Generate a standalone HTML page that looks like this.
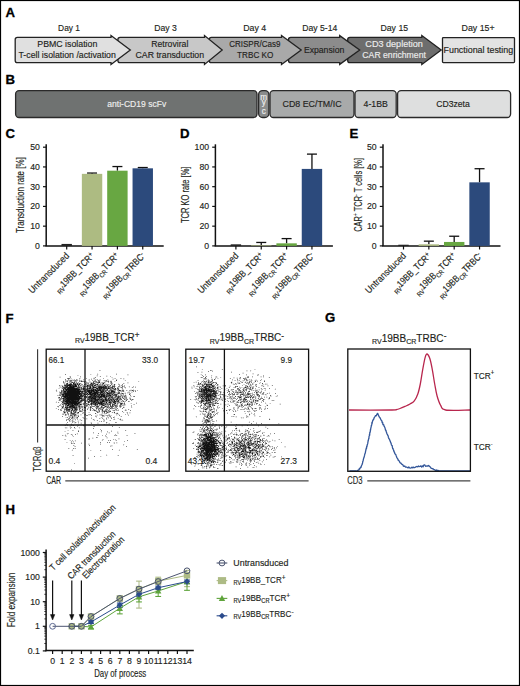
<!DOCTYPE html>
<html><head><meta charset="utf-8"><style>
html,body{margin:0;padding:0;background:#fff;}
svg{display:block;}
text{font-family:"Liberation Sans",sans-serif;}
</style></head><body>
<svg width="520" height="686" viewBox="0 0 520 686" font-family="Liberation Sans, sans-serif">
<rect width="520" height="686" fill="#fff"/>
<text x="5.6" y="17.0" font-size="13.2" font-weight="bold" fill="#000" stroke="#000" stroke-width="0.3">A</text>
<text transform="translate(0.00,30.70)" x="58.11" textLength="21.90" lengthAdjust="spacingAndGlyphs" text-anchor="start" fill="#231f20" font-weight="normal"  stroke="#231f20" stroke-width="0.15"><tspan font-size="8.8">Day 1</tspan></text>
<text transform="translate(0.00,30.70)" x="154.29" textLength="22.59" lengthAdjust="spacingAndGlyphs" text-anchor="start" fill="#231f20" font-weight="normal"  stroke="#231f20" stroke-width="0.15"><tspan font-size="8.8">Day 3</tspan></text>
<text transform="translate(0.00,30.70)" x="243.18" textLength="23.08" lengthAdjust="spacingAndGlyphs" text-anchor="start" fill="#231f20" font-weight="normal"  stroke="#231f20" stroke-width="0.15"><tspan font-size="8.8">Day 4</tspan></text>
<text transform="translate(0.00,30.70)" x="302.29" textLength="34.96" lengthAdjust="spacingAndGlyphs" text-anchor="start" fill="#231f20" font-weight="normal"  stroke="#231f20" stroke-width="0.15"><tspan font-size="8.8">Day 5-14</tspan></text>
<text transform="translate(0.00,30.70)" x="380.49" textLength="27.58" lengthAdjust="spacingAndGlyphs" text-anchor="start" fill="#231f20" font-weight="normal"  stroke="#231f20" stroke-width="0.15"><tspan font-size="8.8">Day 15</tspan></text>
<text transform="translate(0.00,30.70)" x="461.58" textLength="33.06" lengthAdjust="spacingAndGlyphs" text-anchor="start" fill="#231f20" font-weight="normal"  stroke="#231f20" stroke-width="0.15"><tspan font-size="8.8">Day 15+</tspan></text>
<rect x="442.5" y="37.6" width="72.0" height="25.0" fill="#e3e3e3" stroke="#222" stroke-width="1.3" rx="0.8"/>
<path d="M349.9,37.4 L421.8,37.4 L421.8,35.6 L441.2,50.0 L421.8,64.4 L421.8,62.7 L349.9,62.7 Q347.7,62.7 347.7,60.5 L347.7,39.6 Q347.7,37.4 349.9,37.4 Z" fill="#6d6d6d" stroke="#222" stroke-width="1.3" stroke-linejoin="miter"/>
<path d="M290.7,37.4 L339.7,37.4 L339.7,35.6 L359.7,50.0 L339.7,64.4 L339.7,62.7 L290.7,62.7 Q288.5,62.7 288.5,60.5 L288.5,39.6 Q288.5,37.4 290.7,37.4 Z" fill="#8c8c8c" stroke="#222" stroke-width="1.3" stroke-linejoin="miter"/>
<path d="M211.39999999999998,37.4 L281.5,37.4 L281.5,35.6 L301.2,50.0 L281.5,64.4 L281.5,62.7 L211.39999999999998,62.7 Q209.2,62.7 209.2,60.5 L209.2,39.6 Q209.2,37.4 211.39999999999998,37.4 Z" fill="#a9a9a9" stroke="#222" stroke-width="1.3" stroke-linejoin="miter"/>
<path d="M120.10000000000001,37.4 L204.5,37.4 L204.5,35.6 L222.2,50.0 L204.5,64.4 L204.5,62.7 L120.10000000000001,62.7 Q117.9,62.7 117.9,60.5 L117.9,39.6 Q117.9,37.4 120.10000000000001,37.4 Z" fill="#c8c8c8" stroke="#222" stroke-width="1.3" stroke-linejoin="miter"/>
<path d="M17.4,37.4 L111.0,37.4 L111.0,35.6 L130.3,50.0 L111.0,64.4 L111.0,62.7 L17.4,62.7 Q15.2,62.7 15.2,60.5 L15.2,39.6 Q15.2,37.4 17.4,37.4 Z" fill="#e0e0e0" stroke="#222" stroke-width="1.3" stroke-linejoin="miter"/>
<text transform="translate(0.00,47.40)" x="37.28" textLength="60.09" lengthAdjust="spacingAndGlyphs" text-anchor="start" fill="#231f20" font-weight="normal"  stroke="#231f20" stroke-width="0.15"><tspan font-size="8.8">PBMC isolation</tspan></text>
<text transform="translate(0.00,57.50)" x="18.50" textLength="97.36" lengthAdjust="spacingAndGlyphs" text-anchor="start" fill="#231f20" font-weight="normal"  stroke="#231f20" stroke-width="0.15"><tspan font-size="8.8">T-cell isolation /activation</tspan></text>
<text transform="translate(0.00,47.40)" x="151.19" textLength="37.19" lengthAdjust="spacingAndGlyphs" text-anchor="start" fill="#231f20" font-weight="normal"  stroke="#231f20" stroke-width="0.15"><tspan font-size="8.8">Retroviral</tspan></text>
<text transform="translate(0.00,57.50)" x="135.56" textLength="68.51" lengthAdjust="spacingAndGlyphs" text-anchor="start" fill="#231f20" font-weight="normal"  stroke="#231f20" stroke-width="0.15"><tspan font-size="8.8">CAR transduction</tspan></text>
<text transform="translate(0.00,47.40)" x="229.19" textLength="51.19" lengthAdjust="spacingAndGlyphs" text-anchor="start" fill="#231f20" font-weight="normal"  stroke="#231f20" stroke-width="0.15"><tspan font-size="8.8">CRISPR/Cas9</tspan></text>
<text transform="translate(0.00,57.50)" x="237.12" textLength="36.27" lengthAdjust="spacingAndGlyphs" text-anchor="start" fill="#231f20" font-weight="normal"  stroke="#231f20" stroke-width="0.15"><tspan font-size="8.8">TRBC KO</tspan></text>
<text transform="translate(0.00,52.80)" x="303.89" textLength="40.47" lengthAdjust="spacingAndGlyphs" text-anchor="start" fill="#231f20" font-weight="normal"  stroke="#231f20" stroke-width="0.15"><tspan font-size="8.8">Expansion</tspan></text>
<text transform="translate(0.00,47.40)" x="365.34" textLength="57.55" lengthAdjust="spacingAndGlyphs" text-anchor="start" fill="#ececec" font-weight="normal"  stroke="#ececec" stroke-width="0.15"><tspan font-size="8.8">CD3 depletion</tspan></text>
<text transform="translate(0.00,57.50)" x="362.36" textLength="63.50" lengthAdjust="spacingAndGlyphs" text-anchor="start" fill="#ececec" font-weight="normal"  stroke="#ececec" stroke-width="0.15"><tspan font-size="8.8">CAR enrichment</tspan></text>
<text transform="translate(0.00,52.80)" x="443.57" textLength="69.60" lengthAdjust="spacingAndGlyphs" text-anchor="start" fill="#231f20" font-weight="normal"  stroke="#231f20" stroke-width="0.15"><tspan font-size="8.8">Functional testing</tspan></text>
<text x="5.6" y="84.1" font-size="13.2" font-weight="bold" fill="#000" stroke="#000" stroke-width="0.3">B</text>
<rect x="15.6" y="90.6" width="241.4" height="26.900000000000006" rx="3.5" fill="#6f7271" stroke="#2a2a2a" stroke-width="1.3"/>
<rect x="258.6" y="90.6" width="10.299999999999955" height="26.900000000000006" rx="4" fill="#8a8c8c" stroke="#2a2a2a" stroke-width="1.3"/>
<rect x="270.0" y="90.6" width="84.0" height="26.900000000000006" rx="3.5" fill="#a8aaaa" stroke="#2a2a2a" stroke-width="1.3"/>
<rect x="355.0" y="90.6" width="41.19999999999999" height="26.900000000000006" rx="3.5" fill="#c6c8c8" stroke="#2a2a2a" stroke-width="1.3"/>
<rect x="397.6" y="90.6" width="113.0" height="26.900000000000006" rx="3.5" fill="#dedfdf" stroke="#2a2a2a" stroke-width="1.3"/>
<text transform="translate(0.00,107.30)" x="107.34" textLength="58.89" lengthAdjust="spacingAndGlyphs" text-anchor="start" fill="#eeeeee" font-weight="normal"  stroke="#eeeeee" stroke-width="0.15"><tspan font-size="8.8">anti-CD19 scFv</tspan></text>
<text transform="translate(0.00,106.70)" x="282.55" textLength="58.99" lengthAdjust="spacingAndGlyphs" text-anchor="start" fill="#231f20" font-weight="normal"  stroke="#231f20" stroke-width="0.15"><tspan font-size="8.8">CD8 EC/TM/IC</tspan></text>
<text transform="translate(0.00,106.70)" x="363.60" textLength="24.26" lengthAdjust="spacingAndGlyphs" text-anchor="start" fill="#231f20" font-weight="normal"  stroke="#231f20" stroke-width="0.15"><tspan font-size="8.8">4-1BB</tspan></text>
<text transform="translate(0.00,106.80)" x="436.16" textLength="33.64" lengthAdjust="spacingAndGlyphs" text-anchor="start" fill="#231f20" font-weight="normal"  stroke="#231f20" stroke-width="0.15"><tspan font-size="8.8">CD3zeta</tspan></text>
<text x="263.7" y="99.8" font-size="8.2" fill="#f0f0f0" text-anchor="middle" stroke="#f0f0f0" stroke-width="0.15">m</text>
<text x="263.7" y="105.3" font-size="8.2" fill="#f0f0f0" text-anchor="middle" stroke="#f0f0f0" stroke-width="0.15">y</text>
<text x="263.7" y="113.8" font-size="8.2" fill="#f0f0f0" text-anchor="middle" stroke="#f0f0f0" stroke-width="0.15">c</text>
<text x="5.6" y="137.8" font-size="13.2" font-weight="bold" fill="#000" stroke="#000" stroke-width="0.3">C</text>
<line x1="46.2" y1="144.3" x2="46.2" y2="245.9" stroke="#111" stroke-width="1.5"/>
<line x1="45.45" y1="245.9" x2="163.7" y2="245.9" stroke="#111" stroke-width="1.5"/>
<line x1="43.0" y1="245.90" x2="46.2" y2="245.90" stroke="#111" stroke-width="1.2"/>
<text x="39.90" y="248.95" font-size="8.7" fill="#231f20" text-anchor="end" stroke="#231f20" stroke-width="0.15">0</text>
<line x1="43.0" y1="226.16" x2="46.2" y2="226.16" stroke="#111" stroke-width="1.2"/>
<text x="39.90" y="229.21" font-size="8.7" fill="#231f20" text-anchor="end" stroke="#231f20" stroke-width="0.15">10</text>
<line x1="43.0" y1="206.42" x2="46.2" y2="206.42" stroke="#111" stroke-width="1.2"/>
<text x="39.90" y="209.47" font-size="8.7" fill="#231f20" text-anchor="end" stroke="#231f20" stroke-width="0.15">20</text>
<line x1="43.0" y1="186.68" x2="46.2" y2="186.68" stroke="#111" stroke-width="1.2"/>
<text x="39.90" y="189.73" font-size="8.7" fill="#231f20" text-anchor="end" stroke="#231f20" stroke-width="0.15">30</text>
<line x1="43.0" y1="166.94" x2="46.2" y2="166.94" stroke="#111" stroke-width="1.2"/>
<text x="39.90" y="169.99" font-size="8.7" fill="#231f20" text-anchor="end" stroke="#231f20" stroke-width="0.15">40</text>
<line x1="43.0" y1="147.20" x2="46.2" y2="147.20" stroke="#111" stroke-width="1.2"/>
<text x="39.90" y="150.25" font-size="8.7" fill="#231f20" text-anchor="end" stroke="#231f20" stroke-width="0.15">50</text>
<rect x="61.50" y="243.93" width="10.4" height="1.97" fill="#222"/>
<line x1="66.70" y1="245.9" x2="66.70" y2="249.5" stroke="#111" stroke-width="1.2"/>
<line x1="92.05" y1="173.85" x2="92.05" y2="173.06" stroke="#111" stroke-width="1.3"/>
<line x1="87.05" y1="173.06" x2="97.05" y2="173.06" stroke="#111" stroke-width="1.3"/>
<rect x="81.85" y="173.85" width="20.4" height="72.05" fill="#adbb82"/>
<line x1="92.05" y1="245.9" x2="92.05" y2="249.5" stroke="#111" stroke-width="1.2"/>
<line x1="117.40" y1="170.69" x2="117.40" y2="166.55" stroke="#111" stroke-width="1.3"/>
<line x1="112.40" y1="166.55" x2="122.40" y2="166.55" stroke="#111" stroke-width="1.3"/>
<rect x="107.20" y="170.69" width="20.4" height="75.21" fill="#68a742"/>
<line x1="117.40" y1="245.9" x2="117.40" y2="249.5" stroke="#111" stroke-width="1.2"/>
<line x1="142.75" y1="168.32" x2="142.75" y2="167.53" stroke="#111" stroke-width="1.3"/>
<line x1="137.75" y1="167.53" x2="147.75" y2="167.53" stroke="#111" stroke-width="1.3"/>
<rect x="132.55" y="168.32" width="20.4" height="77.58" fill="#2c4a7c"/>
<line x1="142.75" y1="245.9" x2="142.75" y2="249.5" stroke="#111" stroke-width="1.2"/>
<text transform="translate(69.80,256.50) rotate(-45)" textLength="53.14" lengthAdjust="spacingAndGlyphs" text-anchor="end" fill="#231f20" font-weight="normal"  stroke="#231f20" stroke-width="0.15"><tspan font-size="9.6">Untransduced</tspan></text>
<text transform="translate(95.05,256.50) rotate(-45)" textLength="51.68" lengthAdjust="spacingAndGlyphs" text-anchor="end" fill="#231f20" font-weight="normal"  stroke="#231f20" stroke-width="0.15"><tspan font-size="6.72" dy="2.59">RV</tspan><tspan font-size="9.6" dy="-2.59">19BB_TCR</tspan><tspan font-size="7.871999999999999" dy="-2.69">+</tspan></text>
<text transform="translate(119.90,256.50) rotate(-45)" textLength="54.95" lengthAdjust="spacingAndGlyphs" text-anchor="end" fill="#231f20" font-weight="normal"  stroke="#231f20" stroke-width="0.15"><tspan font-size="6.72" dy="2.59">RV</tspan><tspan font-size="9.6" dy="-2.59">19BB</tspan><tspan font-size="6.72" dy="2.59">CR</tspan><tspan font-size="9.6" dy="-2.59">TCR</tspan><tspan font-size="7.871999999999999" dy="-2.69">+</tspan></text>
<text transform="translate(145.95,256.50) rotate(-45)" textLength="58.88" lengthAdjust="spacingAndGlyphs" text-anchor="end" fill="#231f20" font-weight="normal"  stroke="#231f20" stroke-width="0.15"><tspan font-size="6.72" dy="2.59">RV</tspan><tspan font-size="9.6" dy="-2.59">19BB</tspan><tspan font-size="6.72" dy="2.59">CR</tspan><tspan font-size="9.6" dy="-2.59">TRBC</tspan><tspan font-size="7.871999999999999" dy="-2.69">-</tspan></text>
<text transform="translate(24.30,0.00) rotate(-90)" x="-233.08" textLength="75.85" lengthAdjust="spacingAndGlyphs" text-anchor="start" fill="#231f20" font-weight="normal"  stroke="#231f20" stroke-width="0.15"><tspan font-size="10.2">Transduction rate [%]</tspan></text>
<text x="180.0" y="137.8" font-size="13.2" font-weight="bold" fill="#000" stroke="#000" stroke-width="0.3">D</text>
<line x1="215.4" y1="144.3" x2="215.4" y2="245.9" stroke="#111" stroke-width="1.5"/>
<line x1="214.65" y1="245.9" x2="332.9" y2="245.9" stroke="#111" stroke-width="1.5"/>
<line x1="212.20000000000002" y1="245.90" x2="215.4" y2="245.90" stroke="#111" stroke-width="1.2"/>
<text x="209.10" y="248.95" font-size="8.7" fill="#231f20" text-anchor="end" stroke="#231f20" stroke-width="0.15">0</text>
<line x1="212.20000000000002" y1="226.16" x2="215.4" y2="226.16" stroke="#111" stroke-width="1.2"/>
<text x="209.10" y="229.21" font-size="8.7" fill="#231f20" text-anchor="end" stroke="#231f20" stroke-width="0.15">20</text>
<line x1="212.20000000000002" y1="206.42" x2="215.4" y2="206.42" stroke="#111" stroke-width="1.2"/>
<text x="209.10" y="209.47" font-size="8.7" fill="#231f20" text-anchor="end" stroke="#231f20" stroke-width="0.15">40</text>
<line x1="212.20000000000002" y1="186.68" x2="215.4" y2="186.68" stroke="#111" stroke-width="1.2"/>
<text x="209.10" y="189.73" font-size="8.7" fill="#231f20" text-anchor="end" stroke="#231f20" stroke-width="0.15">60</text>
<line x1="212.20000000000002" y1="166.94" x2="215.4" y2="166.94" stroke="#111" stroke-width="1.2"/>
<text x="209.10" y="169.99" font-size="8.7" fill="#231f20" text-anchor="end" stroke="#231f20" stroke-width="0.15">80</text>
<line x1="212.20000000000002" y1="147.20" x2="215.4" y2="147.20" stroke="#111" stroke-width="1.2"/>
<text x="209.10" y="150.25" font-size="8.7" fill="#231f20" text-anchor="end" stroke="#231f20" stroke-width="0.15">100</text>
<rect x="230.70" y="244.32" width="10.4" height="1.58" fill="#222"/>
<line x1="235.90" y1="245.9" x2="235.90" y2="249.5" stroke="#111" stroke-width="1.2"/>
<line x1="261.25" y1="245.31" x2="261.25" y2="242.45" stroke="#111" stroke-width="1.3"/>
<line x1="256.25" y1="242.45" x2="266.25" y2="242.45" stroke="#111" stroke-width="1.3"/>
<rect x="251.05" y="245.31" width="20.4" height="0.59" fill="#adbb82"/>
<line x1="261.25" y1="245.9" x2="261.25" y2="249.5" stroke="#111" stroke-width="1.2"/>
<line x1="286.60" y1="243.33" x2="286.60" y2="238.60" stroke="#111" stroke-width="1.3"/>
<line x1="281.60" y1="238.60" x2="291.60" y2="238.60" stroke="#111" stroke-width="1.3"/>
<rect x="276.40" y="243.33" width="20.4" height="2.57" fill="#68a742"/>
<line x1="286.60" y1="245.9" x2="286.60" y2="249.5" stroke="#111" stroke-width="1.2"/>
<line x1="311.95" y1="168.91" x2="311.95" y2="154.11" stroke="#111" stroke-width="1.3"/>
<line x1="306.95" y1="154.11" x2="316.95" y2="154.11" stroke="#111" stroke-width="1.3"/>
<rect x="301.75" y="168.91" width="20.4" height="76.99" fill="#2c4a7c"/>
<line x1="311.95" y1="245.9" x2="311.95" y2="249.5" stroke="#111" stroke-width="1.2"/>
<text transform="translate(239.00,256.50) rotate(-45)" textLength="53.14" lengthAdjust="spacingAndGlyphs" text-anchor="end" fill="#231f20" font-weight="normal"  stroke="#231f20" stroke-width="0.15"><tspan font-size="9.6">Untransduced</tspan></text>
<text transform="translate(264.25,256.50) rotate(-45)" textLength="51.68" lengthAdjust="spacingAndGlyphs" text-anchor="end" fill="#231f20" font-weight="normal"  stroke="#231f20" stroke-width="0.15"><tspan font-size="6.72" dy="2.59">RV</tspan><tspan font-size="9.6" dy="-2.59">19BB_TCR</tspan><tspan font-size="7.871999999999999" dy="-2.69">+</tspan></text>
<text transform="translate(289.10,256.50) rotate(-45)" textLength="54.95" lengthAdjust="spacingAndGlyphs" text-anchor="end" fill="#231f20" font-weight="normal"  stroke="#231f20" stroke-width="0.15"><tspan font-size="6.72" dy="2.59">RV</tspan><tspan font-size="9.6" dy="-2.59">19BB</tspan><tspan font-size="6.72" dy="2.59">CR</tspan><tspan font-size="9.6" dy="-2.59">TCR</tspan><tspan font-size="7.871999999999999" dy="-2.69">+</tspan></text>
<text transform="translate(315.15,256.50) rotate(-45)" textLength="58.88" lengthAdjust="spacingAndGlyphs" text-anchor="end" fill="#231f20" font-weight="normal"  stroke="#231f20" stroke-width="0.15"><tspan font-size="6.72" dy="2.59">RV</tspan><tspan font-size="9.6" dy="-2.59">19BB</tspan><tspan font-size="6.72" dy="2.59">CR</tspan><tspan font-size="9.6" dy="-2.59">TRBC</tspan><tspan font-size="7.871999999999999" dy="-2.69">-</tspan></text>
<text transform="translate(188.80,0.00) rotate(-90)" x="-222.97" textLength="56.40" lengthAdjust="spacingAndGlyphs" text-anchor="start" fill="#231f20" font-weight="normal"  stroke="#231f20" stroke-width="0.15"><tspan font-size="10.2">TCR KO rate [%]</tspan></text>
<text x="349.4" y="137.8" font-size="13.2" font-weight="bold" fill="#000" stroke="#000" stroke-width="0.3">E</text>
<line x1="383.0" y1="144.3" x2="383.0" y2="245.9" stroke="#111" stroke-width="1.5"/>
<line x1="382.25" y1="245.9" x2="500.5" y2="245.9" stroke="#111" stroke-width="1.5"/>
<line x1="379.8" y1="245.90" x2="383.0" y2="245.90" stroke="#111" stroke-width="1.2"/>
<text x="376.70" y="248.95" font-size="8.7" fill="#231f20" text-anchor="end" stroke="#231f20" stroke-width="0.15">0</text>
<line x1="379.8" y1="226.16" x2="383.0" y2="226.16" stroke="#111" stroke-width="1.2"/>
<text x="376.70" y="229.21" font-size="8.7" fill="#231f20" text-anchor="end" stroke="#231f20" stroke-width="0.15">10</text>
<line x1="379.8" y1="206.42" x2="383.0" y2="206.42" stroke="#111" stroke-width="1.2"/>
<text x="376.70" y="209.47" font-size="8.7" fill="#231f20" text-anchor="end" stroke="#231f20" stroke-width="0.15">20</text>
<line x1="379.8" y1="186.68" x2="383.0" y2="186.68" stroke="#111" stroke-width="1.2"/>
<text x="376.70" y="189.73" font-size="8.7" fill="#231f20" text-anchor="end" stroke="#231f20" stroke-width="0.15">30</text>
<line x1="379.8" y1="166.94" x2="383.0" y2="166.94" stroke="#111" stroke-width="1.2"/>
<text x="376.70" y="169.99" font-size="8.7" fill="#231f20" text-anchor="end" stroke="#231f20" stroke-width="0.15">40</text>
<line x1="379.8" y1="147.20" x2="383.0" y2="147.20" stroke="#111" stroke-width="1.2"/>
<text x="376.70" y="150.25" font-size="8.7" fill="#231f20" text-anchor="end" stroke="#231f20" stroke-width="0.15">50</text>
<rect x="398.30" y="244.72" width="10.4" height="1.18" fill="#222"/>
<line x1="403.50" y1="245.9" x2="403.50" y2="249.5" stroke="#111" stroke-width="1.2"/>
<line x1="428.85" y1="244.32" x2="428.85" y2="241.16" stroke="#111" stroke-width="1.3"/>
<line x1="423.85" y1="241.16" x2="433.85" y2="241.16" stroke="#111" stroke-width="1.3"/>
<rect x="418.65" y="244.32" width="20.4" height="1.58" fill="#adbb82"/>
<line x1="428.85" y1="245.9" x2="428.85" y2="249.5" stroke="#111" stroke-width="1.2"/>
<line x1="454.20" y1="241.95" x2="454.20" y2="236.23" stroke="#111" stroke-width="1.3"/>
<line x1="449.20" y1="236.23" x2="459.20" y2="236.23" stroke="#111" stroke-width="1.3"/>
<rect x="444.00" y="241.95" width="20.4" height="3.95" fill="#68a742"/>
<line x1="454.20" y1="245.9" x2="454.20" y2="249.5" stroke="#111" stroke-width="1.2"/>
<line x1="479.55" y1="182.34" x2="479.55" y2="168.72" stroke="#111" stroke-width="1.3"/>
<line x1="474.55" y1="168.72" x2="484.55" y2="168.72" stroke="#111" stroke-width="1.3"/>
<rect x="469.35" y="182.34" width="20.4" height="63.56" fill="#2c4a7c"/>
<line x1="479.55" y1="245.9" x2="479.55" y2="249.5" stroke="#111" stroke-width="1.2"/>
<text transform="translate(406.60,256.50) rotate(-45)" textLength="53.14" lengthAdjust="spacingAndGlyphs" text-anchor="end" fill="#231f20" font-weight="normal"  stroke="#231f20" stroke-width="0.15"><tspan font-size="9.6">Untransduced</tspan></text>
<text transform="translate(431.85,256.50) rotate(-45)" textLength="51.68" lengthAdjust="spacingAndGlyphs" text-anchor="end" fill="#231f20" font-weight="normal"  stroke="#231f20" stroke-width="0.15"><tspan font-size="6.72" dy="2.59">RV</tspan><tspan font-size="9.6" dy="-2.59">19BB_TCR</tspan><tspan font-size="7.871999999999999" dy="-2.69">+</tspan></text>
<text transform="translate(456.70,256.50) rotate(-45)" textLength="54.95" lengthAdjust="spacingAndGlyphs" text-anchor="end" fill="#231f20" font-weight="normal"  stroke="#231f20" stroke-width="0.15"><tspan font-size="6.72" dy="2.59">RV</tspan><tspan font-size="9.6" dy="-2.59">19BB</tspan><tspan font-size="6.72" dy="2.59">CR</tspan><tspan font-size="9.6" dy="-2.59">TCR</tspan><tspan font-size="7.871999999999999" dy="-2.69">+</tspan></text>
<text transform="translate(482.75,256.50) rotate(-45)" textLength="58.88" lengthAdjust="spacingAndGlyphs" text-anchor="end" fill="#231f20" font-weight="normal"  stroke="#231f20" stroke-width="0.15"><tspan font-size="6.72" dy="2.59">RV</tspan><tspan font-size="9.6" dy="-2.59">19BB</tspan><tspan font-size="6.72" dy="2.59">CR</tspan><tspan font-size="9.6" dy="-2.59">TRBC</tspan><tspan font-size="7.871999999999999" dy="-2.69">-</tspan></text>
<text transform="translate(362.40,0.00) rotate(-90)" x="-231.78" textLength="73.81" lengthAdjust="spacingAndGlyphs" text-anchor="start" fill="#231f20" font-weight="normal"  stroke="#231f20" stroke-width="0.15"><tspan font-size="10.2">CAR</tspan><tspan font-size="6.5" dy="-4.00">+</tspan><tspan font-size="10.2" dy="4.00"> TCR</tspan><tspan font-size="7.0" dy="-4.00">-</tspan><tspan font-size="10.2" dy="4.00"> T cells [%]</tspan></text>
<text x="5.6" y="322.5" font-size="13.2" font-weight="bold" fill="#000" stroke="#000" stroke-width="0.3">F</text>
<path d="M70.3 397.0h.7v.7h-.7zM70.5 392.6h.7v.7h-.7zM67.3 393.2h.7v.7h-.7zM76.5 396.5h.7v.7h-.7zM76.2 395.6h.7v.7h-.7zM73.3 395.3h.7v.7h-.7zM64.0 398.8h.7v.7h-.7zM73.8 396.9h.7v.7h-.7zM63.9 385.1h.7v.7h-.7zM67.5 391.8h.7v.7h-.7zM72.9 394.1h.7v.7h-.7zM73.8 390.9h.7v.7h-.7zM72.9 396.4h.7v.7h-.7zM68.5 403.4h.7v.7h-.7zM74.0 400.6h.7v.7h-.7zM68.7 390.4h.7v.7h-.7zM70.0 393.7h.7v.7h-.7zM74.3 395.6h.7v.7h-.7zM69.5 389.2h.7v.7h-.7zM69.2 400.8h.7v.7h-.7zM67.9 395.6h.7v.7h-.7zM73.4 386.4h.7v.7h-.7zM71.7 401.2h.7v.7h-.7zM62.4 392.6h.7v.7h-.7zM71.0 390.0h.7v.7h-.7zM73.7 394.0h.7v.7h-.7zM64.9 398.7h.7v.7h-.7zM74.5 399.3h.7v.7h-.7zM78.0 396.2h.7v.7h-.7zM72.0 387.4h.7v.7h-.7zM74.3 391.1h.7v.7h-.7zM69.5 387.6h.7v.7h-.7zM67.1 391.5h.7v.7h-.7zM77.3 383.5h.7v.7h-.7zM64.9 395.6h.7v.7h-.7zM78.0 397.4h.7v.7h-.7zM63.0 381.0h.7v.7h-.7zM73.1 390.4h.7v.7h-.7zM66.5 399.5h.7v.7h-.7zM76.5 395.1h.7v.7h-.7zM72.6 396.6h.7v.7h-.7zM78.7 397.6h.7v.7h-.7zM73.8 397.2h.7v.7h-.7zM64.4 401.1h.7v.7h-.7zM75.8 397.1h.7v.7h-.7zM62.6 390.9h.7v.7h-.7zM75.3 384.7h.7v.7h-.7zM70.7 399.7h.7v.7h-.7zM65.6 402.8h.7v.7h-.7zM74.0 393.5h.7v.7h-.7zM73.0 397.7h.7v.7h-.7zM72.0 400.4h.7v.7h-.7zM68.5 392.1h.7v.7h-.7zM76.2 394.4h.7v.7h-.7zM67.5 399.3h.7v.7h-.7zM78.1 391.9h.7v.7h-.7zM65.3 393.6h.7v.7h-.7zM70.8 392.7h.7v.7h-.7zM77.8 388.9h.7v.7h-.7zM77.2 387.6h.7v.7h-.7zM68.0 397.6h.7v.7h-.7zM76.6 398.9h.7v.7h-.7zM73.1 395.1h.7v.7h-.7zM72.2 397.3h.7v.7h-.7zM70.7 395.8h.7v.7h-.7zM74.1 394.3h.7v.7h-.7zM74.9 397.3h.7v.7h-.7zM80.5 396.0h.7v.7h-.7zM69.6 392.3h.7v.7h-.7zM71.4 399.2h.7v.7h-.7zM70.0 396.3h.7v.7h-.7zM79.8 380.7h.7v.7h-.7zM66.4 395.6h.7v.7h-.7zM73.3 395.6h.7v.7h-.7zM69.6 397.8h.7v.7h-.7zM72.8 391.5h.7v.7h-.7zM82.4 396.2h.7v.7h-.7zM69.0 393.8h.7v.7h-.7zM70.5 394.0h.7v.7h-.7zM59.2 391.7h.7v.7h-.7zM76.0 388.1h.7v.7h-.7zM71.2 399.4h.7v.7h-.7zM75.4 402.2h.7v.7h-.7zM63.8 392.4h.7v.7h-.7zM70.0 397.6h.7v.7h-.7zM76.4 380.1h.7v.7h-.7zM76.4 386.6h.7v.7h-.7zM74.6 386.4h.7v.7h-.7zM72.3 400.6h.7v.7h-.7zM70.8 395.3h.7v.7h-.7zM75.1 395.0h.7v.7h-.7zM71.1 402.4h.7v.7h-.7zM76.2 392.7h.7v.7h-.7zM83.9 388.2h.7v.7h-.7zM75.6 392.9h.7v.7h-.7zM72.1 398.0h.7v.7h-.7zM72.5 397.7h.7v.7h-.7zM64.6 386.3h.7v.7h-.7zM74.3 389.2h.7v.7h-.7zM66.9 386.5h.7v.7h-.7zM77.2 398.3h.7v.7h-.7zM78.1 389.3h.7v.7h-.7zM71.5 388.3h.7v.7h-.7zM74.9 402.7h.7v.7h-.7zM67.5 402.6h.7v.7h-.7zM75.9 393.4h.7v.7h-.7zM62.6 401.8h.7v.7h-.7zM71.1 391.1h.7v.7h-.7zM73.3 396.5h.7v.7h-.7zM78.2 388.9h.7v.7h-.7zM76.6 402.2h.7v.7h-.7zM78.0 393.3h.7v.7h-.7zM68.2 399.7h.7v.7h-.7zM72.0 395.0h.7v.7h-.7zM77.9 392.9h.7v.7h-.7zM61.2 392.2h.7v.7h-.7zM63.2 398.6h.7v.7h-.7zM72.9 391.1h.7v.7h-.7zM71.5 398.7h.7v.7h-.7zM71.9 401.3h.7v.7h-.7zM71.2 399.8h.7v.7h-.7zM78.2 402.8h.7v.7h-.7zM68.5 399.0h.7v.7h-.7zM63.1 388.6h.7v.7h-.7zM62.7 400.0h.7v.7h-.7zM66.0 394.2h.7v.7h-.7zM70.6 394.1h.7v.7h-.7zM68.8 395.5h.7v.7h-.7zM79.6 394.5h.7v.7h-.7zM73.9 399.6h.7v.7h-.7zM70.6 387.6h.7v.7h-.7zM69.0 400.0h.7v.7h-.7zM64.1 391.1h.7v.7h-.7zM76.0 398.5h.7v.7h-.7zM71.5 398.6h.7v.7h-.7zM72.2 388.1h.7v.7h-.7zM64.5 390.9h.7v.7h-.7zM75.7 391.3h.7v.7h-.7zM67.4 390.2h.7v.7h-.7zM64.6 393.7h.7v.7h-.7zM66.2 396.2h.7v.7h-.7zM60.9 396.0h.7v.7h-.7zM68.6 384.0h.7v.7h-.7zM74.8 392.8h.7v.7h-.7zM61.5 389.7h.7v.7h-.7zM72.8 391.9h.7v.7h-.7zM75.0 398.3h.7v.7h-.7zM74.5 396.0h.7v.7h-.7zM77.5 397.8h.7v.7h-.7zM73.5 383.3h.7v.7h-.7zM75.5 401.2h.7v.7h-.7zM70.2 391.8h.7v.7h-.7zM80.2 385.0h.7v.7h-.7zM73.6 407.1h.7v.7h-.7zM67.3 398.0h.7v.7h-.7zM80.0 393.7h.7v.7h-.7zM74.0 399.1h.7v.7h-.7zM67.4 393.8h.7v.7h-.7zM72.8 398.7h.7v.7h-.7zM71.3 393.3h.7v.7h-.7zM66.9 392.4h.7v.7h-.7zM75.5 394.8h.7v.7h-.7zM67.7 389.8h.7v.7h-.7zM83.5 400.3h.7v.7h-.7zM74.4 380.6h.7v.7h-.7zM74.3 396.8h.7v.7h-.7zM79.1 396.6h.7v.7h-.7zM71.2 397.1h.7v.7h-.7zM62.8 399.8h.7v.7h-.7zM73.0 390.6h.7v.7h-.7zM77.5 403.9h.7v.7h-.7zM65.2 390.8h.7v.7h-.7zM72.8 395.3h.7v.7h-.7zM69.7 389.1h.7v.7h-.7zM81.0 399.8h.7v.7h-.7zM66.1 387.2h.7v.7h-.7zM79.2 399.5h.7v.7h-.7zM79.7 398.6h.7v.7h-.7zM67.6 395.7h.7v.7h-.7zM61.8 390.3h.7v.7h-.7zM71.2 397.1h.7v.7h-.7zM68.2 393.6h.7v.7h-.7zM73.6 396.3h.7v.7h-.7zM74.4 395.4h.7v.7h-.7zM70.0 398.5h.7v.7h-.7zM71.7 389.9h.7v.7h-.7zM68.7 394.3h.7v.7h-.7zM71.0 395.1h.7v.7h-.7zM71.5 395.2h.7v.7h-.7zM70.9 387.6h.7v.7h-.7zM73.4 399.9h.7v.7h-.7zM73.5 393.3h.7v.7h-.7zM73.5 389.2h.7v.7h-.7zM63.0 394.6h.7v.7h-.7zM67.3 398.2h.7v.7h-.7zM66.6 380.4h.7v.7h-.7zM66.8 402.7h.7v.7h-.7zM69.8 387.0h.7v.7h-.7zM68.1 397.1h.7v.7h-.7zM73.7 395.2h.7v.7h-.7zM78.2 398.0h.7v.7h-.7zM71.4 397.5h.7v.7h-.7zM78.9 399.4h.7v.7h-.7zM76.1 388.6h.7v.7h-.7zM70.8 398.2h.7v.7h-.7zM70.2 400.0h.7v.7h-.7zM74.2 399.1h.7v.7h-.7zM70.5 407.8h.7v.7h-.7zM77.1 393.2h.7v.7h-.7zM71.9 408.1h.7v.7h-.7zM70.0 398.9h.7v.7h-.7zM75.9 394.3h.7v.7h-.7zM66.2 395.3h.7v.7h-.7zM73.1 400.3h.7v.7h-.7zM75.0 394.4h.7v.7h-.7zM75.3 397.2h.7v.7h-.7zM72.4 394.6h.7v.7h-.7zM70.4 397.9h.7v.7h-.7zM66.8 391.0h.7v.7h-.7zM71.5 386.5h.7v.7h-.7zM69.5 383.7h.7v.7h-.7zM68.4 397.3h.7v.7h-.7zM74.0 394.0h.7v.7h-.7zM70.5 386.8h.7v.7h-.7zM79.7 397.0h.7v.7h-.7zM76.4 389.6h.7v.7h-.7zM70.7 384.7h.7v.7h-.7zM75.0 399.3h.7v.7h-.7zM63.0 394.0h.7v.7h-.7zM74.3 385.0h.7v.7h-.7zM63.3 388.7h.7v.7h-.7zM68.7 386.9h.7v.7h-.7zM71.6 395.6h.7v.7h-.7zM74.4 398.0h.7v.7h-.7zM78.3 400.5h.7v.7h-.7zM65.6 391.6h.7v.7h-.7zM66.7 388.6h.7v.7h-.7zM71.1 394.3h.7v.7h-.7zM73.7 385.9h.7v.7h-.7zM65.9 394.2h.7v.7h-.7zM70.6 392.7h.7v.7h-.7zM71.2 390.3h.7v.7h-.7zM74.7 396.2h.7v.7h-.7zM71.1 390.7h.7v.7h-.7zM70.7 379.9h.7v.7h-.7zM67.1 394.5h.7v.7h-.7zM64.7 395.4h.7v.7h-.7zM72.2 387.0h.7v.7h-.7zM70.4 392.6h.7v.7h-.7zM73.6 397.5h.7v.7h-.7zM71.3 389.8h.7v.7h-.7zM70.9 394.0h.7v.7h-.7zM74.8 395.9h.7v.7h-.7zM68.2 387.1h.7v.7h-.7zM69.8 390.4h.7v.7h-.7zM66.5 393.7h.7v.7h-.7zM69.3 394.9h.7v.7h-.7zM73.9 392.1h.7v.7h-.7zM82.0 392.6h.7v.7h-.7zM76.5 394.9h.7v.7h-.7zM76.5 381.7h.7v.7h-.7zM68.1 395.6h.7v.7h-.7zM74.2 406.7h.7v.7h-.7zM73.0 401.1h.7v.7h-.7zM74.9 399.3h.7v.7h-.7zM73.8 393.5h.7v.7h-.7zM73.8 388.6h.7v.7h-.7zM76.8 388.9h.7v.7h-.7zM72.6 405.5h.7v.7h-.7zM70.5 394.4h.7v.7h-.7zM76.7 394.4h.7v.7h-.7zM67.9 395.7h.7v.7h-.7zM74.1 398.1h.7v.7h-.7zM68.0 403.6h.7v.7h-.7zM79.0 394.4h.7v.7h-.7zM72.7 392.0h.7v.7h-.7zM77.9 390.6h.7v.7h-.7zM74.5 391.8h.7v.7h-.7zM68.4 398.1h.7v.7h-.7zM77.5 394.2h.7v.7h-.7zM68.5 398.6h.7v.7h-.7zM71.3 395.9h.7v.7h-.7zM78.4 400.3h.7v.7h-.7zM69.2 406.4h.7v.7h-.7zM71.5 398.5h.7v.7h-.7zM68.6 394.1h.7v.7h-.7zM63.6 403.8h.7v.7h-.7zM77.6 387.9h.7v.7h-.7zM64.7 385.7h.7v.7h-.7zM76.8 391.9h.7v.7h-.7zM71.2 392.6h.7v.7h-.7zM71.0 388.5h.7v.7h-.7zM71.6 386.7h.7v.7h-.7zM71.2 395.9h.7v.7h-.7zM73.6 393.1h.7v.7h-.7zM67.4 395.1h.7v.7h-.7zM69.3 402.6h.7v.7h-.7zM75.0 393.7h.7v.7h-.7zM69.4 390.6h.7v.7h-.7zM67.3 392.4h.7v.7h-.7zM72.8 397.0h.7v.7h-.7zM74.1 405.4h.7v.7h-.7zM68.3 394.4h.7v.7h-.7zM84.1 384.4h.7v.7h-.7zM69.2 395.2h.7v.7h-.7zM72.2 396.5h.7v.7h-.7zM70.4 396.2h.7v.7h-.7zM71.7 398.4h.7v.7h-.7zM63.0 389.6h.7v.7h-.7zM71.5 388.8h.7v.7h-.7zM66.8 397.6h.7v.7h-.7zM68.6 397.7h.7v.7h-.7zM74.9 395.9h.7v.7h-.7zM73.8 393.7h.7v.7h-.7zM65.2 394.1h.7v.7h-.7zM73.5 391.5h.7v.7h-.7zM71.1 398.3h.7v.7h-.7zM67.5 397.7h.7v.7h-.7zM79.9 391.4h.7v.7h-.7zM72.2 393.5h.7v.7h-.7zM78.4 396.0h.7v.7h-.7zM75.5 390.6h.7v.7h-.7zM71.4 394.2h.7v.7h-.7zM63.5 401.9h.7v.7h-.7zM75.5 385.0h.7v.7h-.7zM74.8 393.6h.7v.7h-.7zM73.5 396.2h.7v.7h-.7zM64.8 393.2h.7v.7h-.7zM78.2 391.3h.7v.7h-.7zM66.9 387.1h.7v.7h-.7zM66.0 396.1h.7v.7h-.7zM79.1 396.6h.7v.7h-.7zM72.6 406.1h.7v.7h-.7zM69.2 390.7h.7v.7h-.7zM73.9 397.2h.7v.7h-.7zM66.9 388.1h.7v.7h-.7zM72.8 395.6h.7v.7h-.7zM65.6 393.2h.7v.7h-.7zM69.1 396.7h.7v.7h-.7zM71.0 393.8h.7v.7h-.7zM69.9 399.9h.7v.7h-.7zM77.8 392.4h.7v.7h-.7zM75.3 390.3h.7v.7h-.7zM71.8 398.3h.7v.7h-.7zM78.3 392.3h.7v.7h-.7zM71.2 395.3h.7v.7h-.7zM64.8 394.4h.7v.7h-.7zM68.5 396.3h.7v.7h-.7zM66.4 383.8h.7v.7h-.7zM71.7 395.7h.7v.7h-.7zM69.0 399.0h.7v.7h-.7zM70.3 391.1h.7v.7h-.7zM73.6 386.0h.7v.7h-.7zM68.5 394.2h.7v.7h-.7zM75.3 393.4h.7v.7h-.7zM72.9 390.8h.7v.7h-.7zM72.9 403.1h.7v.7h-.7zM68.4 406.8h.7v.7h-.7zM68.6 394.4h.7v.7h-.7zM72.3 399.7h.7v.7h-.7zM65.9 383.2h.7v.7h-.7zM74.2 398.5h.7v.7h-.7zM74.3 408.2h.7v.7h-.7zM72.4 395.6h.7v.7h-.7zM75.7 396.3h.7v.7h-.7zM79.0 387.7h.7v.7h-.7zM69.8 376.0h.7v.7h-.7zM75.2 392.3h.7v.7h-.7zM75.7 405.7h.7v.7h-.7zM71.5 393.0h.7v.7h-.7zM69.3 389.9h.7v.7h-.7zM68.7 397.7h.7v.7h-.7zM71.7 394.7h.7v.7h-.7zM70.7 399.1h.7v.7h-.7zM73.7 393.5h.7v.7h-.7zM74.5 393.5h.7v.7h-.7zM66.3 402.0h.7v.7h-.7zM73.6 389.2h.7v.7h-.7zM76.4 396.1h.7v.7h-.7zM64.5 402.8h.7v.7h-.7zM73.0 399.0h.7v.7h-.7zM72.4 393.5h.7v.7h-.7zM64.5 399.4h.7v.7h-.7zM71.6 392.8h.7v.7h-.7zM73.1 394.7h.7v.7h-.7zM74.5 392.3h.7v.7h-.7zM71.3 383.0h.7v.7h-.7zM69.6 397.9h.7v.7h-.7zM77.5 392.4h.7v.7h-.7zM71.0 402.7h.7v.7h-.7zM70.0 398.2h.7v.7h-.7zM79.1 394.5h.7v.7h-.7zM77.0 390.5h.7v.7h-.7zM72.4 393.9h.7v.7h-.7zM72.0 400.3h.7v.7h-.7zM82.3 390.8h.7v.7h-.7zM68.9 396.9h.7v.7h-.7zM66.8 396.9h.7v.7h-.7zM74.1 392.8h.7v.7h-.7zM73.9 386.1h.7v.7h-.7zM74.9 386.1h.7v.7h-.7zM68.4 391.4h.7v.7h-.7zM69.7 398.9h.7v.7h-.7zM71.9 392.2h.7v.7h-.7zM73.9 402.7h.7v.7h-.7zM71.5 396.2h.7v.7h-.7zM77.1 395.7h.7v.7h-.7zM65.7 407.5h.7v.7h-.7zM81.4 383.8h.7v.7h-.7zM71.3 396.5h.7v.7h-.7zM75.8 397.8h.7v.7h-.7zM70.3 388.7h.7v.7h-.7zM72.0 399.8h.7v.7h-.7zM66.6 388.9h.7v.7h-.7zM71.4 384.0h.7v.7h-.7zM70.3 392.0h.7v.7h-.7zM73.5 390.6h.7v.7h-.7zM67.5 392.2h.7v.7h-.7zM71.3 390.8h.7v.7h-.7zM71.6 398.3h.7v.7h-.7zM76.8 403.3h.7v.7h-.7zM68.0 392.1h.7v.7h-.7zM60.3 404.4h.7v.7h-.7zM68.2 394.1h.7v.7h-.7zM73.9 387.1h.7v.7h-.7zM73.6 394.2h.7v.7h-.7zM63.3 395.8h.7v.7h-.7zM76.9 384.4h.7v.7h-.7zM75.1 395.4h.7v.7h-.7zM73.6 396.6h.7v.7h-.7zM77.4 393.1h.7v.7h-.7zM75.4 392.1h.7v.7h-.7zM74.8 390.0h.7v.7h-.7zM71.0 403.5h.7v.7h-.7zM73.5 393.5h.7v.7h-.7zM66.3 390.1h.7v.7h-.7zM72.4 399.3h.7v.7h-.7zM73.4 397.1h.7v.7h-.7zM71.3 401.5h.7v.7h-.7zM69.7 391.4h.7v.7h-.7zM75.5 394.6h.7v.7h-.7zM70.2 391.2h.7v.7h-.7zM70.3 397.6h.7v.7h-.7zM73.1 387.9h.7v.7h-.7zM73.4 395.2h.7v.7h-.7zM67.0 398.4h.7v.7h-.7zM70.2 392.5h.7v.7h-.7zM75.1 401.3h.7v.7h-.7zM68.4 396.6h.7v.7h-.7zM67.6 406.6h.7v.7h-.7zM69.3 400.6h.7v.7h-.7zM68.6 398.6h.7v.7h-.7zM81.5 380.8h.7v.7h-.7zM69.5 397.0h.7v.7h-.7zM71.1 390.8h.7v.7h-.7zM81.2 394.7h.7v.7h-.7zM64.1 398.8h.7v.7h-.7zM63.8 400.4h.7v.7h-.7zM68.9 395.1h.7v.7h-.7zM77.2 394.9h.7v.7h-.7zM65.2 385.3h.7v.7h-.7zM76.8 398.2h.7v.7h-.7zM67.8 398.9h.7v.7h-.7zM73.7 397.7h.7v.7h-.7zM61.3 392.7h.7v.7h-.7zM75.6 398.2h.7v.7h-.7zM75.5 381.3h.7v.7h-.7zM72.3 396.9h.7v.7h-.7zM83.0 389.2h.7v.7h-.7zM70.0 394.5h.7v.7h-.7zM75.5 392.0h.7v.7h-.7zM76.7 390.1h.7v.7h-.7zM72.7 391.5h.7v.7h-.7zM72.2 390.6h.7v.7h-.7zM64.3 400.1h.7v.7h-.7zM72.9 391.3h.7v.7h-.7zM72.4 399.5h.7v.7h-.7zM67.1 393.7h.7v.7h-.7zM73.9 397.1h.7v.7h-.7zM70.0 383.1h.7v.7h-.7zM77.1 396.0h.7v.7h-.7zM71.6 392.8h.7v.7h-.7zM72.7 392.0h.7v.7h-.7zM66.9 390.4h.7v.7h-.7zM68.8 391.1h.7v.7h-.7zM66.3 397.7h.7v.7h-.7zM65.6 397.8h.7v.7h-.7zM66.9 396.2h.7v.7h-.7zM77.7 395.4h.7v.7h-.7zM68.2 394.6h.7v.7h-.7zM72.2 385.1h.7v.7h-.7zM68.8 395.2h.7v.7h-.7zM69.4 394.7h.7v.7h-.7zM74.8 398.4h.7v.7h-.7zM75.6 397.4h.7v.7h-.7zM70.2 394.2h.7v.7h-.7zM70.3 392.6h.7v.7h-.7zM70.7 385.2h.7v.7h-.7zM70.0 394.2h.7v.7h-.7zM67.1 394.2h.7v.7h-.7zM73.8 393.4h.7v.7h-.7zM80.8 380.5h.7v.7h-.7zM70.6 384.6h.7v.7h-.7zM75.9 408.4h.7v.7h-.7zM60.2 395.0h.7v.7h-.7zM73.8 392.7h.7v.7h-.7zM74.0 382.4h.7v.7h-.7zM75.3 396.3h.7v.7h-.7zM71.6 391.2h.7v.7h-.7zM74.4 391.7h.7v.7h-.7zM72.5 391.6h.7v.7h-.7zM61.4 394.1h.7v.7h-.7zM72.4 398.3h.7v.7h-.7zM67.6 394.1h.7v.7h-.7zM74.3 395.1h.7v.7h-.7zM77.1 404.9h.7v.7h-.7zM67.4 384.1h.7v.7h-.7zM75.4 402.4h.7v.7h-.7zM75.7 398.6h.7v.7h-.7zM68.7 390.5h.7v.7h-.7zM75.5 389.5h.7v.7h-.7zM63.3 389.0h.7v.7h-.7zM82.7 404.5h.7v.7h-.7zM68.4 390.4h.7v.7h-.7zM72.5 390.3h.7v.7h-.7zM77.4 393.9h.7v.7h-.7zM66.6 401.2h.7v.7h-.7zM68.9 395.5h.7v.7h-.7zM71.4 392.6h.7v.7h-.7zM73.0 390.6h.7v.7h-.7zM63.2 382.6h.7v.7h-.7zM65.8 390.3h.7v.7h-.7zM71.4 394.6h.7v.7h-.7zM74.0 394.9h.7v.7h-.7zM67.9 390.5h.7v.7h-.7zM62.0 393.4h.7v.7h-.7zM73.7 397.1h.7v.7h-.7zM71.0 393.4h.7v.7h-.7zM75.7 394.4h.7v.7h-.7zM74.8 397.4h.7v.7h-.7zM72.5 401.2h.7v.7h-.7zM68.9 392.4h.7v.7h-.7zM67.9 390.1h.7v.7h-.7zM78.5 403.6h.7v.7h-.7zM71.6 397.3h.7v.7h-.7zM76.8 398.6h.7v.7h-.7zM76.9 387.6h.7v.7h-.7zM68.6 396.7h.7v.7h-.7zM78.0 394.9h.7v.7h-.7zM67.6 392.4h.7v.7h-.7zM68.5 389.8h.7v.7h-.7zM78.3 391.0h.7v.7h-.7zM71.6 405.8h.7v.7h-.7zM76.8 396.1h.7v.7h-.7zM68.7 396.5h.7v.7h-.7zM78.8 397.6h.7v.7h-.7zM77.2 394.8h.7v.7h-.7zM73.8 393.2h.7v.7h-.7zM73.4 401.2h.7v.7h-.7zM65.1 394.0h.7v.7h-.7zM72.6 391.3h.7v.7h-.7zM70.1 398.5h.7v.7h-.7zM80.5 397.6h.7v.7h-.7zM73.0 386.1h.7v.7h-.7zM80.2 394.7h.7v.7h-.7zM71.3 388.4h.7v.7h-.7zM71.2 388.5h.7v.7h-.7zM71.8 396.8h.7v.7h-.7zM71.6 395.8h.7v.7h-.7zM67.7 401.9h.7v.7h-.7zM68.6 384.7h.7v.7h-.7zM70.7 390.3h.7v.7h-.7zM67.0 392.4h.7v.7h-.7zM72.8 388.0h.7v.7h-.7zM70.9 401.9h.7v.7h-.7zM74.6 393.5h.7v.7h-.7zM72.1 393.7h.7v.7h-.7zM71.3 398.2h.7v.7h-.7zM71.1 381.6h.7v.7h-.7zM71.4 389.6h.7v.7h-.7zM74.4 391.1h.7v.7h-.7zM72.2 405.8h.7v.7h-.7zM66.8 388.3h.7v.7h-.7zM65.1 381.6h.7v.7h-.7zM63.0 396.2h.7v.7h-.7zM68.6 384.4h.7v.7h-.7zM64.8 397.6h.7v.7h-.7zM68.0 392.4h.7v.7h-.7zM73.0 401.5h.7v.7h-.7zM80.2 399.8h.7v.7h-.7zM72.1 395.3h.7v.7h-.7zM79.6 401.9h.7v.7h-.7zM70.1 396.7h.7v.7h-.7zM72.8 394.6h.7v.7h-.7zM69.2 387.3h.7v.7h-.7zM69.1 386.1h.7v.7h-.7zM77.0 397.1h.7v.7h-.7zM66.1 401.7h.7v.7h-.7zM75.5 384.2h.7v.7h-.7zM79.8 398.6h.7v.7h-.7zM80.8 387.8h.7v.7h-.7zM73.9 396.5h.7v.7h-.7zM72.4 395.2h.7v.7h-.7zM76.2 386.4h.7v.7h-.7zM65.9 386.9h.7v.7h-.7zM69.0 391.1h.7v.7h-.7zM73.2 395.7h.7v.7h-.7zM71.6 390.7h.7v.7h-.7zM69.5 399.3h.7v.7h-.7zM74.9 394.8h.7v.7h-.7zM70.0 402.5h.7v.7h-.7zM68.8 397.7h.7v.7h-.7zM76.7 392.9h.7v.7h-.7zM75.2 388.4h.7v.7h-.7zM76.1 395.4h.7v.7h-.7zM64.4 397.8h.7v.7h-.7zM67.5 401.1h.7v.7h-.7zM68.4 393.4h.7v.7h-.7zM72.8 392.5h.7v.7h-.7zM72.7 391.4h.7v.7h-.7zM74.5 394.3h.7v.7h-.7zM72.4 379.7h.7v.7h-.7zM76.7 394.5h.7v.7h-.7zM63.5 394.8h.7v.7h-.7zM73.6 400.0h.7v.7h-.7zM66.6 402.5h.7v.7h-.7zM70.8 407.0h.7v.7h-.7zM70.8 397.9h.7v.7h-.7zM69.9 388.4h.7v.7h-.7zM76.4 399.1h.7v.7h-.7zM78.4 398.8h.7v.7h-.7zM68.9 385.5h.7v.7h-.7zM68.6 390.7h.7v.7h-.7zM67.8 397.4h.7v.7h-.7zM73.0 392.9h.7v.7h-.7zM72.3 393.5h.7v.7h-.7zM72.5 398.3h.7v.7h-.7zM75.8 390.7h.7v.7h-.7zM64.7 401.9h.7v.7h-.7zM72.0 400.2h.7v.7h-.7zM64.1 392.6h.7v.7h-.7zM71.6 386.7h.7v.7h-.7zM69.2 398.1h.7v.7h-.7zM76.4 402.7h.7v.7h-.7zM67.6 386.9h.7v.7h-.7zM73.8 399.3h.7v.7h-.7zM72.4 387.4h.7v.7h-.7zM75.0 398.5h.7v.7h-.7zM74.0 391.7h.7v.7h-.7zM72.9 398.5h.7v.7h-.7zM69.0 384.5h.7v.7h-.7zM73.0 396.8h.7v.7h-.7zM71.6 399.0h.7v.7h-.7zM68.9 393.9h.7v.7h-.7zM70.1 397.3h.7v.7h-.7zM78.7 393.0h.7v.7h-.7zM80.7 402.4h.7v.7h-.7zM75.1 397.4h.7v.7h-.7zM79.5 393.3h.7v.7h-.7zM71.0 388.7h.7v.7h-.7zM73.6 401.4h.7v.7h-.7zM73.9 396.5h.7v.7h-.7zM70.6 395.2h.7v.7h-.7zM65.1 399.9h.7v.7h-.7zM69.7 388.4h.7v.7h-.7zM68.1 389.9h.7v.7h-.7zM75.3 399.9h.7v.7h-.7zM65.4 399.2h.7v.7h-.7zM75.5 391.2h.7v.7h-.7zM64.8 390.3h.7v.7h-.7zM68.6 396.1h.7v.7h-.7zM69.9 383.6h.7v.7h-.7zM72.6 386.2h.7v.7h-.7zM75.6 387.9h.7v.7h-.7zM68.4 389.8h.7v.7h-.7zM69.1 401.2h.7v.7h-.7zM75.3 397.5h.7v.7h-.7zM72.9 386.1h.7v.7h-.7zM69.2 391.4h.7v.7h-.7zM67.1 397.0h.7v.7h-.7zM68.2 390.5h.7v.7h-.7zM66.8 383.4h.7v.7h-.7zM74.2 401.4h.7v.7h-.7zM72.3 389.1h.7v.7h-.7zM59.3 395.2h.7v.7h-.7zM77.0 395.9h.7v.7h-.7zM75.7 402.1h.7v.7h-.7zM76.6 392.0h.7v.7h-.7zM76.2 398.4h.7v.7h-.7zM64.6 392.2h.7v.7h-.7zM65.1 393.7h.7v.7h-.7zM74.1 388.6h.7v.7h-.7zM62.2 401.2h.7v.7h-.7zM73.2 402.1h.7v.7h-.7zM65.5 399.9h.7v.7h-.7zM80.8 404.9h.7v.7h-.7zM70.6 395.7h.7v.7h-.7zM70.8 399.6h.7v.7h-.7zM76.2 394.8h.7v.7h-.7zM65.4 398.2h.7v.7h-.7zM69.4 397.6h.7v.7h-.7zM72.7 402.9h.7v.7h-.7zM76.6 391.9h.7v.7h-.7zM73.1 403.6h.7v.7h-.7zM69.1 396.6h.7v.7h-.7zM76.9 401.0h.7v.7h-.7zM73.8 387.3h.7v.7h-.7zM65.8 395.6h.7v.7h-.7zM73.2 407.8h.7v.7h-.7zM67.6 400.3h.7v.7h-.7zM75.0 385.4h.7v.7h-.7zM67.8 395.2h.7v.7h-.7zM69.3 393.5h.7v.7h-.7zM73.6 390.0h.7v.7h-.7zM73.6 390.9h.7v.7h-.7zM69.0 397.1h.7v.7h-.7zM68.9 395.8h.7v.7h-.7zM78.7 394.4h.7v.7h-.7zM70.8 398.2h.7v.7h-.7zM69.9 400.0h.7v.7h-.7zM65.7 397.6h.7v.7h-.7zM69.2 390.1h.7v.7h-.7zM79.5 389.8h.7v.7h-.7zM79.4 397.8h.7v.7h-.7zM78.0 389.1h.7v.7h-.7zM76.9 402.0h.7v.7h-.7zM71.0 393.6h.7v.7h-.7zM82.6 395.2h.7v.7h-.7zM69.6 391.0h.7v.7h-.7zM73.5 396.1h.7v.7h-.7zM72.3 403.4h.7v.7h-.7zM70.0 396.8h.7v.7h-.7zM78.1 389.0h.7v.7h-.7zM76.2 404.0h.7v.7h-.7zM65.4 388.5h.7v.7h-.7zM66.8 384.5h.7v.7h-.7zM73.5 384.5h.7v.7h-.7zM73.7 402.0h.7v.7h-.7zM64.2 392.6h.7v.7h-.7zM62.9 398.4h.7v.7h-.7zM68.2 392.9h.7v.7h-.7zM71.7 397.2h.7v.7h-.7zM69.9 394.4h.7v.7h-.7zM69.0 394.9h.7v.7h-.7zM66.2 394.6h.7v.7h-.7zM62.8 391.7h.7v.7h-.7zM80.1 394.7h.7v.7h-.7zM65.8 395.7h.7v.7h-.7zM67.1 385.5h.7v.7h-.7zM68.2 398.2h.7v.7h-.7zM73.2 393.8h.7v.7h-.7zM67.3 388.6h.7v.7h-.7zM77.6 395.6h.7v.7h-.7zM67.2 383.1h.7v.7h-.7zM65.3 407.4h.7v.7h-.7zM66.3 393.9h.7v.7h-.7zM72.4 393.5h.7v.7h-.7zM70.2 387.0h.7v.7h-.7zM66.8 403.3h.7v.7h-.7zM68.1 398.8h.7v.7h-.7zM63.9 392.8h.7v.7h-.7zM72.7 399.8h.7v.7h-.7zM66.4 397.5h.7v.7h-.7zM73.2 390.4h.7v.7h-.7zM73.6 389.5h.7v.7h-.7zM67.9 394.2h.7v.7h-.7zM59.3 393.7h.7v.7h-.7zM67.0 386.5h.7v.7h-.7zM69.6 398.3h.7v.7h-.7zM69.7 401.0h.7v.7h-.7zM66.3 387.3h.7v.7h-.7zM78.5 396.4h.7v.7h-.7zM75.8 389.9h.7v.7h-.7zM75.1 395.7h.7v.7h-.7zM74.4 394.4h.7v.7h-.7zM76.9 390.9h.7v.7h-.7zM67.2 386.5h.7v.7h-.7zM76.7 390.4h.7v.7h-.7zM66.8 389.3h.7v.7h-.7zM69.5 387.6h.7v.7h-.7zM70.2 391.0h.7v.7h-.7zM69.0 389.2h.7v.7h-.7zM71.7 391.9h.7v.7h-.7zM72.0 395.6h.7v.7h-.7zM73.0 382.7h.7v.7h-.7zM69.1 390.1h.7v.7h-.7zM75.0 385.9h.7v.7h-.7zM68.3 392.7h.7v.7h-.7zM70.0 399.6h.7v.7h-.7zM69.5 399.4h.7v.7h-.7zM64.9 384.7h.7v.7h-.7zM77.0 396.6h.7v.7h-.7zM73.7 395.0h.7v.7h-.7zM73.7 387.9h.7v.7h-.7zM75.8 391.5h.7v.7h-.7zM75.9 394.8h.7v.7h-.7zM62.6 387.5h.7v.7h-.7zM76.6 393.6h.7v.7h-.7zM69.7 395.6h.7v.7h-.7zM69.6 391.4h.7v.7h-.7zM72.0 395.1h.7v.7h-.7zM78.3 394.5h.7v.7h-.7zM80.0 403.9h.7v.7h-.7zM79.2 399.9h.7v.7h-.7zM72.1 395.0h.7v.7h-.7zM70.9 390.4h.7v.7h-.7zM71.2 390.9h.7v.7h-.7zM78.9 397.1h.7v.7h-.7zM69.5 384.1h.7v.7h-.7zM71.3 392.1h.7v.7h-.7zM66.6 388.3h.7v.7h-.7zM61.4 397.3h.7v.7h-.7zM71.2 408.0h.7v.7h-.7zM71.4 393.5h.7v.7h-.7zM78.0 395.0h.7v.7h-.7zM72.3 392.3h.7v.7h-.7zM68.8 402.2h.7v.7h-.7zM76.0 403.4h.7v.7h-.7zM69.9 394.5h.7v.7h-.7zM67.5 399.4h.7v.7h-.7zM65.2 397.3h.7v.7h-.7zM76.4 401.8h.7v.7h-.7zM67.3 400.1h.7v.7h-.7zM68.3 390.3h.7v.7h-.7zM65.5 400.4h.7v.7h-.7zM78.9 391.1h.7v.7h-.7zM68.1 392.5h.7v.7h-.7zM82.8 399.6h.7v.7h-.7zM69.1 384.8h.7v.7h-.7zM68.5 400.6h.7v.7h-.7zM79.9 392.9h.7v.7h-.7zM68.4 391.6h.7v.7h-.7zM63.0 399.1h.7v.7h-.7zM66.6 399.9h.7v.7h-.7zM63.8 387.6h.7v.7h-.7zM72.8 390.3h.7v.7h-.7zM75.0 394.3h.7v.7h-.7zM66.2 397.6h.7v.7h-.7zM75.3 384.2h.7v.7h-.7zM79.7 396.9h.7v.7h-.7zM74.9 384.4h.7v.7h-.7zM68.3 392.4h.7v.7h-.7zM76.3 386.6h.7v.7h-.7zM67.5 383.5h.7v.7h-.7zM70.4 396.1h.7v.7h-.7zM63.9 391.2h.7v.7h-.7zM73.8 402.7h.7v.7h-.7zM74.5 392.7h.7v.7h-.7zM66.2 389.3h.7v.7h-.7zM68.5 395.1h.7v.7h-.7zM71.3 403.1h.7v.7h-.7zM72.8 388.6h.7v.7h-.7zM78.4 399.3h.7v.7h-.7zM72.0 390.5h.7v.7h-.7zM63.1 388.9h.7v.7h-.7zM75.6 390.0h.7v.7h-.7zM65.6 395.3h.7v.7h-.7zM72.6 397.5h.7v.7h-.7zM74.4 401.8h.7v.7h-.7zM67.7 399.5h.7v.7h-.7zM67.1 398.0h.7v.7h-.7zM72.3 395.6h.7v.7h-.7zM75.9 394.2h.7v.7h-.7zM76.5 398.9h.7v.7h-.7zM72.1 391.3h.7v.7h-.7zM68.1 391.5h.7v.7h-.7zM70.6 394.2h.7v.7h-.7zM84.9 397.7h.7v.7h-.7zM75.0 389.7h.7v.7h-.7zM68.3 392.6h.7v.7h-.7zM72.4 388.8h.7v.7h-.7zM78.8 391.3h.7v.7h-.7zM76.4 381.9h.7v.7h-.7zM71.5 395.8h.7v.7h-.7zM72.4 397.5h.7v.7h-.7zM72.8 395.2h.7v.7h-.7zM63.0 390.5h.7v.7h-.7zM61.0 397.6h.7v.7h-.7zM72.9 393.3h.7v.7h-.7zM67.8 391.2h.7v.7h-.7zM79.8 403.5h.7v.7h-.7zM71.2 401.1h.7v.7h-.7zM64.4 384.0h.7v.7h-.7zM69.3 389.7h.7v.7h-.7zM69.0 395.3h.7v.7h-.7zM85.1 390.8h.7v.7h-.7zM71.7 395.8h.7v.7h-.7zM71.3 399.2h.7v.7h-.7zM79.5 387.7h.7v.7h-.7zM72.2 392.9h.7v.7h-.7zM73.1 386.2h.7v.7h-.7zM63.6 382.0h.7v.7h-.7zM73.9 395.3h.7v.7h-.7zM71.8 381.8h.7v.7h-.7zM69.8 390.3h.7v.7h-.7zM65.1 389.4h.7v.7h-.7zM74.6 397.2h.7v.7h-.7zM71.4 397.0h.7v.7h-.7zM68.8 394.7h.7v.7h-.7zM71.7 397.2h.7v.7h-.7zM71.2 393.5h.7v.7h-.7zM70.9 390.9h.7v.7h-.7zM81.6 397.0h.7v.7h-.7zM73.4 406.4h.7v.7h-.7zM77.8 386.1h.7v.7h-.7zM74.6 398.7h.7v.7h-.7zM80.0 401.3h.7v.7h-.7zM75.0 388.1h.7v.7h-.7zM67.6 395.7h.7v.7h-.7zM73.8 388.9h.7v.7h-.7zM69.8 392.2h.7v.7h-.7zM71.8 396.1h.7v.7h-.7zM70.2 387.7h.7v.7h-.7zM77.1 402.8h.7v.7h-.7zM71.0 399.7h.7v.7h-.7zM73.5 397.8h.7v.7h-.7zM73.7 390.3h.7v.7h-.7zM74.1 399.7h.7v.7h-.7zM67.5 404.7h.7v.7h-.7zM80.9 404.0h.7v.7h-.7zM80.5 398.2h.7v.7h-.7zM70.0 391.1h.7v.7h-.7zM67.8 394.9h.7v.7h-.7zM71.4 397.9h.7v.7h-.7zM62.4 406.6h.7v.7h-.7zM81.7 394.2h.7v.7h-.7zM74.5 396.8h.7v.7h-.7zM72.7 393.2h.7v.7h-.7zM70.9 389.9h.7v.7h-.7zM72.3 394.2h.7v.7h-.7zM72.9 389.8h.7v.7h-.7zM71.7 394.6h.7v.7h-.7zM74.2 388.7h.7v.7h-.7zM73.4 399.5h.7v.7h-.7zM74.2 392.3h.7v.7h-.7zM69.3 393.0h.7v.7h-.7zM74.8 402.5h.7v.7h-.7zM70.8 390.9h.7v.7h-.7zM73.2 395.4h.7v.7h-.7zM67.4 390.4h.7v.7h-.7zM71.0 397.9h.7v.7h-.7zM66.1 388.9h.7v.7h-.7zM73.7 387.8h.7v.7h-.7zM72.0 396.2h.7v.7h-.7zM71.0 388.9h.7v.7h-.7zM71.2 392.5h.7v.7h-.7zM73.0 389.9h.7v.7h-.7zM76.4 385.4h.7v.7h-.7zM70.7 394.3h.7v.7h-.7zM75.8 391.1h.7v.7h-.7zM74.0 391.3h.7v.7h-.7zM74.8 403.5h.7v.7h-.7zM69.7 396.6h.7v.7h-.7zM67.3 399.5h.7v.7h-.7zM76.9 394.5h.7v.7h-.7zM66.4 396.4h.7v.7h-.7zM76.7 400.1h.7v.7h-.7zM75.2 384.6h.7v.7h-.7zM68.4 401.8h.7v.7h-.7zM66.0 400.3h.7v.7h-.7zM80.0 398.3h.7v.7h-.7zM76.5 392.5h.7v.7h-.7zM66.0 393.8h.7v.7h-.7zM70.6 394.0h.7v.7h-.7zM74.6 393.5h.7v.7h-.7zM72.4 396.5h.7v.7h-.7zM71.5 404.1h.7v.7h-.7zM73.5 394.7h.7v.7h-.7zM70.6 391.0h.7v.7h-.7zM77.5 395.1h.7v.7h-.7zM66.6 391.3h.7v.7h-.7zM70.9 391.9h.7v.7h-.7zM76.4 388.1h.7v.7h-.7zM73.7 395.1h.7v.7h-.7zM66.2 394.6h.7v.7h-.7zM71.1 397.0h.7v.7h-.7zM69.5 395.9h.7v.7h-.7zM64.0 388.6h.7v.7h-.7zM75.0 399.8h.7v.7h-.7zM71.4 391.1h.7v.7h-.7zM76.4 383.2h.7v.7h-.7zM67.9 397.9h.7v.7h-.7zM74.4 388.8h.7v.7h-.7zM63.0 402.0h.7v.7h-.7zM72.2 389.5h.7v.7h-.7zM71.7 399.1h.7v.7h-.7zM59.8 400.2h.7v.7h-.7zM74.8 383.3h.7v.7h-.7zM75.0 384.9h.7v.7h-.7zM76.6 396.4h.7v.7h-.7zM81.6 391.1h.7v.7h-.7zM71.5 399.9h.7v.7h-.7zM68.6 390.6h.7v.7h-.7zM69.8 393.9h.7v.7h-.7zM66.6 396.9h.7v.7h-.7zM73.9 394.7h.7v.7h-.7zM79.2 392.6h.7v.7h-.7zM77.4 391.4h.7v.7h-.7zM74.9 384.0h.7v.7h-.7zM72.4 393.4h.7v.7h-.7zM69.3 391.1h.7v.7h-.7zM69.9 390.5h.7v.7h-.7zM61.6 391.1h.7v.7h-.7zM69.0 391.5h.7v.7h-.7zM66.7 393.6h.7v.7h-.7zM75.0 393.0h.7v.7h-.7zM69.3 401.5h.7v.7h-.7zM75.9 399.2h.7v.7h-.7zM76.7 392.6h.7v.7h-.7zM70.9 400.2h.7v.7h-.7zM69.0 393.7h.7v.7h-.7zM73.2 396.3h.7v.7h-.7zM70.3 399.5h.7v.7h-.7zM70.7 398.1h.7v.7h-.7zM76.3 397.8h.7v.7h-.7zM74.8 388.2h.7v.7h-.7zM65.6 391.0h.7v.7h-.7zM73.6 402.3h.7v.7h-.7zM66.0 395.9h.7v.7h-.7zM67.7 390.4h.7v.7h-.7zM70.3 398.0h.7v.7h-.7zM72.5 400.6h.7v.7h-.7zM67.1 399.0h.7v.7h-.7zM75.7 394.7h.7v.7h-.7zM73.6 391.3h.7v.7h-.7zM66.6 392.2h.7v.7h-.7zM68.6 409.6h.7v.7h-.7zM69.3 403.0h.7v.7h-.7zM72.4 396.0h.7v.7h-.7zM74.8 390.2h.7v.7h-.7zM75.6 396.3h.7v.7h-.7zM64.7 397.5h.7v.7h-.7zM74.0 396.7h.7v.7h-.7zM78.6 392.1h.7v.7h-.7zM73.8 398.3h.7v.7h-.7zM67.4 400.7h.7v.7h-.7zM65.0 387.4h.7v.7h-.7zM73.9 388.5h.7v.7h-.7zM71.0 385.6h.7v.7h-.7zM71.8 388.3h.7v.7h-.7zM73.0 386.2h.7v.7h-.7zM73.5 392.9h.7v.7h-.7zM71.8 393.9h.7v.7h-.7zM72.1 387.3h.7v.7h-.7zM60.0 394.5h.7v.7h-.7zM67.3 391.9h.7v.7h-.7zM73.4 383.8h.7v.7h-.7zM68.1 391.1h.7v.7h-.7zM66.7 396.0h.7v.7h-.7zM70.9 390.0h.7v.7h-.7zM67.1 398.6h.7v.7h-.7zM68.5 397.4h.7v.7h-.7zM73.5 384.3h.7v.7h-.7zM66.6 394.3h.7v.7h-.7zM73.0 398.4h.7v.7h-.7zM75.1 399.8h.7v.7h-.7zM69.8 393.2h.7v.7h-.7zM75.0 392.0h.7v.7h-.7zM76.3 385.9h.7v.7h-.7zM74.4 393.4h.7v.7h-.7zM62.6 399.5h.7v.7h-.7zM72.9 394.4h.7v.7h-.7zM66.7 391.8h.7v.7h-.7zM78.3 389.9h.7v.7h-.7zM55.9 389.8h.7v.7h-.7zM66.1 393.6h.7v.7h-.7zM69.7 389.5h.7v.7h-.7zM67.7 399.9h.7v.7h-.7zM65.0 404.7h.7v.7h-.7zM69.1 388.5h.7v.7h-.7zM75.0 397.3h.7v.7h-.7zM66.8 398.3h.7v.7h-.7zM63.2 389.4h.7v.7h-.7zM76.6 392.9h.7v.7h-.7zM65.6 397.0h.7v.7h-.7zM75.6 394.2h.7v.7h-.7zM63.4 392.5h.7v.7h-.7zM73.4 398.4h.7v.7h-.7zM79.8 393.0h.7v.7h-.7zM69.3 394.1h.7v.7h-.7zM76.9 389.3h.7v.7h-.7zM77.4 379.7h.7v.7h-.7zM75.1 390.7h.7v.7h-.7zM73.6 397.9h.7v.7h-.7zM66.2 393.8h.7v.7h-.7zM72.6 397.4h.7v.7h-.7zM67.3 389.0h.7v.7h-.7zM62.8 407.8h.7v.7h-.7zM70.6 393.1h.7v.7h-.7zM64.8 399.2h.7v.7h-.7zM69.1 401.9h.7v.7h-.7zM75.3 394.4h.7v.7h-.7zM74.8 388.4h.7v.7h-.7zM70.0 391.2h.7v.7h-.7zM65.8 394.4h.7v.7h-.7zM70.8 401.9h.7v.7h-.7zM56.4 390.7h.7v.7h-.7zM67.4 391.8h.7v.7h-.7zM73.4 396.4h.7v.7h-.7zM71.6 391.8h.7v.7h-.7zM73.7 396.2h.7v.7h-.7zM63.2 392.9h.7v.7h-.7zM65.3 388.0h.7v.7h-.7zM72.2 394.6h.7v.7h-.7zM72.0 389.7h.7v.7h-.7zM70.6 389.5h.7v.7h-.7zM73.2 398.0h.7v.7h-.7zM79.4 401.0h.7v.7h-.7zM67.9 391.9h.7v.7h-.7zM67.3 395.9h.7v.7h-.7zM80.4 398.1h.7v.7h-.7zM61.6 387.6h.7v.7h-.7zM65.7 397.0h.7v.7h-.7zM71.5 395.9h.7v.7h-.7zM79.5 389.9h.7v.7h-.7zM67.7 404.7h.7v.7h-.7zM73.0 390.2h.7v.7h-.7zM62.4 386.2h.7v.7h-.7zM60.5 394.7h.7v.7h-.7zM71.7 399.6h.7v.7h-.7zM70.9 390.6h.7v.7h-.7zM68.2 404.4h.7v.7h-.7zM63.6 395.2h.7v.7h-.7zM71.6 397.6h.7v.7h-.7zM69.7 396.9h.7v.7h-.7zM75.2 393.5h.7v.7h-.7zM69.4 393.3h.7v.7h-.7zM67.2 393.2h.7v.7h-.7zM70.1 395.4h.7v.7h-.7zM77.5 401.2h.7v.7h-.7zM69.5 397.5h.7v.7h-.7zM72.8 398.3h.7v.7h-.7zM71.6 395.7h.7v.7h-.7zM69.4 390.1h.7v.7h-.7zM75.4 401.2h.7v.7h-.7zM74.5 396.6h.7v.7h-.7zM72.7 391.9h.7v.7h-.7zM63.5 397.8h.7v.7h-.7zM72.4 391.4h.7v.7h-.7zM67.2 401.1h.7v.7h-.7zM63.4 403.6h.7v.7h-.7zM74.4 406.9h.7v.7h-.7zM68.3 394.2h.7v.7h-.7zM69.2 395.1h.7v.7h-.7zM70.6 390.3h.7v.7h-.7zM76.3 390.1h.7v.7h-.7zM69.2 397.2h.7v.7h-.7zM69.1 392.0h.7v.7h-.7zM73.1 392.4h.7v.7h-.7zM65.9 393.8h.7v.7h-.7zM70.5 403.3h.7v.7h-.7zM66.6 399.4h.7v.7h-.7zM68.0 392.4h.7v.7h-.7zM70.0 395.7h.7v.7h-.7zM75.4 403.6h.7v.7h-.7zM68.6 401.3h.7v.7h-.7zM76.0 398.6h.7v.7h-.7zM68.1 399.1h.7v.7h-.7zM71.0 396.2h.7v.7h-.7zM70.3 397.8h.7v.7h-.7zM76.5 400.3h.7v.7h-.7zM70.6 399.6h.7v.7h-.7zM78.0 389.3h.7v.7h-.7zM78.1 387.2h.7v.7h-.7zM73.9 397.4h.7v.7h-.7zM78.2 395.8h.7v.7h-.7zM69.3 390.1h.7v.7h-.7zM65.9 398.4h.7v.7h-.7zM70.4 390.5h.7v.7h-.7zM73.9 390.2h.7v.7h-.7zM69.5 391.9h.7v.7h-.7zM78.9 402.1h.7v.7h-.7zM70.8 386.0h.7v.7h-.7zM72.7 394.7h.7v.7h-.7zM73.1 397.3h.7v.7h-.7zM70.1 399.2h.7v.7h-.7zM75.3 395.4h.7v.7h-.7zM69.7 391.8h.7v.7h-.7zM74.6 388.5h.7v.7h-.7zM70.8 390.3h.7v.7h-.7zM65.2 397.5h.7v.7h-.7zM71.4 394.5h.7v.7h-.7zM75.4 386.4h.7v.7h-.7zM71.2 395.8h.7v.7h-.7zM75.2 388.5h.7v.7h-.7zM74.7 395.5h.7v.7h-.7zM77.6 400.3h.7v.7h-.7zM74.0 405.7h.7v.7h-.7zM71.5 392.1h.7v.7h-.7zM70.0 389.3h.7v.7h-.7zM71.4 384.3h.7v.7h-.7zM71.1 396.6h.7v.7h-.7zM76.0 392.5h.7v.7h-.7zM77.7 390.8h.7v.7h-.7zM70.9 384.3h.7v.7h-.7zM68.1 390.1h.7v.7h-.7zM78.1 397.0h.7v.7h-.7zM66.6 397.1h.7v.7h-.7zM73.6 393.1h.7v.7h-.7zM71.6 392.7h.7v.7h-.7zM69.1 385.1h.7v.7h-.7zM71.1 400.9h.7v.7h-.7zM77.8 392.9h.7v.7h-.7zM68.2 393.2h.7v.7h-.7zM75.4 396.1h.7v.7h-.7zM68.9 396.2h.7v.7h-.7zM70.6 397.0h.7v.7h-.7zM69.7 386.7h.7v.7h-.7zM71.8 398.2h.7v.7h-.7zM66.6 393.7h.7v.7h-.7zM75.4 392.4h.7v.7h-.7zM68.6 404.8h.7v.7h-.7zM75.1 399.6h.7v.7h-.7zM67.4 402.7h.7v.7h-.7zM64.2 391.6h.7v.7h-.7zM74.7 401.2h.7v.7h-.7zM67.4 390.9h.7v.7h-.7zM72.4 384.4h.7v.7h-.7zM74.3 397.2h.7v.7h-.7zM69.5 397.1h.7v.7h-.7zM74.9 395.9h.7v.7h-.7zM73.8 402.1h.7v.7h-.7zM69.4 395.1h.7v.7h-.7zM69.2 399.6h.7v.7h-.7zM69.7 396.7h.7v.7h-.7zM72.1 394.6h.7v.7h-.7zM79.0 393.9h.7v.7h-.7zM77.7 398.5h.7v.7h-.7zM77.3 393.5h.7v.7h-.7zM75.5 398.2h.7v.7h-.7zM68.8 395.7h.7v.7h-.7zM70.9 394.1h.7v.7h-.7zM77.2 390.6h.7v.7h-.7zM64.2 385.4h.7v.7h-.7zM69.5 391.0h.7v.7h-.7zM71.6 397.2h.7v.7h-.7zM79.1 395.9h.7v.7h-.7zM73.5 390.5h.7v.7h-.7zM74.0 401.2h.7v.7h-.7zM77.3 384.3h.7v.7h-.7zM75.4 402.4h.7v.7h-.7zM75.1 386.7h.7v.7h-.7zM70.2 397.3h.7v.7h-.7zM73.3 390.2h.7v.7h-.7zM67.6 399.2h.7v.7h-.7zM65.7 401.6h.7v.7h-.7zM71.6 395.8h.7v.7h-.7zM65.7 391.3h.7v.7h-.7zM74.5 386.8h.7v.7h-.7zM80.5 387.1h.7v.7h-.7zM66.2 394.5h.7v.7h-.7zM73.6 398.0h.7v.7h-.7zM69.9 393.2h.7v.7h-.7zM70.5 391.4h.7v.7h-.7zM60.3 399.2h.7v.7h-.7zM72.6 395.1h.7v.7h-.7zM68.8 395.6h.7v.7h-.7zM71.4 393.9h.7v.7h-.7zM76.3 385.5h.7v.7h-.7zM72.6 388.9h.7v.7h-.7zM70.1 401.9h.7v.7h-.7zM66.8 393.8h.7v.7h-.7zM68.9 399.1h.7v.7h-.7zM67.3 385.7h.7v.7h-.7zM73.7 392.5h.7v.7h-.7zM70.1 399.8h.7v.7h-.7zM67.7 392.4h.7v.7h-.7zM72.1 396.4h.7v.7h-.7zM69.3 399.6h.7v.7h-.7zM81.2 392.2h.7v.7h-.7zM79.6 383.6h.7v.7h-.7zM77.6 392.5h.7v.7h-.7zM72.1 392.6h.7v.7h-.7zM68.7 387.8h.7v.7h-.7zM69.8 400.9h.7v.7h-.7zM76.4 392.5h.7v.7h-.7zM69.2 390.7h.7v.7h-.7zM66.3 403.5h.7v.7h-.7zM74.4 394.9h.7v.7h-.7zM69.4 389.1h.7v.7h-.7zM77.2 398.3h.7v.7h-.7zM67.4 399.3h.7v.7h-.7zM66.7 397.6h.7v.7h-.7zM67.3 392.2h.7v.7h-.7zM73.6 396.5h.7v.7h-.7zM75.9 390.0h.7v.7h-.7zM78.3 401.1h.7v.7h-.7zM71.5 396.7h.7v.7h-.7zM68.1 393.5h.7v.7h-.7zM65.8 394.8h.7v.7h-.7zM72.4 401.1h.7v.7h-.7zM75.6 398.4h.7v.7h-.7zM69.9 393.2h.7v.7h-.7zM70.0 395.4h.7v.7h-.7zM63.2 398.2h.7v.7h-.7zM64.7 391.7h.7v.7h-.7zM71.6 391.7h.7v.7h-.7zM78.7 393.8h.7v.7h-.7zM78.3 400.3h.7v.7h-.7zM69.4 396.3h.7v.7h-.7zM77.1 392.6h.7v.7h-.7zM71.9 391.5h.7v.7h-.7zM71.8 392.5h.7v.7h-.7zM71.9 399.4h.7v.7h-.7zM77.5 395.0h.7v.7h-.7zM72.4 398.7h.7v.7h-.7zM70.2 388.9h.7v.7h-.7zM76.3 389.5h.7v.7h-.7zM75.5 389.4h.7v.7h-.7zM79.4 389.0h.7v.7h-.7zM75.2 401.9h.7v.7h-.7zM67.3 401.9h.7v.7h-.7zM67.9 385.3h.7v.7h-.7zM74.6 397.9h.7v.7h-.7zM70.6 381.5h.7v.7h-.7zM71.3 392.7h.7v.7h-.7zM69.9 392.8h.7v.7h-.7zM63.8 391.4h.7v.7h-.7zM79.3 402.2h.7v.7h-.7zM69.9 390.7h.7v.7h-.7zM73.2 399.7h.7v.7h-.7zM74.6 388.4h.7v.7h-.7zM72.2 395.0h.7v.7h-.7zM77.7 400.4h.7v.7h-.7zM73.8 400.5h.7v.7h-.7zM69.8 402.1h.7v.7h-.7zM69.7 396.3h.7v.7h-.7zM75.5 389.7h.7v.7h-.7zM68.5 385.4h.7v.7h-.7zM72.2 394.0h.7v.7h-.7zM70.1 396.8h.7v.7h-.7zM62.4 394.2h.7v.7h-.7zM71.9 392.9h.7v.7h-.7zM74.9 403.2h.7v.7h-.7zM69.6 389.5h.7v.7h-.7zM68.9 394.8h.7v.7h-.7zM74.0 389.9h.7v.7h-.7zM75.8 389.1h.7v.7h-.7zM75.1 396.5h.7v.7h-.7zM73.5 405.3h.7v.7h-.7zM70.4 393.5h.7v.7h-.7zM73.6 398.7h.7v.7h-.7zM65.7 395.7h.7v.7h-.7zM68.3 397.5h.7v.7h-.7zM77.4 394.6h.7v.7h-.7zM71.0 395.2h.7v.7h-.7zM58.7 398.2h.7v.7h-.7zM73.9 395.1h.7v.7h-.7zM69.8 390.6h.7v.7h-.7zM70.7 400.5h.7v.7h-.7zM71.1 401.2h.7v.7h-.7zM60.4 392.0h.7v.7h-.7zM72.7 394.2h.7v.7h-.7zM64.3 390.9h.7v.7h-.7zM76.9 387.7h.7v.7h-.7zM67.2 388.7h.7v.7h-.7zM69.1 397.6h.7v.7h-.7zM74.1 384.0h.7v.7h-.7zM77.8 391.3h.7v.7h-.7zM69.0 402.8h.7v.7h-.7zM71.1 388.0h.7v.7h-.7zM68.7 390.6h.7v.7h-.7zM67.1 392.6h.7v.7h-.7zM75.3 396.1h.7v.7h-.7zM65.5 408.5h.7v.7h-.7zM67.2 394.9h.7v.7h-.7zM71.6 398.2h.7v.7h-.7zM70.1 396.6h.7v.7h-.7zM80.6 394.8h.7v.7h-.7zM66.8 396.0h.7v.7h-.7zM68.0 392.4h.7v.7h-.7zM72.3 396.0h.7v.7h-.7zM70.3 398.6h.7v.7h-.7zM70.7 387.7h.7v.7h-.7zM75.3 392.4h.7v.7h-.7zM76.7 391.0h.7v.7h-.7zM74.0 395.9h.7v.7h-.7zM59.8 386.7h.7v.7h-.7zM66.7 401.5h.7v.7h-.7zM63.3 398.9h.7v.7h-.7zM76.2 396.8h.7v.7h-.7zM74.4 391.8h.7v.7h-.7zM71.5 395.4h.7v.7h-.7zM73.3 397.9h.7v.7h-.7zM70.6 390.7h.7v.7h-.7zM69.1 396.4h.7v.7h-.7zM64.3 387.9h.7v.7h-.7zM69.7 391.5h.7v.7h-.7zM70.3 380.8h.7v.7h-.7zM70.0 393.0h.7v.7h-.7zM74.9 384.2h.7v.7h-.7zM70.2 396.7h.7v.7h-.7zM73.6 400.4h.7v.7h-.7zM76.1 389.0h.7v.7h-.7zM74.3 392.6h.7v.7h-.7zM68.0 402.1h.7v.7h-.7zM68.8 389.9h.7v.7h-.7zM69.7 390.0h.7v.7h-.7zM75.9 396.2h.7v.7h-.7zM77.6 396.4h.7v.7h-.7zM68.8 399.6h.7v.7h-.7zM68.7 391.9h.7v.7h-.7zM70.8 394.5h.7v.7h-.7zM76.7 391.2h.7v.7h-.7zM73.0 394.2h.7v.7h-.7zM66.1 388.7h.7v.7h-.7zM70.5 396.4h.7v.7h-.7zM72.9 396.7h.7v.7h-.7zM71.7 392.0h.7v.7h-.7zM73.3 389.2h.7v.7h-.7zM65.7 392.6h.7v.7h-.7zM65.3 391.7h.7v.7h-.7zM68.3 391.5h.7v.7h-.7zM71.3 390.2h.7v.7h-.7zM69.7 385.6h.7v.7h-.7zM72.1 389.8h.7v.7h-.7zM73.3 379.9h.7v.7h-.7zM68.0 395.5h.7v.7h-.7zM60.9 392.5h.7v.7h-.7zM71.9 394.8h.7v.7h-.7zM65.0 395.5h.7v.7h-.7zM72.1 389.3h.7v.7h-.7zM74.7 394.0h.7v.7h-.7zM71.6 392.0h.7v.7h-.7zM73.9 394.8h.7v.7h-.7zM76.4 396.6h.7v.7h-.7zM68.8 393.2h.7v.7h-.7zM75.5 392.4h.7v.7h-.7zM73.2 397.0h.7v.7h-.7zM70.7 382.4h.7v.7h-.7zM72.1 395.4h.7v.7h-.7zM72.1 390.4h.7v.7h-.7zM76.8 393.6h.7v.7h-.7zM68.8 390.6h.7v.7h-.7zM73.1 388.7h.7v.7h-.7zM67.1 404.6h.7v.7h-.7zM77.2 399.7h.7v.7h-.7zM77.4 397.4h.7v.7h-.7zM64.2 400.4h.7v.7h-.7zM76.9 396.8h.7v.7h-.7zM63.0 400.7h.7v.7h-.7zM77.4 391.8h.7v.7h-.7zM72.1 398.3h.7v.7h-.7zM71.1 399.9h.7v.7h-.7zM71.9 397.8h.7v.7h-.7zM71.9 386.7h.7v.7h-.7zM67.2 410.6h.7v.7h-.7zM72.7 401.0h.7v.7h-.7zM76.5 403.1h.7v.7h-.7zM73.9 391.2h.7v.7h-.7zM71.6 384.4h.7v.7h-.7zM70.7 399.0h.7v.7h-.7zM62.1 395.3h.7v.7h-.7zM75.1 401.1h.7v.7h-.7zM67.5 390.9h.7v.7h-.7zM63.3 389.1h.7v.7h-.7zM73.8 404.9h.7v.7h-.7zM66.5 401.4h.7v.7h-.7zM73.4 391.8h.7v.7h-.7zM81.1 381.3h.7v.7h-.7zM71.2 395.4h.7v.7h-.7zM80.8 403.6h.7v.7h-.7zM81.4 395.0h.7v.7h-.7zM75.8 401.3h.7v.7h-.7zM73.7 396.2h.7v.7h-.7zM70.7 392.2h.7v.7h-.7zM66.1 404.3h.7v.7h-.7zM69.5 383.6h.7v.7h-.7zM72.7 394.1h.7v.7h-.7zM72.3 403.6h.7v.7h-.7zM71.0 392.9h.7v.7h-.7zM68.2 394.2h.7v.7h-.7zM69.6 395.4h.7v.7h-.7zM85.2 396.3h.7v.7h-.7zM67.8 404.2h.7v.7h-.7zM75.3 398.5h.7v.7h-.7zM74.6 398.5h.7v.7h-.7zM74.5 401.6h.7v.7h-.7zM75.9 401.3h.7v.7h-.7zM69.3 394.3h.7v.7h-.7zM68.3 399.2h.7v.7h-.7zM75.1 391.9h.7v.7h-.7zM74.1 407.8h.7v.7h-.7zM76.9 388.5h.7v.7h-.7zM71.1 397.6h.7v.7h-.7zM71.3 396.3h.7v.7h-.7zM76.7 396.0h.7v.7h-.7zM66.7 398.0h.7v.7h-.7zM71.1 394.9h.7v.7h-.7zM69.0 387.2h.7v.7h-.7zM66.0 392.5h.7v.7h-.7zM66.8 380.3h.7v.7h-.7zM76.5 388.3h.7v.7h-.7zM68.3 397.0h.7v.7h-.7zM60.9 401.2h.7v.7h-.7zM68.1 397.7h.7v.7h-.7zM69.4 395.9h.7v.7h-.7zM72.0 394.3h.7v.7h-.7zM63.5 386.7h.7v.7h-.7zM71.3 401.6h.7v.7h-.7zM69.1 397.0h.7v.7h-.7zM72.2 396.8h.7v.7h-.7zM75.8 386.6h.7v.7h-.7zM72.7 393.4h.7v.7h-.7zM70.1 389.9h.7v.7h-.7zM68.1 389.0h.7v.7h-.7zM66.7 407.3h.7v.7h-.7zM79.0 394.4h.7v.7h-.7zM74.8 389.3h.7v.7h-.7zM59.3 384.9h.7v.7h-.7zM72.1 401.7h.7v.7h-.7zM71.3 389.1h.7v.7h-.7zM70.4 389.1h.7v.7h-.7zM65.4 393.1h.7v.7h-.7zM69.7 390.1h.7v.7h-.7zM67.6 389.5h.7v.7h-.7zM72.5 401.5h.7v.7h-.7zM70.6 405.8h.7v.7h-.7zM64.4 395.7h.7v.7h-.7zM66.4 393.5h.7v.7h-.7zM71.9 397.2h.7v.7h-.7zM76.5 391.4h.7v.7h-.7zM66.1 393.3h.7v.7h-.7zM72.8 390.7h.7v.7h-.7zM75.4 403.0h.7v.7h-.7zM65.3 396.2h.7v.7h-.7zM76.0 384.4h.7v.7h-.7zM72.4 393.1h.7v.7h-.7zM65.3 401.1h.7v.7h-.7zM72.5 391.8h.7v.7h-.7zM73.4 397.6h.7v.7h-.7zM74.9 397.3h.7v.7h-.7zM73.3 388.2h.7v.7h-.7zM69.7 395.0h.7v.7h-.7zM59.4 405.3h.7v.7h-.7zM69.8 388.9h.7v.7h-.7zM63.5 395.6h.7v.7h-.7zM71.6 391.3h.7v.7h-.7zM69.7 389.7h.7v.7h-.7zM68.2 393.8h.7v.7h-.7zM68.7 397.8h.7v.7h-.7zM70.9 395.0h.7v.7h-.7zM73.3 400.9h.7v.7h-.7zM74.1 395.5h.7v.7h-.7zM70.8 390.1h.7v.7h-.7zM70.0 397.8h.7v.7h-.7zM72.5 392.3h.7v.7h-.7zM65.7 386.4h.7v.7h-.7zM72.9 399.6h.7v.7h-.7zM73.1 387.2h.7v.7h-.7zM70.6 395.4h.7v.7h-.7zM67.5 396.1h.7v.7h-.7zM70.6 390.0h.7v.7h-.7zM66.1 398.5h.7v.7h-.7zM73.1 389.7h.7v.7h-.7zM67.1 398.9h.7v.7h-.7zM74.1 392.7h.7v.7h-.7zM78.5 392.8h.7v.7h-.7zM66.9 399.9h.7v.7h-.7zM70.7 396.1h.7v.7h-.7zM71.7 389.1h.7v.7h-.7zM66.3 393.3h.7v.7h-.7zM77.7 389.1h.7v.7h-.7zM77.5 395.4h.7v.7h-.7zM66.6 395.7h.7v.7h-.7zM74.0 389.7h.7v.7h-.7zM62.2 396.1h.7v.7h-.7zM66.6 396.6h.7v.7h-.7zM63.1 393.6h.7v.7h-.7zM68.0 386.7h.7v.7h-.7zM70.4 395.2h.7v.7h-.7zM69.1 388.2h.7v.7h-.7zM72.4 385.3h.7v.7h-.7zM73.8 396.8h.7v.7h-.7zM78.8 398.9h.7v.7h-.7zM73.1 395.7h.7v.7h-.7zM71.6 387.5h.7v.7h-.7zM77.9 397.0h.7v.7h-.7zM70.2 388.4h.7v.7h-.7zM78.0 397.0h.7v.7h-.7zM66.3 397.8h.7v.7h-.7zM79.8 394.2h.7v.7h-.7zM73.2 392.2h.7v.7h-.7zM68.8 399.8h.7v.7h-.7zM85.0 394.9h.7v.7h-.7zM71.0 398.4h.7v.7h-.7zM70.2 398.1h.7v.7h-.7zM75.1 389.1h.7v.7h-.7zM66.8 393.9h.7v.7h-.7zM75.1 395.7h.7v.7h-.7zM76.9 387.2h.7v.7h-.7zM73.7 391.1h.7v.7h-.7zM71.9 396.0h.7v.7h-.7zM67.3 393.1h.7v.7h-.7zM66.4 395.7h.7v.7h-.7zM67.8 391.8h.7v.7h-.7zM72.5 390.9h.7v.7h-.7zM76.5 391.0h.7v.7h-.7zM75.2 395.8h.7v.7h-.7zM67.0 393.2h.7v.7h-.7zM67.8 392.4h.7v.7h-.7zM70.3 403.6h.7v.7h-.7zM69.7 402.4h.7v.7h-.7zM73.5 387.6h.7v.7h-.7zM61.4 397.8h.7v.7h-.7zM62.8 398.0h.7v.7h-.7zM76.0 396.3h.7v.7h-.7zM70.6 393.0h.7v.7h-.7zM72.6 392.7h.7v.7h-.7zM69.2 392.4h.7v.7h-.7zM76.6 391.1h.7v.7h-.7zM73.2 388.4h.7v.7h-.7zM68.4 387.2h.7v.7h-.7zM70.6 397.8h.7v.7h-.7zM72.8 391.8h.7v.7h-.7zM74.2 392.5h.7v.7h-.7zM73.1 395.7h.7v.7h-.7zM73.9 381.6h.7v.7h-.7zM65.8 398.3h.7v.7h-.7zM71.0 405.8h.7v.7h-.7zM70.5 391.5h.7v.7h-.7zM78.0 397.1h.7v.7h-.7zM79.8 396.9h.7v.7h-.7zM70.6 398.0h.7v.7h-.7zM68.1 392.0h.7v.7h-.7zM69.1 393.2h.7v.7h-.7zM74.9 391.8h.7v.7h-.7zM72.9 391.7h.7v.7h-.7zM75.3 380.2h.7v.7h-.7zM70.6 395.2h.7v.7h-.7zM66.8 399.5h.7v.7h-.7zM72.4 400.9h.7v.7h-.7zM75.7 397.6h.7v.7h-.7zM70.8 388.7h.7v.7h-.7zM70.5 391.9h.7v.7h-.7zM72.6 391.9h.7v.7h-.7zM84.8 386.1h.7v.7h-.7zM76.6 391.9h.7v.7h-.7zM70.4 399.0h.7v.7h-.7zM71.5 388.1h.7v.7h-.7zM73.3 393.3h.7v.7h-.7zM62.6 395.3h.7v.7h-.7zM66.9 390.5h.7v.7h-.7zM73.6 395.8h.7v.7h-.7zM70.2 405.4h.7v.7h-.7zM73.3 391.2h.7v.7h-.7zM72.5 393.7h.7v.7h-.7zM61.9 386.2h.7v.7h-.7zM65.5 404.9h.7v.7h-.7zM70.7 392.9h.7v.7h-.7zM69.0 399.3h.7v.7h-.7zM71.6 403.0h.7v.7h-.7zM74.9 402.7h.7v.7h-.7zM71.0 396.2h.7v.7h-.7zM69.6 393.4h.7v.7h-.7zM64.0 391.3h.7v.7h-.7zM67.4 391.0h.7v.7h-.7zM76.8 395.6h.7v.7h-.7zM76.8 398.7h.7v.7h-.7zM75.5 399.4h.7v.7h-.7zM68.9 398.4h.7v.7h-.7zM70.1 391.6h.7v.7h-.7zM76.7 405.4h.7v.7h-.7zM67.3 403.2h.7v.7h-.7zM75.1 390.0h.7v.7h-.7zM72.7 396.2h.7v.7h-.7zM73.1 392.5h.7v.7h-.7zM65.9 394.5h.7v.7h-.7zM75.2 398.3h.7v.7h-.7zM74.4 399.9h.7v.7h-.7zM67.2 394.1h.7v.7h-.7zM73.0 399.4h.7v.7h-.7zM72.2 396.9h.7v.7h-.7zM72.1 405.0h.7v.7h-.7zM62.0 394.2h.7v.7h-.7zM82.2 395.5h.7v.7h-.7zM63.6 395.0h.7v.7h-.7zM65.3 390.8h.7v.7h-.7zM72.5 403.1h.7v.7h-.7zM73.5 397.7h.7v.7h-.7zM75.9 395.3h.7v.7h-.7zM67.8 393.8h.7v.7h-.7zM73.0 392.9h.7v.7h-.7zM68.6 392.5h.7v.7h-.7zM65.0 389.1h.7v.7h-.7zM71.1 392.5h.7v.7h-.7zM71.7 401.5h.7v.7h-.7zM72.8 394.1h.7v.7h-.7zM66.4 388.8h.7v.7h-.7zM73.1 389.8h.7v.7h-.7zM73.4 388.8h.7v.7h-.7zM72.1 393.9h.7v.7h-.7zM75.8 392.3h.7v.7h-.7zM69.9 395.6h.7v.7h-.7zM71.7 402.9h.7v.7h-.7zM70.4 391.6h.7v.7h-.7zM70.1 396.7h.7v.7h-.7zM72.5 397.8h.7v.7h-.7zM65.5 406.9h.7v.7h-.7zM79.5 394.1h.7v.7h-.7zM66.3 395.1h.7v.7h-.7zM73.3 382.9h.7v.7h-.7zM71.6 386.8h.7v.7h-.7zM73.5 401.3h.7v.7h-.7zM76.0 386.6h.7v.7h-.7zM77.5 398.9h.7v.7h-.7zM69.9 396.9h.7v.7h-.7zM78.1 392.6h.7v.7h-.7zM71.4 391.4h.7v.7h-.7zM76.5 383.3h.7v.7h-.7zM77.6 389.4h.7v.7h-.7zM75.5 386.0h.7v.7h-.7zM67.4 391.3h.7v.7h-.7zM75.1 386.0h.7v.7h-.7zM74.1 391.1h.7v.7h-.7zM76.9 392.7h.7v.7h-.7zM73.6 393.4h.7v.7h-.7zM79.3 392.5h.7v.7h-.7zM71.4 404.4h.7v.7h-.7zM71.8 397.8h.7v.7h-.7zM68.3 395.3h.7v.7h-.7zM61.7 394.8h.7v.7h-.7zM68.7 386.6h.7v.7h-.7zM65.4 400.1h.7v.7h-.7zM73.3 386.6h.7v.7h-.7zM79.4 390.8h.7v.7h-.7zM69.9 395.6h.7v.7h-.7zM66.6 386.1h.7v.7h-.7zM68.3 400.3h.7v.7h-.7zM75.6 386.2h.7v.7h-.7zM76.7 394.5h.7v.7h-.7zM73.7 394.6h.7v.7h-.7zM73.3 389.2h.7v.7h-.7zM67.6 390.7h.7v.7h-.7zM69.9 397.5h.7v.7h-.7zM66.2 402.4h.7v.7h-.7zM68.8 391.3h.7v.7h-.7zM74.5 396.5h.7v.7h-.7zM70.0 388.8h.7v.7h-.7zM67.2 386.1h.7v.7h-.7zM76.5 399.8h.7v.7h-.7zM79.6 396.8h.7v.7h-.7zM72.9 398.2h.7v.7h-.7zM75.6 393.0h.7v.7h-.7zM73.0 405.3h.7v.7h-.7zM64.2 387.1h.7v.7h-.7zM67.3 398.1h.7v.7h-.7zM76.6 392.6h.7v.7h-.7zM74.4 394.1h.7v.7h-.7zM72.8 391.5h.7v.7h-.7zM71.4 394.3h.7v.7h-.7zM76.4 405.7h.7v.7h-.7zM63.6 397.0h.7v.7h-.7zM71.5 399.2h.7v.7h-.7zM76.1 398.3h.7v.7h-.7zM75.0 389.5h.7v.7h-.7zM64.1 402.8h.7v.7h-.7zM76.7 389.4h.7v.7h-.7zM77.1 397.7h.7v.7h-.7zM60.9 398.9h.7v.7h-.7zM67.2 400.3h.7v.7h-.7zM68.5 390.5h.7v.7h-.7zM64.8 393.2h.7v.7h-.7zM75.9 390.9h.7v.7h-.7zM63.4 405.2h.7v.7h-.7zM79.5 397.8h.7v.7h-.7zM69.2 388.1h.7v.7h-.7zM64.4 397.2h.7v.7h-.7zM77.1 388.9h.7v.7h-.7zM71.5 392.9h.7v.7h-.7zM70.4 396.9h.7v.7h-.7zM80.6 391.0h.7v.7h-.7zM75.2 399.9h.7v.7h-.7zM70.3 393.5h.7v.7h-.7zM65.7 399.8h.7v.7h-.7zM69.2 391.0h.7v.7h-.7zM71.8 389.9h.7v.7h-.7zM67.0 392.8h.7v.7h-.7zM77.9 393.3h.7v.7h-.7zM73.8 386.8h.7v.7h-.7zM63.1 403.6h.7v.7h-.7zM69.8 386.4h.7v.7h-.7zM71.0 397.4h.7v.7h-.7zM64.0 389.8h.7v.7h-.7zM72.6 389.6h.7v.7h-.7zM75.0 399.2h.7v.7h-.7zM73.4 392.1h.7v.7h-.7zM71.3 391.1h.7v.7h-.7zM70.9 395.9h.7v.7h-.7zM70.2 399.3h.7v.7h-.7zM82.8 391.5h.7v.7h-.7zM73.0 398.5h.7v.7h-.7zM74.3 393.1h.7v.7h-.7zM69.4 399.4h.7v.7h-.7zM74.2 396.9h.7v.7h-.7zM68.0 397.5h.7v.7h-.7zM75.0 393.4h.7v.7h-.7zM74.3 405.4h.7v.7h-.7zM63.3 397.4h.7v.7h-.7zM66.4 387.3h.7v.7h-.7zM70.5 397.1h.7v.7h-.7zM71.7 388.3h.7v.7h-.7zM65.2 391.5h.7v.7h-.7zM71.6 390.0h.7v.7h-.7zM65.0 403.3h.7v.7h-.7zM67.9 393.5h.7v.7h-.7zM69.1 391.3h.7v.7h-.7zM71.7 392.8h.7v.7h-.7zM74.2 388.2h.7v.7h-.7zM65.0 404.3h.7v.7h-.7zM71.2 398.2h.7v.7h-.7zM76.6 397.1h.7v.7h-.7zM71.7 386.3h.7v.7h-.7zM64.5 399.3h.7v.7h-.7zM74.4 397.2h.7v.7h-.7zM64.3 383.4h.7v.7h-.7zM66.9 388.2h.7v.7h-.7zM72.2 389.1h.7v.7h-.7zM78.4 391.1h.7v.7h-.7zM69.1 398.7h.7v.7h-.7zM72.9 389.7h.7v.7h-.7zM75.1 404.2h.7v.7h-.7zM66.1 393.0h.7v.7h-.7zM66.8 384.3h.7v.7h-.7zM74.2 397.9h.7v.7h-.7zM75.8 396.5h.7v.7h-.7zM62.7 394.2h.7v.7h-.7zM68.6 388.2h.7v.7h-.7zM66.7 398.2h.7v.7h-.7zM70.2 404.4h.7v.7h-.7zM73.6 384.5h.7v.7h-.7zM75.4 400.7h.7v.7h-.7zM71.6 388.1h.7v.7h-.7zM79.2 387.5h.7v.7h-.7zM71.1 384.5h.7v.7h-.7zM66.0 385.5h.7v.7h-.7zM76.3 400.4h.7v.7h-.7zM69.7 387.3h.7v.7h-.7zM71.2 396.3h.7v.7h-.7zM64.8 388.3h.7v.7h-.7zM71.1 397.9h.7v.7h-.7zM71.8 396.6h.7v.7h-.7zM66.0 381.4h.7v.7h-.7zM72.9 389.6h.7v.7h-.7zM71.0 392.4h.7v.7h-.7zM73.6 390.3h.7v.7h-.7zM77.8 394.5h.7v.7h-.7zM73.8 397.6h.7v.7h-.7zM76.1 396.4h.7v.7h-.7zM63.8 391.0h.7v.7h-.7zM79.7 396.7h.7v.7h-.7zM74.0 396.7h.7v.7h-.7zM68.7 390.8h.7v.7h-.7zM68.7 400.3h.7v.7h-.7zM73.1 403.5h.7v.7h-.7zM73.7 404.1h.7v.7h-.7zM73.5 388.2h.7v.7h-.7zM79.2 396.1h.7v.7h-.7zM76.7 395.4h.7v.7h-.7zM70.1 395.2h.7v.7h-.7zM66.6 388.1h.7v.7h-.7zM67.6 391.6h.7v.7h-.7zM65.5 393.8h.7v.7h-.7zM72.8 404.8h.7v.7h-.7zM79.6 394.0h.7v.7h-.7zM75.4 393.2h.7v.7h-.7zM73.2 394.1h.7v.7h-.7zM69.1 394.7h.7v.7h-.7zM65.0 396.6h.7v.7h-.7zM70.2 388.7h.7v.7h-.7zM69.9 397.2h.7v.7h-.7zM68.5 396.8h.7v.7h-.7zM74.0 402.4h.7v.7h-.7zM66.7 393.7h.7v.7h-.7zM73.8 402.1h.7v.7h-.7zM72.7 398.2h.7v.7h-.7zM65.0 391.3h.7v.7h-.7zM78.9 392.8h.7v.7h-.7zM81.1 390.5h.7v.7h-.7zM70.3 386.0h.7v.7h-.7zM74.3 395.7h.7v.7h-.7zM80.5 395.2h.7v.7h-.7zM70.4 386.9h.7v.7h-.7zM71.1 399.2h.7v.7h-.7zM74.8 400.7h.7v.7h-.7zM75.3 394.1h.7v.7h-.7zM74.2 395.2h.7v.7h-.7zM65.6 403.3h.7v.7h-.7zM73.2 388.8h.7v.7h-.7zM73.2 395.8h.7v.7h-.7zM75.9 401.9h.7v.7h-.7zM58.0 397.2h.7v.7h-.7zM78.3 389.3h.7v.7h-.7zM63.2 395.8h.7v.7h-.7zM73.0 396.1h.7v.7h-.7zM66.6 391.9h.7v.7h-.7zM72.4 398.2h.7v.7h-.7zM81.3 395.8h.7v.7h-.7zM68.8 381.9h.7v.7h-.7zM76.3 393.6h.7v.7h-.7zM71.0 389.1h.7v.7h-.7zM74.8 384.9h.7v.7h-.7zM72.0 394.9h.7v.7h-.7zM72.8 401.2h.7v.7h-.7zM71.1 394.8h.7v.7h-.7zM75.3 386.2h.7v.7h-.7zM70.2 394.7h.7v.7h-.7zM75.8 390.1h.7v.7h-.7zM75.1 396.3h.7v.7h-.7zM64.9 386.5h.7v.7h-.7zM65.1 395.0h.7v.7h-.7zM72.4 398.1h.7v.7h-.7zM75.2 391.4h.7v.7h-.7zM76.3 398.6h.7v.7h-.7zM73.6 396.8h.7v.7h-.7zM65.8 396.2h.7v.7h-.7zM66.9 388.0h.7v.7h-.7zM69.9 395.0h.7v.7h-.7zM71.3 392.6h.7v.7h-.7zM67.0 395.3h.7v.7h-.7zM68.2 386.9h.7v.7h-.7zM71.9 402.0h.7v.7h-.7zM69.7 388.7h.7v.7h-.7zM77.7 403.3h.7v.7h-.7zM70.2 393.2h.7v.7h-.7zM72.4 409.9h.7v.7h-.7zM72.1 399.5h.7v.7h-.7zM73.5 384.7h.7v.7h-.7zM66.6 387.8h.7v.7h-.7zM73.4 394.9h.7v.7h-.7zM79.5 392.9h.7v.7h-.7zM72.9 394.7h.7v.7h-.7zM72.1 406.5h.7v.7h-.7zM72.8 402.1h.7v.7h-.7zM77.3 391.1h.7v.7h-.7zM74.6 392.3h.7v.7h-.7zM72.0 395.1h.7v.7h-.7zM71.6 391.8h.7v.7h-.7zM78.5 392.9h.7v.7h-.7zM74.7 403.2h.7v.7h-.7zM74.3 399.7h.7v.7h-.7zM77.7 400.0h.7v.7h-.7zM79.2 386.8h.7v.7h-.7zM80.3 394.4h.7v.7h-.7zM63.7 390.9h.7v.7h-.7zM65.2 394.2h.7v.7h-.7zM64.8 389.0h.7v.7h-.7zM72.8 395.1h.7v.7h-.7zM67.9 393.1h.7v.7h-.7zM71.1 394.7h.7v.7h-.7zM71.5 393.1h.7v.7h-.7zM75.4 385.8h.7v.7h-.7zM69.3 395.0h.7v.7h-.7zM69.7 391.4h.7v.7h-.7zM69.5 395.4h.7v.7h-.7zM77.1 393.3h.7v.7h-.7zM70.3 396.2h.7v.7h-.7zM70.4 384.1h.7v.7h-.7zM72.7 392.3h.7v.7h-.7zM68.9 397.6h.7v.7h-.7zM71.7 391.3h.7v.7h-.7zM61.7 385.2h.7v.7h-.7zM71.6 393.7h.7v.7h-.7zM73.5 395.5h.7v.7h-.7zM69.3 387.6h.7v.7h-.7zM66.6 393.6h.7v.7h-.7zM66.3 398.3h.7v.7h-.7zM65.5 384.8h.7v.7h-.7zM70.6 384.9h.7v.7h-.7zM78.8 389.0h.7v.7h-.7zM71.3 393.0h.7v.7h-.7zM67.8 384.9h.7v.7h-.7zM63.1 398.9h.7v.7h-.7zM76.1 405.8h.7v.7h-.7zM64.9 397.3h.7v.7h-.7zM71.4 398.8h.7v.7h-.7zM69.2 398.1h.7v.7h-.7zM75.5 397.5h.7v.7h-.7zM78.0 393.4h.7v.7h-.7zM78.4 390.6h.7v.7h-.7zM79.0 379.7h.7v.7h-.7zM71.6 390.1h.7v.7h-.7zM71.5 399.8h.7v.7h-.7zM74.7 394.8h.7v.7h-.7zM79.2 386.5h.7v.7h-.7zM67.8 402.3h.7v.7h-.7zM73.0 383.3h.7v.7h-.7zM73.0 388.0h.7v.7h-.7zM78.1 400.4h.7v.7h-.7zM69.0 401.2h.7v.7h-.7zM67.7 399.2h.7v.7h-.7zM74.1 393.6h.7v.7h-.7zM65.1 392.8h.7v.7h-.7zM61.2 391.3h.7v.7h-.7zM63.2 400.7h.7v.7h-.7zM67.2 381.4h.7v.7h-.7zM74.1 396.3h.7v.7h-.7zM69.2 405.5h.7v.7h-.7zM75.0 394.7h.7v.7h-.7zM68.6 378.6h.7v.7h-.7zM73.7 399.4h.7v.7h-.7zM68.8 386.8h.7v.7h-.7zM71.3 385.4h.7v.7h-.7zM71.5 398.4h.7v.7h-.7zM78.3 395.7h.7v.7h-.7zM72.4 398.3h.7v.7h-.7zM77.8 392.6h.7v.7h-.7zM66.0 390.1h.7v.7h-.7zM65.8 389.6h.7v.7h-.7zM71.0 396.1h.7v.7h-.7zM72.2 394.7h.7v.7h-.7zM69.9 396.5h.7v.7h-.7zM75.5 398.3h.7v.7h-.7zM78.2 392.8h.7v.7h-.7zM70.4 403.3h.7v.7h-.7zM72.4 396.5h.7v.7h-.7zM70.0 399.4h.7v.7h-.7zM69.7 389.0h.7v.7h-.7zM71.2 392.0h.7v.7h-.7zM75.3 392.3h.7v.7h-.7zM72.1 393.1h.7v.7h-.7zM73.0 391.0h.7v.7h-.7zM76.5 386.8h.7v.7h-.7zM69.8 390.5h.7v.7h-.7zM74.4 394.5h.7v.7h-.7zM73.7 392.6h.7v.7h-.7zM68.3 388.4h.7v.7h-.7zM70.0 391.5h.7v.7h-.7zM72.8 396.2h.7v.7h-.7zM75.9 393.7h.7v.7h-.7zM68.1 388.7h.7v.7h-.7zM71.8 396.2h.7v.7h-.7zM80.3 395.3h.7v.7h-.7zM79.4 404.2h.7v.7h-.7zM66.8 400.7h.7v.7h-.7zM76.6 401.4h.7v.7h-.7zM71.5 399.4h.7v.7h-.7zM69.3 393.9h.7v.7h-.7zM71.6 403.7h.7v.7h-.7zM70.5 399.4h.7v.7h-.7zM71.8 390.5h.7v.7h-.7zM72.6 397.8h.7v.7h-.7zM68.3 397.7h.7v.7h-.7zM68.3 389.7h.7v.7h-.7zM72.5 393.1h.7v.7h-.7zM67.1 385.7h.7v.7h-.7zM71.6 395.6h.7v.7h-.7zM69.4 395.3h.7v.7h-.7zM64.6 396.4h.7v.7h-.7zM73.4 395.8h.7v.7h-.7zM68.7 394.7h.7v.7h-.7zM72.1 400.0h.7v.7h-.7zM72.7 395.6h.7v.7h-.7zM68.2 398.9h.7v.7h-.7zM76.8 391.7h.7v.7h-.7zM74.4 395.9h.7v.7h-.7zM71.3 387.5h.7v.7h-.7zM79.4 384.4h.7v.7h-.7zM72.9 392.3h.7v.7h-.7zM76.6 392.1h.7v.7h-.7zM71.7 397.5h.7v.7h-.7zM73.6 391.5h.7v.7h-.7zM74.6 396.4h.7v.7h-.7zM75.9 391.6h.7v.7h-.7zM71.3 392.2h.7v.7h-.7zM67.7 395.6h.7v.7h-.7zM73.3 401.8h.7v.7h-.7zM70.0 396.3h.7v.7h-.7zM76.6 393.7h.7v.7h-.7zM71.8 395.0h.7v.7h-.7zM68.4 389.1h.7v.7h-.7zM76.5 395.2h.7v.7h-.7zM71.2 387.7h.7v.7h-.7zM72.0 400.5h.7v.7h-.7zM66.3 389.6h.7v.7h-.7zM76.5 401.9h.7v.7h-.7zM78.5 391.4h.7v.7h-.7zM74.2 390.3h.7v.7h-.7zM73.8 392.4h.7v.7h-.7zM72.4 401.4h.7v.7h-.7zM73.0 393.0h.7v.7h-.7zM71.8 395.7h.7v.7h-.7zM69.2 395.4h.7v.7h-.7zM74.2 402.5h.7v.7h-.7zM62.3 388.0h.7v.7h-.7zM66.0 398.9h.7v.7h-.7zM82.4 395.3h.7v.7h-.7zM72.0 400.3h.7v.7h-.7zM60.6 393.4h.7v.7h-.7zM57.6 395.1h.7v.7h-.7zM69.2 391.7h.7v.7h-.7zM73.0 391.2h.7v.7h-.7zM76.5 394.3h.7v.7h-.7zM73.2 407.7h.7v.7h-.7zM69.5 399.2h.7v.7h-.7zM67.8 400.9h.7v.7h-.7zM75.8 395.0h.7v.7h-.7zM75.9 402.8h.7v.7h-.7zM77.7 394.3h.7v.7h-.7zM71.3 400.1h.7v.7h-.7zM64.0 393.6h.7v.7h-.7zM74.6 403.1h.7v.7h-.7zM82.2 412.8h.7v.7h-.7zM73.8 402.1h.7v.7h-.7zM64.8 397.0h.7v.7h-.7zM73.4 396.7h.7v.7h-.7zM72.3 403.4h.7v.7h-.7zM66.8 393.9h.7v.7h-.7zM62.3 407.8h.7v.7h-.7zM66.3 384.7h.7v.7h-.7zM76.2 396.8h.7v.7h-.7zM77.3 395.5h.7v.7h-.7zM83.6 404.3h.7v.7h-.7zM72.8 399.4h.7v.7h-.7zM70.9 405.1h.7v.7h-.7zM82.9 395.1h.7v.7h-.7zM66.1 403.3h.7v.7h-.7zM77.8 386.4h.7v.7h-.7zM68.2 390.4h.7v.7h-.7zM75.1 402.6h.7v.7h-.7zM68.0 389.4h.7v.7h-.7zM75.7 381.8h.7v.7h-.7zM75.5 397.2h.7v.7h-.7zM82.4 406.5h.7v.7h-.7zM68.9 396.3h.7v.7h-.7zM70.5 392.6h.7v.7h-.7zM72.4 406.3h.7v.7h-.7zM63.8 396.7h.7v.7h-.7zM80.1 404.5h.7v.7h-.7zM67.6 392.0h.7v.7h-.7zM67.4 385.5h.7v.7h-.7zM78.2 399.1h.7v.7h-.7zM68.2 386.9h.7v.7h-.7zM69.9 394.4h.7v.7h-.7zM81.3 394.8h.7v.7h-.7zM72.6 407.2h.7v.7h-.7zM75.6 397.0h.7v.7h-.7zM60.2 409.8h.7v.7h-.7zM75.2 395.0h.7v.7h-.7zM71.5 390.8h.7v.7h-.7zM67.1 386.5h.7v.7h-.7zM74.7 402.7h.7v.7h-.7zM72.9 404.8h.7v.7h-.7zM74.9 399.5h.7v.7h-.7zM67.2 403.3h.7v.7h-.7zM78.4 403.6h.7v.7h-.7zM78.7 394.7h.7v.7h-.7zM66.7 408.6h.7v.7h-.7zM68.8 400.5h.7v.7h-.7zM71.0 398.7h.7v.7h-.7zM70.5 394.2h.7v.7h-.7zM62.4 413.8h.7v.7h-.7zM73.1 383.0h.7v.7h-.7zM67.1 389.4h.7v.7h-.7zM68.0 378.0h.7v.7h-.7zM75.1 411.7h.7v.7h-.7zM70.7 404.5h.7v.7h-.7zM75.2 388.5h.7v.7h-.7zM78.6 384.9h.7v.7h-.7zM68.9 395.6h.7v.7h-.7zM78.8 399.5h.7v.7h-.7zM71.3 392.0h.7v.7h-.7zM72.5 398.8h.7v.7h-.7zM75.9 409.7h.7v.7h-.7zM76.0 398.6h.7v.7h-.7zM71.2 411.4h.7v.7h-.7zM73.1 398.4h.7v.7h-.7zM81.7 411.1h.7v.7h-.7zM75.1 397.6h.7v.7h-.7zM68.6 407.1h.7v.7h-.7zM69.6 406.2h.7v.7h-.7zM67.8 399.3h.7v.7h-.7zM74.2 399.7h.7v.7h-.7zM73.3 401.6h.7v.7h-.7zM66.0 389.6h.7v.7h-.7zM71.2 413.0h.7v.7h-.7zM71.3 391.1h.7v.7h-.7zM68.5 398.8h.7v.7h-.7zM78.4 394.0h.7v.7h-.7zM75.0 400.0h.7v.7h-.7zM70.1 390.9h.7v.7h-.7zM71.2 392.7h.7v.7h-.7zM74.9 384.4h.7v.7h-.7zM78.1 404.6h.7v.7h-.7zM75.1 410.5h.7v.7h-.7zM75.2 384.8h.7v.7h-.7zM72.3 402.1h.7v.7h-.7zM68.3 389.4h.7v.7h-.7zM74.3 402.6h.7v.7h-.7zM69.7 396.6h.7v.7h-.7zM69.3 394.0h.7v.7h-.7zM71.7 407.1h.7v.7h-.7zM63.4 395.8h.7v.7h-.7zM80.7 401.0h.7v.7h-.7zM72.8 405.2h.7v.7h-.7zM66.6 388.8h.7v.7h-.7zM63.1 386.8h.7v.7h-.7zM73.3 405.3h.7v.7h-.7zM69.8 393.1h.7v.7h-.7zM74.2 403.4h.7v.7h-.7zM73.4 383.3h.7v.7h-.7zM69.1 378.3h.7v.7h-.7zM73.3 391.7h.7v.7h-.7zM68.5 410.5h.7v.7h-.7zM79.1 402.4h.7v.7h-.7zM73.5 399.9h.7v.7h-.7zM68.9 398.1h.7v.7h-.7zM82.2 391.5h.7v.7h-.7zM68.5 399.8h.7v.7h-.7zM76.8 405.2h.7v.7h-.7zM66.8 397.5h.7v.7h-.7zM70.6 388.7h.7v.7h-.7zM72.4 394.7h.7v.7h-.7zM76.9 402.0h.7v.7h-.7zM67.8 399.1h.7v.7h-.7zM70.1 393.4h.7v.7h-.7zM69.4 407.0h.7v.7h-.7zM69.8 384.8h.7v.7h-.7zM67.9 404.9h.7v.7h-.7zM83.5 390.1h.7v.7h-.7zM70.1 395.9h.7v.7h-.7zM64.5 401.7h.7v.7h-.7zM71.7 400.7h.7v.7h-.7zM84.0 396.4h.7v.7h-.7zM76.2 405.2h.7v.7h-.7zM68.6 393.8h.7v.7h-.7zM80.3 404.2h.7v.7h-.7zM72.8 389.8h.7v.7h-.7zM76.7 402.7h.7v.7h-.7zM83.8 410.3h.7v.7h-.7zM76.3 400.6h.7v.7h-.7zM72.3 394.1h.7v.7h-.7zM73.7 400.4h.7v.7h-.7zM75.5 407.2h.7v.7h-.7zM73.7 394.2h.7v.7h-.7zM76.3 410.9h.7v.7h-.7zM67.5 401.8h.7v.7h-.7zM74.9 402.8h.7v.7h-.7zM74.7 397.8h.7v.7h-.7zM71.5 411.9h.7v.7h-.7zM81.3 387.3h.7v.7h-.7zM58.4 402.0h.7v.7h-.7zM68.4 394.4h.7v.7h-.7zM63.5 401.3h.7v.7h-.7zM71.7 394.2h.7v.7h-.7zM76.8 417.9h.7v.7h-.7zM79.9 407.9h.7v.7h-.7zM69.8 403.8h.7v.7h-.7zM71.8 407.7h.7v.7h-.7zM75.1 398.2h.7v.7h-.7zM75.0 392.8h.7v.7h-.7zM76.2 410.5h.7v.7h-.7zM70.1 402.9h.7v.7h-.7zM63.1 406.0h.7v.7h-.7zM76.7 390.4h.7v.7h-.7zM81.3 399.4h.7v.7h-.7zM62.8 387.6h.7v.7h-.7zM76.7 396.3h.7v.7h-.7zM77.9 386.2h.7v.7h-.7zM71.5 406.3h.7v.7h-.7zM68.4 403.9h.7v.7h-.7zM70.1 401.2h.7v.7h-.7zM73.7 416.3h.7v.7h-.7zM65.4 404.7h.7v.7h-.7zM79.0 389.5h.7v.7h-.7zM72.4 416.9h.7v.7h-.7zM77.6 374.9h.7v.7h-.7zM70.7 384.9h.7v.7h-.7zM73.6 392.7h.7v.7h-.7zM69.0 391.8h.7v.7h-.7zM73.6 394.8h.7v.7h-.7zM67.2 396.7h.7v.7h-.7zM74.2 391.7h.7v.7h-.7zM77.9 385.3h.7v.7h-.7zM74.2 395.4h.7v.7h-.7zM80.4 393.4h.7v.7h-.7zM68.5 387.8h.7v.7h-.7zM82.6 403.4h.7v.7h-.7zM66.2 395.8h.7v.7h-.7zM66.9 410.6h.7v.7h-.7zM74.2 382.3h.7v.7h-.7zM73.1 405.8h.7v.7h-.7zM72.0 402.3h.7v.7h-.7zM71.4 400.2h.7v.7h-.7zM73.1 392.9h.7v.7h-.7zM73.9 399.8h.7v.7h-.7zM71.8 393.1h.7v.7h-.7zM66.6 400.5h.7v.7h-.7zM76.4 379.2h.7v.7h-.7zM69.1 409.3h.7v.7h-.7zM76.9 392.8h.7v.7h-.7zM79.2 390.6h.7v.7h-.7zM67.8 414.0h.7v.7h-.7zM69.7 396.8h.7v.7h-.7zM63.2 390.4h.7v.7h-.7zM65.7 397.4h.7v.7h-.7zM62.2 407.0h.7v.7h-.7zM70.1 393.7h.7v.7h-.7zM68.6 404.4h.7v.7h-.7zM80.2 395.3h.7v.7h-.7zM80.6 411.3h.7v.7h-.7zM79.2 400.9h.7v.7h-.7zM64.0 403.9h.7v.7h-.7zM69.8 400.1h.7v.7h-.7zM61.9 396.2h.7v.7h-.7zM73.2 391.0h.7v.7h-.7zM73.6 411.8h.7v.7h-.7zM73.2 393.0h.7v.7h-.7zM84.8 381.3h.7v.7h-.7zM67.1 401.8h.7v.7h-.7zM68.8 380.2h.7v.7h-.7zM73.4 405.1h.7v.7h-.7zM67.7 410.2h.7v.7h-.7zM74.7 408.0h.7v.7h-.7zM63.8 398.5h.7v.7h-.7zM80.6 414.6h.7v.7h-.7zM79.1 398.5h.7v.7h-.7zM73.0 393.5h.7v.7h-.7zM77.9 392.9h.7v.7h-.7zM72.7 382.0h.7v.7h-.7zM63.9 412.7h.7v.7h-.7zM72.3 400.2h.7v.7h-.7zM60.2 398.2h.7v.7h-.7zM83.1 386.5h.7v.7h-.7zM59.3 397.2h.7v.7h-.7zM69.2 396.8h.7v.7h-.7zM65.3 387.7h.7v.7h-.7zM65.4 403.6h.7v.7h-.7zM71.7 405.1h.7v.7h-.7zM66.2 403.2h.7v.7h-.7zM69.6 399.2h.7v.7h-.7zM77.0 398.8h.7v.7h-.7zM70.1 385.2h.7v.7h-.7zM72.3 404.8h.7v.7h-.7zM68.6 398.0h.7v.7h-.7zM62.5 387.8h.7v.7h-.7zM74.2 408.9h.7v.7h-.7zM70.3 385.1h.7v.7h-.7zM70.0 386.0h.7v.7h-.7zM70.5 414.0h.7v.7h-.7zM73.6 397.3h.7v.7h-.7zM77.6 395.5h.7v.7h-.7zM73.8 400.1h.7v.7h-.7zM74.4 386.7h.7v.7h-.7zM75.8 405.6h.7v.7h-.7zM59.7 376.7h.7v.7h-.7zM67.2 410.5h.7v.7h-.7zM72.1 404.0h.7v.7h-.7zM75.0 405.6h.7v.7h-.7zM68.6 393.8h.7v.7h-.7zM74.0 403.4h.7v.7h-.7zM75.1 401.2h.7v.7h-.7zM69.4 407.4h.7v.7h-.7zM74.5 407.1h.7v.7h-.7zM58.3 406.6h.7v.7h-.7zM58.8 400.2h.7v.7h-.7zM68.4 399.5h.7v.7h-.7zM69.4 396.0h.7v.7h-.7zM73.0 401.3h.7v.7h-.7zM67.7 378.1h.7v.7h-.7zM67.8 402.9h.7v.7h-.7zM67.4 402.0h.7v.7h-.7zM70.0 390.9h.7v.7h-.7zM78.3 411.9h.7v.7h-.7zM71.4 398.1h.7v.7h-.7zM77.2 387.8h.7v.7h-.7zM67.3 407.7h.7v.7h-.7zM76.9 394.5h.7v.7h-.7zM67.8 401.3h.7v.7h-.7zM64.4 394.5h.7v.7h-.7zM70.7 378.6h.7v.7h-.7zM75.2 404.7h.7v.7h-.7zM77.8 386.8h.7v.7h-.7zM65.0 391.9h.7v.7h-.7zM64.9 415.2h.7v.7h-.7zM66.7 396.0h.7v.7h-.7zM73.1 402.2h.7v.7h-.7zM79.9 389.7h.7v.7h-.7zM76.8 399.7h.7v.7h-.7zM65.6 399.7h.7v.7h-.7zM64.4 411.7h.7v.7h-.7zM68.0 406.7h.7v.7h-.7zM79.1 393.5h.7v.7h-.7zM67.1 399.6h.7v.7h-.7zM66.3 405.8h.7v.7h-.7zM73.0 392.3h.7v.7h-.7zM68.3 404.4h.7v.7h-.7zM64.1 412.3h.7v.7h-.7zM67.7 396.9h.7v.7h-.7zM66.9 411.7h.7v.7h-.7zM76.5 409.1h.7v.7h-.7zM75.6 399.2h.7v.7h-.7zM81.3 403.9h.7v.7h-.7zM74.4 403.2h.7v.7h-.7zM76.0 400.8h.7v.7h-.7zM71.1 385.5h.7v.7h-.7zM83.3 387.9h.7v.7h-.7zM60.2 392.7h.7v.7h-.7zM82.6 408.5h.7v.7h-.7zM68.7 400.7h.7v.7h-.7zM71.9 382.3h.7v.7h-.7zM70.2 400.9h.7v.7h-.7zM78.4 388.7h.7v.7h-.7zM59.6 385.6h.7v.7h-.7zM73.8 399.2h.7v.7h-.7zM72.8 399.7h.7v.7h-.7zM70.0 387.3h.7v.7h-.7zM74.5 401.7h.7v.7h-.7zM75.2 408.7h.7v.7h-.7zM65.2 379.3h.7v.7h-.7zM62.2 416.0h.7v.7h-.7zM67.0 401.8h.7v.7h-.7zM71.9 404.5h.7v.7h-.7zM89.6 394.3h.7v.7h-.7zM71.1 393.6h.7v.7h-.7zM73.3 402.8h.7v.7h-.7zM66.7 409.3h.7v.7h-.7zM78.3 402.1h.7v.7h-.7zM71.4 396.6h.7v.7h-.7zM63.0 403.9h.7v.7h-.7zM66.6 394.4h.7v.7h-.7zM77.5 391.0h.7v.7h-.7zM69.1 405.5h.7v.7h-.7zM82.2 392.8h.7v.7h-.7zM78.1 393.1h.7v.7h-.7zM74.1 402.5h.7v.7h-.7zM65.7 406.9h.7v.7h-.7zM81.9 398.9h.7v.7h-.7zM73.5 388.9h.7v.7h-.7zM81.8 399.0h.7v.7h-.7zM65.0 404.8h.7v.7h-.7zM64.0 392.9h.7v.7h-.7zM60.3 409.8h.7v.7h-.7zM84.2 393.3h.7v.7h-.7zM68.4 393.8h.7v.7h-.7zM68.9 403.0h.7v.7h-.7zM80.0 390.2h.7v.7h-.7zM74.4 383.7h.7v.7h-.7zM80.4 397.8h.7v.7h-.7zM68.1 411.1h.7v.7h-.7zM71.4 409.7h.7v.7h-.7zM77.9 412.1h.7v.7h-.7zM67.6 399.0h.7v.7h-.7zM74.0 396.9h.7v.7h-.7zM80.4 392.6h.7v.7h-.7zM77.5 409.7h.7v.7h-.7zM61.3 390.6h.7v.7h-.7zM67.0 394.0h.7v.7h-.7zM74.1 397.1h.7v.7h-.7zM72.4 394.7h.7v.7h-.7zM71.5 402.5h.7v.7h-.7zM76.1 392.1h.7v.7h-.7zM71.4 392.3h.7v.7h-.7zM71.0 386.7h.7v.7h-.7zM77.2 404.0h.7v.7h-.7zM71.3 392.9h.7v.7h-.7zM69.5 393.0h.7v.7h-.7zM63.5 411.9h.7v.7h-.7zM90.1 388.4h.7v.7h-.7zM65.6 403.2h.7v.7h-.7zM75.3 385.6h.7v.7h-.7zM61.4 402.9h.7v.7h-.7zM61.0 410.2h.7v.7h-.7zM69.3 399.2h.7v.7h-.7zM72.0 393.9h.7v.7h-.7zM71.2 396.0h.7v.7h-.7zM78.8 397.7h.7v.7h-.7zM71.8 394.2h.7v.7h-.7zM68.5 392.5h.7v.7h-.7zM72.1 413.6h.7v.7h-.7zM78.1 400.4h.7v.7h-.7zM81.2 406.8h.7v.7h-.7zM73.1 397.2h.7v.7h-.7zM66.0 400.5h.7v.7h-.7zM70.3 385.5h.7v.7h-.7zM64.9 414.4h.7v.7h-.7zM73.2 402.6h.7v.7h-.7zM73.1 394.7h.7v.7h-.7zM74.5 407.4h.7v.7h-.7zM70.3 402.7h.7v.7h-.7zM77.6 394.5h.7v.7h-.7zM72.9 392.4h.7v.7h-.7zM75.3 395.5h.7v.7h-.7zM78.3 392.2h.7v.7h-.7zM81.3 396.0h.7v.7h-.7zM67.4 391.1h.7v.7h-.7zM75.6 391.5h.7v.7h-.7zM81.9 409.0h.7v.7h-.7zM74.8 386.8h.7v.7h-.7zM71.9 392.5h.7v.7h-.7zM62.0 402.0h.7v.7h-.7zM84.1 394.1h.7v.7h-.7zM76.5 409.0h.7v.7h-.7zM66.7 395.7h.7v.7h-.7zM73.5 402.4h.7v.7h-.7zM65.7 400.3h.7v.7h-.7zM71.4 406.3h.7v.7h-.7zM63.2 393.9h.7v.7h-.7zM69.2 395.9h.7v.7h-.7zM76.0 393.3h.7v.7h-.7zM87.1 392.7h.7v.7h-.7zM76.6 406.9h.7v.7h-.7zM77.3 396.8h.7v.7h-.7zM67.4 396.4h.7v.7h-.7zM75.7 399.5h.7v.7h-.7zM75.2 403.2h.7v.7h-.7zM67.1 390.8h.7v.7h-.7zM79.9 394.5h.7v.7h-.7zM63.3 413.7h.7v.7h-.7zM67.4 390.8h.7v.7h-.7zM77.3 389.2h.7v.7h-.7zM67.2 407.1h.7v.7h-.7zM67.5 419.1h.7v.7h-.7zM72.5 420.5h.7v.7h-.7zM72.7 399.0h.7v.7h-.7zM68.5 396.7h.7v.7h-.7zM69.2 398.3h.7v.7h-.7zM76.2 388.1h.7v.7h-.7zM67.0 381.3h.7v.7h-.7zM80.3 397.9h.7v.7h-.7zM71.9 398.0h.7v.7h-.7zM77.5 401.1h.7v.7h-.7zM76.7 397.1h.7v.7h-.7zM71.3 398.0h.7v.7h-.7zM61.8 407.4h.7v.7h-.7zM63.3 390.3h.7v.7h-.7zM75.7 399.0h.7v.7h-.7zM76.5 412.5h.7v.7h-.7zM82.2 409.8h.7v.7h-.7zM70.8 415.3h.7v.7h-.7zM67.2 397.8h.7v.7h-.7zM77.5 396.7h.7v.7h-.7zM71.3 395.6h.7v.7h-.7zM79.5 378.3h.7v.7h-.7zM79.0 407.2h.7v.7h-.7zM71.6 403.1h.7v.7h-.7zM66.7 407.6h.7v.7h-.7zM88.8 391.0h.7v.7h-.7zM79.7 398.0h.7v.7h-.7zM70.1 394.5h.7v.7h-.7zM71.0 388.2h.7v.7h-.7zM64.5 412.1h.7v.7h-.7zM71.9 403.0h.7v.7h-.7zM73.7 402.4h.7v.7h-.7zM63.6 390.7h.7v.7h-.7zM75.5 406.7h.7v.7h-.7zM65.7 393.8h.7v.7h-.7zM66.1 403.9h.7v.7h-.7zM73.9 398.8h.7v.7h-.7zM68.4 401.3h.7v.7h-.7zM72.2 392.4h.7v.7h-.7zM73.8 393.1h.7v.7h-.7zM77.2 403.6h.7v.7h-.7zM68.2 403.3h.7v.7h-.7zM72.4 392.7h.7v.7h-.7zM67.0 384.9h.7v.7h-.7zM65.8 401.3h.7v.7h-.7zM78.6 393.3h.7v.7h-.7zM72.9 401.3h.7v.7h-.7zM76.3 402.1h.7v.7h-.7zM78.7 404.8h.7v.7h-.7zM67.8 401.8h.7v.7h-.7zM59.1 397.0h.7v.7h-.7zM72.1 403.3h.7v.7h-.7zM70.3 405.3h.7v.7h-.7zM79.3 391.6h.7v.7h-.7zM69.0 400.6h.7v.7h-.7zM74.7 399.7h.7v.7h-.7zM76.6 388.8h.7v.7h-.7zM76.3 408.1h.7v.7h-.7zM78.1 402.0h.7v.7h-.7zM70.7 401.8h.7v.7h-.7zM71.6 385.5h.7v.7h-.7zM68.7 398.2h.7v.7h-.7zM69.2 390.9h.7v.7h-.7zM70.7 395.5h.7v.7h-.7zM72.4 398.1h.7v.7h-.7zM72.9 406.6h.7v.7h-.7zM72.8 401.8h.7v.7h-.7zM65.3 374.3h.7v.7h-.7zM69.8 404.1h.7v.7h-.7zM70.1 393.4h.7v.7h-.7zM65.2 405.8h.7v.7h-.7zM69.1 400.5h.7v.7h-.7zM78.2 402.9h.7v.7h-.7zM84.3 397.4h.7v.7h-.7zM77.3 404.2h.7v.7h-.7zM68.4 398.9h.7v.7h-.7zM68.9 390.1h.7v.7h-.7zM73.6 392.1h.7v.7h-.7zM81.2 392.4h.7v.7h-.7zM69.0 399.2h.7v.7h-.7zM69.1 398.9h.7v.7h-.7zM68.7 386.8h.7v.7h-.7zM58.7 387.9h.7v.7h-.7zM80.4 402.1h.7v.7h-.7zM72.8 394.7h.7v.7h-.7zM71.2 401.0h.7v.7h-.7zM64.4 392.0h.7v.7h-.7zM67.1 408.8h.7v.7h-.7zM66.2 408.1h.7v.7h-.7zM69.4 420.9h.7v.7h-.7zM71.6 398.8h.7v.7h-.7zM79.4 405.7h.7v.7h-.7zM77.2 389.7h.7v.7h-.7zM78.2 412.3h.7v.7h-.7zM71.4 394.5h.7v.7h-.7zM66.0 406.8h.7v.7h-.7zM73.6 398.6h.7v.7h-.7zM65.2 411.8h.7v.7h-.7zM76.8 398.3h.7v.7h-.7zM80.1 390.7h.7v.7h-.7zM76.8 390.3h.7v.7h-.7zM79.8 396.2h.7v.7h-.7zM78.7 395.1h.7v.7h-.7zM74.2 407.9h.7v.7h-.7zM67.0 399.3h.7v.7h-.7zM67.4 405.5h.7v.7h-.7zM68.7 395.4h.7v.7h-.7zM70.9 408.1h.7v.7h-.7zM66.3 398.3h.7v.7h-.7zM70.2 394.0h.7v.7h-.7zM67.7 397.2h.7v.7h-.7zM73.1 385.8h.7v.7h-.7zM73.3 388.8h.7v.7h-.7zM72.1 417.2h.7v.7h-.7zM66.7 398.0h.7v.7h-.7zM70.6 406.5h.7v.7h-.7zM69.4 383.9h.7v.7h-.7zM63.1 400.0h.7v.7h-.7zM73.4 407.3h.7v.7h-.7zM69.0 404.0h.7v.7h-.7zM66.1 409.1h.7v.7h-.7zM71.6 392.9h.7v.7h-.7zM73.0 412.8h.7v.7h-.7zM67.3 388.3h.7v.7h-.7zM66.4 389.0h.7v.7h-.7zM71.7 401.4h.7v.7h-.7zM71.1 400.1h.7v.7h-.7zM78.5 396.1h.7v.7h-.7zM65.1 379.8h.7v.7h-.7zM73.3 392.9h.7v.7h-.7zM70.6 401.9h.7v.7h-.7zM74.5 385.6h.7v.7h-.7zM66.7 399.1h.7v.7h-.7zM71.2 407.9h.7v.7h-.7zM69.2 381.6h.7v.7h-.7zM78.4 385.1h.7v.7h-.7zM66.7 401.7h.7v.7h-.7zM66.2 418.9h.7v.7h-.7zM73.3 402.9h.7v.7h-.7zM69.6 416.7h.7v.7h-.7zM75.0 392.6h.7v.7h-.7zM78.9 384.6h.7v.7h-.7zM68.8 400.9h.7v.7h-.7zM72.8 390.6h.7v.7h-.7zM80.7 410.6h.7v.7h-.7zM66.9 401.6h.7v.7h-.7zM68.5 395.0h.7v.7h-.7zM77.4 399.5h.7v.7h-.7zM71.4 399.3h.7v.7h-.7zM65.6 408.5h.7v.7h-.7zM67.9 409.2h.7v.7h-.7zM69.5 394.8h.7v.7h-.7zM80.2 400.1h.7v.7h-.7zM68.5 394.1h.7v.7h-.7zM75.3 413.8h.7v.7h-.7zM75.4 395.3h.7v.7h-.7zM65.8 393.0h.7v.7h-.7zM71.3 400.5h.7v.7h-.7zM68.4 409.0h.7v.7h-.7zM66.7 392.6h.7v.7h-.7zM74.7 402.4h.7v.7h-.7zM69.9 406.4h.7v.7h-.7zM64.3 411.9h.7v.7h-.7zM84.0 414.5h.7v.7h-.7zM72.7 414.6h.7v.7h-.7zM72.3 409.4h.7v.7h-.7zM70.9 400.1h.7v.7h-.7zM74.9 384.2h.7v.7h-.7zM70.9 412.6h.7v.7h-.7zM55.9 401.7h.7v.7h-.7zM77.1 401.2h.7v.7h-.7zM73.1 409.9h.7v.7h-.7zM73.8 383.0h.7v.7h-.7zM66.8 396.1h.7v.7h-.7zM72.8 394.8h.7v.7h-.7zM71.4 412.2h.7v.7h-.7zM55.9 407.9h.7v.7h-.7zM77.2 403.4h.7v.7h-.7zM72.1 399.0h.7v.7h-.7zM74.0 400.5h.7v.7h-.7zM68.0 404.9h.7v.7h-.7zM67.5 398.2h.7v.7h-.7zM70.0 389.1h.7v.7h-.7zM75.3 397.9h.7v.7h-.7zM65.6 397.9h.7v.7h-.7zM64.4 410.3h.7v.7h-.7zM74.8 414.8h.7v.7h-.7zM68.9 404.3h.7v.7h-.7zM66.7 391.5h.7v.7h-.7zM71.5 401.9h.7v.7h-.7zM77.1 396.3h.7v.7h-.7zM78.1 406.4h.7v.7h-.7zM67.2 397.0h.7v.7h-.7zM67.0 412.4h.7v.7h-.7zM69.0 405.7h.7v.7h-.7zM77.0 396.4h.7v.7h-.7zM69.3 401.3h.7v.7h-.7zM67.8 388.2h.7v.7h-.7zM66.7 401.3h.7v.7h-.7zM73.1 412.9h.7v.7h-.7zM62.0 402.6h.7v.7h-.7zM65.7 407.9h.7v.7h-.7zM75.8 399.5h.7v.7h-.7zM80.1 395.5h.7v.7h-.7zM69.1 389.9h.7v.7h-.7zM68.4 399.4h.7v.7h-.7zM75.7 409.0h.7v.7h-.7zM70.5 392.5h.7v.7h-.7zM70.2 395.0h.7v.7h-.7zM69.4 395.2h.7v.7h-.7zM67.2 398.1h.7v.7h-.7zM69.2 397.1h.7v.7h-.7zM64.4 399.7h.7v.7h-.7zM75.1 403.8h.7v.7h-.7zM69.0 389.2h.7v.7h-.7zM64.9 389.0h.7v.7h-.7zM68.5 396.0h.7v.7h-.7zM62.3 404.0h.7v.7h-.7zM63.6 392.9h.7v.7h-.7zM68.1 405.2h.7v.7h-.7zM82.0 395.6h.7v.7h-.7zM70.5 395.3h.7v.7h-.7zM70.9 397.1h.7v.7h-.7zM85.5 389.7h.7v.7h-.7zM71.4 392.1h.7v.7h-.7zM73.9 394.3h.7v.7h-.7zM75.1 389.7h.7v.7h-.7zM83.5 400.2h.7v.7h-.7zM62.4 404.2h.7v.7h-.7zM69.4 389.1h.7v.7h-.7zM74.4 394.3h.7v.7h-.7zM76.0 394.1h.7v.7h-.7zM76.9 399.7h.7v.7h-.7zM73.9 399.8h.7v.7h-.7zM70.0 395.6h.7v.7h-.7zM74.5 404.3h.7v.7h-.7zM69.8 416.6h.7v.7h-.7zM81.2 389.2h.7v.7h-.7zM77.9 397.9h.7v.7h-.7zM73.3 392.1h.7v.7h-.7zM81.0 391.8h.7v.7h-.7zM71.6 392.6h.7v.7h-.7zM82.5 408.6h.7v.7h-.7zM64.8 394.9h.7v.7h-.7zM74.0 395.0h.7v.7h-.7zM70.1 389.8h.7v.7h-.7zM73.4 389.7h.7v.7h-.7zM76.5 417.9h.7v.7h-.7zM70.2 411.8h.7v.7h-.7zM74.0 393.1h.7v.7h-.7zM70.1 390.8h.7v.7h-.7zM72.6 404.2h.7v.7h-.7zM77.1 396.3h.7v.7h-.7zM65.5 397.9h.7v.7h-.7zM81.1 400.8h.7v.7h-.7zM71.7 381.8h.7v.7h-.7zM69.7 402.9h.7v.7h-.7zM66.9 409.4h.7v.7h-.7zM68.9 391.5h.7v.7h-.7zM68.9 397.8h.7v.7h-.7zM77.4 394.0h.7v.7h-.7zM62.3 397.9h.7v.7h-.7zM74.8 410.9h.7v.7h-.7zM65.9 410.5h.7v.7h-.7zM75.7 402.2h.7v.7h-.7zM67.8 391.4h.7v.7h-.7zM66.8 406.0h.7v.7h-.7zM73.2 407.1h.7v.7h-.7zM81.8 398.7h.7v.7h-.7zM71.7 414.0h.7v.7h-.7zM64.9 394.9h.7v.7h-.7zM70.0 395.5h.7v.7h-.7zM72.8 391.8h.7v.7h-.7zM78.3 387.6h.7v.7h-.7zM67.6 384.9h.7v.7h-.7zM64.4 403.3h.7v.7h-.7zM75.4 396.9h.7v.7h-.7zM76.6 403.5h.7v.7h-.7zM68.9 398.2h.7v.7h-.7zM74.0 414.7h.7v.7h-.7zM69.6 401.5h.7v.7h-.7zM75.0 408.3h.7v.7h-.7zM74.3 407.2h.7v.7h-.7zM66.2 396.4h.7v.7h-.7zM61.5 398.1h.7v.7h-.7zM84.6 400.5h.7v.7h-.7zM72.5 400.7h.7v.7h-.7zM72.8 387.9h.7v.7h-.7zM68.3 397.1h.7v.7h-.7zM72.9 391.6h.7v.7h-.7zM71.4 392.7h.7v.7h-.7zM64.9 393.3h.7v.7h-.7zM67.6 405.3h.7v.7h-.7zM79.2 403.2h.7v.7h-.7zM70.9 394.1h.7v.7h-.7zM63.5 394.3h.7v.7h-.7zM80.5 407.8h.7v.7h-.7zM73.2 396.6h.7v.7h-.7zM72.0 401.9h.7v.7h-.7zM72.0 402.0h.7v.7h-.7zM67.8 398.9h.7v.7h-.7zM70.1 407.2h.7v.7h-.7zM65.3 408.9h.7v.7h-.7zM71.5 394.5h.7v.7h-.7zM72.1 399.5h.7v.7h-.7zM70.7 401.9h.7v.7h-.7zM68.9 385.0h.7v.7h-.7zM75.8 398.4h.7v.7h-.7zM81.0 401.6h.7v.7h-.7zM61.2 408.5h.7v.7h-.7zM68.3 402.9h.7v.7h-.7zM84.0 407.3h.7v.7h-.7zM66.1 397.8h.7v.7h-.7zM63.3 403.9h.7v.7h-.7zM75.0 390.4h.7v.7h-.7zM74.4 406.0h.7v.7h-.7zM76.4 393.2h.7v.7h-.7zM68.3 389.6h.7v.7h-.7zM65.0 401.1h.7v.7h-.7zM72.2 409.0h.7v.7h-.7zM73.5 396.0h.7v.7h-.7zM64.3 410.9h.7v.7h-.7zM72.9 398.3h.7v.7h-.7zM66.6 390.2h.7v.7h-.7zM75.4 390.8h.7v.7h-.7zM75.2 403.6h.7v.7h-.7zM69.9 385.6h.7v.7h-.7zM74.2 409.8h.7v.7h-.7zM67.5 388.5h.7v.7h-.7zM77.9 399.7h.7v.7h-.7zM68.6 408.4h.7v.7h-.7zM70.5 402.2h.7v.7h-.7zM69.8 392.6h.7v.7h-.7zM73.2 391.7h.7v.7h-.7zM62.4 394.3h.7v.7h-.7zM78.7 407.3h.7v.7h-.7zM83.7 406.5h.7v.7h-.7zM80.7 400.6h.7v.7h-.7zM69.7 402.3h.7v.7h-.7zM66.9 404.4h.7v.7h-.7zM69.6 400.6h.7v.7h-.7zM67.4 397.5h.7v.7h-.7zM77.3 396.9h.7v.7h-.7zM68.4 400.8h.7v.7h-.7zM76.8 397.1h.7v.7h-.7zM65.7 386.2h.7v.7h-.7zM64.8 407.1h.7v.7h-.7zM71.5 402.4h.7v.7h-.7zM77.8 400.8h.7v.7h-.7zM74.6 394.6h.7v.7h-.7zM63.3 403.6h.7v.7h-.7zM71.5 403.2h.7v.7h-.7zM66.3 397.5h.7v.7h-.7zM82.9 391.9h.7v.7h-.7zM72.5 409.0h.7v.7h-.7zM70.8 399.6h.7v.7h-.7zM60.5 404.7h.7v.7h-.7zM69.6 408.8h.7v.7h-.7zM71.5 395.6h.7v.7h-.7zM74.3 396.7h.7v.7h-.7zM69.2 410.8h.7v.7h-.7zM77.3 399.5h.7v.7h-.7zM76.4 405.1h.7v.7h-.7zM75.1 399.0h.7v.7h-.7zM72.4 401.8h.7v.7h-.7zM75.0 401.4h.7v.7h-.7zM69.0 398.0h.7v.7h-.7zM74.5 390.8h.7v.7h-.7zM72.0 404.6h.7v.7h-.7zM72.9 396.4h.7v.7h-.7zM71.9 394.8h.7v.7h-.7zM77.3 395.6h.7v.7h-.7zM63.0 389.1h.7v.7h-.7zM73.6 400.3h.7v.7h-.7zM69.5 388.3h.7v.7h-.7zM71.2 392.0h.7v.7h-.7zM68.5 398.6h.7v.7h-.7zM67.9 401.1h.7v.7h-.7zM68.0 395.0h.7v.7h-.7zM70.8 410.1h.7v.7h-.7zM80.5 406.0h.7v.7h-.7zM68.0 398.7h.7v.7h-.7zM76.9 405.0h.7v.7h-.7zM63.2 398.2h.7v.7h-.7zM68.0 404.5h.7v.7h-.7zM75.4 394.4h.7v.7h-.7zM83.5 396.4h.7v.7h-.7zM85.2 397.3h.7v.7h-.7zM71.5 413.5h.7v.7h-.7zM69.2 394.9h.7v.7h-.7zM79.9 398.3h.7v.7h-.7zM74.6 388.7h.7v.7h-.7zM81.6 406.3h.7v.7h-.7zM73.9 404.2h.7v.7h-.7zM69.3 394.9h.7v.7h-.7zM63.5 401.5h.7v.7h-.7zM78.7 405.3h.7v.7h-.7zM77.0 404.2h.7v.7h-.7zM67.0 388.4h.7v.7h-.7zM75.5 399.9h.7v.7h-.7zM77.3 396.5h.7v.7h-.7zM67.3 402.1h.7v.7h-.7zM69.0 385.8h.7v.7h-.7zM68.7 391.8h.7v.7h-.7zM66.0 394.3h.7v.7h-.7zM77.1 417.0h.7v.7h-.7zM81.3 395.4h.7v.7h-.7zM78.2 398.1h.7v.7h-.7zM74.2 393.3h.7v.7h-.7zM71.6 385.5h.7v.7h-.7zM81.6 392.7h.7v.7h-.7zM75.2 394.0h.7v.7h-.7zM73.5 389.4h.7v.7h-.7zM70.0 405.8h.7v.7h-.7zM75.2 383.5h.7v.7h-.7zM76.6 388.4h.7v.7h-.7zM73.5 402.7h.7v.7h-.7zM68.5 396.2h.7v.7h-.7zM70.7 401.8h.7v.7h-.7zM76.9 409.3h.7v.7h-.7zM73.8 414.2h.7v.7h-.7zM66.9 412.5h.7v.7h-.7zM70.6 404.6h.7v.7h-.7zM71.3 399.3h.7v.7h-.7zM67.1 401.7h.7v.7h-.7zM82.9 399.8h.7v.7h-.7zM71.9 398.7h.7v.7h-.7zM75.8 397.0h.7v.7h-.7zM72.0 400.3h.7v.7h-.7zM79.0 406.1h.7v.7h-.7zM66.3 393.7h.7v.7h-.7zM72.1 405.2h.7v.7h-.7zM77.2 397.0h.7v.7h-.7zM83.5 397.4h.7v.7h-.7zM79.6 409.7h.7v.7h-.7zM80.6 400.2h.7v.7h-.7zM75.1 386.7h.7v.7h-.7zM62.4 393.9h.7v.7h-.7zM75.9 406.9h.7v.7h-.7zM71.4 406.7h.7v.7h-.7zM75.1 410.5h.7v.7h-.7zM63.4 392.2h.7v.7h-.7zM66.8 390.5h.7v.7h-.7zM80.9 391.4h.7v.7h-.7zM67.5 395.5h.7v.7h-.7zM76.8 395.0h.7v.7h-.7zM76.0 402.9h.7v.7h-.7zM68.6 380.2h.7v.7h-.7zM67.1 388.9h.7v.7h-.7zM80.8 393.0h.7v.7h-.7zM66.2 401.6h.7v.7h-.7zM72.3 391.3h.7v.7h-.7zM77.9 405.8h.7v.7h-.7zM73.5 392.7h.7v.7h-.7zM67.3 382.7h.7v.7h-.7zM74.1 401.7h.7v.7h-.7zM67.0 398.8h.7v.7h-.7zM89.7 389.8h.7v.7h-.7zM62.8 403.4h.7v.7h-.7zM69.7 394.8h.7v.7h-.7zM75.4 397.6h.7v.7h-.7zM77.4 402.6h.7v.7h-.7zM78.3 399.5h.7v.7h-.7zM60.4 409.2h.7v.7h-.7zM62.8 406.7h.7v.7h-.7zM73.4 387.8h.7v.7h-.7zM72.4 405.5h.7v.7h-.7zM66.5 398.9h.7v.7h-.7zM68.0 390.8h.7v.7h-.7zM68.7 408.5h.7v.7h-.7zM75.7 398.4h.7v.7h-.7zM71.6 399.6h.7v.7h-.7zM73.5 400.0h.7v.7h-.7zM62.7 405.8h.7v.7h-.7zM67.4 378.3h.7v.7h-.7zM75.8 389.2h.7v.7h-.7zM71.2 397.9h.7v.7h-.7zM68.8 402.8h.7v.7h-.7zM70.5 396.4h.7v.7h-.7zM66.8 396.4h.7v.7h-.7zM66.4 398.9h.7v.7h-.7zM79.1 406.5h.7v.7h-.7zM74.3 388.0h.7v.7h-.7zM77.6 405.9h.7v.7h-.7zM83.1 381.0h.7v.7h-.7zM72.1 396.0h.7v.7h-.7zM77.9 390.1h.7v.7h-.7zM69.9 416.7h.7v.7h-.7zM77.4 383.0h.7v.7h-.7zM72.1 409.3h.7v.7h-.7zM68.7 403.2h.7v.7h-.7zM72.5 387.2h.7v.7h-.7zM68.6 407.4h.7v.7h-.7zM78.4 393.9h.7v.7h-.7zM78.1 393.0h.7v.7h-.7zM73.3 398.4h.7v.7h-.7zM65.2 401.1h.7v.7h-.7zM69.9 377.1h.7v.7h-.7zM67.5 392.0h.7v.7h-.7zM67.5 390.9h.7v.7h-.7zM68.3 379.4h.7v.7h-.7zM76.8 399.1h.7v.7h-.7zM73.4 396.5h.7v.7h-.7zM72.3 396.5h.7v.7h-.7zM66.1 386.7h.7v.7h-.7zM72.4 406.5h.7v.7h-.7zM73.3 411.2h.7v.7h-.7zM64.6 396.5h.7v.7h-.7zM68.7 408.2h.7v.7h-.7zM81.2 394.5h.7v.7h-.7zM76.0 396.7h.7v.7h-.7zM66.6 397.7h.7v.7h-.7zM66.4 410.7h.7v.7h-.7zM75.2 407.8h.7v.7h-.7zM73.9 379.5h.7v.7h-.7zM76.3 399.3h.7v.7h-.7zM59.1 399.3h.7v.7h-.7zM77.5 411.9h.7v.7h-.7zM66.5 404.7h.7v.7h-.7zM73.8 397.2h.7v.7h-.7zM70.5 402.7h.7v.7h-.7zM75.1 403.7h.7v.7h-.7zM69.8 388.2h.7v.7h-.7zM79.1 408.7h.7v.7h-.7zM68.9 398.3h.7v.7h-.7zM76.4 384.8h.7v.7h-.7zM74.7 417.5h.7v.7h-.7zM73.5 393.0h.7v.7h-.7zM83.1 398.6h.7v.7h-.7zM73.1 395.2h.7v.7h-.7zM73.0 384.5h.7v.7h-.7zM65.1 387.0h.7v.7h-.7zM76.9 397.8h.7v.7h-.7zM78.2 382.5h.7v.7h-.7zM68.8 410.0h.7v.7h-.7zM67.7 383.9h.7v.7h-.7zM68.0 395.8h.7v.7h-.7zM71.9 408.8h.7v.7h-.7zM79.2 410.7h.7v.7h-.7zM75.1 394.6h.7v.7h-.7zM69.3 386.9h.7v.7h-.7zM78.9 408.4h.7v.7h-.7zM72.5 391.5h.7v.7h-.7zM75.7 402.4h.7v.7h-.7zM72.8 389.4h.7v.7h-.7zM73.3 394.1h.7v.7h-.7zM76.0 403.2h.7v.7h-.7zM74.4 395.2h.7v.7h-.7zM80.2 404.6h.7v.7h-.7zM78.9 405.1h.7v.7h-.7zM75.6 401.6h.7v.7h-.7zM66.2 384.2h.7v.7h-.7zM66.9 403.3h.7v.7h-.7zM76.9 400.0h.7v.7h-.7zM72.5 412.9h.7v.7h-.7zM69.9 384.5h.7v.7h-.7zM63.6 396.0h.7v.7h-.7zM75.8 404.3h.7v.7h-.7zM70.8 404.9h.7v.7h-.7zM71.7 392.8h.7v.7h-.7zM70.0 404.4h.7v.7h-.7zM77.2 389.7h.7v.7h-.7zM66.7 399.5h.7v.7h-.7zM83.5 389.3h.7v.7h-.7zM65.2 401.8h.7v.7h-.7zM74.7 393.7h.7v.7h-.7zM71.9 402.3h.7v.7h-.7zM62.6 398.3h.7v.7h-.7zM75.2 405.8h.7v.7h-.7zM78.3 397.9h.7v.7h-.7zM64.2 409.1h.7v.7h-.7zM76.2 393.5h.7v.7h-.7zM77.6 406.7h.7v.7h-.7zM71.2 380.0h.7v.7h-.7zM69.5 392.6h.7v.7h-.7zM67.5 397.9h.7v.7h-.7zM66.2 401.6h.7v.7h-.7zM82.2 389.2h.7v.7h-.7zM77.6 394.3h.7v.7h-.7zM74.9 397.5h.7v.7h-.7zM78.9 392.9h.7v.7h-.7zM76.0 392.4h.7v.7h-.7zM73.2 398.4h.7v.7h-.7zM77.9 386.1h.7v.7h-.7zM64.7 409.4h.7v.7h-.7zM74.1 411.8h.7v.7h-.7zM66.5 400.2h.7v.7h-.7zM75.3 412.4h.7v.7h-.7zM71.7 395.0h.7v.7h-.7zM75.9 397.7h.7v.7h-.7zM68.0 404.5h.7v.7h-.7zM61.7 390.5h.7v.7h-.7zM79.3 394.6h.7v.7h-.7zM70.3 401.4h.7v.7h-.7zM78.0 402.7h.7v.7h-.7zM66.8 394.0h.7v.7h-.7zM77.6 397.6h.7v.7h-.7zM68.6 405.4h.7v.7h-.7zM78.1 415.6h.7v.7h-.7zM66.2 393.0h.7v.7h-.7zM68.3 401.3h.7v.7h-.7zM69.4 407.3h.7v.7h-.7zM57.5 406.1h.7v.7h-.7zM68.5 396.3h.7v.7h-.7zM75.1 400.1h.7v.7h-.7zM66.6 410.3h.7v.7h-.7zM75.1 394.6h.7v.7h-.7zM73.1 389.8h.7v.7h-.7zM65.4 396.1h.7v.7h-.7zM74.0 399.3h.7v.7h-.7zM67.8 387.6h.7v.7h-.7zM63.0 411.1h.7v.7h-.7zM74.0 392.2h.7v.7h-.7zM78.4 402.8h.7v.7h-.7zM69.8 393.7h.7v.7h-.7zM78.1 401.1h.7v.7h-.7zM80.8 401.4h.7v.7h-.7zM68.9 393.8h.7v.7h-.7zM68.2 400.5h.7v.7h-.7zM73.4 403.3h.7v.7h-.7zM74.4 390.2h.7v.7h-.7zM70.9 391.1h.7v.7h-.7zM74.6 388.2h.7v.7h-.7zM68.9 391.8h.7v.7h-.7zM68.7 396.5h.7v.7h-.7zM80.1 396.5h.7v.7h-.7zM64.3 396.1h.7v.7h-.7zM76.0 402.9h.7v.7h-.7zM73.3 414.2h.7v.7h-.7zM77.9 399.2h.7v.7h-.7zM78.5 388.0h.7v.7h-.7zM71.1 391.7h.7v.7h-.7zM73.0 411.2h.7v.7h-.7zM69.3 411.0h.7v.7h-.7zM66.5 409.7h.7v.7h-.7zM62.9 391.8h.7v.7h-.7zM77.3 397.8h.7v.7h-.7zM72.8 398.4h.7v.7h-.7zM73.0 397.1h.7v.7h-.7zM66.8 396.2h.7v.7h-.7zM72.6 391.4h.7v.7h-.7zM74.5 412.4h.7v.7h-.7zM63.2 394.2h.7v.7h-.7zM70.5 398.6h.7v.7h-.7zM72.5 392.8h.7v.7h-.7zM71.8 398.5h.7v.7h-.7zM71.5 410.6h.7v.7h-.7zM72.7 386.9h.7v.7h-.7zM63.6 403.2h.7v.7h-.7zM70.2 393.6h.7v.7h-.7zM64.8 396.1h.7v.7h-.7zM71.5 393.1h.7v.7h-.7zM70.1 405.5h.7v.7h-.7zM76.2 402.8h.7v.7h-.7zM71.1 387.8h.7v.7h-.7zM76.2 410.3h.7v.7h-.7zM78.8 407.7h.7v.7h-.7zM73.5 401.5h.7v.7h-.7zM71.9 408.4h.7v.7h-.7zM70.6 415.4h.7v.7h-.7zM76.2 396.0h.7v.7h-.7zM72.0 385.9h.7v.7h-.7zM68.1 396.1h.7v.7h-.7zM85.1 392.1h.7v.7h-.7zM76.9 399.1h.7v.7h-.7zM70.4 403.4h.7v.7h-.7zM61.4 405.9h.7v.7h-.7zM82.3 400.8h.7v.7h-.7zM71.7 399.8h.7v.7h-.7zM75.5 394.6h.7v.7h-.7zM72.6 402.5h.7v.7h-.7zM70.1 401.6h.7v.7h-.7zM73.8 404.1h.7v.7h-.7zM66.7 394.3h.7v.7h-.7zM69.7 407.9h.7v.7h-.7zM73.3 385.5h.7v.7h-.7zM65.2 413.8h.7v.7h-.7zM73.8 388.3h.7v.7h-.7zM67.1 399.6h.7v.7h-.7zM79.6 411.2h.7v.7h-.7zM70.1 396.1h.7v.7h-.7zM82.3 390.8h.7v.7h-.7zM80.4 401.2h.7v.7h-.7zM72.5 408.6h.7v.7h-.7zM74.6 391.9h.7v.7h-.7zM63.9 398.6h.7v.7h-.7zM74.7 409.3h.7v.7h-.7zM58.0 409.1h.7v.7h-.7zM74.1 427.1h.7v.7h-.7zM74.7 415.8h.7v.7h-.7zM73.5 417.4h.7v.7h-.7zM69.9 413.0h.7v.7h-.7zM72.4 410.1h.7v.7h-.7zM67.0 401.5h.7v.7h-.7zM73.7 418.5h.7v.7h-.7zM72.4 403.9h.7v.7h-.7zM74.9 410.6h.7v.7h-.7zM64.9 427.5h.7v.7h-.7zM66.9 433.5h.7v.7h-.7zM73.8 410.2h.7v.7h-.7zM64.0 407.9h.7v.7h-.7zM77.0 425.8h.7v.7h-.7zM72.9 399.2h.7v.7h-.7zM70.7 411.6h.7v.7h-.7zM73.6 412.9h.7v.7h-.7zM73.2 399.9h.7v.7h-.7zM69.8 426.5h.7v.7h-.7zM67.1 422.0h.7v.7h-.7zM79.8 419.6h.7v.7h-.7zM67.3 424.8h.7v.7h-.7zM65.7 416.9h.7v.7h-.7zM70.6 424.7h.7v.7h-.7zM76.0 415.6h.7v.7h-.7zM78.1 422.5h.7v.7h-.7zM70.4 405.5h.7v.7h-.7zM80.4 410.5h.7v.7h-.7zM73.4 413.0h.7v.7h-.7zM70.4 400.1h.7v.7h-.7zM71.5 413.0h.7v.7h-.7zM75.3 409.5h.7v.7h-.7zM66.7 404.7h.7v.7h-.7zM71.9 416.2h.7v.7h-.7zM74.5 410.7h.7v.7h-.7zM73.8 415.2h.7v.7h-.7zM77.7 413.5h.7v.7h-.7zM72.5 418.9h.7v.7h-.7zM76.1 406.0h.7v.7h-.7zM70.4 411.6h.7v.7h-.7zM64.8 425.3h.7v.7h-.7zM75.6 414.2h.7v.7h-.7zM83.4 425.0h.7v.7h-.7zM78.9 427.6h.7v.7h-.7zM75.1 401.7h.7v.7h-.7zM77.2 417.6h.7v.7h-.7zM67.9 414.5h.7v.7h-.7zM74.6 422.5h.7v.7h-.7zM72.6 409.5h.7v.7h-.7zM74.6 407.4h.7v.7h-.7zM71.7 420.6h.7v.7h-.7zM67.1 417.3h.7v.7h-.7zM65.3 406.0h.7v.7h-.7zM67.8 413.2h.7v.7h-.7zM74.4 413.6h.7v.7h-.7zM75.1 414.8h.7v.7h-.7zM71.3 418.3h.7v.7h-.7zM71.2 415.2h.7v.7h-.7zM75.5 409.1h.7v.7h-.7zM75.9 404.4h.7v.7h-.7zM71.3 398.9h.7v.7h-.7zM70.2 427.8h.7v.7h-.7zM73.2 425.0h.7v.7h-.7zM67.0 405.2h.7v.7h-.7zM73.6 421.2h.7v.7h-.7zM74.8 399.5h.7v.7h-.7zM73.7 413.4h.7v.7h-.7zM72.4 418.1h.7v.7h-.7zM71.0 399.3h.7v.7h-.7zM68.4 401.4h.7v.7h-.7zM67.5 412.8h.7v.7h-.7zM76.4 407.8h.7v.7h-.7zM69.4 404.0h.7v.7h-.7zM66.1 414.6h.7v.7h-.7zM70.3 411.9h.7v.7h-.7zM68.7 418.2h.7v.7h-.7zM67.9 418.8h.7v.7h-.7zM69.7 420.8h.7v.7h-.7zM69.0 417.8h.7v.7h-.7zM73.5 413.3h.7v.7h-.7zM77.6 415.5h.7v.7h-.7zM69.0 420.0h.7v.7h-.7zM69.2 409.3h.7v.7h-.7zM72.0 415.6h.7v.7h-.7zM77.8 398.8h.7v.7h-.7zM71.1 423.8h.7v.7h-.7zM71.5 416.8h.7v.7h-.7zM77.2 403.3h.7v.7h-.7zM72.2 420.9h.7v.7h-.7zM70.0 398.8h.7v.7h-.7zM68.6 415.7h.7v.7h-.7zM72.6 430.0h.7v.7h-.7zM76.5 400.6h.7v.7h-.7zM75.5 422.0h.7v.7h-.7zM77.5 412.7h.7v.7h-.7zM70.1 415.3h.7v.7h-.7zM77.3 419.4h.7v.7h-.7zM77.8 420.8h.7v.7h-.7zM70.0 405.2h.7v.7h-.7zM78.3 400.8h.7v.7h-.7zM70.8 411.2h.7v.7h-.7zM68.9 409.0h.7v.7h-.7zM72.0 434.7h.7v.7h-.7zM71.8 409.4h.7v.7h-.7zM72.4 422.2h.7v.7h-.7zM69.2 410.5h.7v.7h-.7zM66.0 420.1h.7v.7h-.7zM74.3 427.1h.7v.7h-.7zM67.9 432.9h.7v.7h-.7zM75.0 411.6h.7v.7h-.7zM90.1 390.6h.7v.7h-.7zM86.1 397.3h.7v.7h-.7zM89.0 388.0h.7v.7h-.7zM94.5 393.2h.7v.7h-.7zM89.2 391.0h.7v.7h-.7zM89.6 401.0h.7v.7h-.7zM96.9 387.9h.7v.7h-.7zM91.8 401.1h.7v.7h-.7zM90.6 403.7h.7v.7h-.7zM94.2 396.7h.7v.7h-.7zM81.9 397.8h.7v.7h-.7zM93.7 396.2h.7v.7h-.7zM94.3 395.8h.7v.7h-.7zM89.5 398.2h.7v.7h-.7zM92.3 385.9h.7v.7h-.7zM87.0 393.5h.7v.7h-.7zM93.6 378.6h.7v.7h-.7zM81.9 399.1h.7v.7h-.7zM91.9 410.4h.7v.7h-.7zM84.5 390.9h.7v.7h-.7zM89.1 396.0h.7v.7h-.7zM98.9 402.7h.7v.7h-.7zM87.1 400.3h.7v.7h-.7zM86.1 394.4h.7v.7h-.7zM92.8 396.4h.7v.7h-.7zM88.1 400.9h.7v.7h-.7zM91.7 392.4h.7v.7h-.7zM90.7 385.8h.7v.7h-.7zM95.5 394.6h.7v.7h-.7zM94.2 404.2h.7v.7h-.7zM87.8 390.7h.7v.7h-.7zM92.0 397.9h.7v.7h-.7zM91.1 398.4h.7v.7h-.7zM94.2 381.4h.7v.7h-.7zM88.7 379.7h.7v.7h-.7zM90.6 389.9h.7v.7h-.7zM94.9 393.6h.7v.7h-.7zM91.7 400.5h.7v.7h-.7zM94.9 384.7h.7v.7h-.7zM88.6 394.6h.7v.7h-.7zM100.3 391.3h.7v.7h-.7zM91.2 394.2h.7v.7h-.7zM95.8 391.9h.7v.7h-.7zM93.4 389.8h.7v.7h-.7zM89.3 387.5h.7v.7h-.7zM95.2 389.0h.7v.7h-.7zM94.7 395.1h.7v.7h-.7zM96.8 375.6h.7v.7h-.7zM87.3 384.8h.7v.7h-.7zM91.2 397.6h.7v.7h-.7zM104.4 402.2h.7v.7h-.7zM98.6 394.9h.7v.7h-.7zM90.1 395.9h.7v.7h-.7zM81.4 398.4h.7v.7h-.7zM92.0 396.4h.7v.7h-.7zM87.0 385.6h.7v.7h-.7zM88.9 392.2h.7v.7h-.7zM93.7 390.3h.7v.7h-.7zM93.7 396.8h.7v.7h-.7zM86.3 391.9h.7v.7h-.7zM84.4 389.0h.7v.7h-.7zM96.4 388.0h.7v.7h-.7zM101.1 395.7h.7v.7h-.7zM96.3 393.2h.7v.7h-.7zM96.2 399.4h.7v.7h-.7zM92.5 389.2h.7v.7h-.7zM89.3 404.7h.7v.7h-.7zM91.1 389.6h.7v.7h-.7zM88.5 381.9h.7v.7h-.7zM89.6 394.6h.7v.7h-.7zM89.6 387.7h.7v.7h-.7zM94.0 395.4h.7v.7h-.7zM89.9 394.4h.7v.7h-.7zM87.2 397.9h.7v.7h-.7zM87.2 390.4h.7v.7h-.7zM92.7 389.9h.7v.7h-.7zM86.4 405.8h.7v.7h-.7zM99.4 381.5h.7v.7h-.7zM92.6 384.5h.7v.7h-.7zM93.5 384.3h.7v.7h-.7zM94.8 395.9h.7v.7h-.7zM100.3 400.1h.7v.7h-.7zM89.8 398.5h.7v.7h-.7zM89.8 391.8h.7v.7h-.7zM89.6 381.4h.7v.7h-.7zM94.9 379.6h.7v.7h-.7zM90.8 395.8h.7v.7h-.7zM92.6 382.5h.7v.7h-.7zM88.8 396.8h.7v.7h-.7zM97.4 402.6h.7v.7h-.7zM83.1 395.4h.7v.7h-.7zM89.6 397.3h.7v.7h-.7zM83.8 391.6h.7v.7h-.7zM95.5 388.4h.7v.7h-.7zM90.2 386.3h.7v.7h-.7zM97.4 384.1h.7v.7h-.7zM87.5 390.4h.7v.7h-.7zM90.5 405.9h.7v.7h-.7zM93.3 387.2h.7v.7h-.7zM94.8 394.7h.7v.7h-.7zM93.4 392.1h.7v.7h-.7zM94.3 385.1h.7v.7h-.7zM86.1 389.8h.7v.7h-.7zM86.6 396.9h.7v.7h-.7zM101.5 400.3h.7v.7h-.7zM94.2 394.6h.7v.7h-.7zM88.7 384.3h.7v.7h-.7zM94.7 383.1h.7v.7h-.7zM93.5 391.6h.7v.7h-.7zM95.7 392.8h.7v.7h-.7zM92.5 388.8h.7v.7h-.7zM83.6 390.3h.7v.7h-.7zM95.4 399.1h.7v.7h-.7zM98.7 386.2h.7v.7h-.7zM87.4 396.9h.7v.7h-.7zM89.8 408.8h.7v.7h-.7zM93.5 382.9h.7v.7h-.7zM89.3 402.4h.7v.7h-.7zM83.1 393.5h.7v.7h-.7zM85.2 402.6h.7v.7h-.7zM89.8 386.0h.7v.7h-.7zM83.7 388.0h.7v.7h-.7zM79.5 389.5h.7v.7h-.7zM102.7 393.1h.7v.7h-.7zM90.7 385.2h.7v.7h-.7zM93.7 389.5h.7v.7h-.7zM87.9 401.3h.7v.7h-.7zM94.1 386.9h.7v.7h-.7zM99.2 392.2h.7v.7h-.7zM94.5 393.4h.7v.7h-.7zM97.8 396.4h.7v.7h-.7zM90.3 397.0h.7v.7h-.7zM90.1 393.3h.7v.7h-.7zM100.0 385.8h.7v.7h-.7zM86.9 390.0h.7v.7h-.7zM89.6 400.7h.7v.7h-.7zM84.2 407.0h.7v.7h-.7zM99.7 389.7h.7v.7h-.7zM92.9 390.2h.7v.7h-.7zM95.3 396.7h.7v.7h-.7zM95.7 397.4h.7v.7h-.7zM101.4 391.4h.7v.7h-.7zM95.4 391.3h.7v.7h-.7zM92.2 393.9h.7v.7h-.7zM91.7 394.7h.7v.7h-.7zM87.8 391.5h.7v.7h-.7zM89.0 385.1h.7v.7h-.7zM88.5 389.3h.7v.7h-.7zM91.3 382.6h.7v.7h-.7zM90.7 385.3h.7v.7h-.7zM88.0 393.7h.7v.7h-.7zM97.4 394.3h.7v.7h-.7zM89.6 389.7h.7v.7h-.7zM98.6 382.2h.7v.7h-.7zM97.6 383.0h.7v.7h-.7zM88.9 392.8h.7v.7h-.7zM90.9 403.0h.7v.7h-.7zM94.4 392.2h.7v.7h-.7zM96.7 392.7h.7v.7h-.7zM88.1 399.6h.7v.7h-.7zM99.3 400.6h.7v.7h-.7zM86.3 404.6h.7v.7h-.7zM90.0 397.4h.7v.7h-.7zM97.8 407.6h.7v.7h-.7zM84.1 386.0h.7v.7h-.7zM97.8 395.6h.7v.7h-.7zM90.5 373.9h.7v.7h-.7zM94.2 391.3h.7v.7h-.7zM79.2 409.5h.7v.7h-.7zM79.8 389.0h.7v.7h-.7zM92.0 394.0h.7v.7h-.7zM95.7 390.8h.7v.7h-.7zM87.6 390.2h.7v.7h-.7zM81.7 385.4h.7v.7h-.7zM101.7 388.1h.7v.7h-.7zM91.6 404.5h.7v.7h-.7zM97.2 393.3h.7v.7h-.7zM95.6 390.8h.7v.7h-.7zM87.6 398.9h.7v.7h-.7zM92.7 402.7h.7v.7h-.7zM90.7 390.1h.7v.7h-.7zM93.7 391.3h.7v.7h-.7zM90.5 386.8h.7v.7h-.7zM93.2 394.6h.7v.7h-.7zM101.0 392.3h.7v.7h-.7zM83.4 395.5h.7v.7h-.7zM103.2 389.7h.7v.7h-.7zM88.1 391.4h.7v.7h-.7zM78.0 390.4h.7v.7h-.7zM91.1 382.9h.7v.7h-.7zM94.8 386.9h.7v.7h-.7zM82.9 387.9h.7v.7h-.7zM95.1 404.7h.7v.7h-.7zM98.1 393.7h.7v.7h-.7zM89.5 390.8h.7v.7h-.7zM96.7 389.2h.7v.7h-.7zM94.0 398.6h.7v.7h-.7zM87.6 388.8h.7v.7h-.7zM94.2 392.6h.7v.7h-.7zM91.4 389.1h.7v.7h-.7zM91.7 404.3h.7v.7h-.7zM98.7 382.2h.7v.7h-.7zM92.2 393.1h.7v.7h-.7zM92.2 383.7h.7v.7h-.7zM91.4 393.4h.7v.7h-.7zM88.7 394.5h.7v.7h-.7zM80.0 382.9h.7v.7h-.7zM92.5 395.0h.7v.7h-.7zM91.2 389.6h.7v.7h-.7zM92.9 399.4h.7v.7h-.7zM96.4 392.0h.7v.7h-.7zM89.7 399.3h.7v.7h-.7zM94.7 398.1h.7v.7h-.7zM90.6 387.0h.7v.7h-.7zM92.9 388.5h.7v.7h-.7zM97.6 397.9h.7v.7h-.7zM81.3 396.7h.7v.7h-.7zM98.5 399.1h.7v.7h-.7zM89.7 387.0h.7v.7h-.7zM96.8 399.0h.7v.7h-.7zM92.3 385.2h.7v.7h-.7zM84.5 394.2h.7v.7h-.7zM87.9 388.2h.7v.7h-.7zM94.2 399.2h.7v.7h-.7zM81.9 388.2h.7v.7h-.7zM98.4 392.2h.7v.7h-.7zM90.3 396.6h.7v.7h-.7zM86.4 384.7h.7v.7h-.7zM92.1 402.5h.7v.7h-.7zM97.0 392.5h.7v.7h-.7zM97.0 389.9h.7v.7h-.7zM86.2 381.8h.7v.7h-.7zM93.3 398.2h.7v.7h-.7zM93.8 392.3h.7v.7h-.7zM90.0 399.4h.7v.7h-.7zM91.8 383.3h.7v.7h-.7zM98.7 388.4h.7v.7h-.7zM93.9 392.5h.7v.7h-.7zM97.2 394.1h.7v.7h-.7zM98.0 393.8h.7v.7h-.7zM89.7 389.3h.7v.7h-.7zM95.2 387.2h.7v.7h-.7zM96.6 391.0h.7v.7h-.7zM87.4 386.9h.7v.7h-.7zM91.3 403.8h.7v.7h-.7zM95.8 392.6h.7v.7h-.7zM87.6 404.6h.7v.7h-.7zM90.6 392.5h.7v.7h-.7zM89.9 401.0h.7v.7h-.7zM92.9 389.6h.7v.7h-.7zM92.9 386.1h.7v.7h-.7zM86.8 391.5h.7v.7h-.7zM77.9 400.0h.7v.7h-.7zM101.8 385.4h.7v.7h-.7zM91.3 382.5h.7v.7h-.7zM92.8 393.9h.7v.7h-.7zM95.6 384.0h.7v.7h-.7zM89.0 388.4h.7v.7h-.7zM90.8 407.1h.7v.7h-.7zM91.0 392.2h.7v.7h-.7zM89.5 397.6h.7v.7h-.7zM104.6 399.9h.7v.7h-.7zM99.5 385.7h.7v.7h-.7zM97.2 392.7h.7v.7h-.7zM98.1 399.2h.7v.7h-.7zM95.2 381.8h.7v.7h-.7zM92.7 389.3h.7v.7h-.7zM94.2 392.7h.7v.7h-.7zM97.2 382.3h.7v.7h-.7zM88.4 392.0h.7v.7h-.7zM93.6 389.9h.7v.7h-.7zM91.9 392.9h.7v.7h-.7zM97.1 391.8h.7v.7h-.7zM93.2 380.9h.7v.7h-.7zM79.1 383.2h.7v.7h-.7zM93.8 377.8h.7v.7h-.7zM94.0 391.9h.7v.7h-.7zM92.0 387.8h.7v.7h-.7zM89.9 397.8h.7v.7h-.7zM93.8 392.3h.7v.7h-.7zM89.6 393.9h.7v.7h-.7zM97.9 392.4h.7v.7h-.7zM90.2 385.0h.7v.7h-.7zM92.5 386.6h.7v.7h-.7zM84.9 398.1h.7v.7h-.7zM88.9 379.5h.7v.7h-.7zM88.5 404.3h.7v.7h-.7zM91.5 384.0h.7v.7h-.7zM86.6 397.1h.7v.7h-.7zM94.0 393.9h.7v.7h-.7zM91.0 395.6h.7v.7h-.7zM99.6 395.6h.7v.7h-.7zM91.2 383.6h.7v.7h-.7zM94.2 402.5h.7v.7h-.7zM95.2 384.5h.7v.7h-.7zM92.9 400.8h.7v.7h-.7zM88.9 395.7h.7v.7h-.7zM98.0 403.0h.7v.7h-.7zM84.2 381.3h.7v.7h-.7zM93.8 397.0h.7v.7h-.7zM90.3 392.4h.7v.7h-.7zM90.0 400.2h.7v.7h-.7zM81.1 394.1h.7v.7h-.7zM85.7 388.2h.7v.7h-.7zM84.5 386.7h.7v.7h-.7zM91.9 392.7h.7v.7h-.7zM100.8 391.1h.7v.7h-.7zM93.7 394.8h.7v.7h-.7zM93.3 401.9h.7v.7h-.7zM92.7 393.5h.7v.7h-.7zM91.4 392.5h.7v.7h-.7zM91.7 398.9h.7v.7h-.7zM92.1 392.9h.7v.7h-.7zM91.8 397.3h.7v.7h-.7zM89.7 398.5h.7v.7h-.7zM89.2 396.9h.7v.7h-.7zM101.5 394.0h.7v.7h-.7zM91.6 384.9h.7v.7h-.7zM95.6 392.6h.7v.7h-.7zM96.5 388.3h.7v.7h-.7zM94.6 404.1h.7v.7h-.7zM94.0 390.4h.7v.7h-.7zM85.6 392.4h.7v.7h-.7zM95.2 396.3h.7v.7h-.7zM86.5 385.9h.7v.7h-.7zM87.2 386.0h.7v.7h-.7zM90.6 394.2h.7v.7h-.7zM101.5 393.8h.7v.7h-.7zM99.2 381.9h.7v.7h-.7zM99.6 397.6h.7v.7h-.7zM94.2 397.8h.7v.7h-.7zM95.0 404.8h.7v.7h-.7zM96.0 381.3h.7v.7h-.7zM83.4 402.8h.7v.7h-.7zM91.6 401.0h.7v.7h-.7zM90.3 388.3h.7v.7h-.7zM90.3 394.5h.7v.7h-.7zM92.9 388.5h.7v.7h-.7zM94.6 396.5h.7v.7h-.7zM87.5 385.4h.7v.7h-.7zM82.3 390.5h.7v.7h-.7zM92.1 388.0h.7v.7h-.7zM89.0 391.6h.7v.7h-.7zM92.1 396.2h.7v.7h-.7zM96.1 395.3h.7v.7h-.7zM97.5 386.3h.7v.7h-.7zM95.0 394.9h.7v.7h-.7zM86.8 388.2h.7v.7h-.7zM94.2 393.0h.7v.7h-.7zM85.8 389.0h.7v.7h-.7zM99.5 397.9h.7v.7h-.7zM92.4 401.2h.7v.7h-.7zM87.5 391.4h.7v.7h-.7zM96.7 390.3h.7v.7h-.7zM86.5 396.3h.7v.7h-.7zM99.9 376.2h.7v.7h-.7zM92.8 384.5h.7v.7h-.7zM90.5 383.4h.7v.7h-.7zM104.8 388.1h.7v.7h-.7zM92.2 388.0h.7v.7h-.7zM87.1 389.6h.7v.7h-.7zM93.0 403.8h.7v.7h-.7zM93.4 402.6h.7v.7h-.7zM86.7 393.0h.7v.7h-.7zM89.8 382.4h.7v.7h-.7zM110.4 390.9h.7v.7h-.7zM93.2 387.7h.7v.7h-.7zM89.2 385.9h.7v.7h-.7zM97.1 389.9h.7v.7h-.7zM91.3 393.7h.7v.7h-.7zM85.9 394.0h.7v.7h-.7zM91.2 395.4h.7v.7h-.7zM90.1 392.7h.7v.7h-.7zM94.6 398.7h.7v.7h-.7zM88.6 398.7h.7v.7h-.7zM87.1 391.3h.7v.7h-.7zM92.6 393.4h.7v.7h-.7zM79.7 386.2h.7v.7h-.7zM91.1 398.4h.7v.7h-.7zM88.5 402.2h.7v.7h-.7zM83.1 393.0h.7v.7h-.7zM94.7 392.6h.7v.7h-.7zM93.3 398.5h.7v.7h-.7zM88.0 396.3h.7v.7h-.7zM97.3 391.0h.7v.7h-.7zM80.6 384.9h.7v.7h-.7zM87.8 385.7h.7v.7h-.7zM94.1 387.3h.7v.7h-.7zM104.3 396.2h.7v.7h-.7zM85.5 390.7h.7v.7h-.7zM99.6 396.9h.7v.7h-.7zM87.0 399.1h.7v.7h-.7zM89.7 406.7h.7v.7h-.7zM89.3 396.3h.7v.7h-.7zM94.8 389.6h.7v.7h-.7zM91.2 399.9h.7v.7h-.7zM94.5 392.1h.7v.7h-.7zM94.2 403.7h.7v.7h-.7zM96.6 395.6h.7v.7h-.7zM93.6 382.5h.7v.7h-.7zM92.7 389.4h.7v.7h-.7zM95.6 388.6h.7v.7h-.7zM94.2 385.7h.7v.7h-.7zM96.4 387.8h.7v.7h-.7zM91.9 396.2h.7v.7h-.7zM90.4 392.5h.7v.7h-.7zM97.2 403.9h.7v.7h-.7zM83.1 386.7h.7v.7h-.7zM95.3 398.5h.7v.7h-.7zM89.7 393.1h.7v.7h-.7zM91.0 407.1h.7v.7h-.7zM91.0 384.9h.7v.7h-.7zM84.3 384.3h.7v.7h-.7zM98.4 390.0h.7v.7h-.7zM101.6 396.6h.7v.7h-.7zM93.9 396.6h.7v.7h-.7zM95.9 398.4h.7v.7h-.7zM87.2 388.9h.7v.7h-.7zM89.3 393.2h.7v.7h-.7zM90.8 384.6h.7v.7h-.7zM88.6 404.0h.7v.7h-.7zM102.5 387.0h.7v.7h-.7zM93.9 392.3h.7v.7h-.7zM87.8 397.1h.7v.7h-.7zM91.7 403.2h.7v.7h-.7zM94.3 390.5h.7v.7h-.7zM78.9 391.8h.7v.7h-.7zM96.2 387.9h.7v.7h-.7zM96.4 396.9h.7v.7h-.7zM83.3 391.2h.7v.7h-.7zM93.6 397.3h.7v.7h-.7zM92.8 392.4h.7v.7h-.7zM90.3 390.6h.7v.7h-.7zM92.0 385.7h.7v.7h-.7zM95.2 390.4h.7v.7h-.7zM94.6 389.2h.7v.7h-.7zM94.0 393.3h.7v.7h-.7zM96.4 395.5h.7v.7h-.7zM96.6 391.4h.7v.7h-.7zM91.7 390.8h.7v.7h-.7zM85.8 391.7h.7v.7h-.7zM97.4 397.4h.7v.7h-.7zM87.8 394.4h.7v.7h-.7zM95.7 383.8h.7v.7h-.7zM93.7 394.6h.7v.7h-.7zM95.7 394.1h.7v.7h-.7zM83.4 379.6h.7v.7h-.7zM101.8 390.0h.7v.7h-.7zM98.3 400.6h.7v.7h-.7zM92.4 385.2h.7v.7h-.7zM98.8 392.3h.7v.7h-.7zM94.6 395.6h.7v.7h-.7zM96.7 399.0h.7v.7h-.7zM85.0 383.5h.7v.7h-.7zM92.7 392.6h.7v.7h-.7zM95.8 391.6h.7v.7h-.7zM91.1 405.5h.7v.7h-.7zM98.8 399.9h.7v.7h-.7zM97.1 387.5h.7v.7h-.7zM91.6 392.1h.7v.7h-.7zM86.6 386.9h.7v.7h-.7zM92.8 384.7h.7v.7h-.7zM94.7 395.5h.7v.7h-.7zM90.8 390.3h.7v.7h-.7zM95.0 395.6h.7v.7h-.7zM93.8 384.7h.7v.7h-.7zM84.0 405.6h.7v.7h-.7zM88.8 390.2h.7v.7h-.7zM83.0 387.4h.7v.7h-.7zM88.4 397.6h.7v.7h-.7zM78.9 383.5h.7v.7h-.7zM90.0 389.4h.7v.7h-.7zM88.2 389.7h.7v.7h-.7zM84.2 394.2h.7v.7h-.7zM97.9 393.5h.7v.7h-.7zM89.4 400.6h.7v.7h-.7zM94.4 385.9h.7v.7h-.7zM89.2 388.6h.7v.7h-.7zM91.8 400.3h.7v.7h-.7zM88.5 391.6h.7v.7h-.7zM92.6 384.9h.7v.7h-.7zM89.6 396.4h.7v.7h-.7zM97.6 380.5h.7v.7h-.7zM95.5 390.6h.7v.7h-.7zM98.4 396.5h.7v.7h-.7zM101.7 394.5h.7v.7h-.7zM90.0 387.2h.7v.7h-.7zM84.9 396.0h.7v.7h-.7zM94.5 397.7h.7v.7h-.7zM93.7 382.9h.7v.7h-.7zM90.0 390.9h.7v.7h-.7zM92.8 397.4h.7v.7h-.7zM99.0 394.3h.7v.7h-.7zM81.8 386.0h.7v.7h-.7zM81.5 387.6h.7v.7h-.7zM86.1 394.0h.7v.7h-.7zM90.9 399.6h.7v.7h-.7zM97.3 389.6h.7v.7h-.7zM96.7 392.6h.7v.7h-.7zM94.3 401.1h.7v.7h-.7zM86.3 392.1h.7v.7h-.7zM99.6 387.6h.7v.7h-.7zM93.1 393.3h.7v.7h-.7zM89.9 384.2h.7v.7h-.7zM88.6 386.2h.7v.7h-.7zM97.3 394.1h.7v.7h-.7zM95.5 384.9h.7v.7h-.7zM94.5 393.4h.7v.7h-.7zM97.2 387.9h.7v.7h-.7zM96.0 401.2h.7v.7h-.7zM100.9 386.6h.7v.7h-.7zM86.5 383.2h.7v.7h-.7zM96.8 396.3h.7v.7h-.7zM93.7 387.0h.7v.7h-.7zM98.2 402.7h.7v.7h-.7zM91.8 391.7h.7v.7h-.7zM97.9 395.7h.7v.7h-.7zM98.6 389.9h.7v.7h-.7zM93.7 390.3h.7v.7h-.7zM89.2 390.6h.7v.7h-.7zM90.6 395.7h.7v.7h-.7zM90.5 393.0h.7v.7h-.7zM88.0 384.7h.7v.7h-.7zM99.1 386.2h.7v.7h-.7zM101.0 398.5h.7v.7h-.7zM80.7 388.4h.7v.7h-.7zM89.9 392.6h.7v.7h-.7zM91.1 388.7h.7v.7h-.7zM98.2 391.7h.7v.7h-.7zM96.8 388.1h.7v.7h-.7zM88.6 401.0h.7v.7h-.7zM90.6 385.5h.7v.7h-.7zM91.2 399.2h.7v.7h-.7zM91.2 387.9h.7v.7h-.7zM95.1 398.8h.7v.7h-.7zM91.0 390.5h.7v.7h-.7zM90.2 409.7h.7v.7h-.7zM91.1 403.6h.7v.7h-.7zM91.3 395.1h.7v.7h-.7zM81.9 393.6h.7v.7h-.7zM92.3 390.5h.7v.7h-.7zM90.0 383.8h.7v.7h-.7zM84.7 393.6h.7v.7h-.7zM88.9 391.9h.7v.7h-.7zM91.1 389.3h.7v.7h-.7zM88.4 404.3h.7v.7h-.7zM86.6 389.3h.7v.7h-.7zM90.6 385.2h.7v.7h-.7zM87.3 398.0h.7v.7h-.7zM96.6 393.3h.7v.7h-.7zM108.0 397.8h.7v.7h-.7zM98.1 387.3h.7v.7h-.7zM97.4 403.2h.7v.7h-.7zM90.1 404.0h.7v.7h-.7zM88.0 385.3h.7v.7h-.7zM91.8 387.4h.7v.7h-.7zM95.2 385.5h.7v.7h-.7zM92.4 380.1h.7v.7h-.7zM91.9 399.2h.7v.7h-.7zM90.7 394.5h.7v.7h-.7zM97.4 385.5h.7v.7h-.7zM85.7 393.0h.7v.7h-.7zM93.4 390.8h.7v.7h-.7zM87.2 400.2h.7v.7h-.7zM86.3 390.9h.7v.7h-.7zM91.8 397.1h.7v.7h-.7zM89.8 387.3h.7v.7h-.7zM102.0 387.1h.7v.7h-.7zM96.0 391.5h.7v.7h-.7zM89.7 392.2h.7v.7h-.7zM90.8 394.5h.7v.7h-.7zM79.5 392.3h.7v.7h-.7zM92.4 386.3h.7v.7h-.7zM90.1 407.3h.7v.7h-.7zM101.1 396.6h.7v.7h-.7zM93.2 390.6h.7v.7h-.7zM98.9 389.7h.7v.7h-.7zM88.0 396.9h.7v.7h-.7zM87.2 387.5h.7v.7h-.7zM99.2 382.3h.7v.7h-.7zM91.7 393.3h.7v.7h-.7zM93.3 383.3h.7v.7h-.7zM90.9 390.4h.7v.7h-.7zM101.5 398.9h.7v.7h-.7zM88.3 398.1h.7v.7h-.7zM95.2 391.8h.7v.7h-.7zM90.8 390.8h.7v.7h-.7zM84.4 388.5h.7v.7h-.7zM96.6 401.7h.7v.7h-.7zM101.2 390.1h.7v.7h-.7zM95.1 377.2h.7v.7h-.7zM90.7 384.5h.7v.7h-.7zM96.1 382.0h.7v.7h-.7zM86.9 385.5h.7v.7h-.7zM94.0 397.8h.7v.7h-.7zM87.5 403.9h.7v.7h-.7zM92.8 387.2h.7v.7h-.7zM93.7 392.4h.7v.7h-.7zM96.1 394.7h.7v.7h-.7zM102.8 399.9h.7v.7h-.7zM96.8 400.4h.7v.7h-.7zM112.7 388.2h.7v.7h-.7zM95.5 389.5h.7v.7h-.7zM76.0 399.4h.7v.7h-.7zM101.6 403.4h.7v.7h-.7zM97.7 395.5h.7v.7h-.7zM112.3 401.6h.7v.7h-.7zM107.7 387.9h.7v.7h-.7zM129.1 400.9h.7v.7h-.7zM119.5 406.1h.7v.7h-.7zM120.0 397.8h.7v.7h-.7zM109.4 399.3h.7v.7h-.7zM87.0 400.6h.7v.7h-.7zM93.0 397.9h.7v.7h-.7zM92.6 399.9h.7v.7h-.7zM98.5 412.0h.7v.7h-.7zM106.2 398.5h.7v.7h-.7zM93.8 393.0h.7v.7h-.7zM103.4 393.0h.7v.7h-.7zM99.1 389.0h.7v.7h-.7zM112.7 392.4h.7v.7h-.7zM94.8 397.5h.7v.7h-.7zM94.9 393.8h.7v.7h-.7zM98.3 388.7h.7v.7h-.7zM101.5 389.4h.7v.7h-.7zM89.9 397.4h.7v.7h-.7zM100.7 385.0h.7v.7h-.7zM99.6 396.3h.7v.7h-.7zM108.9 397.6h.7v.7h-.7zM107.0 399.1h.7v.7h-.7zM98.5 389.6h.7v.7h-.7zM111.0 392.2h.7v.7h-.7zM104.2 399.4h.7v.7h-.7zM114.7 403.3h.7v.7h-.7zM96.3 392.5h.7v.7h-.7zM110.4 385.2h.7v.7h-.7zM89.8 399.2h.7v.7h-.7zM97.1 388.7h.7v.7h-.7zM113.2 398.6h.7v.7h-.7zM114.5 392.8h.7v.7h-.7zM100.8 392.7h.7v.7h-.7zM107.5 381.2h.7v.7h-.7zM96.2 399.8h.7v.7h-.7zM95.3 394.6h.7v.7h-.7zM105.5 398.6h.7v.7h-.7zM98.7 387.3h.7v.7h-.7zM132.4 390.1h.7v.7h-.7zM123.5 383.0h.7v.7h-.7zM105.3 393.7h.7v.7h-.7zM125.5 408.9h.7v.7h-.7zM115.2 388.1h.7v.7h-.7zM95.0 389.9h.7v.7h-.7zM98.3 396.8h.7v.7h-.7zM95.2 393.3h.7v.7h-.7zM120.8 404.8h.7v.7h-.7zM83.0 388.5h.7v.7h-.7zM99.9 403.8h.7v.7h-.7zM100.4 408.0h.7v.7h-.7zM108.2 404.8h.7v.7h-.7zM94.4 392.9h.7v.7h-.7zM115.6 398.9h.7v.7h-.7zM83.0 393.1h.7v.7h-.7zM106.1 399.3h.7v.7h-.7zM96.9 406.8h.7v.7h-.7zM105.8 404.9h.7v.7h-.7zM108.7 395.6h.7v.7h-.7zM100.5 387.1h.7v.7h-.7zM113.9 400.2h.7v.7h-.7zM114.7 392.5h.7v.7h-.7zM92.8 392.4h.7v.7h-.7zM100.6 394.9h.7v.7h-.7zM115.2 388.8h.7v.7h-.7zM98.6 399.7h.7v.7h-.7zM114.3 410.0h.7v.7h-.7zM110.1 389.3h.7v.7h-.7zM92.4 389.6h.7v.7h-.7zM104.9 396.7h.7v.7h-.7zM103.4 390.8h.7v.7h-.7zM102.0 394.5h.7v.7h-.7zM110.8 395.6h.7v.7h-.7zM95.0 387.1h.7v.7h-.7zM120.9 394.4h.7v.7h-.7zM102.1 394.8h.7v.7h-.7zM116.9 392.9h.7v.7h-.7zM106.1 393.4h.7v.7h-.7zM110.7 388.2h.7v.7h-.7zM106.4 402.0h.7v.7h-.7zM117.5 399.2h.7v.7h-.7zM107.5 405.7h.7v.7h-.7zM112.1 404.5h.7v.7h-.7zM90.6 387.6h.7v.7h-.7zM113.2 393.2h.7v.7h-.7zM99.3 388.6h.7v.7h-.7zM120.9 386.9h.7v.7h-.7zM105.3 385.6h.7v.7h-.7zM102.2 410.2h.7v.7h-.7zM131.6 391.7h.7v.7h-.7zM92.8 406.1h.7v.7h-.7zM94.5 382.9h.7v.7h-.7zM108.1 387.7h.7v.7h-.7zM87.8 402.6h.7v.7h-.7zM95.9 387.8h.7v.7h-.7zM106.1 393.7h.7v.7h-.7zM116.8 395.7h.7v.7h-.7zM122.1 402.7h.7v.7h-.7zM124.2 402.6h.7v.7h-.7zM105.0 398.7h.7v.7h-.7zM104.4 384.5h.7v.7h-.7zM90.9 400.0h.7v.7h-.7zM77.5 389.4h.7v.7h-.7zM89.7 394.6h.7v.7h-.7zM92.5 396.7h.7v.7h-.7zM101.9 391.8h.7v.7h-.7zM94.6 380.0h.7v.7h-.7zM105.0 386.3h.7v.7h-.7zM100.8 397.5h.7v.7h-.7zM116.0 399.8h.7v.7h-.7zM120.8 385.4h.7v.7h-.7zM111.8 405.6h.7v.7h-.7zM108.6 387.5h.7v.7h-.7zM108.7 391.5h.7v.7h-.7zM96.9 402.2h.7v.7h-.7zM102.2 387.4h.7v.7h-.7zM96.6 408.3h.7v.7h-.7zM94.7 399.6h.7v.7h-.7zM106.2 402.9h.7v.7h-.7zM101.0 388.6h.7v.7h-.7zM97.0 388.0h.7v.7h-.7zM133.4 396.3h.7v.7h-.7zM100.6 403.5h.7v.7h-.7zM111.6 393.8h.7v.7h-.7zM111.2 396.9h.7v.7h-.7zM116.9 406.2h.7v.7h-.7zM100.7 394.8h.7v.7h-.7zM102.1 403.3h.7v.7h-.7zM108.5 400.3h.7v.7h-.7zM114.3 390.7h.7v.7h-.7zM105.6 404.4h.7v.7h-.7zM114.6 400.5h.7v.7h-.7zM101.0 392.6h.7v.7h-.7zM94.6 393.2h.7v.7h-.7zM103.5 385.3h.7v.7h-.7zM117.2 389.8h.7v.7h-.7zM107.0 399.1h.7v.7h-.7zM98.0 382.8h.7v.7h-.7zM115.0 397.8h.7v.7h-.7zM101.4 402.7h.7v.7h-.7zM114.2 388.6h.7v.7h-.7zM103.3 383.1h.7v.7h-.7zM101.2 404.6h.7v.7h-.7zM94.8 400.6h.7v.7h-.7zM87.3 393.0h.7v.7h-.7zM114.8 406.6h.7v.7h-.7zM109.3 400.1h.7v.7h-.7zM123.5 378.5h.7v.7h-.7zM85.0 407.8h.7v.7h-.7zM131.9 399.1h.7v.7h-.7zM104.9 396.8h.7v.7h-.7zM104.5 390.9h.7v.7h-.7zM104.0 394.2h.7v.7h-.7zM111.7 399.6h.7v.7h-.7zM115.2 399.0h.7v.7h-.7zM93.3 404.4h.7v.7h-.7zM74.2 395.8h.7v.7h-.7zM107.9 391.4h.7v.7h-.7zM125.2 387.6h.7v.7h-.7zM91.1 391.6h.7v.7h-.7zM108.9 400.4h.7v.7h-.7zM105.4 399.5h.7v.7h-.7zM96.3 390.9h.7v.7h-.7zM105.7 385.9h.7v.7h-.7zM106.3 392.4h.7v.7h-.7zM111.8 388.2h.7v.7h-.7zM98.3 391.2h.7v.7h-.7zM100.1 388.3h.7v.7h-.7zM101.3 385.9h.7v.7h-.7zM110.2 399.6h.7v.7h-.7zM104.0 393.7h.7v.7h-.7zM94.2 388.5h.7v.7h-.7zM101.7 388.9h.7v.7h-.7zM91.0 396.1h.7v.7h-.7zM104.0 392.3h.7v.7h-.7zM95.1 394.7h.7v.7h-.7zM96.5 392.1h.7v.7h-.7zM106.3 399.9h.7v.7h-.7zM112.6 390.9h.7v.7h-.7zM117.7 387.2h.7v.7h-.7zM102.3 403.8h.7v.7h-.7zM130.7 395.9h.7v.7h-.7zM100.2 392.5h.7v.7h-.7zM90.6 394.0h.7v.7h-.7zM99.5 389.9h.7v.7h-.7zM117.5 389.8h.7v.7h-.7zM123.1 400.7h.7v.7h-.7zM111.3 391.0h.7v.7h-.7zM98.5 381.5h.7v.7h-.7zM107.2 393.2h.7v.7h-.7zM108.5 390.5h.7v.7h-.7zM109.6 384.9h.7v.7h-.7zM79.8 398.2h.7v.7h-.7zM116.2 373.7h.7v.7h-.7zM118.5 392.7h.7v.7h-.7zM102.4 384.6h.7v.7h-.7zM93.1 399.8h.7v.7h-.7zM96.0 394.8h.7v.7h-.7zM102.5 408.5h.7v.7h-.7zM114.1 386.1h.7v.7h-.7zM98.8 387.3h.7v.7h-.7zM88.7 390.4h.7v.7h-.7zM116.4 395.3h.7v.7h-.7zM111.7 394.1h.7v.7h-.7zM99.5 395.6h.7v.7h-.7zM103.3 408.0h.7v.7h-.7zM124.2 397.6h.7v.7h-.7zM110.9 381.5h.7v.7h-.7zM102.8 411.2h.7v.7h-.7zM95.3 400.5h.7v.7h-.7zM117.7 392.3h.7v.7h-.7zM101.7 391.9h.7v.7h-.7zM113.0 395.2h.7v.7h-.7zM120.9 403.0h.7v.7h-.7zM104.1 412.6h.7v.7h-.7zM100.7 390.9h.7v.7h-.7zM101.5 389.1h.7v.7h-.7zM99.5 394.5h.7v.7h-.7zM114.1 384.3h.7v.7h-.7zM88.6 389.8h.7v.7h-.7zM100.8 398.1h.7v.7h-.7zM95.4 405.2h.7v.7h-.7zM98.3 393.5h.7v.7h-.7zM104.8 402.9h.7v.7h-.7zM107.5 395.2h.7v.7h-.7zM98.1 396.2h.7v.7h-.7zM108.6 392.6h.7v.7h-.7zM103.9 382.5h.7v.7h-.7zM98.3 403.0h.7v.7h-.7zM119.9 394.5h.7v.7h-.7zM80.2 407.4h.7v.7h-.7zM102.3 412.4h.7v.7h-.7zM99.6 401.8h.7v.7h-.7zM97.3 404.3h.7v.7h-.7zM117.0 387.8h.7v.7h-.7zM118.5 414.4h.7v.7h-.7zM101.7 386.8h.7v.7h-.7zM107.2 392.3h.7v.7h-.7zM87.5 387.9h.7v.7h-.7zM106.9 384.7h.7v.7h-.7zM116.1 398.1h.7v.7h-.7zM102.1 404.5h.7v.7h-.7zM93.9 399.7h.7v.7h-.7zM89.1 392.8h.7v.7h-.7zM111.2 391.4h.7v.7h-.7zM102.9 399.4h.7v.7h-.7zM121.0 403.8h.7v.7h-.7zM109.2 393.2h.7v.7h-.7zM88.1 406.7h.7v.7h-.7zM124.9 380.4h.7v.7h-.7zM113.8 394.7h.7v.7h-.7zM112.0 397.2h.7v.7h-.7zM102.0 395.0h.7v.7h-.7zM103.7 402.9h.7v.7h-.7zM101.2 391.3h.7v.7h-.7zM111.4 399.4h.7v.7h-.7zM108.9 396.9h.7v.7h-.7zM120.4 402.6h.7v.7h-.7zM106.5 393.6h.7v.7h-.7zM111.4 382.3h.7v.7h-.7zM98.3 390.2h.7v.7h-.7zM106.0 392.4h.7v.7h-.7zM131.4 400.0h.7v.7h-.7zM108.6 410.3h.7v.7h-.7zM104.1 392.8h.7v.7h-.7zM117.7 400.6h.7v.7h-.7zM114.4 403.2h.7v.7h-.7zM100.1 390.5h.7v.7h-.7zM96.1 395.7h.7v.7h-.7zM115.2 387.9h.7v.7h-.7zM98.2 385.9h.7v.7h-.7zM126.2 400.4h.7v.7h-.7zM106.5 386.7h.7v.7h-.7zM92.7 390.6h.7v.7h-.7zM104.5 386.4h.7v.7h-.7zM101.6 403.3h.7v.7h-.7zM104.3 395.7h.7v.7h-.7zM80.9 393.2h.7v.7h-.7zM102.5 390.3h.7v.7h-.7zM88.8 394.5h.7v.7h-.7zM92.8 391.3h.7v.7h-.7zM86.5 394.4h.7v.7h-.7zM114.2 389.3h.7v.7h-.7zM107.7 384.7h.7v.7h-.7zM110.5 398.7h.7v.7h-.7zM99.8 401.0h.7v.7h-.7zM94.4 395.3h.7v.7h-.7zM122.7 394.8h.7v.7h-.7zM91.7 402.9h.7v.7h-.7zM110.0 393.1h.7v.7h-.7zM84.0 382.2h.7v.7h-.7zM87.3 405.1h.7v.7h-.7zM107.3 389.2h.7v.7h-.7zM116.8 405.0h.7v.7h-.7zM94.8 398.3h.7v.7h-.7zM85.9 397.5h.7v.7h-.7zM124.2 385.4h.7v.7h-.7zM104.7 390.7h.7v.7h-.7zM103.1 395.6h.7v.7h-.7zM107.2 401.1h.7v.7h-.7zM109.8 402.1h.7v.7h-.7zM115.3 402.5h.7v.7h-.7zM96.7 397.8h.7v.7h-.7zM100.0 389.3h.7v.7h-.7zM125.7 397.0h.7v.7h-.7zM104.6 380.6h.7v.7h-.7zM101.6 400.3h.7v.7h-.7zM101.9 391.3h.7v.7h-.7zM120.4 392.9h.7v.7h-.7zM100.4 394.3h.7v.7h-.7zM101.5 402.2h.7v.7h-.7zM110.4 394.5h.7v.7h-.7zM100.1 393.5h.7v.7h-.7zM122.8 392.9h.7v.7h-.7zM111.3 384.2h.7v.7h-.7zM107.7 399.7h.7v.7h-.7zM118.1 397.2h.7v.7h-.7zM110.5 397.2h.7v.7h-.7zM115.9 409.0h.7v.7h-.7zM106.3 389.4h.7v.7h-.7zM110.7 394.2h.7v.7h-.7zM111.2 400.3h.7v.7h-.7zM105.8 392.0h.7v.7h-.7zM107.5 386.5h.7v.7h-.7zM107.1 389.0h.7v.7h-.7zM109.1 395.8h.7v.7h-.7zM101.7 386.8h.7v.7h-.7zM104.7 390.4h.7v.7h-.7zM102.5 399.7h.7v.7h-.7zM114.6 386.2h.7v.7h-.7zM114.4 404.3h.7v.7h-.7zM116.5 396.9h.7v.7h-.7zM103.1 406.9h.7v.7h-.7zM100.6 384.6h.7v.7h-.7zM105.1 397.0h.7v.7h-.7zM92.7 386.7h.7v.7h-.7zM125.9 395.8h.7v.7h-.7zM112.7 391.0h.7v.7h-.7zM87.4 393.8h.7v.7h-.7zM118.9 390.4h.7v.7h-.7zM84.4 393.8h.7v.7h-.7zM101.0 395.1h.7v.7h-.7zM92.6 392.9h.7v.7h-.7zM98.1 401.0h.7v.7h-.7zM105.8 401.0h.7v.7h-.7zM103.6 380.4h.7v.7h-.7zM82.6 398.7h.7v.7h-.7zM113.8 401.0h.7v.7h-.7zM103.3 382.8h.7v.7h-.7zM98.7 397.8h.7v.7h-.7zM119.3 392.7h.7v.7h-.7zM97.9 389.7h.7v.7h-.7zM115.3 400.9h.7v.7h-.7zM84.0 403.3h.7v.7h-.7zM94.0 385.0h.7v.7h-.7zM86.6 390.0h.7v.7h-.7zM129.6 412.5h.7v.7h-.7zM90.4 390.4h.7v.7h-.7zM105.9 397.8h.7v.7h-.7zM98.9 384.2h.7v.7h-.7zM99.6 390.4h.7v.7h-.7zM84.4 396.0h.7v.7h-.7zM88.0 383.1h.7v.7h-.7zM120.8 401.4h.7v.7h-.7zM120.1 395.8h.7v.7h-.7zM99.6 394.4h.7v.7h-.7zM89.1 400.1h.7v.7h-.7zM107.1 392.9h.7v.7h-.7zM83.6 394.2h.7v.7h-.7zM122.0 404.9h.7v.7h-.7zM113.8 392.6h.7v.7h-.7zM105.6 398.8h.7v.7h-.7zM106.3 402.2h.7v.7h-.7zM96.8 379.1h.7v.7h-.7zM77.4 388.8h.7v.7h-.7zM88.9 399.5h.7v.7h-.7zM116.0 395.0h.7v.7h-.7zM110.1 395.5h.7v.7h-.7zM106.0 391.8h.7v.7h-.7zM99.7 403.1h.7v.7h-.7zM101.2 394.7h.7v.7h-.7zM117.3 401.7h.7v.7h-.7zM99.8 396.7h.7v.7h-.7zM93.0 395.9h.7v.7h-.7zM107.6 395.0h.7v.7h-.7zM105.9 397.5h.7v.7h-.7zM76.3 389.4h.7v.7h-.7zM105.0 391.6h.7v.7h-.7zM93.5 393.4h.7v.7h-.7zM121.8 393.4h.7v.7h-.7zM97.0 391.7h.7v.7h-.7zM91.0 398.3h.7v.7h-.7zM93.3 401.2h.7v.7h-.7zM114.1 398.9h.7v.7h-.7zM115.6 394.4h.7v.7h-.7zM84.8 394.6h.7v.7h-.7zM111.2 384.4h.7v.7h-.7zM90.7 402.5h.7v.7h-.7zM109.0 404.2h.7v.7h-.7zM111.5 395.5h.7v.7h-.7zM108.9 400.8h.7v.7h-.7zM103.8 393.6h.7v.7h-.7zM107.6 392.8h.7v.7h-.7zM130.7 389.8h.7v.7h-.7zM87.4 386.2h.7v.7h-.7zM115.7 392.2h.7v.7h-.7zM105.9 393.5h.7v.7h-.7zM107.2 385.1h.7v.7h-.7zM105.1 391.1h.7v.7h-.7zM116.1 399.3h.7v.7h-.7zM90.2 388.4h.7v.7h-.7zM110.4 403.2h.7v.7h-.7zM112.6 394.0h.7v.7h-.7zM116.4 378.9h.7v.7h-.7zM98.2 388.3h.7v.7h-.7zM92.8 398.9h.7v.7h-.7zM107.2 396.9h.7v.7h-.7zM102.7 399.2h.7v.7h-.7zM112.8 391.1h.7v.7h-.7zM114.5 388.6h.7v.7h-.7zM123.6 386.1h.7v.7h-.7zM101.0 387.6h.7v.7h-.7zM104.6 404.0h.7v.7h-.7zM95.8 407.2h.7v.7h-.7zM119.8 397.6h.7v.7h-.7zM97.6 401.2h.7v.7h-.7zM72.5 389.8h.7v.7h-.7zM114.8 394.7h.7v.7h-.7zM131.7 390.4h.7v.7h-.7zM89.4 393.5h.7v.7h-.7zM110.6 406.7h.7v.7h-.7zM84.6 396.1h.7v.7h-.7zM118.2 390.4h.7v.7h-.7zM99.1 386.7h.7v.7h-.7zM112.7 400.7h.7v.7h-.7zM110.7 396.7h.7v.7h-.7zM115.2 394.2h.7v.7h-.7zM112.1 400.6h.7v.7h-.7zM118.6 398.5h.7v.7h-.7zM105.1 399.9h.7v.7h-.7zM86.9 382.9h.7v.7h-.7zM122.2 395.9h.7v.7h-.7zM92.4 391.0h.7v.7h-.7zM102.5 395.5h.7v.7h-.7zM95.6 401.8h.7v.7h-.7zM85.2 414.3h.7v.7h-.7zM92.1 406.4h.7v.7h-.7zM111.6 383.4h.7v.7h-.7zM90.5 395.4h.7v.7h-.7zM107.2 392.1h.7v.7h-.7zM104.3 396.1h.7v.7h-.7zM91.4 395.4h.7v.7h-.7zM129.6 390.6h.7v.7h-.7zM92.8 399.6h.7v.7h-.7zM119.2 402.2h.7v.7h-.7zM97.1 394.5h.7v.7h-.7zM106.4 393.6h.7v.7h-.7zM108.6 402.5h.7v.7h-.7zM110.3 394.9h.7v.7h-.7zM101.9 407.3h.7v.7h-.7zM90.4 408.8h.7v.7h-.7zM112.4 395.6h.7v.7h-.7zM95.8 407.6h.7v.7h-.7zM117.8 401.3h.7v.7h-.7zM127.6 382.6h.7v.7h-.7zM105.3 392.9h.7v.7h-.7zM96.0 395.5h.7v.7h-.7zM110.2 398.6h.7v.7h-.7zM102.6 385.9h.7v.7h-.7zM110.4 399.2h.7v.7h-.7zM128.0 401.4h.7v.7h-.7zM104.3 387.1h.7v.7h-.7zM134.8 390.3h.7v.7h-.7zM106.4 400.2h.7v.7h-.7zM109.8 404.2h.7v.7h-.7zM92.5 390.2h.7v.7h-.7zM106.1 386.5h.7v.7h-.7zM97.2 404.6h.7v.7h-.7zM107.5 394.3h.7v.7h-.7zM97.7 395.3h.7v.7h-.7zM103.8 387.6h.7v.7h-.7zM113.1 386.2h.7v.7h-.7zM118.6 392.7h.7v.7h-.7zM78.3 384.3h.7v.7h-.7zM107.4 389.0h.7v.7h-.7zM124.7 404.6h.7v.7h-.7zM128.0 401.2h.7v.7h-.7zM119.5 390.8h.7v.7h-.7zM118.9 392.0h.7v.7h-.7zM103.6 385.6h.7v.7h-.7zM104.8 397.8h.7v.7h-.7zM103.4 387.3h.7v.7h-.7zM114.4 401.3h.7v.7h-.7zM103.2 400.4h.7v.7h-.7zM115.4 388.2h.7v.7h-.7zM103.8 382.1h.7v.7h-.7zM92.4 398.0h.7v.7h-.7zM94.2 397.7h.7v.7h-.7zM108.3 380.7h.7v.7h-.7zM98.6 405.5h.7v.7h-.7zM104.3 395.9h.7v.7h-.7zM96.1 383.9h.7v.7h-.7zM86.0 415.0h.7v.7h-.7zM102.0 389.0h.7v.7h-.7zM105.4 381.5h.7v.7h-.7zM120.1 406.9h.7v.7h-.7zM95.6 397.2h.7v.7h-.7zM93.9 401.0h.7v.7h-.7zM94.5 394.0h.7v.7h-.7zM119.1 398.6h.7v.7h-.7zM100.4 384.4h.7v.7h-.7zM85.9 403.4h.7v.7h-.7zM110.0 395.4h.7v.7h-.7zM118.5 396.0h.7v.7h-.7zM95.8 394.3h.7v.7h-.7zM103.0 394.9h.7v.7h-.7zM132.7 399.0h.7v.7h-.7zM107.3 393.3h.7v.7h-.7zM96.4 388.1h.7v.7h-.7zM82.6 391.8h.7v.7h-.7zM86.7 382.1h.7v.7h-.7zM93.4 380.9h.7v.7h-.7zM119.9 403.7h.7v.7h-.7zM93.0 409.3h.7v.7h-.7zM111.7 377.4h.7v.7h-.7zM104.4 388.0h.7v.7h-.7zM84.1 393.2h.7v.7h-.7zM117.4 398.1h.7v.7h-.7zM87.4 390.4h.7v.7h-.7zM95.4 403.0h.7v.7h-.7zM103.0 388.2h.7v.7h-.7zM93.6 381.2h.7v.7h-.7zM94.4 401.3h.7v.7h-.7zM82.1 396.3h.7v.7h-.7zM102.8 400.7h.7v.7h-.7zM91.0 401.4h.7v.7h-.7zM122.0 411.0h.7v.7h-.7zM85.4 394.8h.7v.7h-.7zM101.7 395.9h.7v.7h-.7zM92.7 401.0h.7v.7h-.7zM131.1 405.5h.7v.7h-.7zM93.1 391.0h.7v.7h-.7zM112.5 395.9h.7v.7h-.7zM95.3 403.7h.7v.7h-.7zM110.1 402.2h.7v.7h-.7zM102.1 404.0h.7v.7h-.7zM98.7 387.2h.7v.7h-.7zM104.0 385.2h.7v.7h-.7zM118.5 400.1h.7v.7h-.7zM84.7 396.2h.7v.7h-.7zM113.9 392.5h.7v.7h-.7zM108.9 390.9h.7v.7h-.7zM103.3 394.4h.7v.7h-.7zM109.7 388.2h.7v.7h-.7zM91.0 397.3h.7v.7h-.7zM98.2 398.6h.7v.7h-.7zM98.3 385.8h.7v.7h-.7zM112.6 396.9h.7v.7h-.7zM112.5 392.6h.7v.7h-.7zM99.9 403.9h.7v.7h-.7zM84.5 407.2h.7v.7h-.7zM110.0 394.6h.7v.7h-.7zM105.1 399.2h.7v.7h-.7zM95.2 396.9h.7v.7h-.7zM93.0 382.0h.7v.7h-.7zM106.4 395.7h.7v.7h-.7zM111.5 398.9h.7v.7h-.7zM112.2 400.5h.7v.7h-.7zM91.9 403.5h.7v.7h-.7zM135.0 391.0h.7v.7h-.7zM89.5 399.8h.7v.7h-.7zM114.6 402.1h.7v.7h-.7zM121.8 385.3h.7v.7h-.7zM108.4 398.3h.7v.7h-.7zM118.5 388.7h.7v.7h-.7zM104.3 392.4h.7v.7h-.7zM102.2 394.0h.7v.7h-.7zM102.3 382.6h.7v.7h-.7zM103.6 395.5h.7v.7h-.7zM99.6 370.1h.7v.7h-.7zM96.0 390.4h.7v.7h-.7zM94.0 406.3h.7v.7h-.7zM114.7 393.7h.7v.7h-.7zM111.0 418.1h.7v.7h-.7zM92.8 398.3h.7v.7h-.7zM97.1 405.4h.7v.7h-.7zM116.9 394.1h.7v.7h-.7zM111.1 389.4h.7v.7h-.7zM85.7 400.9h.7v.7h-.7zM123.0 392.9h.7v.7h-.7zM98.0 382.4h.7v.7h-.7zM128.9 386.6h.7v.7h-.7zM92.8 393.6h.7v.7h-.7zM118.1 395.4h.7v.7h-.7zM103.8 395.1h.7v.7h-.7zM113.8 394.7h.7v.7h-.7zM105.9 394.5h.7v.7h-.7zM91.2 404.4h.7v.7h-.7zM96.0 385.7h.7v.7h-.7zM99.0 395.2h.7v.7h-.7zM113.5 384.7h.7v.7h-.7zM89.4 396.3h.7v.7h-.7zM108.5 387.3h.7v.7h-.7zM90.9 396.2h.7v.7h-.7zM102.4 383.6h.7v.7h-.7zM93.9 405.4h.7v.7h-.7zM91.8 402.4h.7v.7h-.7zM86.3 405.4h.7v.7h-.7zM122.6 390.5h.7v.7h-.7zM96.1 399.4h.7v.7h-.7zM89.7 398.9h.7v.7h-.7zM118.1 396.9h.7v.7h-.7zM107.8 393.9h.7v.7h-.7zM115.6 389.2h.7v.7h-.7zM122.4 394.8h.7v.7h-.7zM100.3 383.5h.7v.7h-.7zM98.9 396.7h.7v.7h-.7zM118.4 383.7h.7v.7h-.7zM102.6 390.2h.7v.7h-.7zM90.2 395.0h.7v.7h-.7zM95.2 401.1h.7v.7h-.7zM72.9 400.2h.7v.7h-.7zM82.0 381.3h.7v.7h-.7zM110.0 392.6h.7v.7h-.7zM105.5 388.2h.7v.7h-.7zM91.9 389.8h.7v.7h-.7zM103.4 389.1h.7v.7h-.7zM99.2 389.0h.7v.7h-.7zM106.7 387.0h.7v.7h-.7zM80.0 376.5h.7v.7h-.7zM103.8 395.7h.7v.7h-.7zM115.1 389.8h.7v.7h-.7zM90.8 384.5h.7v.7h-.7zM112.8 390.6h.7v.7h-.7zM115.4 394.4h.7v.7h-.7zM100.8 381.9h.7v.7h-.7zM96.2 400.5h.7v.7h-.7zM97.0 399.8h.7v.7h-.7zM85.0 402.1h.7v.7h-.7zM136.2 402.8h.7v.7h-.7zM107.7 386.3h.7v.7h-.7zM97.9 390.4h.7v.7h-.7zM106.2 380.8h.7v.7h-.7zM94.0 400.6h.7v.7h-.7zM105.7 400.2h.7v.7h-.7zM113.9 387.0h.7v.7h-.7zM88.5 398.3h.7v.7h-.7zM104.4 395.6h.7v.7h-.7zM94.6 402.2h.7v.7h-.7zM109.7 403.0h.7v.7h-.7zM99.9 399.9h.7v.7h-.7zM103.3 388.4h.7v.7h-.7zM103.1 383.4h.7v.7h-.7zM101.9 396.3h.7v.7h-.7zM112.0 387.6h.7v.7h-.7zM88.7 389.9h.7v.7h-.7zM80.1 390.4h.7v.7h-.7zM134.2 396.0h.7v.7h-.7zM95.2 390.2h.7v.7h-.7zM124.4 386.8h.7v.7h-.7zM102.7 394.4h.7v.7h-.7zM95.5 389.9h.7v.7h-.7zM84.6 389.1h.7v.7h-.7zM119.0 404.9h.7v.7h-.7zM100.7 399.9h.7v.7h-.7zM109.3 395.8h.7v.7h-.7zM102.4 403.5h.7v.7h-.7zM110.6 393.4h.7v.7h-.7zM101.3 401.6h.7v.7h-.7zM97.2 390.0h.7v.7h-.7zM100.8 391.5h.7v.7h-.7zM118.6 397.5h.7v.7h-.7zM103.0 391.3h.7v.7h-.7zM120.3 398.1h.7v.7h-.7zM128.0 401.4h.7v.7h-.7zM101.5 391.1h.7v.7h-.7zM100.7 396.3h.7v.7h-.7zM113.1 398.4h.7v.7h-.7zM122.1 384.3h.7v.7h-.7zM104.3 385.0h.7v.7h-.7zM92.1 390.8h.7v.7h-.7zM96.5 388.2h.7v.7h-.7zM86.5 403.0h.7v.7h-.7zM100.3 401.8h.7v.7h-.7zM91.3 378.7h.7v.7h-.7zM97.1 401.2h.7v.7h-.7zM97.6 397.8h.7v.7h-.7zM91.6 404.8h.7v.7h-.7zM109.0 402.4h.7v.7h-.7zM100.8 404.0h.7v.7h-.7zM104.8 391.6h.7v.7h-.7zM96.6 395.4h.7v.7h-.7zM93.5 386.6h.7v.7h-.7zM105.5 400.0h.7v.7h-.7zM100.6 400.9h.7v.7h-.7zM122.3 386.1h.7v.7h-.7zM107.0 388.2h.7v.7h-.7zM96.6 396.2h.7v.7h-.7zM76.6 399.2h.7v.7h-.7zM113.7 398.8h.7v.7h-.7zM111.5 407.7h.7v.7h-.7zM99.8 402.7h.7v.7h-.7zM120.7 398.4h.7v.7h-.7zM83.4 393.9h.7v.7h-.7zM100.6 383.6h.7v.7h-.7zM103.3 400.3h.7v.7h-.7zM101.0 393.7h.7v.7h-.7zM120.9 390.7h.7v.7h-.7zM93.1 395.3h.7v.7h-.7zM116.9 399.2h.7v.7h-.7zM104.8 391.5h.7v.7h-.7zM118.2 401.2h.7v.7h-.7zM84.0 397.3h.7v.7h-.7zM76.3 405.5h.7v.7h-.7zM111.1 390.6h.7v.7h-.7zM89.1 392.9h.7v.7h-.7zM83.8 399.0h.7v.7h-.7zM98.1 382.6h.7v.7h-.7zM103.8 403.3h.7v.7h-.7zM89.3 392.5h.7v.7h-.7zM124.9 396.3h.7v.7h-.7zM97.6 396.3h.7v.7h-.7zM113.0 387.9h.7v.7h-.7zM102.9 383.5h.7v.7h-.7zM85.7 384.2h.7v.7h-.7zM113.7 397.2h.7v.7h-.7zM112.4 403.5h.7v.7h-.7zM104.5 396.6h.7v.7h-.7zM108.7 398.3h.7v.7h-.7zM91.7 393.1h.7v.7h-.7zM102.2 395.2h.7v.7h-.7zM95.3 394.1h.7v.7h-.7zM107.3 396.3h.7v.7h-.7zM110.8 400.8h.7v.7h-.7zM110.4 401.8h.7v.7h-.7zM113.7 404.8h.7v.7h-.7zM111.2 390.6h.7v.7h-.7zM130.8 402.9h.7v.7h-.7zM118.4 400.1h.7v.7h-.7zM104.5 387.0h.7v.7h-.7zM109.0 392.5h.7v.7h-.7zM99.4 380.0h.7v.7h-.7zM121.8 386.8h.7v.7h-.7zM91.3 398.3h.7v.7h-.7zM110.5 389.4h.7v.7h-.7zM103.9 396.8h.7v.7h-.7zM105.8 398.7h.7v.7h-.7zM112.9 392.4h.7v.7h-.7zM85.3 410.2h.7v.7h-.7zM99.6 388.0h.7v.7h-.7zM112.6 399.1h.7v.7h-.7zM96.9 411.5h.7v.7h-.7zM76.9 404.0h.7v.7h-.7zM103.5 397.2h.7v.7h-.7zM107.7 393.4h.7v.7h-.7zM107.7 385.9h.7v.7h-.7zM99.4 408.0h.7v.7h-.7zM74.3 403.6h.7v.7h-.7zM78.2 389.0h.7v.7h-.7zM114.1 392.1h.7v.7h-.7zM97.3 384.5h.7v.7h-.7zM102.6 393.7h.7v.7h-.7zM96.6 384.0h.7v.7h-.7zM105.8 397.9h.7v.7h-.7zM117.1 398.6h.7v.7h-.7zM121.5 403.4h.7v.7h-.7zM71.4 406.7h.7v.7h-.7zM102.8 387.6h.7v.7h-.7zM109.0 401.7h.7v.7h-.7zM86.1 386.3h.7v.7h-.7zM111.9 391.1h.7v.7h-.7zM120.8 396.5h.7v.7h-.7zM97.6 385.7h.7v.7h-.7zM110.9 382.9h.7v.7h-.7zM88.9 385.8h.7v.7h-.7zM123.6 407.0h.7v.7h-.7zM101.4 392.3h.7v.7h-.7zM112.1 403.7h.7v.7h-.7zM94.7 410.5h.7v.7h-.7zM101.6 402.9h.7v.7h-.7zM76.7 394.6h.7v.7h-.7zM95.9 408.9h.7v.7h-.7zM101.5 386.0h.7v.7h-.7zM126.5 390.2h.7v.7h-.7zM103.9 386.2h.7v.7h-.7zM111.8 396.3h.7v.7h-.7zM100.7 392.2h.7v.7h-.7zM97.4 389.9h.7v.7h-.7zM87.7 403.5h.7v.7h-.7zM114.3 385.2h.7v.7h-.7zM90.5 397.9h.7v.7h-.7zM130.1 393.6h.7v.7h-.7zM100.4 393.2h.7v.7h-.7zM106.9 393.8h.7v.7h-.7zM116.5 401.9h.7v.7h-.7zM110.4 406.1h.7v.7h-.7zM101.3 391.1h.7v.7h-.7zM138.4 381.4h.7v.7h-.7zM86.0 378.4h.7v.7h-.7zM108.1 387.5h.7v.7h-.7zM116.2 380.3h.7v.7h-.7zM102.4 392.2h.7v.7h-.7zM91.5 402.8h.7v.7h-.7zM99.4 398.2h.7v.7h-.7zM97.9 396.0h.7v.7h-.7zM98.8 395.5h.7v.7h-.7zM102.8 390.2h.7v.7h-.7zM109.0 393.7h.7v.7h-.7zM92.8 387.6h.7v.7h-.7zM109.1 404.3h.7v.7h-.7zM88.8 392.1h.7v.7h-.7zM109.2 402.3h.7v.7h-.7zM112.2 386.7h.7v.7h-.7zM104.4 401.3h.7v.7h-.7zM106.8 393.4h.7v.7h-.7zM90.3 396.2h.7v.7h-.7zM103.2 395.2h.7v.7h-.7zM121.3 403.3h.7v.7h-.7zM94.8 396.6h.7v.7h-.7zM100.4 395.7h.7v.7h-.7zM122.8 401.4h.7v.7h-.7zM104.5 390.4h.7v.7h-.7zM102.1 397.5h.7v.7h-.7zM98.2 402.7h.7v.7h-.7zM104.2 386.7h.7v.7h-.7zM127.6 374.6h.7v.7h-.7zM100.9 394.1h.7v.7h-.7zM115.4 402.8h.7v.7h-.7zM120.8 406.0h.7v.7h-.7zM107.7 395.8h.7v.7h-.7zM115.7 394.8h.7v.7h-.7zM89.4 391.8h.7v.7h-.7zM111.6 399.3h.7v.7h-.7zM91.2 403.4h.7v.7h-.7zM107.6 384.4h.7v.7h-.7zM109.4 402.1h.7v.7h-.7zM110.1 392.8h.7v.7h-.7zM94.7 402.9h.7v.7h-.7zM106.6 395.0h.7v.7h-.7zM99.4 387.7h.7v.7h-.7zM82.3 392.6h.7v.7h-.7zM116.8 400.4h.7v.7h-.7zM96.1 405.7h.7v.7h-.7zM101.4 387.9h.7v.7h-.7zM115.3 404.7h.7v.7h-.7zM99.5 386.4h.7v.7h-.7zM103.3 377.9h.7v.7h-.7zM104.6 405.7h.7v.7h-.7zM107.2 389.8h.7v.7h-.7zM112.2 391.5h.7v.7h-.7zM118.6 392.5h.7v.7h-.7zM127.5 392.5h.7v.7h-.7zM106.2 388.4h.7v.7h-.7zM89.2 397.4h.7v.7h-.7zM108.0 388.2h.7v.7h-.7zM110.5 392.1h.7v.7h-.7zM97.6 394.5h.7v.7h-.7zM108.5 400.1h.7v.7h-.7zM118.3 397.7h.7v.7h-.7zM95.6 390.2h.7v.7h-.7zM108.3 386.6h.7v.7h-.7zM102.0 392.3h.7v.7h-.7zM102.9 396.3h.7v.7h-.7zM116.0 406.5h.7v.7h-.7zM114.2 402.1h.7v.7h-.7zM91.7 402.3h.7v.7h-.7zM119.0 385.5h.7v.7h-.7zM133.2 391.0h.7v.7h-.7zM76.5 407.4h.7v.7h-.7zM104.7 389.4h.7v.7h-.7zM97.4 402.5h.7v.7h-.7zM107.0 392.4h.7v.7h-.7zM117.3 388.4h.7v.7h-.7zM94.2 391.1h.7v.7h-.7zM95.4 399.8h.7v.7h-.7zM101.3 387.6h.7v.7h-.7zM98.7 381.1h.7v.7h-.7zM105.9 395.7h.7v.7h-.7zM111.0 393.3h.7v.7h-.7zM108.6 388.4h.7v.7h-.7zM104.3 396.1h.7v.7h-.7zM90.0 399.1h.7v.7h-.7zM105.6 395.4h.7v.7h-.7zM98.5 409.0h.7v.7h-.7zM104.0 389.6h.7v.7h-.7zM94.2 399.1h.7v.7h-.7zM101.6 389.5h.7v.7h-.7zM95.6 401.5h.7v.7h-.7zM105.0 402.4h.7v.7h-.7zM103.8 386.7h.7v.7h-.7zM114.0 397.2h.7v.7h-.7zM96.5 392.8h.7v.7h-.7zM92.8 400.8h.7v.7h-.7zM99.2 398.3h.7v.7h-.7zM107.0 393.2h.7v.7h-.7zM108.3 393.3h.7v.7h-.7zM90.4 392.1h.7v.7h-.7zM90.4 400.3h.7v.7h-.7zM111.5 390.9h.7v.7h-.7zM111.1 396.7h.7v.7h-.7zM115.2 388.5h.7v.7h-.7zM104.3 388.0h.7v.7h-.7zM96.1 404.6h.7v.7h-.7zM80.9 388.6h.7v.7h-.7zM109.6 400.4h.7v.7h-.7zM95.0 380.8h.7v.7h-.7zM84.2 397.6h.7v.7h-.7zM116.7 401.4h.7v.7h-.7zM95.6 404.5h.7v.7h-.7zM101.8 399.3h.7v.7h-.7zM101.8 406.1h.7v.7h-.7zM98.0 380.0h.7v.7h-.7zM100.4 396.3h.7v.7h-.7zM107.2 390.0h.7v.7h-.7zM101.3 387.1h.7v.7h-.7zM101.3 395.6h.7v.7h-.7zM106.8 406.5h.7v.7h-.7zM81.0 398.6h.7v.7h-.7zM109.0 386.9h.7v.7h-.7zM104.8 394.9h.7v.7h-.7zM92.5 400.0h.7v.7h-.7zM126.0 399.7h.7v.7h-.7zM112.9 402.5h.7v.7h-.7zM102.5 401.8h.7v.7h-.7zM94.7 396.2h.7v.7h-.7zM112.1 404.1h.7v.7h-.7zM100.7 393.0h.7v.7h-.7zM109.4 394.4h.7v.7h-.7zM105.6 400.6h.7v.7h-.7zM95.2 401.1h.7v.7h-.7zM108.4 393.2h.7v.7h-.7zM89.6 390.6h.7v.7h-.7zM103.5 401.6h.7v.7h-.7zM81.4 400.0h.7v.7h-.7zM106.2 387.1h.7v.7h-.7zM113.8 397.8h.7v.7h-.7zM109.0 388.2h.7v.7h-.7zM91.3 401.3h.7v.7h-.7zM120.1 397.5h.7v.7h-.7zM101.8 391.9h.7v.7h-.7zM84.4 401.9h.7v.7h-.7zM102.9 403.6h.7v.7h-.7zM95.7 402.3h.7v.7h-.7zM95.8 399.1h.7v.7h-.7zM119.7 390.1h.7v.7h-.7zM114.4 394.9h.7v.7h-.7zM93.3 396.4h.7v.7h-.7zM111.4 390.0h.7v.7h-.7zM100.9 391.0h.7v.7h-.7zM95.2 393.5h.7v.7h-.7zM113.4 391.5h.7v.7h-.7zM118.2 392.4h.7v.7h-.7zM96.1 402.4h.7v.7h-.7zM120.0 390.5h.7v.7h-.7zM110.7 386.9h.7v.7h-.7zM99.4 392.4h.7v.7h-.7zM112.1 386.3h.7v.7h-.7zM98.2 390.2h.7v.7h-.7zM105.1 386.5h.7v.7h-.7zM88.7 414.6h.7v.7h-.7zM106.4 384.6h.7v.7h-.7zM113.5 385.9h.7v.7h-.7zM82.5 406.6h.7v.7h-.7zM118.2 389.2h.7v.7h-.7zM91.6 398.3h.7v.7h-.7zM127.1 399.2h.7v.7h-.7zM111.5 386.8h.7v.7h-.7zM83.7 397.7h.7v.7h-.7zM115.5 395.9h.7v.7h-.7zM103.9 404.6h.7v.7h-.7zM94.4 402.6h.7v.7h-.7zM113.5 390.7h.7v.7h-.7zM105.4 395.8h.7v.7h-.7zM110.6 388.2h.7v.7h-.7zM101.4 395.6h.7v.7h-.7zM104.3 395.1h.7v.7h-.7zM106.8 393.7h.7v.7h-.7zM98.3 402.1h.7v.7h-.7zM96.7 392.8h.7v.7h-.7zM94.0 387.1h.7v.7h-.7zM109.1 394.7h.7v.7h-.7zM102.5 398.1h.7v.7h-.7zM102.0 399.7h.7v.7h-.7zM124.5 397.4h.7v.7h-.7zM101.0 406.4h.7v.7h-.7zM112.0 383.5h.7v.7h-.7zM119.1 396.5h.7v.7h-.7zM113.7 387.0h.7v.7h-.7zM94.4 390.5h.7v.7h-.7zM110.3 387.2h.7v.7h-.7zM96.0 401.6h.7v.7h-.7zM96.7 395.8h.7v.7h-.7zM93.8 383.3h.7v.7h-.7zM103.1 394.2h.7v.7h-.7zM87.8 401.7h.7v.7h-.7zM113.3 401.1h.7v.7h-.7zM98.2 387.1h.7v.7h-.7zM103.0 396.1h.7v.7h-.7zM102.0 391.0h.7v.7h-.7zM92.7 389.9h.7v.7h-.7zM103.1 391.6h.7v.7h-.7zM122.8 393.1h.7v.7h-.7zM109.1 391.8h.7v.7h-.7zM101.9 388.3h.7v.7h-.7zM98.5 384.7h.7v.7h-.7zM80.5 404.2h.7v.7h-.7zM92.1 398.0h.7v.7h-.7zM102.6 391.1h.7v.7h-.7zM112.2 391.2h.7v.7h-.7zM108.9 392.5h.7v.7h-.7zM114.9 401.6h.7v.7h-.7zM104.7 402.5h.7v.7h-.7zM109.7 405.7h.7v.7h-.7zM102.6 384.4h.7v.7h-.7zM106.4 396.6h.7v.7h-.7zM99.9 393.6h.7v.7h-.7zM100.9 386.4h.7v.7h-.7zM123.3 389.7h.7v.7h-.7zM91.9 384.1h.7v.7h-.7zM94.5 394.7h.7v.7h-.7zM120.6 399.1h.7v.7h-.7zM95.8 386.5h.7v.7h-.7zM91.4 394.4h.7v.7h-.7zM113.8 391.7h.7v.7h-.7zM122.0 408.3h.7v.7h-.7zM105.8 380.1h.7v.7h-.7zM116.3 394.3h.7v.7h-.7zM111.5 401.8h.7v.7h-.7zM92.6 395.4h.7v.7h-.7zM106.0 389.8h.7v.7h-.7zM111.8 394.1h.7v.7h-.7zM99.4 407.9h.7v.7h-.7zM105.9 406.2h.7v.7h-.7zM102.2 402.1h.7v.7h-.7zM95.5 396.0h.7v.7h-.7zM116.1 380.1h.7v.7h-.7zM110.0 393.1h.7v.7h-.7zM116.2 396.2h.7v.7h-.7zM103.1 386.2h.7v.7h-.7zM137.0 389.9h.7v.7h-.7zM100.3 390.0h.7v.7h-.7zM100.6 396.5h.7v.7h-.7zM88.9 402.2h.7v.7h-.7zM101.0 399.1h.7v.7h-.7zM80.3 391.4h.7v.7h-.7zM100.6 392.3h.7v.7h-.7zM96.5 397.1h.7v.7h-.7zM108.5 388.3h.7v.7h-.7zM81.9 400.0h.7v.7h-.7zM100.4 402.3h.7v.7h-.7zM113.8 394.3h.7v.7h-.7zM87.9 392.5h.7v.7h-.7zM95.8 403.5h.7v.7h-.7zM84.9 401.3h.7v.7h-.7zM86.6 391.1h.7v.7h-.7zM88.1 390.2h.7v.7h-.7zM99.0 397.5h.7v.7h-.7zM97.3 399.7h.7v.7h-.7zM123.6 396.1h.7v.7h-.7zM91.0 393.8h.7v.7h-.7zM102.8 392.5h.7v.7h-.7zM116.9 402.9h.7v.7h-.7zM126.4 398.6h.7v.7h-.7zM74.0 394.1h.7v.7h-.7zM111.5 389.5h.7v.7h-.7zM97.2 401.2h.7v.7h-.7zM105.6 387.3h.7v.7h-.7zM97.4 373.8h.7v.7h-.7zM103.9 386.6h.7v.7h-.7zM103.3 386.8h.7v.7h-.7zM93.5 391.4h.7v.7h-.7zM135.2 386.8h.7v.7h-.7zM90.6 391.3h.7v.7h-.7zM115.8 400.5h.7v.7h-.7zM111.7 392.8h.7v.7h-.7zM105.4 389.7h.7v.7h-.7zM101.9 389.4h.7v.7h-.7zM87.6 388.2h.7v.7h-.7zM125.6 397.7h.7v.7h-.7zM95.5 394.2h.7v.7h-.7zM98.9 403.3h.7v.7h-.7zM103.6 390.6h.7v.7h-.7zM111.5 397.2h.7v.7h-.7zM96.2 389.7h.7v.7h-.7zM105.5 383.8h.7v.7h-.7zM93.7 401.9h.7v.7h-.7zM113.6 402.6h.7v.7h-.7zM98.9 390.9h.7v.7h-.7zM100.9 391.7h.7v.7h-.7zM118.3 393.4h.7v.7h-.7zM119.1 390.1h.7v.7h-.7zM108.1 406.1h.7v.7h-.7zM95.6 390.5h.7v.7h-.7zM97.2 383.9h.7v.7h-.7zM100.6 390.6h.7v.7h-.7zM128.6 391.7h.7v.7h-.7zM79.9 401.4h.7v.7h-.7zM114.6 394.7h.7v.7h-.7zM107.1 399.9h.7v.7h-.7zM97.6 395.3h.7v.7h-.7zM105.5 406.3h.7v.7h-.7zM119.7 396.1h.7v.7h-.7zM88.9 401.0h.7v.7h-.7zM103.3 403.0h.7v.7h-.7zM104.5 396.2h.7v.7h-.7zM111.2 390.0h.7v.7h-.7zM96.5 410.7h.7v.7h-.7zM94.2 401.4h.7v.7h-.7zM111.5 400.6h.7v.7h-.7zM119.2 385.8h.7v.7h-.7zM114.6 380.9h.7v.7h-.7zM104.5 397.3h.7v.7h-.7zM115.4 402.4h.7v.7h-.7zM93.4 393.1h.7v.7h-.7zM102.1 390.2h.7v.7h-.7zM94.7 390.4h.7v.7h-.7zM116.7 404.3h.7v.7h-.7zM112.3 406.5h.7v.7h-.7zM104.9 387.5h.7v.7h-.7zM96.5 396.4h.7v.7h-.7zM115.4 403.3h.7v.7h-.7zM93.8 401.5h.7v.7h-.7zM97.9 399.1h.7v.7h-.7zM114.1 405.1h.7v.7h-.7zM98.0 396.6h.7v.7h-.7zM108.7 392.1h.7v.7h-.7zM104.9 399.1h.7v.7h-.7zM85.4 390.6h.7v.7h-.7zM129.7 398.1h.7v.7h-.7zM97.6 382.4h.7v.7h-.7zM93.1 398.5h.7v.7h-.7zM111.5 398.0h.7v.7h-.7zM110.5 390.8h.7v.7h-.7zM121.7 387.3h.7v.7h-.7zM109.6 393.2h.7v.7h-.7zM84.7 401.2h.7v.7h-.7zM100.8 399.9h.7v.7h-.7zM118.1 396.1h.7v.7h-.7zM96.5 393.5h.7v.7h-.7zM103.1 404.9h.7v.7h-.7zM113.4 405.9h.7v.7h-.7zM112.3 389.7h.7v.7h-.7zM114.2 401.6h.7v.7h-.7zM102.5 398.2h.7v.7h-.7zM100.3 386.3h.7v.7h-.7zM102.8 400.2h.7v.7h-.7zM99.8 379.6h.7v.7h-.7zM94.9 402.5h.7v.7h-.7zM106.4 402.7h.7v.7h-.7zM95.4 392.1h.7v.7h-.7zM92.6 389.6h.7v.7h-.7zM109.6 395.9h.7v.7h-.7zM98.4 397.0h.7v.7h-.7zM89.2 392.3h.7v.7h-.7zM87.1 384.7h.7v.7h-.7zM88.6 387.4h.7v.7h-.7zM121.5 404.4h.7v.7h-.7zM117.9 391.0h.7v.7h-.7zM110.8 387.2h.7v.7h-.7zM97.8 396.7h.7v.7h-.7zM86.0 396.3h.7v.7h-.7zM110.7 380.7h.7v.7h-.7zM76.5 393.1h.7v.7h-.7zM102.5 396.0h.7v.7h-.7zM91.2 398.9h.7v.7h-.7zM105.2 389.9h.7v.7h-.7zM122.2 396.8h.7v.7h-.7zM112.1 407.8h.7v.7h-.7zM98.3 393.5h.7v.7h-.7zM84.4 393.4h.7v.7h-.7zM108.7 412.2h.7v.7h-.7zM110.1 396.4h.7v.7h-.7zM89.7 389.1h.7v.7h-.7zM83.1 385.5h.7v.7h-.7zM105.1 397.0h.7v.7h-.7zM93.6 393.5h.7v.7h-.7zM94.8 399.3h.7v.7h-.7zM111.0 391.1h.7v.7h-.7zM98.7 386.5h.7v.7h-.7zM98.6 410.1h.7v.7h-.7zM103.7 400.9h.7v.7h-.7zM110.3 405.2h.7v.7h-.7zM100.2 388.7h.7v.7h-.7zM115.4 401.3h.7v.7h-.7zM96.4 402.6h.7v.7h-.7zM103.7 394.7h.7v.7h-.7zM124.4 398.7h.7v.7h-.7zM107.3 392.8h.7v.7h-.7zM106.0 402.3h.7v.7h-.7zM108.9 389.8h.7v.7h-.7zM108.8 394.2h.7v.7h-.7zM107.3 393.7h.7v.7h-.7zM79.4 383.8h.7v.7h-.7zM99.5 379.7h.7v.7h-.7zM87.0 409.0h.7v.7h-.7zM111.6 391.8h.7v.7h-.7zM107.5 379.5h.7v.7h-.7zM106.6 401.8h.7v.7h-.7zM105.9 385.9h.7v.7h-.7zM114.7 391.3h.7v.7h-.7zM97.4 396.4h.7v.7h-.7zM100.4 409.1h.7v.7h-.7zM102.3 409.9h.7v.7h-.7zM108.9 386.4h.7v.7h-.7zM103.8 395.4h.7v.7h-.7zM119.9 403.9h.7v.7h-.7zM132.5 390.4h.7v.7h-.7zM98.9 411.2h.7v.7h-.7zM93.8 397.5h.7v.7h-.7zM121.9 388.0h.7v.7h-.7zM99.9 389.8h.7v.7h-.7zM109.7 397.8h.7v.7h-.7zM103.4 399.6h.7v.7h-.7zM95.0 392.4h.7v.7h-.7zM109.1 409.0h.7v.7h-.7zM103.4 395.4h.7v.7h-.7zM118.5 395.5h.7v.7h-.7zM118.4 396.7h.7v.7h-.7zM116.8 396.3h.7v.7h-.7zM93.5 389.1h.7v.7h-.7zM108.6 408.1h.7v.7h-.7zM124.8 392.8h.7v.7h-.7zM131.9 387.3h.7v.7h-.7zM94.3 401.5h.7v.7h-.7zM86.7 401.3h.7v.7h-.7zM108.1 399.4h.7v.7h-.7zM90.3 397.7h.7v.7h-.7zM114.4 394.6h.7v.7h-.7zM115.4 395.2h.7v.7h-.7zM107.7 392.8h.7v.7h-.7zM88.5 393.9h.7v.7h-.7zM109.4 389.7h.7v.7h-.7zM81.8 384.2h.7v.7h-.7zM118.6 393.4h.7v.7h-.7zM95.2 403.6h.7v.7h-.7zM101.9 384.5h.7v.7h-.7zM98.9 388.9h.7v.7h-.7zM101.7 388.6h.7v.7h-.7zM104.6 398.2h.7v.7h-.7zM97.4 393.6h.7v.7h-.7zM102.1 400.8h.7v.7h-.7zM95.7 400.2h.7v.7h-.7zM117.9 393.6h.7v.7h-.7zM92.9 392.8h.7v.7h-.7zM83.8 391.2h.7v.7h-.7zM90.4 393.8h.7v.7h-.7zM99.6 398.6h.7v.7h-.7zM105.1 397.9h.7v.7h-.7zM103.3 397.0h.7v.7h-.7zM91.1 399.6h.7v.7h-.7zM118.5 402.8h.7v.7h-.7zM88.7 397.9h.7v.7h-.7zM85.5 400.3h.7v.7h-.7zM101.5 391.8h.7v.7h-.7zM95.4 393.3h.7v.7h-.7zM103.8 388.3h.7v.7h-.7zM104.5 396.8h.7v.7h-.7zM109.8 394.7h.7v.7h-.7zM103.8 411.2h.7v.7h-.7zM115.2 397.3h.7v.7h-.7zM88.2 399.3h.7v.7h-.7zM110.3 376.4h.7v.7h-.7zM102.0 397.7h.7v.7h-.7zM104.2 395.7h.7v.7h-.7zM102.1 404.7h.7v.7h-.7zM108.1 393.0h.7v.7h-.7zM101.3 409.6h.7v.7h-.7zM94.1 391.3h.7v.7h-.7zM107.5 396.0h.7v.7h-.7zM107.2 404.5h.7v.7h-.7zM116.7 397.9h.7v.7h-.7zM104.3 394.6h.7v.7h-.7zM101.2 402.0h.7v.7h-.7zM89.5 387.7h.7v.7h-.7zM98.7 388.3h.7v.7h-.7zM95.5 403.4h.7v.7h-.7zM78.4 399.0h.7v.7h-.7zM89.0 393.3h.7v.7h-.7zM97.3 388.1h.7v.7h-.7zM87.0 395.5h.7v.7h-.7zM70.3 380.2h.7v.7h-.7zM99.4 402.7h.7v.7h-.7zM124.8 393.0h.7v.7h-.7zM94.8 393.0h.7v.7h-.7zM109.2 401.5h.7v.7h-.7zM93.0 398.3h.7v.7h-.7zM103.5 403.0h.7v.7h-.7zM99.2 393.5h.7v.7h-.7zM94.2 385.7h.7v.7h-.7zM106.9 400.0h.7v.7h-.7zM116.6 396.9h.7v.7h-.7zM98.6 388.6h.7v.7h-.7zM90.7 389.9h.7v.7h-.7zM107.7 395.6h.7v.7h-.7zM77.9 394.3h.7v.7h-.7zM100.6 387.7h.7v.7h-.7zM103.6 398.7h.7v.7h-.7zM92.1 385.5h.7v.7h-.7zM100.2 396.8h.7v.7h-.7zM100.9 405.8h.7v.7h-.7zM105.5 388.0h.7v.7h-.7zM112.7 390.5h.7v.7h-.7zM111.7 395.7h.7v.7h-.7zM117.9 388.0h.7v.7h-.7zM112.1 398.0h.7v.7h-.7zM93.6 399.9h.7v.7h-.7zM129.6 397.5h.7v.7h-.7zM95.2 393.9h.7v.7h-.7zM118.7 396.8h.7v.7h-.7zM120.7 390.4h.7v.7h-.7zM118.8 384.0h.7v.7h-.7zM102.0 392.9h.7v.7h-.7zM98.3 403.6h.7v.7h-.7zM97.0 397.5h.7v.7h-.7zM125.0 400.8h.7v.7h-.7zM99.2 389.9h.7v.7h-.7zM81.1 397.7h.7v.7h-.7zM114.0 402.8h.7v.7h-.7zM106.6 410.1h.7v.7h-.7zM112.7 378.8h.7v.7h-.7zM93.9 400.6h.7v.7h-.7zM99.4 400.9h.7v.7h-.7zM133.1 389.7h.7v.7h-.7zM129.1 394.4h.7v.7h-.7zM87.1 395.7h.7v.7h-.7zM114.2 390.9h.7v.7h-.7zM121.9 388.9h.7v.7h-.7zM101.7 401.5h.7v.7h-.7zM101.5 391.1h.7v.7h-.7zM103.7 399.6h.7v.7h-.7zM123.7 404.5h.7v.7h-.7zM125.3 394.8h.7v.7h-.7zM85.0 394.7h.7v.7h-.7zM99.2 388.0h.7v.7h-.7zM98.0 394.5h.7v.7h-.7zM104.5 401.4h.7v.7h-.7zM93.5 403.0h.7v.7h-.7zM104.4 400.1h.7v.7h-.7zM118.2 386.3h.7v.7h-.7zM122.2 390.0h.7v.7h-.7zM108.5 402.6h.7v.7h-.7zM114.5 384.0h.7v.7h-.7zM105.8 403.0h.7v.7h-.7zM102.5 394.4h.7v.7h-.7zM104.8 406.5h.7v.7h-.7zM97.7 388.4h.7v.7h-.7zM91.3 391.3h.7v.7h-.7zM101.3 397.4h.7v.7h-.7zM103.0 383.0h.7v.7h-.7zM85.9 399.8h.7v.7h-.7zM112.3 385.5h.7v.7h-.7zM114.7 378.0h.7v.7h-.7zM130.6 399.1h.7v.7h-.7zM84.9 398.6h.7v.7h-.7zM103.6 391.8h.7v.7h-.7zM99.7 393.4h.7v.7h-.7zM102.8 388.7h.7v.7h-.7zM97.4 398.9h.7v.7h-.7zM110.0 385.7h.7v.7h-.7zM98.3 406.0h.7v.7h-.7zM112.2 406.6h.7v.7h-.7zM88.5 387.7h.7v.7h-.7zM79.1 381.4h.7v.7h-.7zM99.7 387.6h.7v.7h-.7zM91.5 390.1h.7v.7h-.7zM101.8 400.8h.7v.7h-.7zM110.4 382.7h.7v.7h-.7zM121.1 392.7h.7v.7h-.7zM92.5 394.8h.7v.7h-.7zM99.4 385.3h.7v.7h-.7zM121.9 390.9h.7v.7h-.7zM97.1 398.8h.7v.7h-.7zM123.2 398.4h.7v.7h-.7zM93.6 398.1h.7v.7h-.7zM116.7 397.7h.7v.7h-.7zM111.4 391.6h.7v.7h-.7zM103.2 383.2h.7v.7h-.7zM95.7 387.0h.7v.7h-.7zM104.1 405.5h.7v.7h-.7zM78.1 385.7h.7v.7h-.7zM93.3 394.4h.7v.7h-.7zM117.4 389.5h.7v.7h-.7zM95.0 403.5h.7v.7h-.7zM108.3 398.7h.7v.7h-.7zM113.6 389.8h.7v.7h-.7zM106.6 390.4h.7v.7h-.7zM95.7 395.9h.7v.7h-.7zM109.0 386.1h.7v.7h-.7zM95.1 399.3h.7v.7h-.7zM105.9 399.7h.7v.7h-.7zM100.4 389.4h.7v.7h-.7zM113.0 399.2h.7v.7h-.7zM71.3 401.1h.7v.7h-.7zM95.2 399.7h.7v.7h-.7zM122.1 393.0h.7v.7h-.7zM92.8 396.8h.7v.7h-.7zM105.0 399.0h.7v.7h-.7zM87.8 396.7h.7v.7h-.7zM114.3 399.9h.7v.7h-.7zM111.2 403.4h.7v.7h-.7zM94.5 403.6h.7v.7h-.7zM106.4 388.0h.7v.7h-.7zM100.6 396.9h.7v.7h-.7zM107.8 404.5h.7v.7h-.7zM106.2 391.4h.7v.7h-.7zM129.2 392.7h.7v.7h-.7zM94.5 401.5h.7v.7h-.7zM99.2 389.5h.7v.7h-.7zM91.7 403.3h.7v.7h-.7zM91.7 395.7h.7v.7h-.7zM98.7 393.7h.7v.7h-.7zM94.6 396.1h.7v.7h-.7zM111.0 402.4h.7v.7h-.7zM99.9 386.8h.7v.7h-.7zM86.9 395.1h.7v.7h-.7zM75.3 404.4h.7v.7h-.7zM104.3 395.9h.7v.7h-.7zM87.9 390.5h.7v.7h-.7zM95.4 399.8h.7v.7h-.7zM99.3 399.4h.7v.7h-.7zM109.9 381.5h.7v.7h-.7zM101.3 403.9h.7v.7h-.7zM98.1 395.9h.7v.7h-.7zM102.5 386.4h.7v.7h-.7zM129.2 394.1h.7v.7h-.7zM111.4 391.9h.7v.7h-.7zM120.2 403.1h.7v.7h-.7zM117.6 401.7h.7v.7h-.7zM112.1 404.8h.7v.7h-.7zM108.6 396.0h.7v.7h-.7zM113.3 388.8h.7v.7h-.7zM74.7 400.7h.7v.7h-.7zM105.8 390.1h.7v.7h-.7zM100.9 388.4h.7v.7h-.7zM94.3 396.4h.7v.7h-.7zM105.4 400.9h.7v.7h-.7zM102.9 399.5h.7v.7h-.7zM111.9 390.1h.7v.7h-.7zM84.5 390.2h.7v.7h-.7zM101.1 391.3h.7v.7h-.7zM129.5 390.3h.7v.7h-.7zM109.5 389.7h.7v.7h-.7zM112.0 386.2h.7v.7h-.7zM115.0 396.3h.7v.7h-.7zM99.4 386.7h.7v.7h-.7zM123.3 391.0h.7v.7h-.7zM120.6 378.2h.7v.7h-.7zM90.1 407.7h.7v.7h-.7zM124.6 395.2h.7v.7h-.7zM115.5 399.3h.7v.7h-.7zM99.9 396.0h.7v.7h-.7zM90.8 385.7h.7v.7h-.7zM105.4 400.2h.7v.7h-.7zM105.8 386.5h.7v.7h-.7zM113.8 395.7h.7v.7h-.7zM112.7 393.1h.7v.7h-.7zM100.9 402.4h.7v.7h-.7zM119.8 386.7h.7v.7h-.7zM91.2 401.9h.7v.7h-.7zM108.1 395.4h.7v.7h-.7zM92.7 402.2h.7v.7h-.7zM106.2 396.6h.7v.7h-.7zM108.5 391.4h.7v.7h-.7zM108.6 396.0h.7v.7h-.7zM112.3 397.7h.7v.7h-.7zM89.2 390.1h.7v.7h-.7zM100.9 403.2h.7v.7h-.7zM96.5 403.0h.7v.7h-.7zM116.5 401.2h.7v.7h-.7zM130.0 395.0h.7v.7h-.7zM107.7 403.6h.7v.7h-.7zM108.7 402.0h.7v.7h-.7zM102.5 405.0h.7v.7h-.7zM108.1 381.7h.7v.7h-.7zM116.5 393.8h.7v.7h-.7zM93.8 393.0h.7v.7h-.7zM100.7 403.1h.7v.7h-.7zM107.8 394.6h.7v.7h-.7zM103.8 388.8h.7v.7h-.7zM96.6 391.8h.7v.7h-.7zM101.4 387.0h.7v.7h-.7zM99.4 402.1h.7v.7h-.7zM109.2 395.1h.7v.7h-.7zM108.0 393.4h.7v.7h-.7zM90.3 401.3h.7v.7h-.7zM129.9 398.7h.7v.7h-.7zM111.9 412.3h.7v.7h-.7zM90.0 398.8h.7v.7h-.7zM100.1 393.2h.7v.7h-.7zM84.9 394.5h.7v.7h-.7zM108.6 383.9h.7v.7h-.7zM101.5 391.7h.7v.7h-.7zM92.5 399.5h.7v.7h-.7zM124.8 410.4h.7v.7h-.7zM117.4 413.2h.7v.7h-.7zM104.2 411.7h.7v.7h-.7zM121.0 403.7h.7v.7h-.7zM103.2 396.1h.7v.7h-.7zM82.6 400.6h.7v.7h-.7zM115.8 410.0h.7v.7h-.7zM108.1 417.6h.7v.7h-.7zM83.7 418.1h.7v.7h-.7zM106.0 413.3h.7v.7h-.7zM121.6 400.7h.7v.7h-.7zM94.5 410.3h.7v.7h-.7zM104.3 402.5h.7v.7h-.7zM103.5 401.4h.7v.7h-.7zM106.6 404.1h.7v.7h-.7zM125.5 398.8h.7v.7h-.7zM112.0 407.7h.7v.7h-.7zM124.1 399.4h.7v.7h-.7zM99.4 420.9h.7v.7h-.7zM97.1 404.1h.7v.7h-.7zM100.3 399.3h.7v.7h-.7zM119.7 419.2h.7v.7h-.7zM103.2 401.1h.7v.7h-.7zM88.7 412.4h.7v.7h-.7zM98.6 411.5h.7v.7h-.7zM76.0 403.8h.7v.7h-.7zM112.6 410.4h.7v.7h-.7zM70.5 409.5h.7v.7h-.7zM106.6 407.0h.7v.7h-.7zM100.9 403.6h.7v.7h-.7zM106.7 411.2h.7v.7h-.7zM66.9 407.0h.7v.7h-.7zM116.2 405.4h.7v.7h-.7zM119.7 399.7h.7v.7h-.7zM128.0 414.7h.7v.7h-.7zM100.1 428.9h.7v.7h-.7zM122.4 419.7h.7v.7h-.7zM90.6 406.2h.7v.7h-.7zM110.7 415.4h.7v.7h-.7zM105.9 396.8h.7v.7h-.7zM119.7 405.8h.7v.7h-.7zM110.3 404.6h.7v.7h-.7zM103.6 396.2h.7v.7h-.7zM113.0 402.1h.7v.7h-.7zM83.6 410.4h.7v.7h-.7zM104.6 414.7h.7v.7h-.7zM114.9 397.5h.7v.7h-.7zM102.9 407.1h.7v.7h-.7zM106.1 398.7h.7v.7h-.7zM105.9 414.9h.7v.7h-.7zM120.0 418.7h.7v.7h-.7zM114.1 387.1h.7v.7h-.7zM101.7 402.8h.7v.7h-.7zM70.1 419.3h.7v.7h-.7zM116.0 407.0h.7v.7h-.7zM109.3 410.9h.7v.7h-.7zM102.4 418.0h.7v.7h-.7zM127.0 413.6h.7v.7h-.7zM98.3 409.1h.7v.7h-.7zM116.8 412.8h.7v.7h-.7zM96.7 414.7h.7v.7h-.7zM113.8 411.7h.7v.7h-.7zM100.0 406.9h.7v.7h-.7zM82.0 406.9h.7v.7h-.7zM99.7 404.7h.7v.7h-.7zM101.6 404.6h.7v.7h-.7zM106.0 407.9h.7v.7h-.7zM97.6 406.0h.7v.7h-.7zM103.9 411.0h.7v.7h-.7zM110.3 404.3h.7v.7h-.7zM95.1 394.1h.7v.7h-.7zM89.9 410.3h.7v.7h-.7zM93.9 419.8h.7v.7h-.7zM103.1 404.0h.7v.7h-.7zM103.1 402.8h.7v.7h-.7zM97.4 407.6h.7v.7h-.7zM87.6 408.1h.7v.7h-.7zM103.9 399.9h.7v.7h-.7zM117.4 409.9h.7v.7h-.7zM118.1 401.8h.7v.7h-.7zM90.0 397.7h.7v.7h-.7zM86.1 392.1h.7v.7h-.7zM123.9 403.3h.7v.7h-.7zM107.3 402.9h.7v.7h-.7zM103.3 419.6h.7v.7h-.7zM84.1 399.3h.7v.7h-.7zM106.6 399.9h.7v.7h-.7zM113.3 417.3h.7v.7h-.7zM115.8 413.0h.7v.7h-.7zM103.0 415.0h.7v.7h-.7zM95.4 397.7h.7v.7h-.7zM101.9 405.1h.7v.7h-.7zM119.7 399.3h.7v.7h-.7zM118.8 400.9h.7v.7h-.7zM89.8 393.7h.7v.7h-.7zM104.6 395.7h.7v.7h-.7zM107.6 407.4h.7v.7h-.7zM100.2 391.8h.7v.7h-.7zM98.8 410.6h.7v.7h-.7zM83.5 412.5h.7v.7h-.7zM105.2 402.8h.7v.7h-.7zM107.5 412.2h.7v.7h-.7zM104.7 400.9h.7v.7h-.7zM114.5 401.7h.7v.7h-.7zM109.4 414.8h.7v.7h-.7zM120.7 419.7h.7v.7h-.7zM117.3 408.2h.7v.7h-.7zM102.6 408.5h.7v.7h-.7zM111.3 430.7h.7v.7h-.7zM112.9 400.5h.7v.7h-.7zM123.3 394.5h.7v.7h-.7zM117.1 397.0h.7v.7h-.7zM91.9 403.1h.7v.7h-.7zM101.6 396.4h.7v.7h-.7zM112.5 406.2h.7v.7h-.7zM121.2 399.0h.7v.7h-.7zM83.2 412.5h.7v.7h-.7zM102.3 414.8h.7v.7h-.7zM76.9 397.2h.7v.7h-.7zM106.1 422.5h.7v.7h-.7zM90.2 392.0h.7v.7h-.7zM99.5 418.2h.7v.7h-.7zM124.0 396.3h.7v.7h-.7zM97.7 392.5h.7v.7h-.7zM94.9 399.4h.7v.7h-.7zM110.1 416.0h.7v.7h-.7zM133.7 404.2h.7v.7h-.7zM114.9 408.8h.7v.7h-.7zM106.5 422.3h.7v.7h-.7zM113.5 419.4h.7v.7h-.7zM108.6 413.9h.7v.7h-.7zM111.1 406.3h.7v.7h-.7zM96.6 403.9h.7v.7h-.7zM105.2 404.0h.7v.7h-.7zM100.9 401.5h.7v.7h-.7zM115.3 405.1h.7v.7h-.7zM103.6 405.3h.7v.7h-.7zM120.8 402.8h.7v.7h-.7zM122.0 400.2h.7v.7h-.7zM123.4 411.9h.7v.7h-.7zM99.1 410.6h.7v.7h-.7zM118.7 399.5h.7v.7h-.7zM102.3 409.5h.7v.7h-.7zM102.5 404.7h.7v.7h-.7zM105.3 409.5h.7v.7h-.7zM114.4 418.7h.7v.7h-.7zM101.1 430.3h.7v.7h-.7zM101.1 421.1h.7v.7h-.7zM103.5 395.6h.7v.7h-.7zM99.8 404.3h.7v.7h-.7zM117.9 391.1h.7v.7h-.7zM97.4 406.0h.7v.7h-.7zM112.9 410.2h.7v.7h-.7zM115.3 405.8h.7v.7h-.7zM102.2 416.6h.7v.7h-.7zM125.7 410.0h.7v.7h-.7zM106.9 400.3h.7v.7h-.7zM130.3 410.2h.7v.7h-.7zM112.5 394.3h.7v.7h-.7zM112.3 426.3h.7v.7h-.7zM103.1 405.4h.7v.7h-.7zM123.5 405.6h.7v.7h-.7zM115.2 422.4h.7v.7h-.7zM91.0 400.5h.7v.7h-.7zM113.2 408.0h.7v.7h-.7zM105.5 405.7h.7v.7h-.7zM106.6 409.9h.7v.7h-.7zM99.3 404.8h.7v.7h-.7zM107.8 398.4h.7v.7h-.7zM110.3 389.7h.7v.7h-.7zM112.7 406.1h.7v.7h-.7zM91.0 417.7h.7v.7h-.7zM91.0 423.4h.7v.7h-.7zM96.3 416.6h.7v.7h-.7zM104.3 419.8h.7v.7h-.7zM102.4 415.2h.7v.7h-.7zM101.2 392.2h.7v.7h-.7zM109.7 410.8h.7v.7h-.7zM109.8 420.3h.7v.7h-.7zM96.2 395.7h.7v.7h-.7zM108.1 401.5h.7v.7h-.7zM103.8 407.0h.7v.7h-.7zM95.3 415.7h.7v.7h-.7zM103.6 421.2h.7v.7h-.7zM108.0 415.4h.7v.7h-.7zM101.6 401.8h.7v.7h-.7zM98.7 400.1h.7v.7h-.7zM110.4 408.1h.7v.7h-.7zM92.1 394.8h.7v.7h-.7zM94.8 392.6h.7v.7h-.7zM94.5 395.0h.7v.7h-.7zM113.5 397.8h.7v.7h-.7zM98.0 406.1h.7v.7h-.7zM105.4 410.4h.7v.7h-.7zM114.2 412.1h.7v.7h-.7zM100.9 416.9h.7v.7h-.7zM109.5 401.4h.7v.7h-.7zM122.9 397.7h.7v.7h-.7zM110.7 417.0h.7v.7h-.7zM106.4 409.8h.7v.7h-.7zM106.5 412.3h.7v.7h-.7zM107.7 407.1h.7v.7h-.7zM113.5 392.0h.7v.7h-.7zM108.1 404.6h.7v.7h-.7zM128.4 409.3h.7v.7h-.7zM97.2 412.2h.7v.7h-.7zM100.5 397.6h.7v.7h-.7zM101.7 411.0h.7v.7h-.7zM119.2 415.3h.7v.7h-.7zM107.8 405.7h.7v.7h-.7zM107.4 416.6h.7v.7h-.7zM103.6 416.2h.7v.7h-.7zM95.6 406.9h.7v.7h-.7zM114.3 412.6h.7v.7h-.7zM107.5 403.0h.7v.7h-.7zM83.7 403.6h.7v.7h-.7zM95.0 403.8h.7v.7h-.7zM123.8 400.9h.7v.7h-.7zM115.1 406.9h.7v.7h-.7zM91.9 407.9h.7v.7h-.7zM114.0 397.6h.7v.7h-.7zM91.3 404.0h.7v.7h-.7zM113.7 402.3h.7v.7h-.7zM110.1 410.7h.7v.7h-.7zM105.2 410.6h.7v.7h-.7zM120.1 405.5h.7v.7h-.7zM108.9 398.6h.7v.7h-.7zM96.5 406.2h.7v.7h-.7zM114.7 401.7h.7v.7h-.7zM88.6 414.3h.7v.7h-.7zM133.2 386.6h.7v.7h-.7zM92.5 408.0h.7v.7h-.7zM110.8 399.5h.7v.7h-.7zM109.0 415.7h.7v.7h-.7zM101.8 412.8h.7v.7h-.7zM106.6 399.7h.7v.7h-.7zM97.8 402.2h.7v.7h-.7zM120.8 416.2h.7v.7h-.7zM107.9 394.7h.7v.7h-.7zM99.3 403.8h.7v.7h-.7zM82.3 406.9h.7v.7h-.7zM108.4 396.6h.7v.7h-.7zM100.0 403.4h.7v.7h-.7zM126.8 412.3h.7v.7h-.7zM114.1 407.7h.7v.7h-.7zM89.9 414.3h.7v.7h-.7zM97.1 391.8h.7v.7h-.7zM113.6 404.3h.7v.7h-.7zM105.0 411.1h.7v.7h-.7zM102.3 410.3h.7v.7h-.7zM120.2 404.5h.7v.7h-.7zM100.9 407.2h.7v.7h-.7zM112.7 403.9h.7v.7h-.7zM106.0 401.6h.7v.7h-.7zM104.2 411.3h.7v.7h-.7zM95.4 405.6h.7v.7h-.7zM87.9 401.5h.7v.7h-.7zM106.0 411.2h.7v.7h-.7zM92.9 406.2h.7v.7h-.7zM94.1 409.5h.7v.7h-.7zM108.1 410.5h.7v.7h-.7zM102.6 395.8h.7v.7h-.7zM98.5 396.4h.7v.7h-.7zM97.1 406.6h.7v.7h-.7zM117.7 401.9h.7v.7h-.7zM96.0 408.6h.7v.7h-.7zM80.8 422.7h.7v.7h-.7zM87.0 415.0h.7v.7h-.7zM116.5 414.6h.7v.7h-.7zM103.8 412.8h.7v.7h-.7zM101.0 414.6h.7v.7h-.7zM97.4 400.6h.7v.7h-.7zM109.5 403.4h.7v.7h-.7zM112.9 400.2h.7v.7h-.7zM108.2 399.3h.7v.7h-.7zM103.8 423.9h.7v.7h-.7zM92.4 397.3h.7v.7h-.7zM86.3 405.2h.7v.7h-.7zM124.0 403.5h.7v.7h-.7zM115.9 405.6h.7v.7h-.7zM97.6 422.8h.7v.7h-.7zM117.6 392.5h.7v.7h-.7zM93.6 410.3h.7v.7h-.7zM112.6 405.3h.7v.7h-.7zM108.7 411.3h.7v.7h-.7zM100.9 414.9h.7v.7h-.7zM95.1 413.0h.7v.7h-.7zM115.7 408.6h.7v.7h-.7zM101.0 406.9h.7v.7h-.7zM79.1 409.0h.7v.7h-.7zM88.4 391.1h.7v.7h-.7zM113.9 399.8h.7v.7h-.7zM109.2 407.4h.7v.7h-.7zM84.5 399.9h.7v.7h-.7zM101.9 410.7h.7v.7h-.7zM105.8 397.1h.7v.7h-.7zM98.9 407.8h.7v.7h-.7zM90.2 403.5h.7v.7h-.7zM98.7 390.3h.7v.7h-.7zM125.1 413.9h.7v.7h-.7zM99.6 414.5h.7v.7h-.7zM92.9 419.1h.7v.7h-.7zM100.7 408.1h.7v.7h-.7zM98.3 407.7h.7v.7h-.7zM108.9 407.3h.7v.7h-.7zM95.4 413.0h.7v.7h-.7zM111.5 407.0h.7v.7h-.7zM117.3 401.2h.7v.7h-.7zM119.9 405.8h.7v.7h-.7zM122.6 403.5h.7v.7h-.7zM102.1 408.7h.7v.7h-.7zM117.8 418.4h.7v.7h-.7zM99.7 401.3h.7v.7h-.7zM113.9 416.8h.7v.7h-.7zM113.2 404.4h.7v.7h-.7zM119.8 406.8h.7v.7h-.7zM107.0 411.9h.7v.7h-.7zM98.4 389.2h.7v.7h-.7zM107.6 412.6h.7v.7h-.7zM110.1 411.3h.7v.7h-.7zM106.9 415.2h.7v.7h-.7zM106.4 418.8h.7v.7h-.7zM105.6 413.3h.7v.7h-.7zM98.6 409.4h.7v.7h-.7zM110.0 408.1h.7v.7h-.7zM123.0 407.4h.7v.7h-.7zM118.1 409.8h.7v.7h-.7zM117.7 399.9h.7v.7h-.7zM100.8 414.6h.7v.7h-.7zM95.5 410.1h.7v.7h-.7zM111.6 408.5h.7v.7h-.7zM110.1 411.3h.7v.7h-.7zM102.3 410.3h.7v.7h-.7zM99.0 403.5h.7v.7h-.7zM86.6 406.2h.7v.7h-.7zM85.3 407.2h.7v.7h-.7zM107.5 398.4h.7v.7h-.7zM105.8 409.3h.7v.7h-.7zM101.0 399.8h.7v.7h-.7zM103.7 410.2h.7v.7h-.7zM115.8 422.3h.7v.7h-.7zM82.1 409.7h.7v.7h-.7zM110.1 402.0h.7v.7h-.7zM108.8 423.5h.7v.7h-.7zM106.3 417.8h.7v.7h-.7zM117.4 403.5h.7v.7h-.7zM78.2 416.2h.7v.7h-.7zM122.9 393.1h.7v.7h-.7zM102.7 401.5h.7v.7h-.7zM107.4 407.5h.7v.7h-.7zM78.0 431.2h.7v.7h-.7zM81.4 420.2h.7v.7h-.7zM74.0 463.4h.7v.7h-.7zM72.6 443.2h.7v.7h-.7zM71.0 469.6h.7v.7h-.7zM76.9 433.6h.7v.7h-.7zM64.7 439.1h.7v.7h-.7zM76.2 416.9h.7v.7h-.7zM70.9 442.5h.7v.7h-.7zM62.5 435.1h.7v.7h-.7zM66.1 423.8h.7v.7h-.7zM74.8 448.2h.7v.7h-.7zM78.1 430.5h.7v.7h-.7zM75.2 419.5h.7v.7h-.7zM66.6 442.4h.7v.7h-.7zM71.3 426.9h.7v.7h-.7zM64.9 434.7h.7v.7h-.7zM82.7 417.1h.7v.7h-.7zM68.5 448.1h.7v.7h-.7zM64.7 430.9h.7v.7h-.7zM73.3 448.2h.7v.7h-.7zM72.7 455.0h.7v.7h-.7zM72.9 435.9h.7v.7h-.7zM74.9 440.5h.7v.7h-.7zM66.5 427.6h.7v.7h-.7zM72.0 440.4h.7v.7h-.7zM67.7 429.9h.7v.7h-.7zM69.8 440.4h.7v.7h-.7zM71.1 443.0h.7v.7h-.7zM74.7 427.9h.7v.7h-.7zM71.7 424.7h.7v.7h-.7zM73.5 445.0h.7v.7h-.7zM68.7 419.5h.7v.7h-.7zM75.3 434.1h.7v.7h-.7zM72.9 441.6h.7v.7h-.7zM74.7 446.2h.7v.7h-.7zM71.0 415.2h.7v.7h-.7zM70.9 434.0h.7v.7h-.7zM71.2 440.9h.7v.7h-.7zM71.9 449.8h.7v.7h-.7zM97.0 436.9h.7v.7h-.7zM100.5 455.9h.7v.7h-.7zM93.0 428.1h.7v.7h-.7zM100.2 443.8h.7v.7h-.7zM105.2 435.4h.7v.7h-.7zM86.5 418.5h.7v.7h-.7zM102.3 434.9h.7v.7h-.7zM127.3 440.3h.7v.7h-.7zM110.4 445.7h.7v.7h-.7zM93.7 426.0h.7v.7h-.7zM100.4 450.2h.7v.7h-.7zM117.5 431.8h.7v.7h-.7zM89.3 445.3h.7v.7h-.7zM118.9 427.2h.7v.7h-.7zM125.4 430.1h.7v.7h-.7zM114.5 435.2h.7v.7h-.7zM100.9 431.5h.7v.7h-.7zM113.8 442.5h.7v.7h-.7zM115.2 434.5h.7v.7h-.7zM94.3 456.2h.7v.7h-.7zM126.7 435.3h.7v.7h-.7zM90.5 450.4h.7v.7h-.7zM106.7 437.5h.7v.7h-.7zM115.8 440.1h.7v.7h-.7zM106.4 454.8h.7v.7h-.7zM81.0 442.8h.7v.7h-.7zM92.5 437.7h.7v.7h-.7zM102.8 439.4h.7v.7h-.7zM74.3 443.2h.7v.7h-.7zM134.6 433.3h.7v.7h-.7zM116.5 442.6h.7v.7h-.7zM108.8 432.5h.7v.7h-.7zM113.1 439.4h.7v.7h-.7zM123.4 444.5h.7v.7h-.7zM96.0 410.9h.7v.7h-.7zM124.2 441.4h.7v.7h-.7zM107.2 431.6h.7v.7h-.7zM136.9 449.0h.7v.7h-.7zM106.2 433.7h.7v.7h-.7zM112.3 449.2h.7v.7h-.7zM111.6 445.5h.7v.7h-.7zM108.4 440.2h.7v.7h-.7zM88.8 438.1h.7v.7h-.7zM105.7 436.3h.7v.7h-.7zM101.9 439.8h.7v.7h-.7zM97.6 435.2h.7v.7h-.7zM88.3 457.7h.7v.7h-.7zM93.6 426.2h.7v.7h-.7zM98.1 433.3h.7v.7h-.7zM91.3 415.1h.7v.7h-.7zM126.0 446.2h.7v.7h-.7zM100.1 442.0h.7v.7h-.7zM90.8 422.5h.7v.7h-.7zM109.3 442.2h.7v.7h-.7zM96.2 437.0h.7v.7h-.7zM65.6 435.8h.7v.7h-.7zM118.6 438.5h.7v.7h-.7zM107.3 442.2h.7v.7h-.7zM78.2 425.4h.7v.7h-.7zM88.7 439.2h.7v.7h-.7zM96.9 420.1h.7v.7h-.7zM116.4 435.3h.7v.7h-.7zM117.8 455.0h.7v.7h-.7zM83.7 425.6h.7v.7h-.7zM118.9 449.7h.7v.7h-.7zM110.1 440.2h.7v.7h-.7zM113.9 442.9h.7v.7h-.7zM88.6 443.7h.7v.7h-.7zM117.7 433.4h.7v.7h-.7zM93.2 432.6h.7v.7h-.7zM101.5 403.3h.7v.7h-.7zM125.8 397.3h.7v.7h-.7zM106.5 375.8h.7v.7h-.7zM104.4 385.1h.7v.7h-.7zM102.1 401.1h.7v.7h-.7zM114.9 438.9h.7v.7h-.7zM96.4 390.6h.7v.7h-.7zM91.5 393.9h.7v.7h-.7zM106.9 409.0h.7v.7h-.7zM77.1 407.9h.7v.7h-.7zM123.5 390.7h.7v.7h-.7zM99.7 399.3h.7v.7h-.7zM121.3 395.1h.7v.7h-.7zM109.2 397.2h.7v.7h-.7zM92.6 400.2h.7v.7h-.7zM122.3 397.6h.7v.7h-.7zM91.6 397.0h.7v.7h-.7zM110.0 400.8h.7v.7h-.7zM104.5 406.9h.7v.7h-.7zM131.4 406.8h.7v.7h-.7z" fill="#111"/>
<path d="M208.7 400.4h.7v.7h-.7zM207.3 391.4h.7v.7h-.7zM200.4 392.6h.7v.7h-.7zM213.5 386.4h.7v.7h-.7zM211.4 384.3h.7v.7h-.7zM209.0 404.3h.7v.7h-.7zM207.7 385.0h.7v.7h-.7zM208.9 391.6h.7v.7h-.7zM211.4 389.2h.7v.7h-.7zM198.9 389.4h.7v.7h-.7zM210.4 399.1h.7v.7h-.7zM208.9 392.7h.7v.7h-.7zM210.9 391.3h.7v.7h-.7zM205.2 394.0h.7v.7h-.7zM212.9 389.3h.7v.7h-.7zM209.9 388.4h.7v.7h-.7zM203.8 393.6h.7v.7h-.7zM200.9 387.1h.7v.7h-.7zM201.6 388.7h.7v.7h-.7zM203.0 407.4h.7v.7h-.7zM210.5 393.0h.7v.7h-.7zM200.8 377.3h.7v.7h-.7zM209.7 388.5h.7v.7h-.7zM212.7 390.0h.7v.7h-.7zM201.0 388.4h.7v.7h-.7zM199.9 383.5h.7v.7h-.7zM211.0 389.1h.7v.7h-.7zM210.9 388.9h.7v.7h-.7zM206.3 389.0h.7v.7h-.7zM204.8 388.3h.7v.7h-.7zM214.9 392.2h.7v.7h-.7zM197.8 403.3h.7v.7h-.7zM213.7 399.7h.7v.7h-.7zM206.9 391.5h.7v.7h-.7zM205.1 393.3h.7v.7h-.7zM209.8 392.5h.7v.7h-.7zM203.4 386.4h.7v.7h-.7zM215.7 403.2h.7v.7h-.7zM201.3 388.5h.7v.7h-.7zM207.3 396.2h.7v.7h-.7zM206.9 394.0h.7v.7h-.7zM209.3 399.8h.7v.7h-.7zM201.0 399.5h.7v.7h-.7zM209.6 395.9h.7v.7h-.7zM200.0 391.1h.7v.7h-.7zM206.2 396.6h.7v.7h-.7zM210.9 396.9h.7v.7h-.7zM201.0 400.5h.7v.7h-.7zM207.8 398.4h.7v.7h-.7zM207.4 388.1h.7v.7h-.7zM220.5 396.7h.7v.7h-.7zM211.2 389.6h.7v.7h-.7zM206.3 399.6h.7v.7h-.7zM209.7 403.6h.7v.7h-.7zM213.4 385.7h.7v.7h-.7zM199.8 399.9h.7v.7h-.7zM210.4 390.9h.7v.7h-.7zM206.0 389.0h.7v.7h-.7zM216.4 391.5h.7v.7h-.7zM200.6 398.2h.7v.7h-.7zM207.0 394.8h.7v.7h-.7zM205.5 392.3h.7v.7h-.7zM198.1 395.9h.7v.7h-.7zM204.0 390.1h.7v.7h-.7zM209.0 400.6h.7v.7h-.7zM196.7 391.7h.7v.7h-.7zM210.2 398.9h.7v.7h-.7zM202.9 394.5h.7v.7h-.7zM209.4 398.4h.7v.7h-.7zM204.3 391.4h.7v.7h-.7zM204.9 399.7h.7v.7h-.7zM212.8 389.8h.7v.7h-.7zM206.7 393.9h.7v.7h-.7zM202.9 391.8h.7v.7h-.7zM211.7 397.4h.7v.7h-.7zM204.0 388.5h.7v.7h-.7zM206.8 383.4h.7v.7h-.7zM209.0 393.3h.7v.7h-.7zM200.8 391.1h.7v.7h-.7zM204.1 390.9h.7v.7h-.7zM203.1 401.1h.7v.7h-.7zM202.6 397.3h.7v.7h-.7zM208.5 401.6h.7v.7h-.7zM207.1 392.6h.7v.7h-.7zM207.8 380.8h.7v.7h-.7zM219.4 391.2h.7v.7h-.7zM205.8 385.5h.7v.7h-.7zM206.7 402.6h.7v.7h-.7zM203.6 395.3h.7v.7h-.7zM212.6 398.4h.7v.7h-.7zM205.4 381.7h.7v.7h-.7zM209.4 396.1h.7v.7h-.7zM205.8 389.9h.7v.7h-.7zM216.2 382.7h.7v.7h-.7zM204.9 388.8h.7v.7h-.7zM199.6 388.3h.7v.7h-.7zM203.4 400.3h.7v.7h-.7zM198.7 384.0h.7v.7h-.7zM208.7 383.0h.7v.7h-.7zM197.4 388.7h.7v.7h-.7zM201.4 386.5h.7v.7h-.7zM206.6 395.4h.7v.7h-.7zM204.2 390.9h.7v.7h-.7zM211.0 391.6h.7v.7h-.7zM211.1 388.9h.7v.7h-.7zM209.8 400.5h.7v.7h-.7zM200.5 411.1h.7v.7h-.7zM205.8 390.5h.7v.7h-.7zM206.6 395.4h.7v.7h-.7zM201.4 392.8h.7v.7h-.7zM204.5 401.4h.7v.7h-.7zM198.8 396.6h.7v.7h-.7zM205.8 388.0h.7v.7h-.7zM208.1 391.1h.7v.7h-.7zM207.6 394.1h.7v.7h-.7zM213.4 390.1h.7v.7h-.7zM215.7 375.9h.7v.7h-.7zM216.5 400.1h.7v.7h-.7zM215.2 393.8h.7v.7h-.7zM208.8 386.3h.7v.7h-.7zM214.1 385.4h.7v.7h-.7zM203.4 392.6h.7v.7h-.7zM208.6 394.7h.7v.7h-.7zM201.6 390.5h.7v.7h-.7zM209.8 399.9h.7v.7h-.7zM211.2 395.1h.7v.7h-.7zM206.1 389.2h.7v.7h-.7zM204.8 392.0h.7v.7h-.7zM210.0 389.5h.7v.7h-.7zM217.7 386.4h.7v.7h-.7zM211.5 391.3h.7v.7h-.7zM206.7 390.2h.7v.7h-.7zM215.1 390.8h.7v.7h-.7zM210.2 393.3h.7v.7h-.7zM211.1 396.2h.7v.7h-.7zM215.6 388.1h.7v.7h-.7zM203.3 403.0h.7v.7h-.7zM213.8 393.0h.7v.7h-.7zM206.0 394.2h.7v.7h-.7zM213.9 387.9h.7v.7h-.7zM214.6 392.2h.7v.7h-.7zM205.6 390.2h.7v.7h-.7zM197.0 394.6h.7v.7h-.7zM200.8 389.2h.7v.7h-.7zM202.9 394.0h.7v.7h-.7zM211.0 392.8h.7v.7h-.7zM208.4 395.1h.7v.7h-.7zM215.4 396.1h.7v.7h-.7zM215.2 392.2h.7v.7h-.7zM209.2 388.6h.7v.7h-.7zM210.4 387.3h.7v.7h-.7zM209.8 388.7h.7v.7h-.7zM205.6 400.1h.7v.7h-.7zM208.1 397.5h.7v.7h-.7zM206.2 381.2h.7v.7h-.7zM214.7 391.5h.7v.7h-.7zM204.2 398.4h.7v.7h-.7zM201.8 388.0h.7v.7h-.7zM213.1 388.3h.7v.7h-.7zM213.0 390.7h.7v.7h-.7zM206.4 393.0h.7v.7h-.7zM204.9 399.2h.7v.7h-.7zM212.9 393.0h.7v.7h-.7zM210.4 395.9h.7v.7h-.7zM215.8 382.9h.7v.7h-.7zM212.5 398.2h.7v.7h-.7zM205.8 392.7h.7v.7h-.7zM205.7 400.2h.7v.7h-.7zM201.7 396.3h.7v.7h-.7zM213.8 396.1h.7v.7h-.7zM205.0 389.8h.7v.7h-.7zM196.9 386.3h.7v.7h-.7zM212.9 386.8h.7v.7h-.7zM199.2 391.1h.7v.7h-.7zM200.0 395.4h.7v.7h-.7zM203.1 398.4h.7v.7h-.7zM206.8 383.9h.7v.7h-.7zM203.6 388.6h.7v.7h-.7zM203.2 400.2h.7v.7h-.7zM202.4 394.8h.7v.7h-.7zM204.5 396.2h.7v.7h-.7zM200.3 383.0h.7v.7h-.7zM210.0 401.4h.7v.7h-.7zM200.5 390.7h.7v.7h-.7zM204.9 386.9h.7v.7h-.7zM212.2 392.9h.7v.7h-.7zM200.5 391.3h.7v.7h-.7zM214.1 388.3h.7v.7h-.7zM204.8 387.5h.7v.7h-.7zM208.2 389.2h.7v.7h-.7zM211.9 387.5h.7v.7h-.7zM200.2 395.4h.7v.7h-.7zM191.6 386.8h.7v.7h-.7zM208.8 394.1h.7v.7h-.7zM204.5 389.9h.7v.7h-.7zM210.0 415.4h.7v.7h-.7zM203.4 391.5h.7v.7h-.7zM205.1 396.0h.7v.7h-.7zM207.5 396.0h.7v.7h-.7zM215.6 390.9h.7v.7h-.7zM206.0 394.9h.7v.7h-.7zM217.9 390.4h.7v.7h-.7zM215.8 399.9h.7v.7h-.7zM193.8 386.5h.7v.7h-.7zM202.5 395.0h.7v.7h-.7zM214.0 392.9h.7v.7h-.7zM208.2 405.9h.7v.7h-.7zM209.2 405.8h.7v.7h-.7zM203.0 402.7h.7v.7h-.7zM204.9 377.8h.7v.7h-.7zM203.3 389.7h.7v.7h-.7zM207.2 397.2h.7v.7h-.7zM210.9 395.8h.7v.7h-.7zM203.7 403.5h.7v.7h-.7zM213.4 392.8h.7v.7h-.7zM204.6 392.3h.7v.7h-.7zM206.3 388.3h.7v.7h-.7zM207.4 388.5h.7v.7h-.7zM210.6 388.6h.7v.7h-.7zM209.9 394.6h.7v.7h-.7zM208.3 395.8h.7v.7h-.7zM202.3 408.4h.7v.7h-.7zM204.0 397.1h.7v.7h-.7zM207.5 390.0h.7v.7h-.7zM216.1 399.4h.7v.7h-.7zM206.1 396.1h.7v.7h-.7zM210.8 402.3h.7v.7h-.7zM212.5 391.6h.7v.7h-.7zM206.2 385.5h.7v.7h-.7zM208.7 397.9h.7v.7h-.7zM205.5 396.7h.7v.7h-.7zM208.1 389.8h.7v.7h-.7zM201.3 399.4h.7v.7h-.7zM220.1 396.0h.7v.7h-.7zM202.0 386.3h.7v.7h-.7zM208.7 396.6h.7v.7h-.7zM215.0 377.8h.7v.7h-.7zM216.7 393.6h.7v.7h-.7zM208.1 395.0h.7v.7h-.7zM205.7 390.8h.7v.7h-.7zM212.7 382.0h.7v.7h-.7zM206.9 396.0h.7v.7h-.7zM199.2 391.6h.7v.7h-.7zM215.1 394.9h.7v.7h-.7zM211.0 396.9h.7v.7h-.7zM208.5 394.8h.7v.7h-.7zM203.4 391.3h.7v.7h-.7zM216.7 385.0h.7v.7h-.7zM206.6 384.8h.7v.7h-.7zM204.8 387.8h.7v.7h-.7zM201.3 394.1h.7v.7h-.7zM202.7 395.9h.7v.7h-.7zM216.5 376.8h.7v.7h-.7zM206.6 379.7h.7v.7h-.7zM206.8 394.9h.7v.7h-.7zM208.5 400.0h.7v.7h-.7zM208.2 382.0h.7v.7h-.7zM215.0 386.8h.7v.7h-.7zM207.0 394.6h.7v.7h-.7zM203.1 393.1h.7v.7h-.7zM214.9 382.2h.7v.7h-.7zM199.1 389.8h.7v.7h-.7zM206.6 384.7h.7v.7h-.7zM195.9 398.2h.7v.7h-.7zM209.4 384.4h.7v.7h-.7zM210.3 392.2h.7v.7h-.7zM208.3 384.3h.7v.7h-.7zM206.4 395.6h.7v.7h-.7zM198.7 386.1h.7v.7h-.7zM212.3 404.9h.7v.7h-.7zM210.8 392.1h.7v.7h-.7zM202.0 390.1h.7v.7h-.7zM206.2 395.3h.7v.7h-.7zM206.2 407.9h.7v.7h-.7zM214.1 379.0h.7v.7h-.7zM201.6 392.6h.7v.7h-.7zM212.4 395.1h.7v.7h-.7zM193.7 382.4h.7v.7h-.7zM214.2 396.2h.7v.7h-.7zM220.3 397.5h.7v.7h-.7zM209.8 402.0h.7v.7h-.7zM205.2 389.2h.7v.7h-.7zM202.4 394.1h.7v.7h-.7zM209.7 398.4h.7v.7h-.7zM214.7 396.5h.7v.7h-.7zM213.6 391.0h.7v.7h-.7zM202.7 397.1h.7v.7h-.7zM212.6 400.9h.7v.7h-.7zM206.7 389.7h.7v.7h-.7zM205.7 394.8h.7v.7h-.7zM207.2 391.4h.7v.7h-.7zM208.8 390.8h.7v.7h-.7zM209.2 388.9h.7v.7h-.7zM199.7 390.6h.7v.7h-.7zM217.0 387.5h.7v.7h-.7zM212.1 400.9h.7v.7h-.7zM204.8 394.2h.7v.7h-.7zM196.0 396.1h.7v.7h-.7zM215.2 393.7h.7v.7h-.7zM197.5 389.0h.7v.7h-.7zM203.8 393.3h.7v.7h-.7zM208.9 390.0h.7v.7h-.7zM205.9 387.5h.7v.7h-.7zM210.4 393.8h.7v.7h-.7zM209.2 389.4h.7v.7h-.7zM210.0 390.7h.7v.7h-.7zM209.0 391.6h.7v.7h-.7zM204.2 385.7h.7v.7h-.7zM198.1 384.1h.7v.7h-.7zM209.8 412.9h.7v.7h-.7zM199.3 387.5h.7v.7h-.7zM207.4 414.8h.7v.7h-.7zM206.5 385.3h.7v.7h-.7zM209.6 405.6h.7v.7h-.7zM193.5 385.3h.7v.7h-.7zM213.7 385.3h.7v.7h-.7zM207.0 388.6h.7v.7h-.7zM211.3 383.5h.7v.7h-.7zM209.0 393.9h.7v.7h-.7zM210.3 395.2h.7v.7h-.7zM208.3 381.4h.7v.7h-.7zM205.9 386.6h.7v.7h-.7zM210.2 391.1h.7v.7h-.7zM208.3 399.4h.7v.7h-.7zM207.0 403.1h.7v.7h-.7zM211.7 383.3h.7v.7h-.7zM204.6 400.2h.7v.7h-.7zM205.0 400.0h.7v.7h-.7zM204.7 391.8h.7v.7h-.7zM212.6 382.7h.7v.7h-.7zM207.9 389.7h.7v.7h-.7zM208.3 403.3h.7v.7h-.7zM210.0 384.1h.7v.7h-.7zM212.3 389.7h.7v.7h-.7zM208.3 399.8h.7v.7h-.7zM205.9 398.5h.7v.7h-.7zM208.4 386.9h.7v.7h-.7zM205.9 384.0h.7v.7h-.7zM213.4 393.6h.7v.7h-.7zM212.3 385.5h.7v.7h-.7zM211.7 385.0h.7v.7h-.7zM208.9 392.4h.7v.7h-.7zM204.5 394.5h.7v.7h-.7zM207.7 387.1h.7v.7h-.7zM203.8 384.3h.7v.7h-.7zM214.4 393.5h.7v.7h-.7zM205.7 396.9h.7v.7h-.7zM203.2 385.2h.7v.7h-.7zM209.3 402.5h.7v.7h-.7zM209.0 393.5h.7v.7h-.7zM216.2 382.8h.7v.7h-.7zM222.8 385.6h.7v.7h-.7zM207.1 384.1h.7v.7h-.7zM201.4 391.0h.7v.7h-.7zM219.7 386.6h.7v.7h-.7zM204.4 394.2h.7v.7h-.7zM202.4 390.9h.7v.7h-.7zM211.6 378.8h.7v.7h-.7zM206.0 390.7h.7v.7h-.7zM204.9 391.8h.7v.7h-.7zM198.5 389.7h.7v.7h-.7zM204.9 386.0h.7v.7h-.7zM213.8 405.1h.7v.7h-.7zM211.5 387.1h.7v.7h-.7zM214.6 395.6h.7v.7h-.7zM203.4 396.3h.7v.7h-.7zM204.6 396.1h.7v.7h-.7zM212.1 399.8h.7v.7h-.7zM202.2 391.7h.7v.7h-.7zM207.5 384.8h.7v.7h-.7zM209.6 396.9h.7v.7h-.7zM200.6 389.0h.7v.7h-.7zM202.0 384.5h.7v.7h-.7zM202.2 401.2h.7v.7h-.7zM204.2 390.0h.7v.7h-.7zM212.4 399.0h.7v.7h-.7zM214.5 379.4h.7v.7h-.7zM211.3 381.4h.7v.7h-.7zM204.3 389.9h.7v.7h-.7zM204.6 404.9h.7v.7h-.7zM206.7 399.9h.7v.7h-.7zM206.6 392.1h.7v.7h-.7zM210.1 395.3h.7v.7h-.7zM210.0 381.6h.7v.7h-.7zM210.0 394.5h.7v.7h-.7zM210.5 392.2h.7v.7h-.7zM209.5 384.3h.7v.7h-.7zM213.2 384.8h.7v.7h-.7zM214.5 398.9h.7v.7h-.7zM207.2 390.6h.7v.7h-.7zM211.4 390.6h.7v.7h-.7zM201.6 394.3h.7v.7h-.7zM201.4 389.6h.7v.7h-.7zM216.5 397.6h.7v.7h-.7zM205.2 392.1h.7v.7h-.7zM204.3 392.4h.7v.7h-.7zM200.3 396.8h.7v.7h-.7zM207.6 388.6h.7v.7h-.7zM204.4 409.1h.7v.7h-.7zM205.3 389.5h.7v.7h-.7zM204.6 389.4h.7v.7h-.7zM214.0 396.8h.7v.7h-.7zM209.6 394.8h.7v.7h-.7zM201.8 377.3h.7v.7h-.7zM215.1 397.0h.7v.7h-.7zM208.6 394.3h.7v.7h-.7zM208.5 392.6h.7v.7h-.7zM206.2 378.4h.7v.7h-.7zM210.3 392.8h.7v.7h-.7zM212.4 394.4h.7v.7h-.7zM206.1 396.3h.7v.7h-.7zM208.4 389.7h.7v.7h-.7zM205.6 389.8h.7v.7h-.7zM206.0 389.7h.7v.7h-.7zM212.4 411.0h.7v.7h-.7zM206.9 399.6h.7v.7h-.7zM197.6 372.1h.7v.7h-.7zM205.1 391.5h.7v.7h-.7zM203.8 383.9h.7v.7h-.7zM203.2 389.3h.7v.7h-.7zM208.3 390.4h.7v.7h-.7zM201.5 390.2h.7v.7h-.7zM215.1 386.9h.7v.7h-.7zM207.8 398.9h.7v.7h-.7zM203.5 388.9h.7v.7h-.7zM222.0 400.3h.7v.7h-.7zM204.9 393.5h.7v.7h-.7zM208.0 393.4h.7v.7h-.7zM209.8 390.6h.7v.7h-.7zM196.4 386.4h.7v.7h-.7zM208.3 383.9h.7v.7h-.7zM205.9 402.0h.7v.7h-.7zM208.7 388.4h.7v.7h-.7zM208.2 399.1h.7v.7h-.7zM198.9 384.6h.7v.7h-.7zM204.2 389.7h.7v.7h-.7zM207.1 388.8h.7v.7h-.7zM208.0 393.1h.7v.7h-.7zM201.7 388.6h.7v.7h-.7zM201.3 394.3h.7v.7h-.7zM208.8 396.6h.7v.7h-.7zM203.1 389.1h.7v.7h-.7zM196.4 392.6h.7v.7h-.7zM199.4 394.7h.7v.7h-.7zM212.9 395.3h.7v.7h-.7zM210.6 393.9h.7v.7h-.7zM209.4 398.4h.7v.7h-.7zM213.8 405.3h.7v.7h-.7zM206.2 397.8h.7v.7h-.7zM211.8 395.2h.7v.7h-.7zM208.8 384.5h.7v.7h-.7zM212.9 386.9h.7v.7h-.7zM204.2 387.1h.7v.7h-.7zM210.3 386.4h.7v.7h-.7zM209.8 396.1h.7v.7h-.7zM208.0 390.4h.7v.7h-.7zM210.5 400.8h.7v.7h-.7zM205.2 385.9h.7v.7h-.7zM204.5 387.0h.7v.7h-.7zM206.3 391.5h.7v.7h-.7zM196.0 401.7h.7v.7h-.7zM203.4 389.8h.7v.7h-.7zM197.7 380.1h.7v.7h-.7zM202.4 393.9h.7v.7h-.7zM211.7 381.1h.7v.7h-.7zM208.6 402.0h.7v.7h-.7zM206.1 398.3h.7v.7h-.7zM209.1 386.7h.7v.7h-.7zM212.5 388.7h.7v.7h-.7zM209.3 390.0h.7v.7h-.7zM206.4 393.5h.7v.7h-.7zM214.1 381.9h.7v.7h-.7zM201.9 393.1h.7v.7h-.7zM212.4 391.3h.7v.7h-.7zM206.6 395.8h.7v.7h-.7zM215.4 386.8h.7v.7h-.7zM199.5 390.7h.7v.7h-.7zM211.3 384.2h.7v.7h-.7zM213.1 398.4h.7v.7h-.7zM211.4 387.2h.7v.7h-.7zM201.0 396.6h.7v.7h-.7zM208.8 396.8h.7v.7h-.7zM200.8 373.9h.7v.7h-.7zM213.1 398.8h.7v.7h-.7zM206.1 392.5h.7v.7h-.7zM209.8 397.2h.7v.7h-.7zM206.6 389.3h.7v.7h-.7zM202.6 399.0h.7v.7h-.7zM208.0 371.0h.7v.7h-.7zM209.2 388.9h.7v.7h-.7zM201.1 389.3h.7v.7h-.7zM201.1 389.7h.7v.7h-.7zM204.8 395.7h.7v.7h-.7zM202.4 381.0h.7v.7h-.7zM204.5 383.8h.7v.7h-.7zM211.2 391.2h.7v.7h-.7zM199.2 387.0h.7v.7h-.7zM207.4 392.2h.7v.7h-.7zM198.3 391.7h.7v.7h-.7zM209.0 398.7h.7v.7h-.7zM213.0 391.7h.7v.7h-.7zM201.0 390.1h.7v.7h-.7zM210.7 386.7h.7v.7h-.7zM213.8 386.5h.7v.7h-.7zM201.9 397.7h.7v.7h-.7zM207.0 394.5h.7v.7h-.7zM206.0 392.7h.7v.7h-.7zM204.6 404.4h.7v.7h-.7zM210.8 391.7h.7v.7h-.7zM209.9 397.7h.7v.7h-.7zM204.9 393.6h.7v.7h-.7zM208.5 388.9h.7v.7h-.7zM203.6 391.2h.7v.7h-.7zM206.0 389.9h.7v.7h-.7zM197.8 393.0h.7v.7h-.7zM210.8 392.9h.7v.7h-.7zM216.0 397.9h.7v.7h-.7zM205.7 388.2h.7v.7h-.7zM210.0 390.1h.7v.7h-.7zM199.4 393.3h.7v.7h-.7zM206.0 391.1h.7v.7h-.7zM210.6 393.7h.7v.7h-.7zM217.6 387.8h.7v.7h-.7zM207.0 394.4h.7v.7h-.7zM205.3 389.3h.7v.7h-.7zM216.2 383.4h.7v.7h-.7zM209.2 381.5h.7v.7h-.7zM209.2 380.4h.7v.7h-.7zM201.7 399.6h.7v.7h-.7zM215.2 393.3h.7v.7h-.7zM193.9 398.9h.7v.7h-.7zM208.7 385.5h.7v.7h-.7zM205.7 384.2h.7v.7h-.7zM207.0 391.9h.7v.7h-.7zM208.1 397.5h.7v.7h-.7zM204.3 378.6h.7v.7h-.7zM201.7 384.6h.7v.7h-.7zM205.7 389.7h.7v.7h-.7zM207.3 401.1h.7v.7h-.7zM207.6 385.7h.7v.7h-.7zM206.0 387.0h.7v.7h-.7zM206.3 396.1h.7v.7h-.7zM201.9 396.9h.7v.7h-.7zM216.4 402.0h.7v.7h-.7zM215.6 393.1h.7v.7h-.7zM200.8 405.1h.7v.7h-.7zM207.2 393.9h.7v.7h-.7zM205.7 386.6h.7v.7h-.7zM210.6 383.7h.7v.7h-.7zM200.6 396.0h.7v.7h-.7zM205.6 387.2h.7v.7h-.7zM210.0 401.4h.7v.7h-.7zM206.1 391.6h.7v.7h-.7zM210.3 398.4h.7v.7h-.7zM212.6 396.7h.7v.7h-.7zM204.2 395.8h.7v.7h-.7zM207.5 381.9h.7v.7h-.7zM213.7 396.1h.7v.7h-.7zM214.3 392.1h.7v.7h-.7zM211.1 392.1h.7v.7h-.7zM208.3 398.2h.7v.7h-.7zM207.8 396.3h.7v.7h-.7zM207.3 400.2h.7v.7h-.7zM210.7 382.1h.7v.7h-.7zM215.8 395.2h.7v.7h-.7zM205.0 388.6h.7v.7h-.7zM217.4 393.1h.7v.7h-.7zM210.0 396.2h.7v.7h-.7zM204.5 403.4h.7v.7h-.7zM218.0 387.6h.7v.7h-.7zM213.2 382.3h.7v.7h-.7zM205.8 392.9h.7v.7h-.7zM207.8 396.1h.7v.7h-.7zM209.5 394.8h.7v.7h-.7zM206.8 394.4h.7v.7h-.7zM204.7 404.8h.7v.7h-.7zM207.8 400.2h.7v.7h-.7zM208.0 391.6h.7v.7h-.7zM206.6 384.4h.7v.7h-.7zM217.8 395.1h.7v.7h-.7zM208.2 389.6h.7v.7h-.7zM213.9 390.4h.7v.7h-.7zM205.2 389.1h.7v.7h-.7zM215.2 394.4h.7v.7h-.7zM206.8 388.5h.7v.7h-.7zM213.9 394.3h.7v.7h-.7zM205.9 398.1h.7v.7h-.7zM211.9 386.3h.7v.7h-.7zM213.2 399.3h.7v.7h-.7zM206.3 384.2h.7v.7h-.7zM212.9 390.4h.7v.7h-.7zM206.5 390.7h.7v.7h-.7zM206.2 397.7h.7v.7h-.7zM202.1 395.8h.7v.7h-.7zM213.3 399.1h.7v.7h-.7zM211.1 394.2h.7v.7h-.7zM206.5 391.8h.7v.7h-.7zM203.2 402.9h.7v.7h-.7zM206.9 386.2h.7v.7h-.7zM211.6 401.9h.7v.7h-.7zM208.9 390.5h.7v.7h-.7zM202.0 396.5h.7v.7h-.7zM206.3 388.4h.7v.7h-.7zM210.5 384.5h.7v.7h-.7zM211.2 377.4h.7v.7h-.7zM204.5 383.6h.7v.7h-.7zM206.3 397.5h.7v.7h-.7zM201.1 401.0h.7v.7h-.7zM204.2 389.5h.7v.7h-.7zM212.4 388.0h.7v.7h-.7zM214.7 391.2h.7v.7h-.7zM207.1 386.5h.7v.7h-.7zM213.2 392.1h.7v.7h-.7zM205.2 386.6h.7v.7h-.7zM204.4 391.9h.7v.7h-.7zM204.0 397.4h.7v.7h-.7zM207.4 388.7h.7v.7h-.7zM209.8 401.3h.7v.7h-.7zM197.3 394.7h.7v.7h-.7zM212.9 393.4h.7v.7h-.7zM211.6 383.0h.7v.7h-.7zM203.9 398.8h.7v.7h-.7zM207.1 392.9h.7v.7h-.7zM210.6 394.8h.7v.7h-.7zM209.8 389.4h.7v.7h-.7zM206.1 400.6h.7v.7h-.7zM205.1 383.6h.7v.7h-.7zM205.8 398.0h.7v.7h-.7zM216.4 393.4h.7v.7h-.7zM204.5 396.3h.7v.7h-.7zM209.0 399.8h.7v.7h-.7zM210.1 397.2h.7v.7h-.7zM210.1 395.1h.7v.7h-.7zM203.1 391.5h.7v.7h-.7zM215.4 400.7h.7v.7h-.7zM212.3 394.9h.7v.7h-.7zM207.0 394.7h.7v.7h-.7zM206.0 399.2h.7v.7h-.7zM206.1 387.8h.7v.7h-.7zM199.7 402.1h.7v.7h-.7zM203.9 387.2h.7v.7h-.7zM209.6 403.6h.7v.7h-.7zM210.9 390.5h.7v.7h-.7zM210.4 387.4h.7v.7h-.7zM206.4 392.7h.7v.7h-.7zM207.7 397.3h.7v.7h-.7zM210.2 404.1h.7v.7h-.7zM211.7 390.8h.7v.7h-.7zM208.9 387.3h.7v.7h-.7zM204.6 390.4h.7v.7h-.7zM212.6 388.3h.7v.7h-.7zM200.0 386.3h.7v.7h-.7zM201.8 391.4h.7v.7h-.7zM206.1 385.3h.7v.7h-.7zM203.8 390.0h.7v.7h-.7zM209.5 396.3h.7v.7h-.7zM214.1 390.9h.7v.7h-.7zM210.7 393.0h.7v.7h-.7zM202.3 388.6h.7v.7h-.7zM218.3 391.5h.7v.7h-.7zM215.7 397.6h.7v.7h-.7zM215.7 391.4h.7v.7h-.7zM212.2 390.7h.7v.7h-.7zM202.3 385.3h.7v.7h-.7zM209.8 382.6h.7v.7h-.7zM209.4 387.2h.7v.7h-.7zM209.4 384.1h.7v.7h-.7zM211.8 391.1h.7v.7h-.7zM200.2 383.7h.7v.7h-.7zM208.0 382.5h.7v.7h-.7zM209.3 395.5h.7v.7h-.7zM204.5 401.1h.7v.7h-.7zM214.7 394.4h.7v.7h-.7zM209.9 395.4h.7v.7h-.7zM206.4 400.6h.7v.7h-.7zM205.1 377.1h.7v.7h-.7zM207.8 395.2h.7v.7h-.7zM211.7 385.7h.7v.7h-.7zM214.4 387.5h.7v.7h-.7zM210.7 397.0h.7v.7h-.7zM208.6 399.5h.7v.7h-.7zM205.3 405.1h.7v.7h-.7zM210.1 389.9h.7v.7h-.7zM220.3 392.5h.7v.7h-.7zM199.8 401.2h.7v.7h-.7zM215.2 389.0h.7v.7h-.7zM202.9 399.4h.7v.7h-.7zM208.0 386.6h.7v.7h-.7zM205.4 392.9h.7v.7h-.7zM212.5 402.1h.7v.7h-.7zM204.7 401.9h.7v.7h-.7zM200.4 396.9h.7v.7h-.7zM207.0 395.2h.7v.7h-.7zM205.6 388.1h.7v.7h-.7zM209.1 399.5h.7v.7h-.7zM197.0 392.8h.7v.7h-.7zM205.8 385.9h.7v.7h-.7zM201.2 395.7h.7v.7h-.7zM210.4 396.5h.7v.7h-.7zM198.1 383.2h.7v.7h-.7zM204.7 389.9h.7v.7h-.7zM216.2 390.1h.7v.7h-.7zM208.3 398.6h.7v.7h-.7zM215.8 394.8h.7v.7h-.7zM209.4 404.4h.7v.7h-.7zM205.8 381.5h.7v.7h-.7zM204.1 390.6h.7v.7h-.7zM214.0 394.5h.7v.7h-.7zM213.5 393.1h.7v.7h-.7zM207.9 389.0h.7v.7h-.7zM201.7 395.6h.7v.7h-.7zM209.5 396.0h.7v.7h-.7zM205.1 389.9h.7v.7h-.7zM209.5 396.3h.7v.7h-.7zM217.3 387.1h.7v.7h-.7zM212.5 398.0h.7v.7h-.7zM206.4 393.4h.7v.7h-.7zM207.4 401.9h.7v.7h-.7zM220.0 394.5h.7v.7h-.7zM206.5 398.4h.7v.7h-.7zM210.1 391.4h.7v.7h-.7zM211.4 397.9h.7v.7h-.7zM205.8 397.8h.7v.7h-.7zM196.9 384.6h.7v.7h-.7zM206.2 393.5h.7v.7h-.7zM200.7 401.6h.7v.7h-.7zM205.9 393.4h.7v.7h-.7zM207.5 397.2h.7v.7h-.7zM204.9 397.1h.7v.7h-.7zM203.7 383.4h.7v.7h-.7zM210.2 393.5h.7v.7h-.7zM212.0 380.6h.7v.7h-.7zM208.2 388.6h.7v.7h-.7zM206.8 390.1h.7v.7h-.7zM205.9 388.4h.7v.7h-.7zM212.6 381.9h.7v.7h-.7zM199.6 394.6h.7v.7h-.7zM217.4 387.8h.7v.7h-.7zM203.3 385.3h.7v.7h-.7zM202.8 400.2h.7v.7h-.7zM211.0 398.1h.7v.7h-.7zM209.4 394.0h.7v.7h-.7zM204.9 386.5h.7v.7h-.7zM210.7 407.8h.7v.7h-.7zM205.9 400.3h.7v.7h-.7zM204.3 392.8h.7v.7h-.7zM215.9 392.1h.7v.7h-.7zM210.8 389.1h.7v.7h-.7zM216.8 384.9h.7v.7h-.7zM210.4 391.0h.7v.7h-.7zM208.7 394.7h.7v.7h-.7zM214.1 397.9h.7v.7h-.7zM212.8 394.8h.7v.7h-.7zM202.5 400.8h.7v.7h-.7zM215.1 395.5h.7v.7h-.7zM211.6 391.1h.7v.7h-.7zM200.7 398.6h.7v.7h-.7zM204.2 404.3h.7v.7h-.7zM211.0 392.4h.7v.7h-.7zM204.7 393.2h.7v.7h-.7zM202.8 390.2h.7v.7h-.7zM215.4 390.7h.7v.7h-.7zM216.6 391.9h.7v.7h-.7zM209.7 386.8h.7v.7h-.7zM206.3 389.8h.7v.7h-.7zM201.0 404.5h.7v.7h-.7zM210.6 392.0h.7v.7h-.7zM202.4 392.7h.7v.7h-.7zM202.6 386.5h.7v.7h-.7zM206.8 405.9h.7v.7h-.7zM199.3 396.0h.7v.7h-.7zM205.1 374.6h.7v.7h-.7zM200.9 391.7h.7v.7h-.7zM208.0 387.9h.7v.7h-.7zM216.3 395.8h.7v.7h-.7zM204.6 382.3h.7v.7h-.7zM208.5 388.4h.7v.7h-.7zM212.6 386.1h.7v.7h-.7zM213.5 389.7h.7v.7h-.7zM208.6 390.8h.7v.7h-.7zM210.7 399.6h.7v.7h-.7zM205.1 386.9h.7v.7h-.7zM216.9 398.4h.7v.7h-.7zM216.9 398.4h.7v.7h-.7zM208.3 402.6h.7v.7h-.7zM204.4 389.9h.7v.7h-.7zM205.7 396.8h.7v.7h-.7zM203.6 391.4h.7v.7h-.7zM203.6 391.1h.7v.7h-.7zM213.1 399.4h.7v.7h-.7zM206.6 408.3h.7v.7h-.7zM204.3 395.3h.7v.7h-.7zM205.4 378.8h.7v.7h-.7zM201.9 400.2h.7v.7h-.7zM199.6 410.6h.7v.7h-.7zM207.1 394.2h.7v.7h-.7zM213.8 392.7h.7v.7h-.7zM204.6 388.7h.7v.7h-.7zM203.1 395.9h.7v.7h-.7zM205.4 395.7h.7v.7h-.7zM198.2 391.9h.7v.7h-.7zM220.7 399.5h.7v.7h-.7zM207.1 407.3h.7v.7h-.7zM209.5 410.7h.7v.7h-.7zM200.4 403.3h.7v.7h-.7zM201.0 402.5h.7v.7h-.7zM223.2 410.6h.7v.7h-.7zM202.3 400.0h.7v.7h-.7zM210.6 389.1h.7v.7h-.7zM209.2 385.8h.7v.7h-.7zM213.8 404.7h.7v.7h-.7zM206.7 402.6h.7v.7h-.7zM222.8 394.5h.7v.7h-.7zM195.9 399.2h.7v.7h-.7zM204.8 388.6h.7v.7h-.7zM213.4 405.6h.7v.7h-.7zM211.5 411.6h.7v.7h-.7zM203.7 392.0h.7v.7h-.7zM210.3 370.2h.7v.7h-.7zM190.4 399.3h.7v.7h-.7zM206.3 396.6h.7v.7h-.7zM201.6 398.2h.7v.7h-.7zM214.4 390.0h.7v.7h-.7zM211.3 394.5h.7v.7h-.7zM206.7 397.1h.7v.7h-.7zM217.2 401.0h.7v.7h-.7zM212.0 397.5h.7v.7h-.7zM194.1 405.0h.7v.7h-.7zM207.6 396.9h.7v.7h-.7zM204.5 381.3h.7v.7h-.7zM217.1 413.6h.7v.7h-.7zM217.6 378.4h.7v.7h-.7zM211.2 384.7h.7v.7h-.7zM206.5 391.1h.7v.7h-.7zM203.7 388.7h.7v.7h-.7zM204.6 403.4h.7v.7h-.7zM217.9 404.9h.7v.7h-.7zM207.6 394.6h.7v.7h-.7zM206.1 395.8h.7v.7h-.7zM203.7 394.3h.7v.7h-.7zM213.0 393.9h.7v.7h-.7zM202.5 394.9h.7v.7h-.7zM208.2 395.3h.7v.7h-.7zM206.0 402.8h.7v.7h-.7zM207.4 386.4h.7v.7h-.7zM211.2 389.2h.7v.7h-.7zM212.5 403.8h.7v.7h-.7zM210.7 399.0h.7v.7h-.7zM199.1 394.1h.7v.7h-.7zM208.4 402.1h.7v.7h-.7zM200.5 394.5h.7v.7h-.7zM197.9 397.7h.7v.7h-.7zM208.1 397.2h.7v.7h-.7zM218.1 403.0h.7v.7h-.7zM206.4 390.5h.7v.7h-.7zM204.8 403.5h.7v.7h-.7zM213.4 391.2h.7v.7h-.7zM206.9 391.9h.7v.7h-.7zM212.0 397.8h.7v.7h-.7zM203.0 387.5h.7v.7h-.7zM215.9 382.6h.7v.7h-.7zM196.1 366.6h.7v.7h-.7zM220.5 390.9h.7v.7h-.7zM213.1 401.4h.7v.7h-.7zM213.0 406.9h.7v.7h-.7zM204.6 395.9h.7v.7h-.7zM213.9 401.4h.7v.7h-.7zM202.8 388.8h.7v.7h-.7zM198.4 398.5h.7v.7h-.7zM204.2 381.1h.7v.7h-.7zM204.1 399.1h.7v.7h-.7zM208.8 393.9h.7v.7h-.7zM208.7 402.3h.7v.7h-.7zM200.0 388.2h.7v.7h-.7zM213.8 403.1h.7v.7h-.7zM198.7 389.1h.7v.7h-.7zM216.9 403.2h.7v.7h-.7zM206.7 405.8h.7v.7h-.7zM216.4 409.5h.7v.7h-.7zM198.7 383.6h.7v.7h-.7zM204.4 395.6h.7v.7h-.7zM205.4 398.4h.7v.7h-.7zM217.1 406.5h.7v.7h-.7zM214.0 396.0h.7v.7h-.7zM218.2 400.4h.7v.7h-.7zM209.2 395.8h.7v.7h-.7zM195.9 416.6h.7v.7h-.7zM207.5 404.6h.7v.7h-.7zM222.1 394.2h.7v.7h-.7zM200.2 405.8h.7v.7h-.7zM209.2 387.0h.7v.7h-.7zM213.8 396.1h.7v.7h-.7zM201.6 371.8h.7v.7h-.7zM201.3 399.7h.7v.7h-.7zM201.0 405.3h.7v.7h-.7zM221.7 399.1h.7v.7h-.7zM209.1 395.3h.7v.7h-.7zM213.1 396.3h.7v.7h-.7zM214.3 409.6h.7v.7h-.7zM213.1 386.8h.7v.7h-.7zM211.9 393.5h.7v.7h-.7zM209.6 405.3h.7v.7h-.7zM203.4 398.0h.7v.7h-.7zM217.0 388.1h.7v.7h-.7zM206.4 403.0h.7v.7h-.7zM206.1 405.8h.7v.7h-.7zM201.1 381.7h.7v.7h-.7zM210.0 394.7h.7v.7h-.7zM209.6 405.2h.7v.7h-.7zM214.4 392.7h.7v.7h-.7zM205.1 377.6h.7v.7h-.7zM201.4 398.4h.7v.7h-.7zM209.0 381.9h.7v.7h-.7zM212.7 395.6h.7v.7h-.7zM214.7 392.7h.7v.7h-.7zM213.8 385.5h.7v.7h-.7zM195.7 388.3h.7v.7h-.7zM212.1 399.9h.7v.7h-.7zM195.5 397.4h.7v.7h-.7zM211.9 412.0h.7v.7h-.7zM212.6 400.9h.7v.7h-.7zM197.5 399.6h.7v.7h-.7zM195.0 393.2h.7v.7h-.7zM205.2 386.8h.7v.7h-.7zM201.1 394.7h.7v.7h-.7zM211.4 389.9h.7v.7h-.7zM209.6 402.8h.7v.7h-.7zM207.5 414.2h.7v.7h-.7zM205.6 389.1h.7v.7h-.7zM195.4 406.2h.7v.7h-.7zM212.0 394.3h.7v.7h-.7zM209.6 394.8h.7v.7h-.7zM213.2 395.9h.7v.7h-.7zM209.1 395.3h.7v.7h-.7zM201.9 375.0h.7v.7h-.7zM211.1 384.2h.7v.7h-.7zM210.2 402.1h.7v.7h-.7zM219.7 389.0h.7v.7h-.7zM208.6 405.0h.7v.7h-.7zM203.3 390.5h.7v.7h-.7zM210.5 415.6h.7v.7h-.7zM214.5 405.1h.7v.7h-.7zM201.4 402.3h.7v.7h-.7zM214.9 384.0h.7v.7h-.7zM207.7 394.2h.7v.7h-.7zM211.8 379.5h.7v.7h-.7zM212.1 396.0h.7v.7h-.7zM205.9 376.0h.7v.7h-.7zM194.3 390.9h.7v.7h-.7zM211.8 400.1h.7v.7h-.7zM212.4 379.9h.7v.7h-.7zM208.9 408.8h.7v.7h-.7zM197.6 402.2h.7v.7h-.7zM202.9 401.2h.7v.7h-.7zM208.2 380.6h.7v.7h-.7zM200.9 408.1h.7v.7h-.7zM206.9 407.8h.7v.7h-.7zM209.8 404.5h.7v.7h-.7zM205.1 398.1h.7v.7h-.7zM205.2 404.6h.7v.7h-.7zM203.9 406.5h.7v.7h-.7zM217.7 384.5h.7v.7h-.7zM206.5 401.2h.7v.7h-.7zM219.0 406.9h.7v.7h-.7zM208.2 379.6h.7v.7h-.7zM213.0 390.5h.7v.7h-.7zM208.8 399.8h.7v.7h-.7zM198.5 406.1h.7v.7h-.7zM213.5 401.5h.7v.7h-.7zM211.4 399.4h.7v.7h-.7zM198.6 391.2h.7v.7h-.7zM212.8 392.9h.7v.7h-.7zM207.8 399.5h.7v.7h-.7zM208.2 398.5h.7v.7h-.7zM210.7 396.0h.7v.7h-.7zM200.5 393.5h.7v.7h-.7zM213.7 389.6h.7v.7h-.7zM210.6 398.9h.7v.7h-.7zM201.9 369.4h.7v.7h-.7zM207.5 388.7h.7v.7h-.7zM203.6 404.9h.7v.7h-.7zM202.7 399.3h.7v.7h-.7zM208.3 397.9h.7v.7h-.7zM220.4 377.4h.7v.7h-.7zM213.8 394.7h.7v.7h-.7zM205.8 389.7h.7v.7h-.7zM207.9 396.5h.7v.7h-.7zM201.7 411.5h.7v.7h-.7zM202.8 394.7h.7v.7h-.7zM199.4 397.4h.7v.7h-.7zM209.9 406.3h.7v.7h-.7zM213.9 391.3h.7v.7h-.7zM217.9 395.0h.7v.7h-.7zM217.6 412.2h.7v.7h-.7zM205.0 385.9h.7v.7h-.7zM211.1 409.6h.7v.7h-.7zM210.1 406.4h.7v.7h-.7zM211.4 404.4h.7v.7h-.7zM216.1 393.2h.7v.7h-.7zM198.5 394.9h.7v.7h-.7zM202.5 384.8h.7v.7h-.7zM206.5 402.7h.7v.7h-.7zM195.8 381.7h.7v.7h-.7zM212.7 387.7h.7v.7h-.7zM205.1 408.8h.7v.7h-.7zM214.8 399.4h.7v.7h-.7zM211.0 370.4h.7v.7h-.7zM211.2 399.6h.7v.7h-.7zM198.7 397.7h.7v.7h-.7zM210.5 394.9h.7v.7h-.7zM212.7 404.3h.7v.7h-.7zM207.9 393.7h.7v.7h-.7zM200.0 406.8h.7v.7h-.7zM203.9 399.0h.7v.7h-.7zM217.4 403.3h.7v.7h-.7zM199.4 395.2h.7v.7h-.7zM203.0 380.5h.7v.7h-.7zM202.4 401.5h.7v.7h-.7zM209.8 394.1h.7v.7h-.7zM208.7 385.0h.7v.7h-.7zM202.7 394.4h.7v.7h-.7zM212.7 393.0h.7v.7h-.7zM206.5 399.2h.7v.7h-.7zM217.0 384.1h.7v.7h-.7zM211.0 397.8h.7v.7h-.7zM207.1 398.3h.7v.7h-.7zM194.9 396.3h.7v.7h-.7zM206.1 384.4h.7v.7h-.7zM213.0 394.9h.7v.7h-.7zM205.4 403.2h.7v.7h-.7zM201.7 389.3h.7v.7h-.7zM212.9 404.2h.7v.7h-.7zM220.5 391.7h.7v.7h-.7zM198.3 382.0h.7v.7h-.7zM199.9 397.0h.7v.7h-.7zM206.0 389.7h.7v.7h-.7zM201.1 389.5h.7v.7h-.7zM205.2 407.2h.7v.7h-.7zM211.6 408.9h.7v.7h-.7zM212.8 403.2h.7v.7h-.7zM215.1 400.3h.7v.7h-.7zM217.4 406.7h.7v.7h-.7zM219.2 398.1h.7v.7h-.7zM202.6 419.7h.7v.7h-.7zM205.8 400.9h.7v.7h-.7zM205.1 389.5h.7v.7h-.7zM210.4 385.5h.7v.7h-.7zM206.6 409.3h.7v.7h-.7zM208.4 403.7h.7v.7h-.7zM211.7 399.6h.7v.7h-.7zM208.2 401.8h.7v.7h-.7zM201.4 401.5h.7v.7h-.7zM200.7 388.9h.7v.7h-.7zM203.8 383.4h.7v.7h-.7zM195.0 399.6h.7v.7h-.7zM210.8 402.2h.7v.7h-.7zM221.7 397.7h.7v.7h-.7zM212.4 389.0h.7v.7h-.7zM212.1 385.3h.7v.7h-.7zM220.2 386.9h.7v.7h-.7zM204.9 403.1h.7v.7h-.7zM193.5 408.6h.7v.7h-.7zM201.5 397.9h.7v.7h-.7zM213.8 397.5h.7v.7h-.7zM213.5 391.3h.7v.7h-.7zM211.4 375.5h.7v.7h-.7zM217.2 389.8h.7v.7h-.7zM202.0 396.2h.7v.7h-.7zM218.4 389.4h.7v.7h-.7zM207.4 392.6h.7v.7h-.7zM201.6 383.7h.7v.7h-.7zM211.3 402.7h.7v.7h-.7zM202.7 398.2h.7v.7h-.7zM210.4 399.6h.7v.7h-.7zM206.5 396.4h.7v.7h-.7zM209.3 386.0h.7v.7h-.7zM206.6 403.5h.7v.7h-.7zM203.9 408.4h.7v.7h-.7zM206.0 385.6h.7v.7h-.7zM205.6 383.3h.7v.7h-.7zM211.4 381.0h.7v.7h-.7zM207.6 393.8h.7v.7h-.7zM205.6 400.0h.7v.7h-.7zM209.4 390.8h.7v.7h-.7zM212.8 391.8h.7v.7h-.7zM213.3 408.6h.7v.7h-.7zM209.9 404.7h.7v.7h-.7zM199.0 401.3h.7v.7h-.7zM198.0 394.4h.7v.7h-.7zM212.0 370.8h.7v.7h-.7zM202.5 388.7h.7v.7h-.7zM201.5 396.2h.7v.7h-.7zM211.6 385.1h.7v.7h-.7zM203.5 378.5h.7v.7h-.7zM203.0 376.3h.7v.7h-.7zM197.9 400.4h.7v.7h-.7zM213.1 388.4h.7v.7h-.7zM209.8 388.7h.7v.7h-.7zM214.4 412.5h.7v.7h-.7zM191.7 387.9h.7v.7h-.7zM238.5 390.7h.7v.7h-.7zM264.5 409.1h.7v.7h-.7zM245.9 400.7h.7v.7h-.7zM227.2 392.3h.7v.7h-.7zM242.6 393.7h.7v.7h-.7zM249.5 381.0h.7v.7h-.7zM233.7 414.1h.7v.7h-.7zM225.5 395.5h.7v.7h-.7zM254.6 399.4h.7v.7h-.7zM246.7 380.6h.7v.7h-.7zM240.5 381.1h.7v.7h-.7zM269.3 398.2h.7v.7h-.7zM254.6 396.8h.7v.7h-.7zM241.4 405.6h.7v.7h-.7zM256.5 400.7h.7v.7h-.7zM252.9 401.6h.7v.7h-.7zM242.7 398.9h.7v.7h-.7zM247.0 392.8h.7v.7h-.7zM253.7 414.1h.7v.7h-.7zM222.0 407.9h.7v.7h-.7zM240.9 405.7h.7v.7h-.7zM234.0 393.4h.7v.7h-.7zM258.1 394.4h.7v.7h-.7zM250.2 384.2h.7v.7h-.7zM232.5 409.9h.7v.7h-.7zM247.9 394.2h.7v.7h-.7zM229.7 385.7h.7v.7h-.7zM233.8 394.6h.7v.7h-.7zM244.7 389.6h.7v.7h-.7zM238.1 396.0h.7v.7h-.7zM259.9 382.4h.7v.7h-.7zM229.2 405.1h.7v.7h-.7zM229.1 391.3h.7v.7h-.7zM247.4 411.3h.7v.7h-.7zM221.9 369.0h.7v.7h-.7zM245.1 404.6h.7v.7h-.7zM247.7 387.8h.7v.7h-.7zM248.3 376.6h.7v.7h-.7zM255.7 408.2h.7v.7h-.7zM243.6 402.3h.7v.7h-.7zM233.5 408.2h.7v.7h-.7zM238.4 387.9h.7v.7h-.7zM237.0 379.2h.7v.7h-.7zM254.0 412.9h.7v.7h-.7zM229.1 393.2h.7v.7h-.7zM251.3 389.9h.7v.7h-.7zM227.5 398.0h.7v.7h-.7zM257.9 395.9h.7v.7h-.7zM233.3 392.3h.7v.7h-.7zM223.2 394.5h.7v.7h-.7zM260.4 405.0h.7v.7h-.7zM245.0 398.9h.7v.7h-.7zM239.9 396.2h.7v.7h-.7zM239.0 396.5h.7v.7h-.7zM239.9 396.8h.7v.7h-.7zM254.2 394.8h.7v.7h-.7zM230.7 399.5h.7v.7h-.7zM243.1 390.6h.7v.7h-.7zM252.7 387.5h.7v.7h-.7zM257.0 400.0h.7v.7h-.7zM237.8 388.8h.7v.7h-.7zM244.6 386.9h.7v.7h-.7zM257.2 374.8h.7v.7h-.7zM247.8 391.9h.7v.7h-.7zM233.0 400.7h.7v.7h-.7zM240.3 399.1h.7v.7h-.7zM240.9 392.5h.7v.7h-.7zM252.2 403.6h.7v.7h-.7zM257.8 394.8h.7v.7h-.7zM263.5 392.0h.7v.7h-.7zM229.9 378.3h.7v.7h-.7zM228.9 387.3h.7v.7h-.7zM224.9 397.9h.7v.7h-.7zM246.4 394.7h.7v.7h-.7zM248.8 394.0h.7v.7h-.7zM243.0 392.2h.7v.7h-.7zM246.5 384.9h.7v.7h-.7zM261.1 408.8h.7v.7h-.7zM246.4 415.4h.7v.7h-.7zM234.6 403.1h.7v.7h-.7zM226.9 400.4h.7v.7h-.7zM237.2 404.0h.7v.7h-.7zM247.4 403.5h.7v.7h-.7zM253.2 399.7h.7v.7h-.7zM242.8 409.3h.7v.7h-.7zM250.2 399.3h.7v.7h-.7zM262.9 392.7h.7v.7h-.7zM266.6 404.8h.7v.7h-.7zM246.9 382.0h.7v.7h-.7zM260.4 392.2h.7v.7h-.7zM247.2 396.1h.7v.7h-.7zM257.3 400.7h.7v.7h-.7zM224.5 389.1h.7v.7h-.7zM250.2 396.6h.7v.7h-.7zM255.4 400.1h.7v.7h-.7zM265.2 388.5h.7v.7h-.7zM261.4 398.4h.7v.7h-.7zM249.6 401.2h.7v.7h-.7zM242.1 401.4h.7v.7h-.7zM243.6 401.5h.7v.7h-.7zM237.1 405.6h.7v.7h-.7zM228.1 389.1h.7v.7h-.7zM245.5 397.2h.7v.7h-.7zM236.6 391.4h.7v.7h-.7zM249.1 404.4h.7v.7h-.7zM261.3 390.7h.7v.7h-.7zM245.3 392.2h.7v.7h-.7zM228.1 391.0h.7v.7h-.7zM259.4 382.9h.7v.7h-.7zM279.8 403.8h.7v.7h-.7zM266.5 396.7h.7v.7h-.7zM218.9 399.0h.7v.7h-.7zM264.8 389.9h.7v.7h-.7zM261.0 401.8h.7v.7h-.7zM255.3 401.7h.7v.7h-.7zM253.0 400.9h.7v.7h-.7zM260.1 398.8h.7v.7h-.7zM253.5 398.9h.7v.7h-.7zM247.7 387.2h.7v.7h-.7zM224.9 385.9h.7v.7h-.7zM231.5 381.7h.7v.7h-.7zM254.2 392.1h.7v.7h-.7zM261.1 423.1h.7v.7h-.7zM255.2 390.9h.7v.7h-.7zM250.6 393.2h.7v.7h-.7zM249.4 413.8h.7v.7h-.7zM264.9 406.5h.7v.7h-.7zM249.5 411.1h.7v.7h-.7zM255.9 403.0h.7v.7h-.7zM232.3 389.5h.7v.7h-.7zM248.1 393.1h.7v.7h-.7zM239.9 377.0h.7v.7h-.7zM237.3 394.1h.7v.7h-.7zM249.7 385.4h.7v.7h-.7zM244.5 411.3h.7v.7h-.7zM248.0 377.4h.7v.7h-.7zM243.9 395.1h.7v.7h-.7zM261.0 396.8h.7v.7h-.7zM262.3 398.0h.7v.7h-.7zM259.9 407.2h.7v.7h-.7zM264.2 396.8h.7v.7h-.7zM253.7 430.4h.7v.7h-.7zM231.7 396.8h.7v.7h-.7zM251.7 388.7h.7v.7h-.7zM255.9 393.6h.7v.7h-.7zM255.5 396.8h.7v.7h-.7zM235.1 404.5h.7v.7h-.7zM269.8 403.4h.7v.7h-.7zM249.4 379.5h.7v.7h-.7zM249.9 394.8h.7v.7h-.7zM236.8 377.8h.7v.7h-.7zM251.4 403.8h.7v.7h-.7zM254.5 415.6h.7v.7h-.7zM223.8 398.2h.7v.7h-.7zM245.8 407.9h.7v.7h-.7zM245.7 386.3h.7v.7h-.7zM245.4 399.0h.7v.7h-.7zM237.5 388.0h.7v.7h-.7zM249.3 402.9h.7v.7h-.7zM243.4 399.5h.7v.7h-.7zM240.2 392.0h.7v.7h-.7zM248.4 403.8h.7v.7h-.7zM264.8 393.9h.7v.7h-.7zM251.4 412.8h.7v.7h-.7zM256.0 391.8h.7v.7h-.7zM251.0 382.2h.7v.7h-.7zM221.5 388.2h.7v.7h-.7zM237.7 382.9h.7v.7h-.7zM258.2 391.0h.7v.7h-.7zM247.2 395.7h.7v.7h-.7zM243.7 384.4h.7v.7h-.7zM268.9 377.1h.7v.7h-.7zM245.8 401.3h.7v.7h-.7zM243.8 394.1h.7v.7h-.7zM249.8 397.2h.7v.7h-.7zM242.2 404.8h.7v.7h-.7zM252.1 408.7h.7v.7h-.7zM247.3 377.1h.7v.7h-.7zM226.7 390.4h.7v.7h-.7zM251.5 380.3h.7v.7h-.7zM239.5 406.3h.7v.7h-.7zM250.1 388.6h.7v.7h-.7zM244.9 396.1h.7v.7h-.7zM241.2 392.2h.7v.7h-.7zM238.7 397.1h.7v.7h-.7zM264.8 408.2h.7v.7h-.7zM231.6 416.0h.7v.7h-.7zM244.8 382.4h.7v.7h-.7zM228.7 396.4h.7v.7h-.7zM248.9 389.3h.7v.7h-.7zM236.8 393.1h.7v.7h-.7zM249.2 401.2h.7v.7h-.7zM252.7 373.5h.7v.7h-.7zM239.2 397.4h.7v.7h-.7zM250.6 402.3h.7v.7h-.7zM228.8 409.2h.7v.7h-.7zM232.2 393.2h.7v.7h-.7zM240.7 390.8h.7v.7h-.7zM237.1 402.4h.7v.7h-.7zM255.4 398.2h.7v.7h-.7zM231.3 389.4h.7v.7h-.7zM245.5 398.7h.7v.7h-.7zM239.7 392.6h.7v.7h-.7zM276.9 395.6h.7v.7h-.7zM242.7 372.8h.7v.7h-.7zM237.4 409.8h.7v.7h-.7zM256.1 384.3h.7v.7h-.7zM255.4 396.6h.7v.7h-.7zM236.9 402.2h.7v.7h-.7zM239.1 392.3h.7v.7h-.7zM246.4 397.0h.7v.7h-.7zM241.1 397.7h.7v.7h-.7zM246.2 396.8h.7v.7h-.7zM250.7 389.3h.7v.7h-.7zM230.3 394.4h.7v.7h-.7zM260.6 398.1h.7v.7h-.7zM248.8 388.4h.7v.7h-.7zM232.9 383.8h.7v.7h-.7zM235.5 391.7h.7v.7h-.7zM228.2 394.0h.7v.7h-.7zM227.9 401.0h.7v.7h-.7zM245.9 379.1h.7v.7h-.7zM239.8 397.2h.7v.7h-.7zM250.6 402.1h.7v.7h-.7zM242.1 393.7h.7v.7h-.7zM243.5 400.0h.7v.7h-.7zM238.2 393.6h.7v.7h-.7zM247.9 391.9h.7v.7h-.7zM233.6 407.3h.7v.7h-.7zM252.0 386.8h.7v.7h-.7zM269.1 388.1h.7v.7h-.7zM236.1 391.7h.7v.7h-.7zM252.4 408.6h.7v.7h-.7zM262.2 400.1h.7v.7h-.7zM247.0 401.1h.7v.7h-.7zM237.1 388.7h.7v.7h-.7zM252.4 396.9h.7v.7h-.7zM248.9 385.9h.7v.7h-.7zM249.1 382.1h.7v.7h-.7zM257.0 395.2h.7v.7h-.7zM238.7 390.8h.7v.7h-.7zM278.5 423.4h.7v.7h-.7zM238.1 407.4h.7v.7h-.7zM212.5 405.3h.7v.7h-.7zM246.4 397.4h.7v.7h-.7zM235.1 383.2h.7v.7h-.7zM249.0 391.0h.7v.7h-.7zM252.1 404.6h.7v.7h-.7zM244.9 399.9h.7v.7h-.7zM248.3 397.2h.7v.7h-.7zM240.2 397.2h.7v.7h-.7zM251.3 395.8h.7v.7h-.7zM241.0 381.9h.7v.7h-.7zM233.8 409.2h.7v.7h-.7zM258.0 397.7h.7v.7h-.7zM249.6 393.7h.7v.7h-.7zM254.1 403.7h.7v.7h-.7zM243.3 397.9h.7v.7h-.7zM257.3 380.8h.7v.7h-.7zM235.3 389.9h.7v.7h-.7zM232.8 391.1h.7v.7h-.7zM236.4 391.5h.7v.7h-.7zM251.8 384.4h.7v.7h-.7zM247.4 407.6h.7v.7h-.7zM248.4 384.0h.7v.7h-.7zM239.2 405.6h.7v.7h-.7zM243.2 389.4h.7v.7h-.7zM255.3 388.6h.7v.7h-.7zM233.3 400.6h.7v.7h-.7zM246.4 389.2h.7v.7h-.7zM251.6 405.1h.7v.7h-.7zM258.8 396.0h.7v.7h-.7zM251.5 399.6h.7v.7h-.7zM229.1 410.1h.7v.7h-.7zM238.6 390.0h.7v.7h-.7zM236.7 386.4h.7v.7h-.7zM258.9 395.1h.7v.7h-.7zM239.6 378.5h.7v.7h-.7zM248.2 394.6h.7v.7h-.7zM234.3 394.2h.7v.7h-.7zM225.1 400.9h.7v.7h-.7zM232.1 399.6h.7v.7h-.7zM247.4 375.9h.7v.7h-.7zM233.3 389.2h.7v.7h-.7zM255.4 400.5h.7v.7h-.7zM253.5 410.2h.7v.7h-.7zM242.9 390.5h.7v.7h-.7zM224.5 385.8h.7v.7h-.7zM252.7 387.5h.7v.7h-.7zM236.1 403.7h.7v.7h-.7zM217.7 407.7h.7v.7h-.7zM261.2 378.9h.7v.7h-.7zM251.7 395.0h.7v.7h-.7zM256.7 392.0h.7v.7h-.7zM244.8 407.8h.7v.7h-.7zM239.4 398.9h.7v.7h-.7zM253.5 394.1h.7v.7h-.7zM256.4 399.8h.7v.7h-.7zM255.8 379.7h.7v.7h-.7zM234.3 397.7h.7v.7h-.7zM259.7 408.0h.7v.7h-.7zM246.4 388.3h.7v.7h-.7zM233.6 377.5h.7v.7h-.7zM240.5 400.3h.7v.7h-.7zM245.4 381.7h.7v.7h-.7zM245.1 395.5h.7v.7h-.7zM237.6 408.3h.7v.7h-.7zM251.3 405.0h.7v.7h-.7zM247.4 386.3h.7v.7h-.7zM258.7 405.1h.7v.7h-.7zM239.5 383.1h.7v.7h-.7zM255.7 390.0h.7v.7h-.7zM232.9 394.3h.7v.7h-.7zM252.6 388.3h.7v.7h-.7zM246.7 404.1h.7v.7h-.7zM254.9 381.0h.7v.7h-.7zM254.5 411.2h.7v.7h-.7zM256.8 394.3h.7v.7h-.7zM250.5 380.8h.7v.7h-.7zM239.5 390.4h.7v.7h-.7zM270.2 395.1h.7v.7h-.7zM235.0 410.4h.7v.7h-.7zM260.4 380.2h.7v.7h-.7zM243.9 379.8h.7v.7h-.7zM258.2 374.5h.7v.7h-.7zM267.6 385.5h.7v.7h-.7zM234.2 414.3h.7v.7h-.7zM252.4 398.3h.7v.7h-.7zM256.1 386.1h.7v.7h-.7zM256.3 392.6h.7v.7h-.7zM252.3 397.2h.7v.7h-.7zM262.2 383.4h.7v.7h-.7zM230.3 401.0h.7v.7h-.7zM273.5 400.0h.7v.7h-.7zM244.3 401.2h.7v.7h-.7zM232.4 395.9h.7v.7h-.7zM226.9 396.2h.7v.7h-.7zM254.6 410.5h.7v.7h-.7zM240.5 403.5h.7v.7h-.7zM261.7 385.6h.7v.7h-.7zM243.1 378.3h.7v.7h-.7zM236.2 399.1h.7v.7h-.7zM222.9 392.4h.7v.7h-.7zM254.6 408.1h.7v.7h-.7zM217.5 398.6h.7v.7h-.7zM239.2 374.2h.7v.7h-.7zM234.6 400.5h.7v.7h-.7zM246.0 401.5h.7v.7h-.7zM242.8 401.1h.7v.7h-.7zM235.1 386.2h.7v.7h-.7zM244.4 379.2h.7v.7h-.7zM260.4 392.8h.7v.7h-.7zM235.0 387.3h.7v.7h-.7zM235.2 396.2h.7v.7h-.7zM242.0 402.9h.7v.7h-.7zM233.0 394.4h.7v.7h-.7zM228.9 390.9h.7v.7h-.7zM261.8 394.0h.7v.7h-.7zM256.5 394.5h.7v.7h-.7zM233.7 387.1h.7v.7h-.7zM233.3 398.2h.7v.7h-.7zM248.9 421.8h.7v.7h-.7zM265.4 402.8h.7v.7h-.7zM235.0 396.1h.7v.7h-.7zM235.8 416.5h.7v.7h-.7zM237.9 405.7h.7v.7h-.7zM230.7 402.1h.7v.7h-.7zM232.2 390.9h.7v.7h-.7zM248.2 396.4h.7v.7h-.7zM245.5 394.5h.7v.7h-.7zM236.4 394.1h.7v.7h-.7zM245.4 386.6h.7v.7h-.7zM252.7 396.7h.7v.7h-.7zM237.6 406.9h.7v.7h-.7zM239.7 377.8h.7v.7h-.7zM260.7 391.7h.7v.7h-.7zM263.0 399.0h.7v.7h-.7zM236.0 405.3h.7v.7h-.7zM251.5 403.5h.7v.7h-.7zM246.7 409.3h.7v.7h-.7zM256.9 392.0h.7v.7h-.7zM228.9 394.7h.7v.7h-.7zM247.0 386.1h.7v.7h-.7zM244.0 408.8h.7v.7h-.7zM240.8 405.3h.7v.7h-.7zM235.5 386.2h.7v.7h-.7zM257.0 393.5h.7v.7h-.7zM248.7 404.5h.7v.7h-.7zM264.9 383.8h.7v.7h-.7zM252.9 397.2h.7v.7h-.7zM247.9 411.5h.7v.7h-.7zM243.4 389.7h.7v.7h-.7zM252.0 376.6h.7v.7h-.7zM250.4 386.9h.7v.7h-.7zM249.9 388.3h.7v.7h-.7zM252.0 392.8h.7v.7h-.7zM238.0 400.0h.7v.7h-.7zM254.8 380.4h.7v.7h-.7zM231.4 392.7h.7v.7h-.7zM241.8 407.2h.7v.7h-.7zM264.4 399.4h.7v.7h-.7zM258.7 392.1h.7v.7h-.7zM230.5 397.8h.7v.7h-.7zM226.0 410.0h.7v.7h-.7zM249.1 405.7h.7v.7h-.7zM238.8 380.3h.7v.7h-.7zM243.9 399.5h.7v.7h-.7zM243.7 390.4h.7v.7h-.7zM247.1 393.3h.7v.7h-.7zM262.1 383.1h.7v.7h-.7zM220.8 394.2h.7v.7h-.7zM249.3 381.0h.7v.7h-.7zM245.7 399.1h.7v.7h-.7zM250.0 397.8h.7v.7h-.7zM237.5 381.8h.7v.7h-.7zM257.1 391.9h.7v.7h-.7zM230.4 409.3h.7v.7h-.7zM254.6 369.4h.7v.7h-.7zM275.8 396.4h.7v.7h-.7zM227.7 403.8h.7v.7h-.7zM249.9 406.5h.7v.7h-.7zM246.3 379.8h.7v.7h-.7zM244.2 391.1h.7v.7h-.7zM249.5 393.4h.7v.7h-.7zM252.6 383.9h.7v.7h-.7zM239.9 390.3h.7v.7h-.7zM250.9 379.4h.7v.7h-.7zM246.1 416.9h.7v.7h-.7zM225.5 404.5h.7v.7h-.7zM247.3 404.1h.7v.7h-.7zM246.7 397.4h.7v.7h-.7zM250.3 399.3h.7v.7h-.7zM232.3 393.8h.7v.7h-.7zM267.1 408.1h.7v.7h-.7zM236.4 386.4h.7v.7h-.7zM244.1 404.8h.7v.7h-.7zM256.7 389.7h.7v.7h-.7zM218.9 394.6h.7v.7h-.7zM227.1 406.0h.7v.7h-.7zM263.1 401.2h.7v.7h-.7zM252.9 400.2h.7v.7h-.7zM267.3 405.0h.7v.7h-.7zM262.7 384.5h.7v.7h-.7zM240.2 395.0h.7v.7h-.7zM220.5 392.4h.7v.7h-.7zM245.9 394.4h.7v.7h-.7zM275.1 393.2h.7v.7h-.7zM243.8 393.9h.7v.7h-.7zM242.2 382.1h.7v.7h-.7zM259.0 395.3h.7v.7h-.7zM250.3 395.4h.7v.7h-.7zM237.2 380.4h.7v.7h-.7zM242.8 399.9h.7v.7h-.7zM244.7 401.8h.7v.7h-.7zM237.0 392.4h.7v.7h-.7zM247.8 394.1h.7v.7h-.7zM248.1 408.2h.7v.7h-.7zM241.3 396.3h.7v.7h-.7zM238.6 400.0h.7v.7h-.7zM248.7 388.3h.7v.7h-.7zM234.5 384.1h.7v.7h-.7zM242.8 396.4h.7v.7h-.7zM240.4 394.0h.7v.7h-.7zM247.6 416.6h.7v.7h-.7zM259.6 416.3h.7v.7h-.7zM247.6 397.0h.7v.7h-.7zM268.5 398.5h.7v.7h-.7zM253.6 390.4h.7v.7h-.7zM239.8 402.2h.7v.7h-.7zM239.2 389.0h.7v.7h-.7zM228.9 397.7h.7v.7h-.7zM245.0 400.0h.7v.7h-.7zM236.1 383.7h.7v.7h-.7zM258.8 395.2h.7v.7h-.7zM255.2 384.5h.7v.7h-.7zM231.1 371.8h.7v.7h-.7zM249.5 404.1h.7v.7h-.7zM261.3 411.3h.7v.7h-.7zM225.1 385.0h.7v.7h-.7zM240.0 387.8h.7v.7h-.7zM243.6 387.7h.7v.7h-.7zM229.2 394.6h.7v.7h-.7zM247.5 388.0h.7v.7h-.7zM246.4 383.1h.7v.7h-.7zM242.3 391.9h.7v.7h-.7zM240.8 394.3h.7v.7h-.7zM231.4 382.7h.7v.7h-.7zM236.5 401.8h.7v.7h-.7zM235.1 386.4h.7v.7h-.7zM268.9 392.7h.7v.7h-.7zM241.6 386.9h.7v.7h-.7zM263.0 399.8h.7v.7h-.7zM249.1 409.6h.7v.7h-.7zM232.3 379.6h.7v.7h-.7zM258.8 399.0h.7v.7h-.7zM240.1 402.3h.7v.7h-.7zM244.9 412.9h.7v.7h-.7zM231.4 398.3h.7v.7h-.7zM257.3 403.2h.7v.7h-.7zM241.9 391.4h.7v.7h-.7zM241.0 401.3h.7v.7h-.7zM241.4 393.7h.7v.7h-.7zM257.8 394.0h.7v.7h-.7zM248.8 393.9h.7v.7h-.7zM246.1 374.6h.7v.7h-.7zM235.2 398.4h.7v.7h-.7zM238.6 389.4h.7v.7h-.7zM246.6 416.0h.7v.7h-.7zM237.3 386.2h.7v.7h-.7zM225.3 399.2h.7v.7h-.7zM245.4 387.3h.7v.7h-.7zM241.3 404.0h.7v.7h-.7zM257.8 398.4h.7v.7h-.7zM259.3 404.3h.7v.7h-.7zM240.7 402.3h.7v.7h-.7zM247.8 402.1h.7v.7h-.7zM249.2 414.6h.7v.7h-.7zM231.5 398.3h.7v.7h-.7zM233.5 416.3h.7v.7h-.7zM240.0 391.6h.7v.7h-.7zM245.8 394.6h.7v.7h-.7zM265.7 394.5h.7v.7h-.7zM248.9 404.8h.7v.7h-.7zM263.4 386.2h.7v.7h-.7zM249.5 382.8h.7v.7h-.7zM251.7 408.0h.7v.7h-.7zM240.0 392.4h.7v.7h-.7zM259.7 399.1h.7v.7h-.7zM255.3 390.8h.7v.7h-.7zM242.4 391.6h.7v.7h-.7zM264.1 381.2h.7v.7h-.7zM240.0 409.4h.7v.7h-.7zM245.2 384.9h.7v.7h-.7zM248.7 393.0h.7v.7h-.7zM244.6 399.6h.7v.7h-.7zM255.1 381.2h.7v.7h-.7zM248.3 408.8h.7v.7h-.7zM230.5 394.1h.7v.7h-.7zM232.6 401.2h.7v.7h-.7zM236.2 391.9h.7v.7h-.7zM241.2 399.2h.7v.7h-.7zM230.9 382.1h.7v.7h-.7zM248.2 407.5h.7v.7h-.7zM240.2 398.8h.7v.7h-.7zM249.0 396.0h.7v.7h-.7zM245.7 389.9h.7v.7h-.7zM243.2 406.1h.7v.7h-.7zM251.1 406.9h.7v.7h-.7zM237.6 396.1h.7v.7h-.7zM238.6 382.8h.7v.7h-.7zM256.3 392.4h.7v.7h-.7zM248.8 381.9h.7v.7h-.7zM243.1 393.9h.7v.7h-.7zM241.5 404.4h.7v.7h-.7zM251.3 396.2h.7v.7h-.7zM248.6 390.9h.7v.7h-.7zM237.8 392.4h.7v.7h-.7zM234.2 393.4h.7v.7h-.7zM244.7 405.4h.7v.7h-.7zM240.9 417.5h.7v.7h-.7zM239.9 396.2h.7v.7h-.7zM245.6 389.3h.7v.7h-.7zM245.2 378.6h.7v.7h-.7zM258.8 389.6h.7v.7h-.7zM245.6 378.2h.7v.7h-.7zM252.5 383.1h.7v.7h-.7zM261.6 385.3h.7v.7h-.7zM237.5 401.1h.7v.7h-.7zM260.7 376.6h.7v.7h-.7zM226.5 410.0h.7v.7h-.7zM251.0 380.9h.7v.7h-.7zM240.9 401.5h.7v.7h-.7zM241.5 409.0h.7v.7h-.7zM237.7 396.6h.7v.7h-.7zM259.2 408.8h.7v.7h-.7zM248.7 400.4h.7v.7h-.7zM242.1 394.4h.7v.7h-.7zM239.3 398.6h.7v.7h-.7zM255.6 385.6h.7v.7h-.7zM232.5 395.4h.7v.7h-.7zM269.0 397.1h.7v.7h-.7zM247.4 394.6h.7v.7h-.7zM226.6 388.4h.7v.7h-.7zM263.3 375.4h.7v.7h-.7zM266.6 383.8h.7v.7h-.7zM269.4 419.4h.7v.7h-.7zM263.2 393.7h.7v.7h-.7zM252.7 389.9h.7v.7h-.7zM240.7 396.9h.7v.7h-.7zM209.7 400.2h.7v.7h-.7zM242.3 384.9h.7v.7h-.7zM242.7 401.0h.7v.7h-.7zM237.0 398.3h.7v.7h-.7zM230.4 395.9h.7v.7h-.7zM232.7 402.1h.7v.7h-.7zM233.9 400.7h.7v.7h-.7zM223.0 396.6h.7v.7h-.7zM258.6 387.3h.7v.7h-.7zM246.5 387.0h.7v.7h-.7zM251.4 402.0h.7v.7h-.7zM259.1 407.4h.7v.7h-.7zM260.9 388.2h.7v.7h-.7zM247.2 399.9h.7v.7h-.7zM248.1 382.7h.7v.7h-.7zM269.2 418.8h.7v.7h-.7zM246.6 370.6h.7v.7h-.7zM266.9 393.3h.7v.7h-.7zM271.9 385.2h.7v.7h-.7zM252.0 402.4h.7v.7h-.7zM229.4 391.9h.7v.7h-.7zM251.5 401.2h.7v.7h-.7zM250.4 370.5h.7v.7h-.7zM218.5 398.4h.7v.7h-.7zM264.3 380.6h.7v.7h-.7zM250.4 403.7h.7v.7h-.7zM234.7 380.1h.7v.7h-.7zM249.0 390.8h.7v.7h-.7zM244.8 393.1h.7v.7h-.7zM244.5 397.9h.7v.7h-.7zM239.8 394.7h.7v.7h-.7zM239.4 386.8h.7v.7h-.7zM249.9 387.2h.7v.7h-.7zM252.0 394.7h.7v.7h-.7zM258.3 400.5h.7v.7h-.7zM222.8 394.7h.7v.7h-.7zM253.5 396.0h.7v.7h-.7zM246.4 405.1h.7v.7h-.7zM253.7 382.4h.7v.7h-.7zM247.0 404.4h.7v.7h-.7zM247.7 383.0h.7v.7h-.7zM254.8 400.6h.7v.7h-.7zM259.1 396.6h.7v.7h-.7zM247.2 403.0h.7v.7h-.7zM233.2 411.1h.7v.7h-.7zM250.5 397.1h.7v.7h-.7zM254.6 402.4h.7v.7h-.7zM220.5 403.7h.7v.7h-.7zM244.6 387.6h.7v.7h-.7zM256.3 403.8h.7v.7h-.7zM250.2 389.1h.7v.7h-.7zM247.1 386.0h.7v.7h-.7zM274.9 388.7h.7v.7h-.7zM255.9 410.3h.7v.7h-.7zM236.0 389.9h.7v.7h-.7zM220.1 392.7h.7v.7h-.7zM230.6 396.4h.7v.7h-.7zM243.3 395.1h.7v.7h-.7zM246.3 390.5h.7v.7h-.7zM247.2 394.3h.7v.7h-.7zM237.6 392.0h.7v.7h-.7zM239.3 382.8h.7v.7h-.7zM245.5 377.4h.7v.7h-.7zM252.0 394.6h.7v.7h-.7zM247.8 405.8h.7v.7h-.7zM256.8 390.8h.7v.7h-.7zM249.9 406.2h.7v.7h-.7zM244.1 398.5h.7v.7h-.7zM250.7 385.2h.7v.7h-.7zM249.1 391.3h.7v.7h-.7zM242.9 399.0h.7v.7h-.7zM253.4 386.5h.7v.7h-.7zM242.9 393.1h.7v.7h-.7zM234.9 398.4h.7v.7h-.7zM243.5 388.3h.7v.7h-.7zM256.7 394.2h.7v.7h-.7zM232.5 394.1h.7v.7h-.7zM243.7 397.7h.7v.7h-.7zM271.8 400.1h.7v.7h-.7zM262.4 393.3h.7v.7h-.7zM251.3 399.6h.7v.7h-.7zM244.7 397.3h.7v.7h-.7zM240.7 401.5h.7v.7h-.7zM235.4 411.1h.7v.7h-.7zM203.1 381.9h.7v.7h-.7zM244.4 398.4h.7v.7h-.7zM247.5 379.7h.7v.7h-.7zM250.7 386.6h.7v.7h-.7zM248.2 391.0h.7v.7h-.7zM242.7 380.6h.7v.7h-.7zM230.8 389.7h.7v.7h-.7zM233.6 397.3h.7v.7h-.7zM229.8 397.0h.7v.7h-.7zM252.2 387.9h.7v.7h-.7zM234.8 391.7h.7v.7h-.7zM254.9 408.1h.7v.7h-.7zM270.6 395.8h.7v.7h-.7zM253.0 396.8h.7v.7h-.7zM245.6 384.9h.7v.7h-.7zM241.8 405.5h.7v.7h-.7zM261.7 389.3h.7v.7h-.7zM227.3 412.7h.7v.7h-.7zM246.2 399.2h.7v.7h-.7zM243.9 378.0h.7v.7h-.7zM249.4 385.8h.7v.7h-.7zM242.6 389.1h.7v.7h-.7zM242.8 417.5h.7v.7h-.7zM263.2 376.6h.7v.7h-.7zM228.1 390.2h.7v.7h-.7zM238.2 402.3h.7v.7h-.7zM263.8 388.1h.7v.7h-.7zM209.9 415.5h.7v.7h-.7zM201.3 425.1h.7v.7h-.7zM213.8 411.3h.7v.7h-.7zM210.1 413.4h.7v.7h-.7zM207.6 413.8h.7v.7h-.7zM207.5 417.3h.7v.7h-.7zM205.9 418.9h.7v.7h-.7zM203.6 422.6h.7v.7h-.7zM204.8 404.1h.7v.7h-.7zM210.7 414.6h.7v.7h-.7zM206.2 423.3h.7v.7h-.7zM207.8 430.5h.7v.7h-.7zM209.4 407.0h.7v.7h-.7zM206.3 412.3h.7v.7h-.7zM207.0 428.7h.7v.7h-.7zM217.1 428.9h.7v.7h-.7zM209.5 420.8h.7v.7h-.7zM208.5 401.6h.7v.7h-.7zM212.6 430.8h.7v.7h-.7zM206.2 416.8h.7v.7h-.7zM205.6 415.5h.7v.7h-.7zM205.0 409.1h.7v.7h-.7zM212.0 403.5h.7v.7h-.7zM211.4 409.0h.7v.7h-.7zM207.1 403.0h.7v.7h-.7zM210.1 410.0h.7v.7h-.7zM216.3 410.5h.7v.7h-.7zM208.8 421.6h.7v.7h-.7zM204.7 411.2h.7v.7h-.7zM204.4 420.8h.7v.7h-.7zM208.9 424.0h.7v.7h-.7zM203.1 410.5h.7v.7h-.7zM207.6 413.9h.7v.7h-.7zM209.0 424.8h.7v.7h-.7zM208.4 411.4h.7v.7h-.7zM207.8 412.0h.7v.7h-.7zM205.8 429.9h.7v.7h-.7zM210.2 429.7h.7v.7h-.7zM207.2 416.5h.7v.7h-.7zM203.7 418.6h.7v.7h-.7zM210.4 421.8h.7v.7h-.7zM204.1 417.7h.7v.7h-.7zM211.0 413.7h.7v.7h-.7zM210.3 413.5h.7v.7h-.7zM207.9 412.9h.7v.7h-.7zM203.0 411.2h.7v.7h-.7zM208.5 415.0h.7v.7h-.7zM207.9 413.0h.7v.7h-.7zM210.9 415.7h.7v.7h-.7zM209.3 413.7h.7v.7h-.7zM212.3 416.3h.7v.7h-.7zM209.4 432.3h.7v.7h-.7zM209.4 406.1h.7v.7h-.7zM205.7 419.2h.7v.7h-.7zM203.5 406.7h.7v.7h-.7zM207.6 406.0h.7v.7h-.7zM211.6 420.0h.7v.7h-.7zM206.9 425.4h.7v.7h-.7zM205.7 408.7h.7v.7h-.7zM211.0 417.1h.7v.7h-.7zM207.2 424.1h.7v.7h-.7zM207.5 421.5h.7v.7h-.7zM208.7 425.0h.7v.7h-.7zM209.8 413.7h.7v.7h-.7zM213.0 414.5h.7v.7h-.7zM213.8 408.2h.7v.7h-.7zM208.1 401.4h.7v.7h-.7zM209.7 426.3h.7v.7h-.7zM206.6 420.3h.7v.7h-.7zM207.2 427.0h.7v.7h-.7zM209.1 419.4h.7v.7h-.7zM211.7 406.4h.7v.7h-.7zM210.3 417.9h.7v.7h-.7zM212.3 417.2h.7v.7h-.7zM210.0 416.6h.7v.7h-.7zM204.7 413.5h.7v.7h-.7zM207.4 407.7h.7v.7h-.7zM207.8 413.7h.7v.7h-.7zM214.1 415.3h.7v.7h-.7zM208.4 417.6h.7v.7h-.7zM210.3 405.8h.7v.7h-.7zM202.1 428.0h.7v.7h-.7zM205.2 410.8h.7v.7h-.7zM211.9 419.1h.7v.7h-.7zM205.3 422.2h.7v.7h-.7zM204.2 428.3h.7v.7h-.7zM206.9 419.3h.7v.7h-.7zM207.9 430.3h.7v.7h-.7zM204.8 416.3h.7v.7h-.7zM215.2 402.8h.7v.7h-.7zM206.3 418.9h.7v.7h-.7zM207.3 420.1h.7v.7h-.7zM211.9 409.1h.7v.7h-.7zM205.8 426.1h.7v.7h-.7zM214.5 398.4h.7v.7h-.7zM209.8 423.9h.7v.7h-.7zM205.7 411.0h.7v.7h-.7zM204.2 415.6h.7v.7h-.7zM204.1 421.9h.7v.7h-.7zM205.7 420.6h.7v.7h-.7zM202.7 423.1h.7v.7h-.7zM210.2 423.5h.7v.7h-.7zM208.9 432.9h.7v.7h-.7zM211.2 417.3h.7v.7h-.7zM213.4 414.5h.7v.7h-.7zM208.5 428.4h.7v.7h-.7zM206.4 417.0h.7v.7h-.7zM208.8 418.3h.7v.7h-.7zM207.2 424.0h.7v.7h-.7zM215.2 414.3h.7v.7h-.7zM203.1 413.8h.7v.7h-.7zM203.4 408.2h.7v.7h-.7zM204.5 424.4h.7v.7h-.7zM208.5 421.9h.7v.7h-.7zM207.6 424.1h.7v.7h-.7zM206.6 426.1h.7v.7h-.7zM211.0 418.5h.7v.7h-.7zM203.1 409.4h.7v.7h-.7zM208.9 409.8h.7v.7h-.7zM207.4 415.9h.7v.7h-.7zM212.6 412.3h.7v.7h-.7zM208.4 413.8h.7v.7h-.7zM205.5 420.0h.7v.7h-.7zM211.2 407.1h.7v.7h-.7zM213.0 432.5h.7v.7h-.7zM208.5 420.6h.7v.7h-.7zM204.5 414.2h.7v.7h-.7zM209.0 416.4h.7v.7h-.7zM212.6 410.9h.7v.7h-.7zM207.2 420.7h.7v.7h-.7zM207.8 415.3h.7v.7h-.7zM207.6 419.8h.7v.7h-.7zM201.6 435.0h.7v.7h-.7zM210.5 409.7h.7v.7h-.7zM205.0 409.2h.7v.7h-.7zM209.5 404.1h.7v.7h-.7zM216.2 413.2h.7v.7h-.7zM203.3 431.3h.7v.7h-.7zM208.0 420.4h.7v.7h-.7zM207.4 415.2h.7v.7h-.7zM214.9 403.4h.7v.7h-.7zM208.9 411.9h.7v.7h-.7zM206.9 416.6h.7v.7h-.7zM201.9 421.3h.7v.7h-.7zM208.7 420.9h.7v.7h-.7zM206.0 422.2h.7v.7h-.7zM206.4 422.4h.7v.7h-.7zM212.5 421.3h.7v.7h-.7zM203.2 417.5h.7v.7h-.7zM204.5 430.5h.7v.7h-.7zM208.7 408.2h.7v.7h-.7zM202.9 426.2h.7v.7h-.7zM204.7 419.8h.7v.7h-.7zM206.9 416.0h.7v.7h-.7zM206.5 417.1h.7v.7h-.7zM213.4 411.0h.7v.7h-.7zM209.7 420.3h.7v.7h-.7zM205.8 409.5h.7v.7h-.7zM205.0 421.0h.7v.7h-.7zM208.6 424.1h.7v.7h-.7zM209.2 417.8h.7v.7h-.7zM208.1 418.6h.7v.7h-.7zM208.2 421.6h.7v.7h-.7zM205.1 424.4h.7v.7h-.7zM213.5 416.4h.7v.7h-.7zM209.9 408.9h.7v.7h-.7zM208.4 407.1h.7v.7h-.7zM211.3 417.4h.7v.7h-.7zM211.6 424.8h.7v.7h-.7zM205.6 422.6h.7v.7h-.7zM213.2 432.3h.7v.7h-.7zM207.7 420.8h.7v.7h-.7zM205.9 421.4h.7v.7h-.7zM210.0 427.0h.7v.7h-.7zM207.5 417.4h.7v.7h-.7zM209.7 415.9h.7v.7h-.7zM214.9 401.8h.7v.7h-.7zM202.3 413.6h.7v.7h-.7zM210.3 417.2h.7v.7h-.7zM209.4 406.6h.7v.7h-.7zM211.9 451.3h.7v.7h-.7zM216.9 453.5h.7v.7h-.7zM206.1 441.2h.7v.7h-.7zM203.6 443.2h.7v.7h-.7zM208.6 456.9h.7v.7h-.7zM217.0 447.6h.7v.7h-.7zM211.9 445.7h.7v.7h-.7zM202.8 451.2h.7v.7h-.7zM205.5 434.4h.7v.7h-.7zM205.0 458.7h.7v.7h-.7zM203.5 457.7h.7v.7h-.7zM202.5 446.5h.7v.7h-.7zM211.5 443.9h.7v.7h-.7zM204.4 447.1h.7v.7h-.7zM217.1 452.2h.7v.7h-.7zM210.0 451.5h.7v.7h-.7zM214.7 457.5h.7v.7h-.7zM207.7 440.2h.7v.7h-.7zM204.3 447.5h.7v.7h-.7zM207.6 447.1h.7v.7h-.7zM206.1 466.6h.7v.7h-.7zM205.7 458.2h.7v.7h-.7zM204.9 440.9h.7v.7h-.7zM203.4 438.5h.7v.7h-.7zM201.2 440.6h.7v.7h-.7zM207.9 452.5h.7v.7h-.7zM200.5 450.5h.7v.7h-.7zM208.5 447.0h.7v.7h-.7zM198.7 450.8h.7v.7h-.7zM212.2 456.0h.7v.7h-.7zM207.6 456.8h.7v.7h-.7zM209.4 439.9h.7v.7h-.7zM211.5 454.7h.7v.7h-.7zM210.2 446.8h.7v.7h-.7zM207.8 452.3h.7v.7h-.7zM200.3 449.4h.7v.7h-.7zM202.8 443.0h.7v.7h-.7zM210.0 456.7h.7v.7h-.7zM209.0 439.8h.7v.7h-.7zM222.1 449.6h.7v.7h-.7zM196.0 446.3h.7v.7h-.7zM205.5 442.3h.7v.7h-.7zM214.1 463.7h.7v.7h-.7zM209.5 436.6h.7v.7h-.7zM213.2 447.8h.7v.7h-.7zM207.1 448.6h.7v.7h-.7zM203.5 448.6h.7v.7h-.7zM210.7 456.4h.7v.7h-.7zM218.7 442.1h.7v.7h-.7zM210.9 440.9h.7v.7h-.7zM209.6 456.1h.7v.7h-.7zM212.2 444.7h.7v.7h-.7zM217.7 454.0h.7v.7h-.7zM215.0 447.7h.7v.7h-.7zM215.5 445.9h.7v.7h-.7zM213.2 447.4h.7v.7h-.7zM209.0 434.9h.7v.7h-.7zM213.8 451.6h.7v.7h-.7zM206.0 447.6h.7v.7h-.7zM211.9 452.1h.7v.7h-.7zM199.0 458.7h.7v.7h-.7zM204.1 461.9h.7v.7h-.7zM214.6 448.2h.7v.7h-.7zM210.0 449.3h.7v.7h-.7zM207.1 458.9h.7v.7h-.7zM205.8 442.9h.7v.7h-.7zM207.9 434.6h.7v.7h-.7zM214.1 437.8h.7v.7h-.7zM216.4 454.5h.7v.7h-.7zM218.8 442.4h.7v.7h-.7zM207.6 443.5h.7v.7h-.7zM212.9 440.1h.7v.7h-.7zM207.5 428.9h.7v.7h-.7zM209.3 448.7h.7v.7h-.7zM218.7 440.5h.7v.7h-.7zM213.7 451.5h.7v.7h-.7zM213.3 438.4h.7v.7h-.7zM192.1 443.3h.7v.7h-.7zM213.7 448.4h.7v.7h-.7zM216.1 464.0h.7v.7h-.7zM205.6 443.9h.7v.7h-.7zM216.5 434.0h.7v.7h-.7zM196.8 449.2h.7v.7h-.7zM210.7 459.0h.7v.7h-.7zM212.6 446.8h.7v.7h-.7zM206.3 432.6h.7v.7h-.7zM211.6 442.3h.7v.7h-.7zM207.2 449.6h.7v.7h-.7zM199.1 446.4h.7v.7h-.7zM206.0 462.8h.7v.7h-.7zM208.5 456.0h.7v.7h-.7zM204.2 434.6h.7v.7h-.7zM213.4 444.3h.7v.7h-.7zM202.5 455.5h.7v.7h-.7zM211.5 433.5h.7v.7h-.7zM207.9 462.9h.7v.7h-.7zM209.6 436.3h.7v.7h-.7zM204.9 458.1h.7v.7h-.7zM216.4 452.5h.7v.7h-.7zM201.6 453.7h.7v.7h-.7zM205.0 443.0h.7v.7h-.7zM206.6 455.6h.7v.7h-.7zM211.6 451.7h.7v.7h-.7zM206.9 443.0h.7v.7h-.7zM214.4 442.2h.7v.7h-.7zM207.7 451.5h.7v.7h-.7zM208.2 454.9h.7v.7h-.7zM211.8 452.2h.7v.7h-.7zM220.5 442.7h.7v.7h-.7zM219.4 436.8h.7v.7h-.7zM205.2 427.2h.7v.7h-.7zM205.7 440.7h.7v.7h-.7zM212.5 457.2h.7v.7h-.7zM220.5 442.8h.7v.7h-.7zM214.3 445.6h.7v.7h-.7zM199.9 413.7h.7v.7h-.7zM207.3 431.5h.7v.7h-.7zM213.4 439.6h.7v.7h-.7zM212.3 441.7h.7v.7h-.7zM211.4 439.4h.7v.7h-.7zM211.0 461.6h.7v.7h-.7zM210.9 436.0h.7v.7h-.7zM205.2 448.1h.7v.7h-.7zM213.1 437.1h.7v.7h-.7zM204.5 434.0h.7v.7h-.7zM217.8 449.4h.7v.7h-.7zM210.7 443.5h.7v.7h-.7zM218.6 451.7h.7v.7h-.7zM208.6 456.9h.7v.7h-.7zM212.0 444.8h.7v.7h-.7zM207.2 447.1h.7v.7h-.7zM215.9 435.6h.7v.7h-.7zM200.8 452.5h.7v.7h-.7zM214.3 458.8h.7v.7h-.7zM211.9 434.9h.7v.7h-.7zM213.1 448.4h.7v.7h-.7zM204.0 434.1h.7v.7h-.7zM201.4 447.6h.7v.7h-.7zM202.6 449.9h.7v.7h-.7zM208.3 452.2h.7v.7h-.7zM213.4 439.6h.7v.7h-.7zM207.2 453.0h.7v.7h-.7zM205.9 455.3h.7v.7h-.7zM212.0 454.3h.7v.7h-.7zM206.1 453.4h.7v.7h-.7zM208.0 448.8h.7v.7h-.7zM212.2 442.5h.7v.7h-.7zM208.8 427.7h.7v.7h-.7zM205.6 452.1h.7v.7h-.7zM203.7 429.9h.7v.7h-.7zM201.9 444.6h.7v.7h-.7zM212.4 451.4h.7v.7h-.7zM202.0 450.3h.7v.7h-.7zM203.0 455.9h.7v.7h-.7zM211.0 441.9h.7v.7h-.7zM206.7 446.4h.7v.7h-.7zM206.2 456.5h.7v.7h-.7zM210.5 442.4h.7v.7h-.7zM211.3 435.8h.7v.7h-.7zM209.8 444.3h.7v.7h-.7zM206.2 446.5h.7v.7h-.7zM210.2 435.1h.7v.7h-.7zM213.0 442.2h.7v.7h-.7zM210.8 460.5h.7v.7h-.7zM203.7 460.5h.7v.7h-.7zM207.3 462.4h.7v.7h-.7zM205.0 455.5h.7v.7h-.7zM206.2 457.2h.7v.7h-.7zM213.4 449.8h.7v.7h-.7zM205.0 455.5h.7v.7h-.7zM210.9 438.2h.7v.7h-.7zM211.8 445.6h.7v.7h-.7zM208.5 439.0h.7v.7h-.7zM210.1 454.0h.7v.7h-.7zM204.9 453.6h.7v.7h-.7zM200.2 447.9h.7v.7h-.7zM210.3 439.2h.7v.7h-.7zM209.8 436.3h.7v.7h-.7zM218.2 450.2h.7v.7h-.7zM214.3 439.4h.7v.7h-.7zM198.1 446.3h.7v.7h-.7zM215.6 445.7h.7v.7h-.7zM214.7 450.3h.7v.7h-.7zM210.6 455.6h.7v.7h-.7zM206.2 443.6h.7v.7h-.7zM214.4 450.7h.7v.7h-.7zM206.4 438.2h.7v.7h-.7zM216.2 420.6h.7v.7h-.7zM213.5 445.8h.7v.7h-.7zM202.8 450.3h.7v.7h-.7zM211.3 465.6h.7v.7h-.7zM210.5 426.5h.7v.7h-.7zM204.5 453.2h.7v.7h-.7zM206.7 446.5h.7v.7h-.7zM208.6 458.7h.7v.7h-.7zM210.6 445.7h.7v.7h-.7zM206.0 455.2h.7v.7h-.7zM205.7 450.4h.7v.7h-.7zM211.0 453.1h.7v.7h-.7zM212.8 449.3h.7v.7h-.7zM218.5 453.4h.7v.7h-.7zM205.4 439.6h.7v.7h-.7zM205.7 457.8h.7v.7h-.7zM203.8 459.8h.7v.7h-.7zM211.1 442.2h.7v.7h-.7zM204.3 446.2h.7v.7h-.7zM212.6 446.4h.7v.7h-.7zM212.5 448.4h.7v.7h-.7zM215.5 443.0h.7v.7h-.7zM208.4 437.8h.7v.7h-.7zM207.5 438.9h.7v.7h-.7zM201.8 445.2h.7v.7h-.7zM212.3 428.7h.7v.7h-.7zM203.0 435.6h.7v.7h-.7zM210.8 451.6h.7v.7h-.7zM210.6 445.5h.7v.7h-.7zM205.4 448.5h.7v.7h-.7zM204.9 445.1h.7v.7h-.7zM210.9 444.9h.7v.7h-.7zM214.7 429.2h.7v.7h-.7zM201.5 455.1h.7v.7h-.7zM206.4 443.2h.7v.7h-.7zM206.4 446.5h.7v.7h-.7zM208.3 449.9h.7v.7h-.7zM213.4 462.1h.7v.7h-.7zM199.0 446.1h.7v.7h-.7zM204.8 448.7h.7v.7h-.7zM204.3 447.5h.7v.7h-.7zM210.3 446.7h.7v.7h-.7zM210.1 452.3h.7v.7h-.7zM204.0 446.6h.7v.7h-.7zM214.0 454.6h.7v.7h-.7zM213.6 440.2h.7v.7h-.7zM205.9 455.0h.7v.7h-.7zM209.0 449.4h.7v.7h-.7zM207.4 454.4h.7v.7h-.7zM209.8 438.9h.7v.7h-.7zM210.8 444.1h.7v.7h-.7zM207.8 451.6h.7v.7h-.7zM209.7 442.3h.7v.7h-.7zM203.5 443.3h.7v.7h-.7zM208.4 437.3h.7v.7h-.7zM206.1 465.9h.7v.7h-.7zM206.0 447.5h.7v.7h-.7zM203.2 444.4h.7v.7h-.7zM210.2 448.3h.7v.7h-.7zM201.1 447.3h.7v.7h-.7zM204.4 455.9h.7v.7h-.7zM208.5 459.9h.7v.7h-.7zM210.7 437.5h.7v.7h-.7zM213.5 443.0h.7v.7h-.7zM208.5 447.8h.7v.7h-.7zM202.9 456.5h.7v.7h-.7zM209.7 438.6h.7v.7h-.7zM202.6 450.7h.7v.7h-.7zM214.7 450.3h.7v.7h-.7zM210.5 443.6h.7v.7h-.7zM214.2 451.4h.7v.7h-.7zM205.3 442.0h.7v.7h-.7zM198.9 456.4h.7v.7h-.7zM223.1 446.0h.7v.7h-.7zM211.1 453.2h.7v.7h-.7zM208.0 464.4h.7v.7h-.7zM204.3 440.2h.7v.7h-.7zM216.6 454.4h.7v.7h-.7zM212.6 446.1h.7v.7h-.7zM208.8 448.2h.7v.7h-.7zM211.0 442.1h.7v.7h-.7zM213.9 461.2h.7v.7h-.7zM206.5 439.3h.7v.7h-.7zM209.6 467.0h.7v.7h-.7zM204.5 457.9h.7v.7h-.7zM205.8 440.9h.7v.7h-.7zM214.1 445.6h.7v.7h-.7zM208.8 452.7h.7v.7h-.7zM214.3 448.9h.7v.7h-.7zM216.3 441.5h.7v.7h-.7zM206.6 452.6h.7v.7h-.7zM212.1 433.0h.7v.7h-.7zM207.6 452.6h.7v.7h-.7zM208.3 461.6h.7v.7h-.7zM201.6 448.7h.7v.7h-.7zM205.0 434.1h.7v.7h-.7zM207.9 446.5h.7v.7h-.7zM207.1 441.9h.7v.7h-.7zM213.0 438.6h.7v.7h-.7zM206.1 435.7h.7v.7h-.7zM214.5 435.2h.7v.7h-.7zM217.1 439.6h.7v.7h-.7zM208.8 460.2h.7v.7h-.7zM204.0 457.7h.7v.7h-.7zM202.9 443.3h.7v.7h-.7zM211.6 449.8h.7v.7h-.7zM210.6 449.6h.7v.7h-.7zM216.4 434.0h.7v.7h-.7zM205.8 454.1h.7v.7h-.7zM202.1 441.5h.7v.7h-.7zM220.5 458.0h.7v.7h-.7zM211.4 447.7h.7v.7h-.7zM208.2 440.0h.7v.7h-.7zM204.9 439.1h.7v.7h-.7zM203.0 448.2h.7v.7h-.7zM211.0 439.5h.7v.7h-.7zM209.6 436.4h.7v.7h-.7zM210.8 444.5h.7v.7h-.7zM208.7 448.7h.7v.7h-.7zM215.2 448.8h.7v.7h-.7zM205.9 448.4h.7v.7h-.7zM210.9 451.4h.7v.7h-.7zM214.0 440.5h.7v.7h-.7zM203.4 452.2h.7v.7h-.7zM203.7 450.8h.7v.7h-.7zM221.9 457.2h.7v.7h-.7zM202.1 440.5h.7v.7h-.7zM210.9 444.8h.7v.7h-.7zM212.3 449.1h.7v.7h-.7zM210.6 451.6h.7v.7h-.7zM201.6 456.4h.7v.7h-.7zM202.3 440.0h.7v.7h-.7zM197.6 447.2h.7v.7h-.7zM210.9 444.1h.7v.7h-.7zM203.4 429.5h.7v.7h-.7zM211.7 437.8h.7v.7h-.7zM207.3 449.1h.7v.7h-.7zM208.7 450.5h.7v.7h-.7zM216.9 452.9h.7v.7h-.7zM204.2 446.8h.7v.7h-.7zM207.9 440.2h.7v.7h-.7zM212.1 444.0h.7v.7h-.7zM210.1 452.4h.7v.7h-.7zM218.9 442.2h.7v.7h-.7zM212.4 464.6h.7v.7h-.7zM216.6 449.6h.7v.7h-.7zM205.5 448.5h.7v.7h-.7zM206.1 443.8h.7v.7h-.7zM200.8 444.8h.7v.7h-.7zM199.5 455.2h.7v.7h-.7zM211.5 443.9h.7v.7h-.7zM209.2 448.1h.7v.7h-.7zM207.8 449.5h.7v.7h-.7zM208.2 450.8h.7v.7h-.7zM205.2 447.7h.7v.7h-.7zM217.0 440.6h.7v.7h-.7zM205.2 454.8h.7v.7h-.7zM210.5 448.4h.7v.7h-.7zM209.9 443.9h.7v.7h-.7zM206.5 451.3h.7v.7h-.7zM209.9 452.4h.7v.7h-.7zM211.2 465.3h.7v.7h-.7zM209.4 458.6h.7v.7h-.7zM209.8 465.5h.7v.7h-.7zM213.7 441.1h.7v.7h-.7zM216.6 442.7h.7v.7h-.7zM213.8 441.1h.7v.7h-.7zM210.7 448.5h.7v.7h-.7zM215.8 429.8h.7v.7h-.7zM199.9 455.2h.7v.7h-.7zM212.6 443.1h.7v.7h-.7zM209.5 433.1h.7v.7h-.7zM207.2 441.9h.7v.7h-.7zM213.3 449.3h.7v.7h-.7zM208.3 456.7h.7v.7h-.7zM205.9 453.4h.7v.7h-.7zM207.9 451.0h.7v.7h-.7zM207.6 458.7h.7v.7h-.7zM207.0 463.6h.7v.7h-.7zM212.8 440.6h.7v.7h-.7zM206.9 458.2h.7v.7h-.7zM216.1 437.5h.7v.7h-.7zM209.8 452.4h.7v.7h-.7zM220.4 452.8h.7v.7h-.7zM208.1 454.9h.7v.7h-.7zM209.4 440.4h.7v.7h-.7zM208.8 445.6h.7v.7h-.7zM208.0 448.0h.7v.7h-.7zM210.8 441.1h.7v.7h-.7zM212.3 434.6h.7v.7h-.7zM212.2 451.3h.7v.7h-.7zM211.1 435.3h.7v.7h-.7zM206.7 449.0h.7v.7h-.7zM211.3 453.5h.7v.7h-.7zM201.7 447.6h.7v.7h-.7zM214.2 438.0h.7v.7h-.7zM203.2 443.6h.7v.7h-.7zM207.8 445.3h.7v.7h-.7zM215.0 449.7h.7v.7h-.7zM199.9 453.8h.7v.7h-.7zM209.5 454.4h.7v.7h-.7zM208.9 458.7h.7v.7h-.7zM209.7 443.5h.7v.7h-.7zM203.3 455.0h.7v.7h-.7zM208.4 433.3h.7v.7h-.7zM213.1 458.0h.7v.7h-.7zM199.1 452.1h.7v.7h-.7zM212.2 461.4h.7v.7h-.7zM214.9 441.5h.7v.7h-.7zM211.2 453.5h.7v.7h-.7zM202.0 459.2h.7v.7h-.7zM211.4 454.3h.7v.7h-.7zM204.8 454.2h.7v.7h-.7zM208.8 445.0h.7v.7h-.7zM209.2 450.3h.7v.7h-.7zM201.8 447.5h.7v.7h-.7zM210.8 434.5h.7v.7h-.7zM217.2 468.3h.7v.7h-.7zM212.3 447.5h.7v.7h-.7zM204.1 438.6h.7v.7h-.7zM203.2 454.7h.7v.7h-.7zM204.9 449.1h.7v.7h-.7zM206.9 454.8h.7v.7h-.7zM215.1 455.0h.7v.7h-.7zM212.2 456.2h.7v.7h-.7zM217.2 440.5h.7v.7h-.7zM210.3 442.3h.7v.7h-.7zM209.3 445.8h.7v.7h-.7zM209.6 453.3h.7v.7h-.7zM202.8 426.6h.7v.7h-.7zM210.4 456.1h.7v.7h-.7zM207.2 459.5h.7v.7h-.7zM219.9 448.2h.7v.7h-.7zM208.0 451.8h.7v.7h-.7zM212.7 435.5h.7v.7h-.7zM211.4 431.0h.7v.7h-.7zM203.9 449.4h.7v.7h-.7zM210.5 438.0h.7v.7h-.7zM209.3 458.0h.7v.7h-.7zM201.2 452.2h.7v.7h-.7zM215.1 436.8h.7v.7h-.7zM214.8 451.2h.7v.7h-.7zM207.5 447.8h.7v.7h-.7zM208.9 447.9h.7v.7h-.7zM208.1 441.7h.7v.7h-.7zM213.4 461.4h.7v.7h-.7zM208.1 459.1h.7v.7h-.7zM205.3 437.3h.7v.7h-.7zM212.1 449.6h.7v.7h-.7zM211.2 439.9h.7v.7h-.7zM207.1 455.9h.7v.7h-.7zM216.7 449.7h.7v.7h-.7zM210.9 426.4h.7v.7h-.7zM205.9 458.2h.7v.7h-.7zM218.2 441.0h.7v.7h-.7zM196.9 451.7h.7v.7h-.7zM202.8 444.3h.7v.7h-.7zM206.1 444.7h.7v.7h-.7zM204.4 453.0h.7v.7h-.7zM210.5 437.0h.7v.7h-.7zM201.5 464.5h.7v.7h-.7zM211.7 449.4h.7v.7h-.7zM200.9 465.2h.7v.7h-.7zM204.0 448.7h.7v.7h-.7zM210.6 441.8h.7v.7h-.7zM209.6 444.0h.7v.7h-.7zM199.2 436.5h.7v.7h-.7zM206.0 443.4h.7v.7h-.7zM211.1 461.1h.7v.7h-.7zM207.9 465.4h.7v.7h-.7zM206.9 448.6h.7v.7h-.7zM207.9 434.0h.7v.7h-.7zM208.7 446.0h.7v.7h-.7zM205.0 453.8h.7v.7h-.7zM210.9 445.2h.7v.7h-.7zM204.8 450.1h.7v.7h-.7zM205.1 440.8h.7v.7h-.7zM206.6 455.4h.7v.7h-.7zM207.6 446.4h.7v.7h-.7zM207.4 452.5h.7v.7h-.7zM208.2 454.4h.7v.7h-.7zM208.2 454.5h.7v.7h-.7zM207.5 441.7h.7v.7h-.7zM210.9 446.1h.7v.7h-.7zM206.8 459.4h.7v.7h-.7zM206.6 441.4h.7v.7h-.7zM207.3 459.4h.7v.7h-.7zM202.6 457.2h.7v.7h-.7zM211.4 444.5h.7v.7h-.7zM207.3 441.8h.7v.7h-.7zM199.3 440.2h.7v.7h-.7zM202.2 434.7h.7v.7h-.7zM206.8 452.5h.7v.7h-.7zM204.4 445.0h.7v.7h-.7zM205.2 446.1h.7v.7h-.7zM210.8 457.6h.7v.7h-.7zM211.7 450.8h.7v.7h-.7zM215.5 453.6h.7v.7h-.7zM211.2 452.4h.7v.7h-.7zM212.8 439.4h.7v.7h-.7zM204.6 448.5h.7v.7h-.7zM200.4 445.6h.7v.7h-.7zM207.3 450.3h.7v.7h-.7zM212.1 458.4h.7v.7h-.7zM197.6 449.5h.7v.7h-.7zM210.5 459.4h.7v.7h-.7zM205.9 451.2h.7v.7h-.7zM208.1 440.1h.7v.7h-.7zM210.0 455.6h.7v.7h-.7zM207.1 448.5h.7v.7h-.7zM214.0 446.2h.7v.7h-.7zM207.3 450.2h.7v.7h-.7zM210.9 451.1h.7v.7h-.7zM214.7 451.4h.7v.7h-.7zM203.1 434.6h.7v.7h-.7zM208.3 461.4h.7v.7h-.7zM209.0 444.2h.7v.7h-.7zM210.1 452.1h.7v.7h-.7zM214.7 437.4h.7v.7h-.7zM212.4 449.3h.7v.7h-.7zM212.7 456.6h.7v.7h-.7zM198.2 455.3h.7v.7h-.7zM211.1 441.4h.7v.7h-.7zM208.2 456.3h.7v.7h-.7zM201.6 454.9h.7v.7h-.7zM212.6 462.0h.7v.7h-.7zM204.8 442.8h.7v.7h-.7zM213.5 445.5h.7v.7h-.7zM210.7 426.6h.7v.7h-.7zM220.1 432.7h.7v.7h-.7zM200.9 451.9h.7v.7h-.7zM211.1 441.2h.7v.7h-.7zM198.2 452.2h.7v.7h-.7zM209.8 440.3h.7v.7h-.7zM209.4 443.1h.7v.7h-.7zM203.9 453.5h.7v.7h-.7zM208.7 448.1h.7v.7h-.7zM202.8 442.0h.7v.7h-.7zM207.4 442.9h.7v.7h-.7zM210.4 448.0h.7v.7h-.7zM207.7 446.4h.7v.7h-.7zM210.7 456.0h.7v.7h-.7zM203.6 455.5h.7v.7h-.7zM213.0 454.2h.7v.7h-.7zM206.1 449.5h.7v.7h-.7zM218.8 436.9h.7v.7h-.7zM212.7 445.7h.7v.7h-.7zM216.6 448.9h.7v.7h-.7zM212.8 442.7h.7v.7h-.7zM206.4 460.9h.7v.7h-.7zM202.7 443.5h.7v.7h-.7zM207.5 437.6h.7v.7h-.7zM211.7 437.8h.7v.7h-.7zM208.9 445.8h.7v.7h-.7zM198.2 449.0h.7v.7h-.7zM201.4 448.0h.7v.7h-.7zM197.6 443.4h.7v.7h-.7zM212.6 450.0h.7v.7h-.7zM214.1 461.0h.7v.7h-.7zM212.2 446.2h.7v.7h-.7zM208.2 452.9h.7v.7h-.7zM202.8 439.3h.7v.7h-.7zM208.7 462.0h.7v.7h-.7zM203.4 449.8h.7v.7h-.7zM205.4 453.6h.7v.7h-.7zM210.4 447.5h.7v.7h-.7zM213.0 445.7h.7v.7h-.7zM200.8 464.9h.7v.7h-.7zM208.2 450.3h.7v.7h-.7zM212.5 441.1h.7v.7h-.7zM206.5 441.6h.7v.7h-.7zM211.5 451.0h.7v.7h-.7zM209.7 437.1h.7v.7h-.7zM204.8 435.9h.7v.7h-.7zM202.2 441.7h.7v.7h-.7zM210.1 451.8h.7v.7h-.7zM200.1 452.9h.7v.7h-.7zM210.4 460.7h.7v.7h-.7zM212.8 435.5h.7v.7h-.7zM211.0 449.6h.7v.7h-.7zM210.3 441.7h.7v.7h-.7zM215.6 448.5h.7v.7h-.7zM205.9 432.9h.7v.7h-.7zM207.5 436.5h.7v.7h-.7zM201.7 461.1h.7v.7h-.7zM208.4 455.7h.7v.7h-.7zM214.0 453.7h.7v.7h-.7zM206.7 438.1h.7v.7h-.7zM207.9 448.7h.7v.7h-.7zM208.0 445.2h.7v.7h-.7zM209.4 435.9h.7v.7h-.7zM213.8 438.0h.7v.7h-.7zM209.3 440.5h.7v.7h-.7zM215.2 443.1h.7v.7h-.7zM204.3 444.7h.7v.7h-.7zM212.9 437.6h.7v.7h-.7zM202.5 443.3h.7v.7h-.7zM212.3 423.6h.7v.7h-.7zM213.1 466.3h.7v.7h-.7zM207.9 455.4h.7v.7h-.7zM208.1 432.4h.7v.7h-.7zM206.7 452.8h.7v.7h-.7zM203.4 445.3h.7v.7h-.7zM205.5 450.9h.7v.7h-.7zM220.6 448.4h.7v.7h-.7zM202.5 461.4h.7v.7h-.7zM207.3 444.2h.7v.7h-.7zM211.1 454.0h.7v.7h-.7zM209.8 450.6h.7v.7h-.7zM209.6 437.7h.7v.7h-.7zM212.5 454.9h.7v.7h-.7zM205.0 433.2h.7v.7h-.7zM205.8 449.2h.7v.7h-.7zM215.5 449.5h.7v.7h-.7zM193.1 442.6h.7v.7h-.7zM209.0 449.7h.7v.7h-.7zM201.4 444.7h.7v.7h-.7zM209.4 453.4h.7v.7h-.7zM212.6 461.3h.7v.7h-.7zM205.4 444.1h.7v.7h-.7zM206.6 451.7h.7v.7h-.7zM218.3 449.2h.7v.7h-.7zM209.5 440.1h.7v.7h-.7zM202.6 462.4h.7v.7h-.7zM208.3 459.4h.7v.7h-.7zM212.7 443.6h.7v.7h-.7zM209.9 440.2h.7v.7h-.7zM211.8 446.4h.7v.7h-.7zM212.5 458.0h.7v.7h-.7zM205.9 454.3h.7v.7h-.7zM210.8 443.3h.7v.7h-.7zM210.1 457.9h.7v.7h-.7zM209.5 455.7h.7v.7h-.7zM210.4 458.1h.7v.7h-.7zM208.1 444.9h.7v.7h-.7zM211.8 428.7h.7v.7h-.7zM206.3 460.4h.7v.7h-.7zM205.2 463.0h.7v.7h-.7zM216.5 443.5h.7v.7h-.7zM205.1 450.9h.7v.7h-.7zM213.1 462.2h.7v.7h-.7zM216.1 441.8h.7v.7h-.7zM212.9 443.4h.7v.7h-.7zM214.0 451.5h.7v.7h-.7zM215.7 446.9h.7v.7h-.7zM212.8 437.1h.7v.7h-.7zM204.1 451.9h.7v.7h-.7zM209.3 454.9h.7v.7h-.7zM219.9 442.5h.7v.7h-.7zM203.0 438.9h.7v.7h-.7zM205.8 457.3h.7v.7h-.7zM210.6 445.2h.7v.7h-.7zM212.0 446.2h.7v.7h-.7zM210.0 447.5h.7v.7h-.7zM202.2 454.4h.7v.7h-.7zM209.7 466.1h.7v.7h-.7zM209.3 442.6h.7v.7h-.7zM209.7 441.6h.7v.7h-.7zM208.6 444.5h.7v.7h-.7zM210.4 439.9h.7v.7h-.7zM208.3 444.2h.7v.7h-.7zM204.1 447.0h.7v.7h-.7zM212.2 453.7h.7v.7h-.7zM210.3 446.6h.7v.7h-.7zM213.4 445.2h.7v.7h-.7zM212.1 433.2h.7v.7h-.7zM203.0 441.5h.7v.7h-.7zM214.3 445.4h.7v.7h-.7zM211.1 438.4h.7v.7h-.7zM216.9 462.2h.7v.7h-.7zM208.9 442.0h.7v.7h-.7zM210.1 445.5h.7v.7h-.7zM206.6 426.9h.7v.7h-.7zM209.9 429.1h.7v.7h-.7zM206.4 434.8h.7v.7h-.7zM218.6 436.8h.7v.7h-.7zM206.9 450.6h.7v.7h-.7zM207.3 449.6h.7v.7h-.7zM213.4 442.2h.7v.7h-.7zM211.4 446.4h.7v.7h-.7zM202.4 449.9h.7v.7h-.7zM203.6 456.2h.7v.7h-.7zM208.9 449.0h.7v.7h-.7zM213.7 440.6h.7v.7h-.7zM205.0 459.5h.7v.7h-.7zM212.4 451.1h.7v.7h-.7zM199.1 447.7h.7v.7h-.7zM204.2 442.4h.7v.7h-.7zM200.9 433.8h.7v.7h-.7zM206.7 450.6h.7v.7h-.7zM206.4 446.0h.7v.7h-.7zM209.3 458.7h.7v.7h-.7zM206.0 448.5h.7v.7h-.7zM222.4 447.2h.7v.7h-.7zM212.9 437.5h.7v.7h-.7zM203.7 443.7h.7v.7h-.7zM224.0 442.2h.7v.7h-.7zM215.8 443.2h.7v.7h-.7zM202.7 431.7h.7v.7h-.7zM209.7 456.3h.7v.7h-.7zM205.0 444.1h.7v.7h-.7zM203.4 441.3h.7v.7h-.7zM213.9 442.9h.7v.7h-.7zM203.7 452.5h.7v.7h-.7zM210.2 447.0h.7v.7h-.7zM219.1 449.9h.7v.7h-.7zM214.7 437.0h.7v.7h-.7zM208.6 458.0h.7v.7h-.7zM212.6 455.1h.7v.7h-.7zM201.6 445.1h.7v.7h-.7zM217.3 459.6h.7v.7h-.7zM193.6 431.6h.7v.7h-.7zM215.7 454.1h.7v.7h-.7zM215.6 424.0h.7v.7h-.7zM209.4 454.1h.7v.7h-.7zM215.1 439.3h.7v.7h-.7zM214.2 454.0h.7v.7h-.7zM206.3 460.7h.7v.7h-.7zM215.3 454.9h.7v.7h-.7zM206.6 449.7h.7v.7h-.7zM208.8 461.3h.7v.7h-.7zM221.3 440.2h.7v.7h-.7zM219.0 451.1h.7v.7h-.7zM205.5 441.3h.7v.7h-.7zM216.7 450.1h.7v.7h-.7zM205.6 445.8h.7v.7h-.7zM207.0 446.3h.7v.7h-.7zM218.1 441.6h.7v.7h-.7zM207.4 421.9h.7v.7h-.7zM211.5 455.3h.7v.7h-.7zM219.4 442.2h.7v.7h-.7zM207.5 444.0h.7v.7h-.7zM202.7 447.3h.7v.7h-.7zM205.0 445.5h.7v.7h-.7zM209.7 453.7h.7v.7h-.7zM209.3 467.5h.7v.7h-.7zM210.7 451.7h.7v.7h-.7zM211.6 446.5h.7v.7h-.7zM213.9 448.6h.7v.7h-.7zM202.1 442.9h.7v.7h-.7zM216.5 433.9h.7v.7h-.7zM218.0 448.3h.7v.7h-.7zM210.3 457.8h.7v.7h-.7zM210.1 443.4h.7v.7h-.7zM197.8 442.1h.7v.7h-.7zM203.0 453.2h.7v.7h-.7zM209.5 439.4h.7v.7h-.7zM215.0 454.7h.7v.7h-.7zM220.3 449.6h.7v.7h-.7zM202.7 448.2h.7v.7h-.7zM212.9 454.7h.7v.7h-.7zM202.2 451.3h.7v.7h-.7zM212.4 450.6h.7v.7h-.7zM200.7 443.5h.7v.7h-.7zM208.4 445.4h.7v.7h-.7zM213.7 444.1h.7v.7h-.7zM199.6 429.5h.7v.7h-.7zM211.4 440.5h.7v.7h-.7zM208.8 456.5h.7v.7h-.7zM206.3 447.0h.7v.7h-.7zM201.6 437.2h.7v.7h-.7zM212.0 457.0h.7v.7h-.7zM205.6 445.7h.7v.7h-.7zM210.7 443.6h.7v.7h-.7zM209.4 443.9h.7v.7h-.7zM212.1 442.9h.7v.7h-.7zM206.6 435.8h.7v.7h-.7zM205.0 434.8h.7v.7h-.7zM208.3 455.5h.7v.7h-.7zM202.4 440.1h.7v.7h-.7zM205.1 451.1h.7v.7h-.7zM207.4 444.5h.7v.7h-.7zM204.1 445.0h.7v.7h-.7zM207.2 440.5h.7v.7h-.7zM216.2 451.3h.7v.7h-.7zM208.2 449.8h.7v.7h-.7zM220.8 452.3h.7v.7h-.7zM206.3 446.9h.7v.7h-.7zM214.9 451.0h.7v.7h-.7zM207.6 448.0h.7v.7h-.7zM203.3 444.5h.7v.7h-.7zM206.9 445.1h.7v.7h-.7zM216.0 447.4h.7v.7h-.7zM215.0 447.1h.7v.7h-.7zM201.3 457.3h.7v.7h-.7zM206.2 446.2h.7v.7h-.7zM214.7 458.7h.7v.7h-.7zM209.8 457.7h.7v.7h-.7zM206.5 452.5h.7v.7h-.7zM204.3 455.3h.7v.7h-.7zM206.1 452.6h.7v.7h-.7zM202.8 459.1h.7v.7h-.7zM217.4 445.0h.7v.7h-.7zM209.3 439.2h.7v.7h-.7zM208.0 435.2h.7v.7h-.7zM212.7 446.5h.7v.7h-.7zM215.0 447.1h.7v.7h-.7zM207.8 440.3h.7v.7h-.7zM212.3 446.1h.7v.7h-.7zM202.9 434.8h.7v.7h-.7zM213.9 446.3h.7v.7h-.7zM208.7 442.6h.7v.7h-.7zM206.3 447.0h.7v.7h-.7zM210.0 437.2h.7v.7h-.7zM221.7 454.7h.7v.7h-.7zM199.2 447.7h.7v.7h-.7zM214.8 441.7h.7v.7h-.7zM202.0 451.5h.7v.7h-.7zM205.8 447.1h.7v.7h-.7zM217.5 447.1h.7v.7h-.7zM215.9 440.6h.7v.7h-.7zM199.6 443.9h.7v.7h-.7zM207.0 452.7h.7v.7h-.7zM211.3 430.8h.7v.7h-.7zM203.3 443.5h.7v.7h-.7zM205.3 441.8h.7v.7h-.7zM207.3 448.4h.7v.7h-.7zM201.3 439.4h.7v.7h-.7zM204.3 456.9h.7v.7h-.7zM208.1 434.9h.7v.7h-.7zM211.5 454.7h.7v.7h-.7zM200.7 437.1h.7v.7h-.7zM211.3 447.5h.7v.7h-.7zM212.1 460.3h.7v.7h-.7zM212.4 455.3h.7v.7h-.7zM206.5 458.6h.7v.7h-.7zM205.4 449.8h.7v.7h-.7zM198.7 443.7h.7v.7h-.7zM213.0 439.5h.7v.7h-.7zM206.6 429.3h.7v.7h-.7zM207.2 436.3h.7v.7h-.7zM209.3 443.1h.7v.7h-.7zM205.5 444.3h.7v.7h-.7zM206.9 447.0h.7v.7h-.7zM207.6 456.4h.7v.7h-.7zM214.4 426.4h.7v.7h-.7zM215.9 445.3h.7v.7h-.7zM210.8 439.6h.7v.7h-.7zM212.1 451.7h.7v.7h-.7zM206.1 437.8h.7v.7h-.7zM211.7 450.6h.7v.7h-.7zM204.4 429.5h.7v.7h-.7zM203.3 450.3h.7v.7h-.7zM215.5 439.0h.7v.7h-.7zM206.1 438.1h.7v.7h-.7zM210.8 440.5h.7v.7h-.7zM217.6 451.8h.7v.7h-.7zM208.0 443.7h.7v.7h-.7zM214.2 443.7h.7v.7h-.7zM207.0 447.9h.7v.7h-.7zM214.4 458.6h.7v.7h-.7zM207.3 437.0h.7v.7h-.7zM204.4 445.6h.7v.7h-.7zM212.3 425.5h.7v.7h-.7zM212.3 450.3h.7v.7h-.7zM210.1 434.9h.7v.7h-.7zM209.5 442.8h.7v.7h-.7zM204.3 451.9h.7v.7h-.7zM215.4 448.5h.7v.7h-.7zM212.0 455.1h.7v.7h-.7zM209.2 443.5h.7v.7h-.7zM216.7 441.9h.7v.7h-.7zM207.5 449.7h.7v.7h-.7zM207.0 439.2h.7v.7h-.7zM214.6 446.8h.7v.7h-.7zM205.6 442.2h.7v.7h-.7zM212.1 453.6h.7v.7h-.7zM210.1 456.3h.7v.7h-.7zM209.0 459.9h.7v.7h-.7zM213.7 437.6h.7v.7h-.7zM208.6 449.6h.7v.7h-.7zM209.0 438.9h.7v.7h-.7zM211.5 446.4h.7v.7h-.7zM201.6 436.5h.7v.7h-.7zM207.2 454.4h.7v.7h-.7zM208.9 448.4h.7v.7h-.7zM213.9 445.1h.7v.7h-.7zM209.2 446.3h.7v.7h-.7zM213.7 441.6h.7v.7h-.7zM211.1 441.0h.7v.7h-.7zM209.6 455.8h.7v.7h-.7zM205.2 450.8h.7v.7h-.7zM209.5 448.7h.7v.7h-.7zM211.8 447.6h.7v.7h-.7zM211.7 461.6h.7v.7h-.7zM205.7 438.2h.7v.7h-.7zM212.9 450.1h.7v.7h-.7zM219.1 441.9h.7v.7h-.7zM212.8 442.5h.7v.7h-.7zM206.8 442.1h.7v.7h-.7zM205.1 439.3h.7v.7h-.7zM207.6 445.6h.7v.7h-.7zM209.5 453.5h.7v.7h-.7zM204.7 446.2h.7v.7h-.7zM204.9 453.6h.7v.7h-.7zM204.7 444.1h.7v.7h-.7zM205.3 455.6h.7v.7h-.7zM203.2 437.7h.7v.7h-.7zM207.3 444.1h.7v.7h-.7zM204.6 456.0h.7v.7h-.7zM206.5 430.1h.7v.7h-.7zM208.2 436.3h.7v.7h-.7zM206.0 442.9h.7v.7h-.7zM204.7 443.5h.7v.7h-.7zM207.2 451.9h.7v.7h-.7zM221.6 441.3h.7v.7h-.7zM206.9 456.0h.7v.7h-.7zM217.5 453.2h.7v.7h-.7zM207.9 462.5h.7v.7h-.7zM209.6 456.6h.7v.7h-.7zM206.5 437.0h.7v.7h-.7zM215.8 439.8h.7v.7h-.7zM204.1 448.0h.7v.7h-.7zM204.6 452.3h.7v.7h-.7zM209.6 445.3h.7v.7h-.7zM206.4 458.7h.7v.7h-.7zM215.9 456.1h.7v.7h-.7zM202.8 460.3h.7v.7h-.7zM209.7 460.7h.7v.7h-.7zM211.8 441.5h.7v.7h-.7zM201.1 441.5h.7v.7h-.7zM215.1 443.3h.7v.7h-.7zM217.3 436.6h.7v.7h-.7zM212.3 446.0h.7v.7h-.7zM202.4 450.0h.7v.7h-.7zM207.2 444.6h.7v.7h-.7zM199.0 438.8h.7v.7h-.7zM205.9 445.7h.7v.7h-.7zM205.1 463.4h.7v.7h-.7zM207.2 448.6h.7v.7h-.7zM207.6 457.2h.7v.7h-.7zM212.0 455.0h.7v.7h-.7zM201.7 448.2h.7v.7h-.7zM208.4 452.1h.7v.7h-.7zM205.9 448.1h.7v.7h-.7zM204.3 444.1h.7v.7h-.7zM210.9 442.9h.7v.7h-.7zM205.0 445.8h.7v.7h-.7zM210.7 450.3h.7v.7h-.7zM203.4 443.5h.7v.7h-.7zM203.4 438.8h.7v.7h-.7zM220.8 456.7h.7v.7h-.7zM212.6 444.6h.7v.7h-.7zM213.3 459.4h.7v.7h-.7zM215.2 452.8h.7v.7h-.7zM204.3 466.3h.7v.7h-.7zM212.9 453.9h.7v.7h-.7zM210.8 450.0h.7v.7h-.7zM207.2 433.2h.7v.7h-.7zM217.8 467.9h.7v.7h-.7zM211.5 452.4h.7v.7h-.7zM209.0 453.1h.7v.7h-.7zM208.4 446.3h.7v.7h-.7zM212.2 433.2h.7v.7h-.7zM216.0 443.8h.7v.7h-.7zM211.8 451.9h.7v.7h-.7zM216.9 460.6h.7v.7h-.7zM202.7 439.2h.7v.7h-.7zM209.9 433.7h.7v.7h-.7zM212.1 446.0h.7v.7h-.7zM205.2 453.8h.7v.7h-.7zM204.5 441.0h.7v.7h-.7zM209.0 454.0h.7v.7h-.7zM208.1 444.2h.7v.7h-.7zM210.0 444.0h.7v.7h-.7zM199.9 454.4h.7v.7h-.7zM211.4 455.9h.7v.7h-.7zM209.6 450.8h.7v.7h-.7zM200.8 435.9h.7v.7h-.7zM199.6 456.5h.7v.7h-.7zM205.6 457.7h.7v.7h-.7zM211.1 443.3h.7v.7h-.7zM208.5 440.5h.7v.7h-.7zM206.8 449.7h.7v.7h-.7zM212.3 443.0h.7v.7h-.7zM201.2 456.2h.7v.7h-.7zM203.5 452.8h.7v.7h-.7zM201.5 439.6h.7v.7h-.7zM199.1 452.3h.7v.7h-.7zM218.1 448.0h.7v.7h-.7zM198.8 445.1h.7v.7h-.7zM210.2 449.9h.7v.7h-.7zM209.7 438.8h.7v.7h-.7zM207.4 462.3h.7v.7h-.7zM206.2 443.8h.7v.7h-.7zM203.0 441.9h.7v.7h-.7zM214.8 449.9h.7v.7h-.7zM206.4 444.0h.7v.7h-.7zM212.9 442.3h.7v.7h-.7zM204.9 444.4h.7v.7h-.7zM196.3 456.2h.7v.7h-.7zM204.9 453.1h.7v.7h-.7zM208.8 455.2h.7v.7h-.7zM206.2 466.9h.7v.7h-.7zM211.6 445.2h.7v.7h-.7zM210.4 430.2h.7v.7h-.7zM203.2 430.4h.7v.7h-.7zM207.5 464.5h.7v.7h-.7zM210.5 435.2h.7v.7h-.7zM201.2 450.0h.7v.7h-.7zM211.9 445.3h.7v.7h-.7zM216.0 448.9h.7v.7h-.7zM218.8 453.8h.7v.7h-.7zM219.0 425.6h.7v.7h-.7zM212.6 453.3h.7v.7h-.7zM216.2 451.8h.7v.7h-.7zM210.8 449.6h.7v.7h-.7zM209.8 451.6h.7v.7h-.7zM216.8 434.0h.7v.7h-.7zM206.6 435.2h.7v.7h-.7zM205.9 449.2h.7v.7h-.7zM209.7 450.1h.7v.7h-.7zM212.4 450.5h.7v.7h-.7zM207.2 446.0h.7v.7h-.7zM203.6 443.4h.7v.7h-.7zM208.3 450.0h.7v.7h-.7zM201.0 455.9h.7v.7h-.7zM208.4 434.4h.7v.7h-.7zM208.0 451.6h.7v.7h-.7zM209.3 443.6h.7v.7h-.7zM204.4 448.8h.7v.7h-.7zM209.6 449.4h.7v.7h-.7zM206.9 456.9h.7v.7h-.7zM199.8 446.9h.7v.7h-.7zM200.7 431.3h.7v.7h-.7zM209.7 453.7h.7v.7h-.7zM207.3 450.6h.7v.7h-.7zM207.9 456.3h.7v.7h-.7zM205.8 451.3h.7v.7h-.7zM210.4 434.3h.7v.7h-.7zM214.5 442.3h.7v.7h-.7zM203.1 441.7h.7v.7h-.7zM213.0 443.7h.7v.7h-.7zM212.6 439.4h.7v.7h-.7zM210.0 433.1h.7v.7h-.7zM207.3 457.4h.7v.7h-.7zM206.1 448.4h.7v.7h-.7zM199.8 460.3h.7v.7h-.7zM207.6 450.6h.7v.7h-.7zM206.8 438.7h.7v.7h-.7zM207.0 444.3h.7v.7h-.7zM203.6 445.7h.7v.7h-.7zM203.9 443.0h.7v.7h-.7zM194.8 439.1h.7v.7h-.7zM210.2 448.7h.7v.7h-.7zM207.5 450.3h.7v.7h-.7zM217.1 449.8h.7v.7h-.7zM209.3 446.3h.7v.7h-.7zM210.3 452.1h.7v.7h-.7zM197.8 463.8h.7v.7h-.7zM213.4 450.8h.7v.7h-.7zM205.7 446.1h.7v.7h-.7zM204.9 457.7h.7v.7h-.7zM205.3 434.0h.7v.7h-.7zM207.6 440.1h.7v.7h-.7zM209.6 448.1h.7v.7h-.7zM204.5 434.7h.7v.7h-.7zM207.0 436.6h.7v.7h-.7zM207.7 448.4h.7v.7h-.7zM206.7 448.2h.7v.7h-.7zM206.6 460.1h.7v.7h-.7zM199.9 438.3h.7v.7h-.7zM214.1 437.2h.7v.7h-.7zM211.6 445.2h.7v.7h-.7zM208.6 435.7h.7v.7h-.7zM206.6 445.7h.7v.7h-.7zM198.2 447.1h.7v.7h-.7zM206.4 429.0h.7v.7h-.7zM209.3 444.1h.7v.7h-.7zM201.2 456.0h.7v.7h-.7zM207.9 437.9h.7v.7h-.7zM204.2 449.2h.7v.7h-.7zM205.8 452.5h.7v.7h-.7zM202.4 448.9h.7v.7h-.7zM210.7 451.0h.7v.7h-.7zM204.6 439.3h.7v.7h-.7zM203.0 447.6h.7v.7h-.7zM198.4 469.0h.7v.7h-.7zM207.2 456.4h.7v.7h-.7zM206.9 457.3h.7v.7h-.7zM207.2 454.9h.7v.7h-.7zM213.3 449.2h.7v.7h-.7zM202.4 450.2h.7v.7h-.7zM209.2 444.4h.7v.7h-.7zM207.4 452.4h.7v.7h-.7zM198.4 451.2h.7v.7h-.7zM216.3 441.6h.7v.7h-.7zM214.4 443.2h.7v.7h-.7zM207.0 444.1h.7v.7h-.7zM208.3 440.8h.7v.7h-.7zM205.6 445.1h.7v.7h-.7zM204.0 446.4h.7v.7h-.7zM213.4 440.3h.7v.7h-.7zM209.4 440.9h.7v.7h-.7zM202.9 446.7h.7v.7h-.7zM207.1 454.7h.7v.7h-.7zM211.8 447.6h.7v.7h-.7zM205.3 457.5h.7v.7h-.7zM202.1 440.8h.7v.7h-.7zM211.9 450.0h.7v.7h-.7zM211.4 445.1h.7v.7h-.7zM211.9 456.0h.7v.7h-.7zM199.2 451.0h.7v.7h-.7zM213.1 438.7h.7v.7h-.7zM203.8 449.7h.7v.7h-.7zM211.4 446.7h.7v.7h-.7zM200.6 448.5h.7v.7h-.7zM207.9 443.8h.7v.7h-.7zM213.4 430.0h.7v.7h-.7zM208.9 442.1h.7v.7h-.7zM211.2 444.3h.7v.7h-.7zM216.7 448.2h.7v.7h-.7zM205.8 434.0h.7v.7h-.7zM207.1 446.4h.7v.7h-.7zM216.0 449.7h.7v.7h-.7zM209.3 439.6h.7v.7h-.7zM209.4 439.2h.7v.7h-.7zM201.7 450.3h.7v.7h-.7zM206.3 436.3h.7v.7h-.7zM213.9 456.4h.7v.7h-.7zM210.6 433.9h.7v.7h-.7zM204.4 439.2h.7v.7h-.7zM212.8 445.9h.7v.7h-.7zM204.4 435.9h.7v.7h-.7zM204.9 448.1h.7v.7h-.7zM207.3 450.7h.7v.7h-.7zM211.0 437.9h.7v.7h-.7zM212.5 447.0h.7v.7h-.7zM216.2 445.7h.7v.7h-.7zM206.7 445.8h.7v.7h-.7zM214.4 450.8h.7v.7h-.7zM214.1 454.9h.7v.7h-.7zM210.0 465.0h.7v.7h-.7zM208.0 445.0h.7v.7h-.7zM213.9 437.7h.7v.7h-.7zM210.0 454.6h.7v.7h-.7zM204.2 431.9h.7v.7h-.7zM201.7 455.6h.7v.7h-.7zM220.5 439.8h.7v.7h-.7zM202.2 436.9h.7v.7h-.7zM216.0 452.7h.7v.7h-.7zM211.8 441.1h.7v.7h-.7zM211.7 441.0h.7v.7h-.7zM211.3 440.8h.7v.7h-.7zM202.4 443.2h.7v.7h-.7zM210.5 449.3h.7v.7h-.7zM205.9 453.9h.7v.7h-.7zM200.8 431.4h.7v.7h-.7zM211.4 445.5h.7v.7h-.7zM208.4 443.1h.7v.7h-.7zM211.1 448.5h.7v.7h-.7zM215.2 439.3h.7v.7h-.7zM202.5 445.7h.7v.7h-.7zM207.3 444.3h.7v.7h-.7zM198.2 449.6h.7v.7h-.7zM216.7 449.5h.7v.7h-.7zM214.5 451.4h.7v.7h-.7zM209.9 449.8h.7v.7h-.7zM213.9 450.3h.7v.7h-.7zM211.8 446.2h.7v.7h-.7zM205.0 449.5h.7v.7h-.7zM206.7 451.2h.7v.7h-.7zM197.9 460.5h.7v.7h-.7zM215.0 458.6h.7v.7h-.7zM210.5 438.5h.7v.7h-.7zM206.7 437.5h.7v.7h-.7zM210.6 446.8h.7v.7h-.7zM209.5 432.2h.7v.7h-.7zM201.4 429.5h.7v.7h-.7zM215.5 450.6h.7v.7h-.7zM209.0 443.9h.7v.7h-.7zM200.0 443.8h.7v.7h-.7zM206.7 440.1h.7v.7h-.7zM213.6 430.8h.7v.7h-.7zM209.5 453.0h.7v.7h-.7zM212.6 434.9h.7v.7h-.7zM195.1 457.5h.7v.7h-.7zM215.6 445.4h.7v.7h-.7zM207.4 449.4h.7v.7h-.7zM214.0 447.6h.7v.7h-.7zM207.1 448.4h.7v.7h-.7zM210.6 462.8h.7v.7h-.7zM208.9 439.5h.7v.7h-.7zM218.1 458.5h.7v.7h-.7zM216.0 439.3h.7v.7h-.7zM205.9 435.9h.7v.7h-.7zM208.2 457.1h.7v.7h-.7zM213.4 447.1h.7v.7h-.7zM210.0 450.6h.7v.7h-.7zM208.1 438.5h.7v.7h-.7zM205.4 459.7h.7v.7h-.7zM204.2 437.8h.7v.7h-.7zM211.6 444.1h.7v.7h-.7zM207.2 448.0h.7v.7h-.7zM208.2 433.7h.7v.7h-.7zM213.5 448.4h.7v.7h-.7zM217.3 453.4h.7v.7h-.7zM206.0 443.3h.7v.7h-.7zM205.4 429.4h.7v.7h-.7zM212.5 441.4h.7v.7h-.7zM213.7 448.1h.7v.7h-.7zM208.3 459.5h.7v.7h-.7zM204.3 460.5h.7v.7h-.7zM207.1 463.6h.7v.7h-.7zM214.6 442.7h.7v.7h-.7zM217.6 450.1h.7v.7h-.7zM210.7 443.6h.7v.7h-.7zM208.7 443.5h.7v.7h-.7zM207.3 453.0h.7v.7h-.7zM213.0 456.5h.7v.7h-.7zM214.9 446.2h.7v.7h-.7zM212.7 444.8h.7v.7h-.7zM211.8 451.7h.7v.7h-.7zM210.9 440.5h.7v.7h-.7zM203.2 460.2h.7v.7h-.7zM205.1 441.9h.7v.7h-.7zM210.9 443.8h.7v.7h-.7zM211.1 457.6h.7v.7h-.7zM201.4 447.5h.7v.7h-.7zM212.0 435.8h.7v.7h-.7zM212.6 458.4h.7v.7h-.7zM209.2 450.6h.7v.7h-.7zM207.6 454.5h.7v.7h-.7zM206.5 446.9h.7v.7h-.7zM205.7 441.2h.7v.7h-.7zM214.7 446.4h.7v.7h-.7zM213.4 434.3h.7v.7h-.7zM203.2 439.7h.7v.7h-.7zM218.4 456.0h.7v.7h-.7zM220.0 443.3h.7v.7h-.7zM212.0 449.7h.7v.7h-.7zM207.8 451.5h.7v.7h-.7zM208.9 450.6h.7v.7h-.7zM200.3 438.6h.7v.7h-.7zM204.1 460.1h.7v.7h-.7zM213.4 439.2h.7v.7h-.7zM211.5 442.4h.7v.7h-.7zM203.5 439.6h.7v.7h-.7zM223.7 447.6h.7v.7h-.7zM208.6 456.6h.7v.7h-.7zM210.4 438.2h.7v.7h-.7zM219.6 464.2h.7v.7h-.7zM213.0 440.2h.7v.7h-.7zM208.8 447.8h.7v.7h-.7zM203.6 467.6h.7v.7h-.7zM209.1 442.5h.7v.7h-.7zM207.7 444.3h.7v.7h-.7zM196.7 448.0h.7v.7h-.7zM214.8 448.6h.7v.7h-.7zM211.2 446.3h.7v.7h-.7zM200.5 451.5h.7v.7h-.7zM212.4 438.7h.7v.7h-.7zM203.5 442.3h.7v.7h-.7zM202.6 427.4h.7v.7h-.7zM207.1 442.2h.7v.7h-.7zM209.6 456.2h.7v.7h-.7zM204.6 434.6h.7v.7h-.7zM208.5 452.1h.7v.7h-.7zM216.1 454.2h.7v.7h-.7zM209.7 447.2h.7v.7h-.7zM200.6 452.3h.7v.7h-.7zM212.9 446.2h.7v.7h-.7zM207.6 450.1h.7v.7h-.7zM211.2 450.9h.7v.7h-.7zM211.1 434.9h.7v.7h-.7zM206.3 433.9h.7v.7h-.7zM213.0 467.1h.7v.7h-.7zM205.2 445.8h.7v.7h-.7zM210.3 441.3h.7v.7h-.7zM217.4 448.5h.7v.7h-.7zM219.6 464.7h.7v.7h-.7zM211.4 440.9h.7v.7h-.7zM215.5 444.8h.7v.7h-.7zM205.1 445.2h.7v.7h-.7zM214.6 440.6h.7v.7h-.7zM207.9 453.7h.7v.7h-.7zM207.7 453.8h.7v.7h-.7zM215.1 443.0h.7v.7h-.7zM203.2 437.6h.7v.7h-.7zM215.3 451.2h.7v.7h-.7zM209.4 443.8h.7v.7h-.7zM214.3 443.1h.7v.7h-.7zM222.4 449.3h.7v.7h-.7zM201.1 455.1h.7v.7h-.7zM210.3 446.7h.7v.7h-.7zM208.1 456.2h.7v.7h-.7zM206.6 459.0h.7v.7h-.7zM205.3 453.9h.7v.7h-.7zM201.7 454.4h.7v.7h-.7zM204.2 444.9h.7v.7h-.7zM212.7 440.8h.7v.7h-.7zM211.6 446.8h.7v.7h-.7zM215.4 453.8h.7v.7h-.7zM210.2 445.3h.7v.7h-.7zM204.6 457.8h.7v.7h-.7zM207.8 437.0h.7v.7h-.7zM205.1 432.1h.7v.7h-.7zM204.7 443.3h.7v.7h-.7zM210.2 453.9h.7v.7h-.7zM213.1 432.6h.7v.7h-.7zM206.6 451.5h.7v.7h-.7zM210.7 446.6h.7v.7h-.7zM205.1 452.3h.7v.7h-.7zM208.5 444.8h.7v.7h-.7zM208.4 445.0h.7v.7h-.7zM210.5 455.3h.7v.7h-.7zM209.3 441.8h.7v.7h-.7zM208.4 445.5h.7v.7h-.7zM211.4 452.7h.7v.7h-.7zM217.0 453.7h.7v.7h-.7zM200.6 440.2h.7v.7h-.7zM202.8 449.1h.7v.7h-.7zM220.5 450.3h.7v.7h-.7zM206.2 457.5h.7v.7h-.7zM212.0 440.4h.7v.7h-.7zM204.2 458.2h.7v.7h-.7zM212.7 430.5h.7v.7h-.7zM205.3 451.1h.7v.7h-.7zM202.3 446.7h.7v.7h-.7zM204.6 433.7h.7v.7h-.7zM206.4 442.6h.7v.7h-.7zM210.3 433.3h.7v.7h-.7zM210.2 443.9h.7v.7h-.7zM201.1 456.1h.7v.7h-.7zM206.7 450.0h.7v.7h-.7zM216.6 449.9h.7v.7h-.7zM213.5 448.4h.7v.7h-.7zM206.0 448.2h.7v.7h-.7zM201.1 450.5h.7v.7h-.7zM213.0 450.1h.7v.7h-.7zM205.6 437.3h.7v.7h-.7zM205.2 444.5h.7v.7h-.7zM201.9 461.7h.7v.7h-.7zM204.9 447.7h.7v.7h-.7zM206.6 447.7h.7v.7h-.7zM198.3 438.7h.7v.7h-.7zM208.7 446.4h.7v.7h-.7zM210.8 442.6h.7v.7h-.7zM212.9 448.4h.7v.7h-.7zM208.6 446.9h.7v.7h-.7zM214.1 446.5h.7v.7h-.7zM216.6 447.7h.7v.7h-.7zM210.1 446.8h.7v.7h-.7zM210.3 450.4h.7v.7h-.7zM205.8 452.9h.7v.7h-.7zM221.6 450.9h.7v.7h-.7zM209.4 440.5h.7v.7h-.7zM205.1 440.4h.7v.7h-.7zM210.2 441.4h.7v.7h-.7zM216.8 443.4h.7v.7h-.7zM204.4 439.7h.7v.7h-.7zM208.4 445.6h.7v.7h-.7zM213.5 441.1h.7v.7h-.7zM210.5 454.1h.7v.7h-.7zM207.4 433.2h.7v.7h-.7zM210.0 454.7h.7v.7h-.7zM210.8 446.8h.7v.7h-.7zM199.3 459.3h.7v.7h-.7zM207.9 437.5h.7v.7h-.7zM207.2 447.9h.7v.7h-.7zM209.1 439.7h.7v.7h-.7zM220.7 456.4h.7v.7h-.7zM213.8 451.7h.7v.7h-.7zM206.9 437.6h.7v.7h-.7zM202.5 455.1h.7v.7h-.7zM209.2 459.4h.7v.7h-.7zM197.6 457.0h.7v.7h-.7zM211.1 442.5h.7v.7h-.7zM213.2 441.6h.7v.7h-.7zM207.5 450.8h.7v.7h-.7zM209.6 448.9h.7v.7h-.7zM209.9 454.8h.7v.7h-.7zM204.6 431.1h.7v.7h-.7zM204.3 427.9h.7v.7h-.7zM218.5 441.6h.7v.7h-.7zM208.6 449.3h.7v.7h-.7zM205.0 442.8h.7v.7h-.7zM210.1 446.8h.7v.7h-.7zM212.8 444.8h.7v.7h-.7zM205.5 435.4h.7v.7h-.7zM200.5 448.8h.7v.7h-.7zM210.4 443.5h.7v.7h-.7zM214.8 425.7h.7v.7h-.7zM212.0 437.4h.7v.7h-.7zM207.1 444.9h.7v.7h-.7zM205.1 444.5h.7v.7h-.7zM210.2 465.4h.7v.7h-.7zM208.8 452.3h.7v.7h-.7zM212.9 439.3h.7v.7h-.7zM211.2 443.5h.7v.7h-.7zM213.3 442.2h.7v.7h-.7zM214.1 439.7h.7v.7h-.7zM206.5 453.3h.7v.7h-.7zM213.9 453.5h.7v.7h-.7zM218.7 454.7h.7v.7h-.7zM208.8 454.0h.7v.7h-.7zM204.7 453.0h.7v.7h-.7zM210.8 445.5h.7v.7h-.7zM205.2 455.0h.7v.7h-.7zM198.9 445.4h.7v.7h-.7zM201.8 444.0h.7v.7h-.7zM206.6 440.3h.7v.7h-.7zM205.8 448.9h.7v.7h-.7zM218.6 460.3h.7v.7h-.7zM207.9 443.4h.7v.7h-.7zM211.9 440.2h.7v.7h-.7zM201.4 454.3h.7v.7h-.7zM206.8 458.6h.7v.7h-.7zM210.5 435.3h.7v.7h-.7zM210.3 450.5h.7v.7h-.7zM209.1 436.0h.7v.7h-.7zM201.3 461.3h.7v.7h-.7zM194.9 439.2h.7v.7h-.7zM212.8 460.8h.7v.7h-.7zM212.0 446.5h.7v.7h-.7zM210.7 455.6h.7v.7h-.7zM206.2 456.7h.7v.7h-.7zM210.1 448.3h.7v.7h-.7zM211.0 449.2h.7v.7h-.7zM204.2 458.9h.7v.7h-.7zM206.4 444.6h.7v.7h-.7zM197.1 433.9h.7v.7h-.7zM211.6 446.0h.7v.7h-.7zM208.3 443.8h.7v.7h-.7zM211.9 441.6h.7v.7h-.7zM201.5 434.0h.7v.7h-.7zM204.8 449.2h.7v.7h-.7zM216.0 451.2h.7v.7h-.7zM205.4 436.3h.7v.7h-.7zM212.9 450.6h.7v.7h-.7zM208.5 451.6h.7v.7h-.7zM211.8 450.7h.7v.7h-.7zM215.4 434.6h.7v.7h-.7zM205.6 442.5h.7v.7h-.7zM203.9 462.2h.7v.7h-.7zM210.6 450.0h.7v.7h-.7zM212.8 444.9h.7v.7h-.7zM213.0 445.1h.7v.7h-.7zM212.6 451.1h.7v.7h-.7zM215.3 434.8h.7v.7h-.7zM204.3 440.8h.7v.7h-.7zM204.7 449.7h.7v.7h-.7zM213.6 444.0h.7v.7h-.7zM214.2 453.7h.7v.7h-.7zM205.9 451.9h.7v.7h-.7zM216.0 443.0h.7v.7h-.7zM197.9 451.1h.7v.7h-.7zM210.3 451.6h.7v.7h-.7zM211.4 446.3h.7v.7h-.7zM208.8 440.4h.7v.7h-.7zM218.5 458.9h.7v.7h-.7zM208.2 440.1h.7v.7h-.7zM211.0 459.3h.7v.7h-.7zM209.1 440.3h.7v.7h-.7zM213.5 448.8h.7v.7h-.7zM204.9 445.1h.7v.7h-.7zM209.7 438.0h.7v.7h-.7zM210.3 456.8h.7v.7h-.7zM214.1 456.6h.7v.7h-.7zM212.6 446.1h.7v.7h-.7zM211.9 456.4h.7v.7h-.7zM209.1 450.9h.7v.7h-.7zM205.8 446.9h.7v.7h-.7zM206.5 438.4h.7v.7h-.7zM210.9 464.2h.7v.7h-.7zM200.5 443.0h.7v.7h-.7zM209.9 441.0h.7v.7h-.7zM209.7 453.5h.7v.7h-.7zM200.8 446.0h.7v.7h-.7zM211.8 451.3h.7v.7h-.7zM217.9 448.5h.7v.7h-.7zM215.1 442.4h.7v.7h-.7zM204.5 442.6h.7v.7h-.7zM206.8 453.9h.7v.7h-.7zM212.6 447.0h.7v.7h-.7zM204.5 448.0h.7v.7h-.7zM206.9 443.9h.7v.7h-.7zM200.4 459.2h.7v.7h-.7zM222.2 447.3h.7v.7h-.7zM219.9 443.6h.7v.7h-.7zM222.7 446.5h.7v.7h-.7zM199.8 446.8h.7v.7h-.7zM212.9 460.4h.7v.7h-.7zM213.8 460.9h.7v.7h-.7zM209.9 434.9h.7v.7h-.7zM209.7 440.0h.7v.7h-.7zM213.1 430.1h.7v.7h-.7zM204.1 437.7h.7v.7h-.7zM209.5 455.1h.7v.7h-.7zM207.5 436.6h.7v.7h-.7zM206.4 445.7h.7v.7h-.7zM214.7 447.9h.7v.7h-.7zM215.8 424.5h.7v.7h-.7zM217.8 464.4h.7v.7h-.7zM206.4 468.3h.7v.7h-.7zM201.3 454.4h.7v.7h-.7zM202.5 442.1h.7v.7h-.7zM211.5 448.7h.7v.7h-.7zM210.4 445.5h.7v.7h-.7zM199.8 434.1h.7v.7h-.7zM204.7 439.0h.7v.7h-.7zM206.6 433.4h.7v.7h-.7zM208.4 450.8h.7v.7h-.7zM206.5 457.5h.7v.7h-.7zM210.0 454.3h.7v.7h-.7zM204.5 448.6h.7v.7h-.7zM201.9 431.9h.7v.7h-.7zM200.3 443.7h.7v.7h-.7zM210.1 463.8h.7v.7h-.7zM210.5 444.0h.7v.7h-.7zM214.2 447.8h.7v.7h-.7zM209.0 448.0h.7v.7h-.7zM213.8 459.7h.7v.7h-.7zM201.9 447.7h.7v.7h-.7zM206.6 447.1h.7v.7h-.7zM220.7 445.1h.7v.7h-.7zM196.7 453.8h.7v.7h-.7zM206.6 439.6h.7v.7h-.7zM220.0 462.9h.7v.7h-.7zM214.1 449.0h.7v.7h-.7zM205.3 458.6h.7v.7h-.7zM207.7 448.8h.7v.7h-.7zM208.1 448.2h.7v.7h-.7zM199.1 437.2h.7v.7h-.7zM202.6 429.6h.7v.7h-.7zM203.1 443.0h.7v.7h-.7zM208.0 446.3h.7v.7h-.7zM206.8 455.2h.7v.7h-.7zM198.6 442.7h.7v.7h-.7zM207.8 440.0h.7v.7h-.7zM215.8 446.0h.7v.7h-.7zM214.4 451.3h.7v.7h-.7zM207.6 454.8h.7v.7h-.7zM201.7 437.2h.7v.7h-.7zM207.0 427.8h.7v.7h-.7zM206.8 445.3h.7v.7h-.7zM200.2 438.6h.7v.7h-.7zM202.4 465.8h.7v.7h-.7zM215.2 451.7h.7v.7h-.7zM210.0 457.5h.7v.7h-.7zM209.5 456.8h.7v.7h-.7zM213.4 463.8h.7v.7h-.7zM214.3 442.4h.7v.7h-.7zM212.0 455.9h.7v.7h-.7zM212.3 464.4h.7v.7h-.7zM210.4 443.6h.7v.7h-.7zM213.4 456.1h.7v.7h-.7zM208.9 451.1h.7v.7h-.7zM209.7 449.0h.7v.7h-.7zM210.8 443.7h.7v.7h-.7zM212.7 449.8h.7v.7h-.7zM217.6 449.3h.7v.7h-.7zM209.5 437.2h.7v.7h-.7zM220.3 445.1h.7v.7h-.7zM206.4 444.7h.7v.7h-.7zM209.0 446.1h.7v.7h-.7zM217.5 443.1h.7v.7h-.7zM207.8 443.3h.7v.7h-.7zM212.0 433.8h.7v.7h-.7zM214.0 444.0h.7v.7h-.7zM201.9 458.7h.7v.7h-.7zM202.4 452.5h.7v.7h-.7zM209.1 441.6h.7v.7h-.7zM200.7 441.2h.7v.7h-.7zM212.8 446.3h.7v.7h-.7zM206.1 454.6h.7v.7h-.7zM209.2 447.5h.7v.7h-.7zM204.6 435.8h.7v.7h-.7zM206.6 449.2h.7v.7h-.7zM206.9 449.3h.7v.7h-.7zM207.7 444.9h.7v.7h-.7zM208.7 449.6h.7v.7h-.7zM197.8 446.7h.7v.7h-.7zM208.0 443.3h.7v.7h-.7zM213.8 456.0h.7v.7h-.7zM214.7 452.6h.7v.7h-.7zM211.2 447.8h.7v.7h-.7zM212.7 441.6h.7v.7h-.7zM208.3 449.3h.7v.7h-.7zM208.2 436.9h.7v.7h-.7zM208.5 443.5h.7v.7h-.7zM205.7 451.7h.7v.7h-.7zM214.3 447.5h.7v.7h-.7zM203.2 445.4h.7v.7h-.7zM208.0 438.4h.7v.7h-.7zM205.9 447.9h.7v.7h-.7zM206.0 450.3h.7v.7h-.7zM202.4 451.9h.7v.7h-.7zM205.4 447.7h.7v.7h-.7zM209.0 442.7h.7v.7h-.7zM214.2 432.6h.7v.7h-.7zM209.9 451.8h.7v.7h-.7zM207.7 446.2h.7v.7h-.7zM203.2 446.3h.7v.7h-.7zM209.8 442.0h.7v.7h-.7zM209.0 443.8h.7v.7h-.7zM203.8 446.0h.7v.7h-.7zM205.0 453.6h.7v.7h-.7zM205.0 457.7h.7v.7h-.7zM208.8 446.5h.7v.7h-.7zM205.2 450.1h.7v.7h-.7zM203.8 434.4h.7v.7h-.7zM211.1 430.1h.7v.7h-.7zM214.6 442.4h.7v.7h-.7zM216.8 448.5h.7v.7h-.7zM217.1 435.1h.7v.7h-.7zM206.7 448.7h.7v.7h-.7zM206.1 447.2h.7v.7h-.7zM208.1 451.8h.7v.7h-.7zM216.1 429.6h.7v.7h-.7zM212.1 437.5h.7v.7h-.7zM217.1 435.0h.7v.7h-.7zM204.7 450.6h.7v.7h-.7zM208.0 452.0h.7v.7h-.7zM210.8 440.6h.7v.7h-.7zM200.7 455.7h.7v.7h-.7zM207.8 445.7h.7v.7h-.7zM207.4 444.5h.7v.7h-.7zM205.2 447.0h.7v.7h-.7zM210.2 436.8h.7v.7h-.7zM200.9 451.0h.7v.7h-.7zM213.3 442.3h.7v.7h-.7zM208.1 442.7h.7v.7h-.7zM210.9 446.0h.7v.7h-.7zM206.1 440.6h.7v.7h-.7zM211.1 449.5h.7v.7h-.7zM206.7 449.7h.7v.7h-.7zM193.3 443.1h.7v.7h-.7zM209.8 430.6h.7v.7h-.7zM206.0 448.4h.7v.7h-.7zM215.3 449.6h.7v.7h-.7zM202.7 453.5h.7v.7h-.7zM207.5 453.1h.7v.7h-.7zM201.9 433.7h.7v.7h-.7zM200.8 451.2h.7v.7h-.7zM214.9 448.5h.7v.7h-.7zM209.8 445.7h.7v.7h-.7zM209.9 438.6h.7v.7h-.7zM215.1 452.8h.7v.7h-.7zM213.8 445.9h.7v.7h-.7zM213.2 454.2h.7v.7h-.7zM221.6 455.0h.7v.7h-.7zM205.1 440.3h.7v.7h-.7zM213.3 450.5h.7v.7h-.7zM211.7 447.0h.7v.7h-.7zM204.8 447.7h.7v.7h-.7zM201.5 448.8h.7v.7h-.7zM220.4 452.3h.7v.7h-.7zM204.6 439.8h.7v.7h-.7zM221.1 451.7h.7v.7h-.7zM206.3 451.1h.7v.7h-.7zM207.3 438.3h.7v.7h-.7zM209.6 450.6h.7v.7h-.7zM215.5 436.8h.7v.7h-.7zM216.4 444.7h.7v.7h-.7zM198.8 454.3h.7v.7h-.7zM214.0 450.8h.7v.7h-.7zM213.1 439.6h.7v.7h-.7zM211.5 433.8h.7v.7h-.7zM205.6 466.4h.7v.7h-.7zM217.3 449.7h.7v.7h-.7zM211.5 447.3h.7v.7h-.7zM212.1 448.2h.7v.7h-.7zM204.2 443.8h.7v.7h-.7zM199.2 439.8h.7v.7h-.7zM208.1 449.5h.7v.7h-.7zM220.3 433.9h.7v.7h-.7zM219.7 443.3h.7v.7h-.7zM206.8 446.0h.7v.7h-.7zM220.1 438.1h.7v.7h-.7zM207.0 450.9h.7v.7h-.7zM213.8 449.7h.7v.7h-.7zM209.5 454.3h.7v.7h-.7zM204.0 458.9h.7v.7h-.7zM206.4 449.6h.7v.7h-.7zM204.2 441.8h.7v.7h-.7zM214.0 451.1h.7v.7h-.7zM208.0 452.9h.7v.7h-.7zM225.4 427.5h.7v.7h-.7zM198.5 448.1h.7v.7h-.7zM200.2 454.6h.7v.7h-.7zM204.7 446.6h.7v.7h-.7zM204.7 462.8h.7v.7h-.7zM216.8 433.4h.7v.7h-.7zM212.3 444.2h.7v.7h-.7zM216.5 449.2h.7v.7h-.7zM205.1 443.2h.7v.7h-.7zM209.2 459.9h.7v.7h-.7zM209.4 442.5h.7v.7h-.7zM206.9 453.3h.7v.7h-.7zM207.4 460.3h.7v.7h-.7zM213.5 447.8h.7v.7h-.7zM209.5 444.1h.7v.7h-.7zM196.9 455.8h.7v.7h-.7zM216.7 445.1h.7v.7h-.7zM210.4 436.1h.7v.7h-.7zM207.9 448.1h.7v.7h-.7zM208.6 447.1h.7v.7h-.7zM214.1 452.2h.7v.7h-.7zM213.0 442.1h.7v.7h-.7zM206.4 446.7h.7v.7h-.7zM200.8 435.4h.7v.7h-.7zM210.7 446.7h.7v.7h-.7zM209.4 455.9h.7v.7h-.7zM198.0 449.8h.7v.7h-.7zM207.8 436.4h.7v.7h-.7zM212.4 457.7h.7v.7h-.7zM201.4 447.0h.7v.7h-.7zM213.9 447.0h.7v.7h-.7zM206.7 454.3h.7v.7h-.7zM200.2 446.3h.7v.7h-.7zM205.7 446.1h.7v.7h-.7zM202.5 448.1h.7v.7h-.7zM215.3 450.2h.7v.7h-.7zM202.4 442.7h.7v.7h-.7zM205.1 435.1h.7v.7h-.7zM212.7 450.6h.7v.7h-.7zM208.1 458.2h.7v.7h-.7zM212.7 442.1h.7v.7h-.7zM209.2 445.6h.7v.7h-.7zM208.9 457.0h.7v.7h-.7zM215.5 439.2h.7v.7h-.7zM219.0 434.2h.7v.7h-.7zM207.6 465.7h.7v.7h-.7zM212.5 455.9h.7v.7h-.7zM209.7 450.7h.7v.7h-.7zM205.6 458.2h.7v.7h-.7zM208.0 442.6h.7v.7h-.7zM201.4 463.8h.7v.7h-.7zM201.4 438.8h.7v.7h-.7zM211.5 447.0h.7v.7h-.7zM217.9 451.7h.7v.7h-.7zM210.7 440.6h.7v.7h-.7zM211.8 435.5h.7v.7h-.7zM205.1 457.5h.7v.7h-.7zM210.4 437.7h.7v.7h-.7zM205.7 445.7h.7v.7h-.7zM210.6 448.3h.7v.7h-.7zM213.2 423.5h.7v.7h-.7zM212.7 432.1h.7v.7h-.7zM206.7 447.8h.7v.7h-.7zM214.4 441.9h.7v.7h-.7zM202.2 440.3h.7v.7h-.7zM210.3 465.6h.7v.7h-.7zM202.7 442.8h.7v.7h-.7zM205.4 455.6h.7v.7h-.7zM211.9 445.5h.7v.7h-.7zM210.6 459.1h.7v.7h-.7zM207.5 438.0h.7v.7h-.7zM209.1 437.2h.7v.7h-.7zM210.2 453.6h.7v.7h-.7zM207.2 454.1h.7v.7h-.7zM215.2 461.2h.7v.7h-.7zM207.2 451.4h.7v.7h-.7zM213.2 453.2h.7v.7h-.7zM213.9 450.7h.7v.7h-.7zM212.6 454.0h.7v.7h-.7zM211.5 451.4h.7v.7h-.7zM210.5 446.4h.7v.7h-.7zM199.7 446.3h.7v.7h-.7zM209.2 442.6h.7v.7h-.7zM206.8 456.7h.7v.7h-.7zM207.7 429.2h.7v.7h-.7zM206.4 445.9h.7v.7h-.7zM215.4 449.3h.7v.7h-.7zM211.7 442.7h.7v.7h-.7zM206.1 434.5h.7v.7h-.7zM212.3 447.1h.7v.7h-.7zM205.4 447.4h.7v.7h-.7zM214.7 454.2h.7v.7h-.7zM213.1 455.9h.7v.7h-.7zM210.3 446.9h.7v.7h-.7zM209.0 450.7h.7v.7h-.7zM200.4 449.1h.7v.7h-.7zM209.2 440.0h.7v.7h-.7zM206.2 456.0h.7v.7h-.7zM207.1 446.2h.7v.7h-.7zM216.6 439.4h.7v.7h-.7zM208.8 443.6h.7v.7h-.7zM206.4 445.5h.7v.7h-.7zM211.9 444.8h.7v.7h-.7zM213.8 452.7h.7v.7h-.7zM203.6 447.4h.7v.7h-.7zM208.1 436.8h.7v.7h-.7zM200.0 454.8h.7v.7h-.7zM210.6 456.4h.7v.7h-.7zM217.0 452.9h.7v.7h-.7zM210.9 456.9h.7v.7h-.7zM208.4 443.9h.7v.7h-.7zM214.0 452.0h.7v.7h-.7zM206.4 443.7h.7v.7h-.7zM202.6 463.2h.7v.7h-.7zM207.1 443.1h.7v.7h-.7zM206.0 442.9h.7v.7h-.7zM209.7 447.2h.7v.7h-.7zM213.1 427.5h.7v.7h-.7zM209.7 459.9h.7v.7h-.7zM209.3 442.3h.7v.7h-.7zM219.2 442.9h.7v.7h-.7zM212.5 448.8h.7v.7h-.7zM208.3 439.1h.7v.7h-.7zM209.9 448.5h.7v.7h-.7zM218.3 435.1h.7v.7h-.7zM201.2 451.2h.7v.7h-.7zM201.4 424.8h.7v.7h-.7zM207.4 455.8h.7v.7h-.7zM199.8 435.2h.7v.7h-.7zM216.6 440.0h.7v.7h-.7zM203.2 444.2h.7v.7h-.7zM219.6 444.0h.7v.7h-.7zM214.2 444.2h.7v.7h-.7zM202.0 448.4h.7v.7h-.7zM197.1 455.8h.7v.7h-.7zM198.4 447.2h.7v.7h-.7zM194.9 444.8h.7v.7h-.7zM211.7 438.6h.7v.7h-.7zM221.8 445.8h.7v.7h-.7zM211.9 431.5h.7v.7h-.7zM205.7 448.1h.7v.7h-.7zM213.9 451.5h.7v.7h-.7zM199.8 431.4h.7v.7h-.7zM201.6 456.7h.7v.7h-.7zM197.5 433.8h.7v.7h-.7zM209.8 445.3h.7v.7h-.7zM208.6 437.7h.7v.7h-.7zM211.2 444.7h.7v.7h-.7zM207.7 448.0h.7v.7h-.7zM207.5 443.9h.7v.7h-.7zM216.4 452.6h.7v.7h-.7zM209.5 447.1h.7v.7h-.7zM217.9 432.8h.7v.7h-.7zM196.3 446.1h.7v.7h-.7zM197.7 435.4h.7v.7h-.7zM210.4 447.7h.7v.7h-.7zM206.7 438.4h.7v.7h-.7zM199.4 438.8h.7v.7h-.7zM203.6 445.4h.7v.7h-.7zM215.1 442.9h.7v.7h-.7zM201.5 449.8h.7v.7h-.7zM216.9 448.8h.7v.7h-.7zM206.0 442.0h.7v.7h-.7zM206.9 435.6h.7v.7h-.7zM215.0 442.7h.7v.7h-.7zM221.6 457.5h.7v.7h-.7zM205.8 438.1h.7v.7h-.7zM197.3 445.8h.7v.7h-.7zM211.5 442.2h.7v.7h-.7zM208.2 450.3h.7v.7h-.7zM203.8 445.2h.7v.7h-.7zM207.2 460.4h.7v.7h-.7zM213.3 444.8h.7v.7h-.7zM202.2 444.4h.7v.7h-.7zM203.7 442.3h.7v.7h-.7zM211.2 453.6h.7v.7h-.7zM215.6 440.1h.7v.7h-.7zM210.2 445.4h.7v.7h-.7zM214.5 467.0h.7v.7h-.7zM215.6 454.5h.7v.7h-.7zM210.6 450.8h.7v.7h-.7zM196.0 449.0h.7v.7h-.7zM208.0 445.4h.7v.7h-.7zM210.7 434.2h.7v.7h-.7zM206.5 453.8h.7v.7h-.7zM213.6 447.6h.7v.7h-.7zM212.5 438.2h.7v.7h-.7zM218.8 425.9h.7v.7h-.7zM206.7 438.5h.7v.7h-.7zM206.0 447.9h.7v.7h-.7zM209.7 455.2h.7v.7h-.7zM221.4 450.8h.7v.7h-.7zM202.9 446.0h.7v.7h-.7zM204.0 438.2h.7v.7h-.7zM206.3 455.0h.7v.7h-.7zM203.8 449.0h.7v.7h-.7zM204.1 454.3h.7v.7h-.7zM216.5 432.0h.7v.7h-.7zM213.8 437.5h.7v.7h-.7zM211.2 445.0h.7v.7h-.7zM214.5 433.7h.7v.7h-.7zM221.4 449.2h.7v.7h-.7zM204.8 458.1h.7v.7h-.7zM217.8 450.9h.7v.7h-.7zM205.7 438.1h.7v.7h-.7zM203.2 461.4h.7v.7h-.7zM209.4 445.6h.7v.7h-.7zM206.6 457.7h.7v.7h-.7zM206.7 454.2h.7v.7h-.7zM197.4 438.3h.7v.7h-.7zM211.2 436.7h.7v.7h-.7zM221.5 426.2h.7v.7h-.7zM211.5 451.0h.7v.7h-.7zM211.9 445.3h.7v.7h-.7zM210.8 439.9h.7v.7h-.7zM191.4 463.8h.7v.7h-.7zM208.9 463.3h.7v.7h-.7zM208.9 456.5h.7v.7h-.7zM217.8 440.5h.7v.7h-.7zM194.0 457.3h.7v.7h-.7zM221.5 431.5h.7v.7h-.7zM205.7 445.2h.7v.7h-.7zM207.3 451.8h.7v.7h-.7zM208.3 451.6h.7v.7h-.7zM203.7 430.7h.7v.7h-.7zM220.8 448.4h.7v.7h-.7zM211.6 434.8h.7v.7h-.7zM212.0 445.5h.7v.7h-.7zM212.2 447.1h.7v.7h-.7zM215.8 459.4h.7v.7h-.7zM206.7 442.3h.7v.7h-.7zM213.7 431.9h.7v.7h-.7zM204.4 442.4h.7v.7h-.7zM195.4 464.5h.7v.7h-.7zM207.3 443.9h.7v.7h-.7zM201.3 451.2h.7v.7h-.7zM206.1 434.5h.7v.7h-.7zM211.2 460.7h.7v.7h-.7zM199.3 445.7h.7v.7h-.7zM223.1 444.1h.7v.7h-.7zM204.4 461.4h.7v.7h-.7zM210.5 454.9h.7v.7h-.7zM219.7 452.2h.7v.7h-.7zM211.1 464.6h.7v.7h-.7zM199.3 435.0h.7v.7h-.7zM207.6 440.1h.7v.7h-.7zM207.9 427.8h.7v.7h-.7zM198.5 452.9h.7v.7h-.7zM207.7 450.0h.7v.7h-.7zM206.5 445.8h.7v.7h-.7zM199.2 463.0h.7v.7h-.7zM215.8 433.1h.7v.7h-.7zM206.1 449.4h.7v.7h-.7zM206.3 445.5h.7v.7h-.7zM210.4 428.1h.7v.7h-.7zM213.9 450.6h.7v.7h-.7zM202.7 444.2h.7v.7h-.7zM208.4 443.4h.7v.7h-.7zM209.3 431.3h.7v.7h-.7zM209.4 450.0h.7v.7h-.7zM211.5 450.3h.7v.7h-.7zM205.3 447.3h.7v.7h-.7zM215.3 446.7h.7v.7h-.7zM210.4 446.6h.7v.7h-.7zM212.5 433.6h.7v.7h-.7zM208.6 454.2h.7v.7h-.7zM203.2 451.5h.7v.7h-.7zM206.0 441.9h.7v.7h-.7zM201.7 437.2h.7v.7h-.7zM216.6 431.9h.7v.7h-.7zM209.9 432.8h.7v.7h-.7zM222.1 452.8h.7v.7h-.7zM203.8 435.0h.7v.7h-.7zM207.2 449.3h.7v.7h-.7zM219.8 460.1h.7v.7h-.7zM202.6 448.3h.7v.7h-.7zM215.0 439.1h.7v.7h-.7zM205.9 455.0h.7v.7h-.7zM200.0 446.4h.7v.7h-.7zM208.5 443.2h.7v.7h-.7zM209.1 430.2h.7v.7h-.7zM214.3 441.6h.7v.7h-.7zM221.7 465.2h.7v.7h-.7zM206.0 464.8h.7v.7h-.7zM218.2 438.2h.7v.7h-.7zM207.3 457.7h.7v.7h-.7zM204.3 442.6h.7v.7h-.7zM192.7 432.3h.7v.7h-.7zM201.4 439.1h.7v.7h-.7zM204.3 448.5h.7v.7h-.7zM210.6 442.4h.7v.7h-.7zM200.1 448.3h.7v.7h-.7zM213.0 445.5h.7v.7h-.7zM217.9 441.6h.7v.7h-.7zM214.5 448.6h.7v.7h-.7zM217.6 461.8h.7v.7h-.7zM201.5 428.5h.7v.7h-.7zM215.7 449.1h.7v.7h-.7zM211.2 441.7h.7v.7h-.7zM204.1 457.7h.7v.7h-.7zM212.1 440.8h.7v.7h-.7zM209.3 448.9h.7v.7h-.7zM200.5 439.9h.7v.7h-.7zM212.3 447.4h.7v.7h-.7zM200.1 449.0h.7v.7h-.7zM221.9 452.0h.7v.7h-.7zM200.5 441.5h.7v.7h-.7zM205.0 438.5h.7v.7h-.7zM203.6 440.4h.7v.7h-.7zM208.4 434.0h.7v.7h-.7zM215.0 449.2h.7v.7h-.7zM221.6 454.1h.7v.7h-.7zM215.2 451.0h.7v.7h-.7zM208.3 435.7h.7v.7h-.7zM213.3 447.0h.7v.7h-.7zM204.8 450.0h.7v.7h-.7zM211.1 439.8h.7v.7h-.7zM218.4 441.4h.7v.7h-.7zM209.8 456.4h.7v.7h-.7zM205.6 443.0h.7v.7h-.7zM212.0 442.9h.7v.7h-.7zM205.8 435.2h.7v.7h-.7zM210.5 442.4h.7v.7h-.7zM214.4 455.9h.7v.7h-.7zM208.9 453.6h.7v.7h-.7zM204.5 461.6h.7v.7h-.7zM205.4 444.9h.7v.7h-.7zM206.6 441.3h.7v.7h-.7zM214.2 446.1h.7v.7h-.7zM203.3 453.5h.7v.7h-.7zM209.3 451.7h.7v.7h-.7zM210.4 441.7h.7v.7h-.7zM197.4 443.2h.7v.7h-.7zM203.3 457.8h.7v.7h-.7zM207.6 460.3h.7v.7h-.7zM223.9 457.3h.7v.7h-.7zM224.4 437.2h.7v.7h-.7zM205.8 436.1h.7v.7h-.7zM200.4 433.7h.7v.7h-.7zM214.8 438.5h.7v.7h-.7zM206.9 451.7h.7v.7h-.7zM206.4 461.1h.7v.7h-.7zM216.7 453.0h.7v.7h-.7zM219.8 451.3h.7v.7h-.7zM210.2 456.7h.7v.7h-.7zM215.8 433.1h.7v.7h-.7zM216.2 456.0h.7v.7h-.7zM194.5 465.8h.7v.7h-.7zM210.1 459.7h.7v.7h-.7zM201.5 448.2h.7v.7h-.7zM204.6 438.1h.7v.7h-.7zM210.8 432.3h.7v.7h-.7zM208.9 452.8h.7v.7h-.7zM204.2 435.7h.7v.7h-.7zM212.7 455.0h.7v.7h-.7zM214.9 441.0h.7v.7h-.7zM206.4 459.4h.7v.7h-.7zM214.7 449.4h.7v.7h-.7zM210.5 444.7h.7v.7h-.7zM213.0 453.0h.7v.7h-.7zM209.3 448.8h.7v.7h-.7zM200.1 444.9h.7v.7h-.7zM219.3 448.3h.7v.7h-.7zM200.2 441.8h.7v.7h-.7zM209.6 460.1h.7v.7h-.7zM222.8 445.9h.7v.7h-.7zM208.1 447.5h.7v.7h-.7zM201.9 458.9h.7v.7h-.7zM201.3 453.3h.7v.7h-.7zM206.1 436.3h.7v.7h-.7zM211.2 462.3h.7v.7h-.7zM201.2 448.3h.7v.7h-.7zM204.6 456.5h.7v.7h-.7zM199.6 434.0h.7v.7h-.7zM206.6 433.9h.7v.7h-.7zM215.3 432.0h.7v.7h-.7zM209.4 441.5h.7v.7h-.7zM215.4 441.2h.7v.7h-.7zM207.8 462.5h.7v.7h-.7zM213.2 458.3h.7v.7h-.7zM218.2 451.1h.7v.7h-.7zM211.0 430.2h.7v.7h-.7zM197.9 442.4h.7v.7h-.7zM210.9 457.0h.7v.7h-.7zM204.1 443.2h.7v.7h-.7zM222.4 435.6h.7v.7h-.7zM207.8 445.3h.7v.7h-.7zM204.5 460.6h.7v.7h-.7zM198.8 443.5h.7v.7h-.7zM198.2 439.5h.7v.7h-.7zM219.0 427.1h.7v.7h-.7zM198.2 446.4h.7v.7h-.7zM211.3 439.3h.7v.7h-.7zM211.9 444.4h.7v.7h-.7zM206.5 447.2h.7v.7h-.7zM216.9 435.0h.7v.7h-.7zM214.5 449.0h.7v.7h-.7zM207.7 439.3h.7v.7h-.7zM211.2 454.0h.7v.7h-.7zM203.0 453.4h.7v.7h-.7zM209.2 454.3h.7v.7h-.7zM210.8 444.4h.7v.7h-.7zM210.4 452.5h.7v.7h-.7zM199.7 446.4h.7v.7h-.7zM193.4 448.3h.7v.7h-.7zM205.9 446.5h.7v.7h-.7zM215.4 455.2h.7v.7h-.7zM218.2 455.2h.7v.7h-.7zM207.6 438.7h.7v.7h-.7zM225.6 439.8h.7v.7h-.7zM206.7 450.4h.7v.7h-.7zM203.7 447.7h.7v.7h-.7zM210.4 441.2h.7v.7h-.7zM202.4 446.6h.7v.7h-.7zM211.8 436.8h.7v.7h-.7zM209.9 447.3h.7v.7h-.7zM203.3 450.3h.7v.7h-.7zM200.2 455.0h.7v.7h-.7zM204.4 456.1h.7v.7h-.7zM209.7 446.8h.7v.7h-.7zM200.4 453.5h.7v.7h-.7zM201.9 467.6h.7v.7h-.7zM211.8 448.2h.7v.7h-.7zM209.2 452.9h.7v.7h-.7zM212.0 450.1h.7v.7h-.7zM214.6 444.8h.7v.7h-.7zM219.4 431.8h.7v.7h-.7zM198.4 451.8h.7v.7h-.7zM208.9 431.8h.7v.7h-.7zM201.3 439.4h.7v.7h-.7zM217.2 452.5h.7v.7h-.7zM198.3 433.4h.7v.7h-.7zM209.9 434.4h.7v.7h-.7zM205.1 440.7h.7v.7h-.7zM209.3 451.8h.7v.7h-.7zM204.5 441.3h.7v.7h-.7zM210.8 461.9h.7v.7h-.7zM211.7 442.8h.7v.7h-.7zM215.0 445.0h.7v.7h-.7zM200.2 452.6h.7v.7h-.7zM219.6 435.5h.7v.7h-.7zM214.0 434.5h.7v.7h-.7zM208.5 445.2h.7v.7h-.7zM206.8 445.2h.7v.7h-.7zM213.4 441.4h.7v.7h-.7zM207.6 443.3h.7v.7h-.7zM210.8 440.1h.7v.7h-.7zM214.1 449.2h.7v.7h-.7zM205.2 434.0h.7v.7h-.7zM207.3 456.0h.7v.7h-.7zM213.1 446.4h.7v.7h-.7zM222.1 461.1h.7v.7h-.7zM212.4 459.6h.7v.7h-.7zM207.4 442.8h.7v.7h-.7zM210.5 428.1h.7v.7h-.7zM209.2 441.4h.7v.7h-.7zM217.7 451.7h.7v.7h-.7zM219.1 441.9h.7v.7h-.7zM218.6 447.7h.7v.7h-.7zM212.4 450.1h.7v.7h-.7zM200.9 455.0h.7v.7h-.7zM206.1 452.4h.7v.7h-.7zM208.7 436.8h.7v.7h-.7zM207.0 449.0h.7v.7h-.7zM207.1 462.5h.7v.7h-.7zM216.8 447.1h.7v.7h-.7zM206.7 460.1h.7v.7h-.7zM209.3 457.4h.7v.7h-.7zM200.3 427.1h.7v.7h-.7zM214.0 455.0h.7v.7h-.7zM208.0 444.6h.7v.7h-.7zM212.0 451.3h.7v.7h-.7zM208.6 446.4h.7v.7h-.7zM210.6 456.6h.7v.7h-.7zM213.6 421.3h.7v.7h-.7zM211.3 443.3h.7v.7h-.7zM216.0 453.1h.7v.7h-.7zM239.8 446.5h.7v.7h-.7zM218.4 446.2h.7v.7h-.7zM233.1 448.1h.7v.7h-.7zM237.6 456.7h.7v.7h-.7zM261.5 444.4h.7v.7h-.7zM235.6 457.1h.7v.7h-.7zM230.1 444.5h.7v.7h-.7zM241.6 449.0h.7v.7h-.7zM246.7 440.1h.7v.7h-.7zM256.5 450.1h.7v.7h-.7zM250.0 459.3h.7v.7h-.7zM268.5 449.1h.7v.7h-.7zM241.2 445.0h.7v.7h-.7zM244.7 438.9h.7v.7h-.7zM237.7 443.2h.7v.7h-.7zM252.3 452.9h.7v.7h-.7zM216.8 434.8h.7v.7h-.7zM238.8 438.9h.7v.7h-.7zM245.8 433.6h.7v.7h-.7zM243.3 448.7h.7v.7h-.7zM250.8 443.8h.7v.7h-.7zM251.1 452.9h.7v.7h-.7zM241.9 439.0h.7v.7h-.7zM240.0 449.4h.7v.7h-.7zM249.4 434.1h.7v.7h-.7zM228.2 434.7h.7v.7h-.7zM267.6 450.4h.7v.7h-.7zM248.2 438.0h.7v.7h-.7zM220.9 462.8h.7v.7h-.7zM253.4 428.1h.7v.7h-.7zM265.3 450.1h.7v.7h-.7zM245.5 449.1h.7v.7h-.7zM256.8 431.8h.7v.7h-.7zM249.4 437.3h.7v.7h-.7zM241.2 445.5h.7v.7h-.7zM241.0 441.4h.7v.7h-.7zM248.1 444.0h.7v.7h-.7zM249.2 452.9h.7v.7h-.7zM235.8 445.6h.7v.7h-.7zM235.8 453.4h.7v.7h-.7zM254.7 455.0h.7v.7h-.7zM258.7 448.0h.7v.7h-.7zM234.2 441.3h.7v.7h-.7zM260.5 448.1h.7v.7h-.7zM255.6 442.7h.7v.7h-.7zM243.4 461.9h.7v.7h-.7zM257.8 434.9h.7v.7h-.7zM237.8 448.2h.7v.7h-.7zM258.6 454.6h.7v.7h-.7zM256.2 456.6h.7v.7h-.7zM254.4 453.7h.7v.7h-.7zM235.6 437.8h.7v.7h-.7zM240.0 456.9h.7v.7h-.7zM262.2 438.8h.7v.7h-.7zM242.7 447.7h.7v.7h-.7zM252.9 449.7h.7v.7h-.7zM263.7 449.1h.7v.7h-.7zM243.5 445.2h.7v.7h-.7zM259.0 445.2h.7v.7h-.7zM252.3 443.9h.7v.7h-.7zM232.1 430.6h.7v.7h-.7zM242.6 440.9h.7v.7h-.7zM255.7 444.2h.7v.7h-.7zM235.0 452.7h.7v.7h-.7zM241.0 463.2h.7v.7h-.7zM240.7 447.7h.7v.7h-.7zM236.8 458.9h.7v.7h-.7zM249.5 445.3h.7v.7h-.7zM244.9 431.1h.7v.7h-.7zM261.0 447.1h.7v.7h-.7zM259.9 440.6h.7v.7h-.7zM263.3 442.1h.7v.7h-.7zM246.4 462.6h.7v.7h-.7zM240.1 447.3h.7v.7h-.7zM244.2 448.0h.7v.7h-.7zM247.9 445.9h.7v.7h-.7zM251.2 443.7h.7v.7h-.7zM261.9 452.4h.7v.7h-.7zM232.5 443.0h.7v.7h-.7zM242.2 454.4h.7v.7h-.7zM223.0 455.6h.7v.7h-.7zM222.7 442.3h.7v.7h-.7zM235.8 444.4h.7v.7h-.7zM255.4 454.2h.7v.7h-.7zM244.7 445.5h.7v.7h-.7zM234.4 456.1h.7v.7h-.7zM240.2 468.0h.7v.7h-.7zM227.4 442.0h.7v.7h-.7zM254.2 461.2h.7v.7h-.7zM242.3 450.5h.7v.7h-.7zM238.7 448.8h.7v.7h-.7zM220.8 452.1h.7v.7h-.7zM239.7 450.4h.7v.7h-.7zM244.5 439.6h.7v.7h-.7zM227.5 439.5h.7v.7h-.7zM245.5 452.7h.7v.7h-.7zM259.4 454.6h.7v.7h-.7zM270.5 454.8h.7v.7h-.7zM267.4 453.2h.7v.7h-.7zM249.8 433.8h.7v.7h-.7zM257.6 446.0h.7v.7h-.7zM241.4 436.9h.7v.7h-.7zM261.1 447.0h.7v.7h-.7zM240.9 441.1h.7v.7h-.7zM245.0 450.5h.7v.7h-.7zM253.2 448.0h.7v.7h-.7zM248.6 447.6h.7v.7h-.7zM241.0 456.0h.7v.7h-.7zM244.4 442.7h.7v.7h-.7zM266.5 439.9h.7v.7h-.7zM240.6 448.0h.7v.7h-.7zM243.9 446.4h.7v.7h-.7zM257.5 454.9h.7v.7h-.7zM230.1 461.5h.7v.7h-.7zM232.0 439.2h.7v.7h-.7zM254.1 439.3h.7v.7h-.7zM231.7 453.5h.7v.7h-.7zM252.0 450.1h.7v.7h-.7zM262.8 455.1h.7v.7h-.7zM240.5 443.5h.7v.7h-.7zM251.0 443.9h.7v.7h-.7zM249.1 453.9h.7v.7h-.7zM249.1 436.3h.7v.7h-.7zM265.7 446.6h.7v.7h-.7zM250.2 434.5h.7v.7h-.7zM245.6 437.2h.7v.7h-.7zM264.9 443.4h.7v.7h-.7zM229.5 446.2h.7v.7h-.7zM235.0 447.6h.7v.7h-.7zM234.8 433.9h.7v.7h-.7zM243.7 444.8h.7v.7h-.7zM236.5 452.3h.7v.7h-.7zM256.1 446.4h.7v.7h-.7zM245.0 449.9h.7v.7h-.7zM257.0 448.5h.7v.7h-.7zM232.6 452.0h.7v.7h-.7zM274.3 452.0h.7v.7h-.7zM249.9 442.8h.7v.7h-.7zM227.7 451.0h.7v.7h-.7zM252.9 450.5h.7v.7h-.7zM247.8 456.9h.7v.7h-.7zM244.7 432.7h.7v.7h-.7zM244.3 448.4h.7v.7h-.7zM255.3 451.4h.7v.7h-.7zM254.3 450.6h.7v.7h-.7zM249.6 438.2h.7v.7h-.7zM242.2 454.9h.7v.7h-.7zM265.5 426.7h.7v.7h-.7zM244.3 443.8h.7v.7h-.7zM256.2 432.0h.7v.7h-.7zM239.3 448.5h.7v.7h-.7zM236.4 433.8h.7v.7h-.7zM268.2 445.2h.7v.7h-.7zM246.8 451.8h.7v.7h-.7zM268.6 441.7h.7v.7h-.7zM244.2 444.5h.7v.7h-.7zM257.3 454.3h.7v.7h-.7zM264.9 443.7h.7v.7h-.7zM231.5 442.2h.7v.7h-.7zM223.2 449.8h.7v.7h-.7zM221.4 450.4h.7v.7h-.7zM233.4 450.4h.7v.7h-.7zM263.6 446.2h.7v.7h-.7zM244.3 447.4h.7v.7h-.7zM238.4 449.7h.7v.7h-.7zM242.9 448.3h.7v.7h-.7zM236.2 451.2h.7v.7h-.7zM249.9 440.5h.7v.7h-.7zM245.1 436.4h.7v.7h-.7zM229.0 438.5h.7v.7h-.7zM250.7 444.0h.7v.7h-.7zM245.4 449.2h.7v.7h-.7zM242.5 445.7h.7v.7h-.7zM239.1 463.7h.7v.7h-.7zM236.1 451.7h.7v.7h-.7zM243.0 461.0h.7v.7h-.7zM232.2 446.4h.7v.7h-.7zM250.5 443.4h.7v.7h-.7zM271.3 449.1h.7v.7h-.7zM250.7 434.2h.7v.7h-.7zM250.9 437.8h.7v.7h-.7zM252.5 449.9h.7v.7h-.7zM244.4 442.8h.7v.7h-.7zM236.2 442.2h.7v.7h-.7zM264.3 440.9h.7v.7h-.7zM242.2 450.2h.7v.7h-.7zM229.6 443.9h.7v.7h-.7zM259.4 449.0h.7v.7h-.7zM252.5 452.6h.7v.7h-.7zM245.5 428.9h.7v.7h-.7zM254.9 451.4h.7v.7h-.7zM217.5 445.4h.7v.7h-.7zM262.8 438.2h.7v.7h-.7zM257.1 458.2h.7v.7h-.7zM244.5 445.0h.7v.7h-.7zM233.8 452.0h.7v.7h-.7zM248.7 451.3h.7v.7h-.7zM245.1 447.4h.7v.7h-.7zM238.7 455.3h.7v.7h-.7zM244.1 456.6h.7v.7h-.7zM256.5 441.4h.7v.7h-.7zM232.4 455.0h.7v.7h-.7zM250.6 444.3h.7v.7h-.7zM258.3 431.6h.7v.7h-.7zM252.7 444.3h.7v.7h-.7zM254.6 442.6h.7v.7h-.7zM240.2 452.3h.7v.7h-.7zM250.3 436.0h.7v.7h-.7zM252.1 452.4h.7v.7h-.7zM226.2 439.8h.7v.7h-.7zM232.2 439.5h.7v.7h-.7zM237.5 461.6h.7v.7h-.7zM233.8 439.8h.7v.7h-.7zM242.8 457.2h.7v.7h-.7zM241.0 454.3h.7v.7h-.7zM258.1 443.9h.7v.7h-.7zM250.5 454.7h.7v.7h-.7zM248.5 459.4h.7v.7h-.7zM250.5 459.2h.7v.7h-.7zM233.9 448.9h.7v.7h-.7zM217.2 436.2h.7v.7h-.7zM239.2 444.0h.7v.7h-.7zM243.1 451.0h.7v.7h-.7zM228.5 433.9h.7v.7h-.7zM254.8 449.4h.7v.7h-.7zM257.1 453.5h.7v.7h-.7zM249.6 443.1h.7v.7h-.7zM251.7 439.9h.7v.7h-.7zM230.2 444.5h.7v.7h-.7zM272.4 439.7h.7v.7h-.7zM261.7 445.7h.7v.7h-.7zM266.3 443.2h.7v.7h-.7zM231.7 442.1h.7v.7h-.7zM243.4 451.3h.7v.7h-.7zM237.2 448.6h.7v.7h-.7zM273.9 447.2h.7v.7h-.7zM253.6 467.2h.7v.7h-.7zM236.7 447.0h.7v.7h-.7zM241.7 449.1h.7v.7h-.7zM236.2 444.7h.7v.7h-.7zM254.5 447.1h.7v.7h-.7zM222.7 455.8h.7v.7h-.7zM250.2 461.7h.7v.7h-.7zM235.7 449.8h.7v.7h-.7zM234.9 453.1h.7v.7h-.7zM238.9 456.9h.7v.7h-.7zM247.0 430.3h.7v.7h-.7zM232.1 452.1h.7v.7h-.7zM254.7 454.8h.7v.7h-.7zM251.7 443.5h.7v.7h-.7zM247.3 447.4h.7v.7h-.7zM245.9 454.8h.7v.7h-.7zM234.6 444.7h.7v.7h-.7zM261.4 446.0h.7v.7h-.7zM252.3 442.9h.7v.7h-.7zM246.4 457.0h.7v.7h-.7zM264.8 447.3h.7v.7h-.7zM238.1 458.5h.7v.7h-.7zM223.1 445.6h.7v.7h-.7zM254.3 465.1h.7v.7h-.7zM258.2 446.0h.7v.7h-.7zM244.9 446.6h.7v.7h-.7zM234.4 443.9h.7v.7h-.7zM249.5 434.0h.7v.7h-.7zM236.1 424.3h.7v.7h-.7zM256.9 447.9h.7v.7h-.7zM225.9 435.6h.7v.7h-.7zM237.3 459.6h.7v.7h-.7zM251.4 438.5h.7v.7h-.7zM239.6 434.4h.7v.7h-.7zM234.2 433.8h.7v.7h-.7zM267.2 452.4h.7v.7h-.7zM261.2 450.5h.7v.7h-.7zM236.7 454.6h.7v.7h-.7zM251.4 441.5h.7v.7h-.7zM225.9 446.7h.7v.7h-.7zM231.1 444.8h.7v.7h-.7zM221.2 432.9h.7v.7h-.7zM257.1 451.2h.7v.7h-.7zM247.3 444.9h.7v.7h-.7zM248.0 439.6h.7v.7h-.7zM254.9 459.2h.7v.7h-.7zM238.4 435.1h.7v.7h-.7zM245.8 433.7h.7v.7h-.7zM269.4 446.2h.7v.7h-.7zM250.6 448.4h.7v.7h-.7zM239.5 441.2h.7v.7h-.7zM232.7 462.3h.7v.7h-.7zM246.5 455.3h.7v.7h-.7zM263.6 444.7h.7v.7h-.7zM239.5 443.9h.7v.7h-.7zM250.1 439.3h.7v.7h-.7zM257.1 445.0h.7v.7h-.7zM236.4 452.4h.7v.7h-.7zM262.8 440.1h.7v.7h-.7zM243.4 445.6h.7v.7h-.7zM252.0 453.0h.7v.7h-.7zM244.2 439.8h.7v.7h-.7zM238.4 453.7h.7v.7h-.7zM267.9 448.3h.7v.7h-.7zM235.7 466.5h.7v.7h-.7zM259.5 441.3h.7v.7h-.7zM230.4 439.8h.7v.7h-.7zM281.3 456.6h.7v.7h-.7zM233.6 440.9h.7v.7h-.7zM241.2 436.9h.7v.7h-.7zM252.7 438.4h.7v.7h-.7zM242.7 451.4h.7v.7h-.7zM242.6 454.5h.7v.7h-.7zM239.3 456.0h.7v.7h-.7zM237.6 442.3h.7v.7h-.7zM228.0 449.5h.7v.7h-.7zM253.9 447.0h.7v.7h-.7zM262.9 451.9h.7v.7h-.7zM249.8 434.0h.7v.7h-.7zM243.5 449.7h.7v.7h-.7zM231.2 458.3h.7v.7h-.7zM249.6 458.6h.7v.7h-.7zM230.7 460.9h.7v.7h-.7zM262.2 448.0h.7v.7h-.7zM241.4 459.5h.7v.7h-.7zM233.8 445.2h.7v.7h-.7zM259.2 446.2h.7v.7h-.7zM235.8 437.9h.7v.7h-.7zM239.7 456.8h.7v.7h-.7zM278.8 439.2h.7v.7h-.7zM230.9 451.8h.7v.7h-.7zM243.5 443.6h.7v.7h-.7zM243.8 457.3h.7v.7h-.7zM255.0 441.0h.7v.7h-.7zM251.8 437.3h.7v.7h-.7zM259.3 431.0h.7v.7h-.7zM240.4 454.0h.7v.7h-.7zM266.4 450.9h.7v.7h-.7zM221.7 445.3h.7v.7h-.7zM256.9 451.9h.7v.7h-.7zM250.3 442.4h.7v.7h-.7zM222.2 443.1h.7v.7h-.7zM247.5 441.6h.7v.7h-.7zM235.2 449.9h.7v.7h-.7zM241.6 448.3h.7v.7h-.7zM258.6 441.3h.7v.7h-.7zM257.7 438.0h.7v.7h-.7zM256.3 450.0h.7v.7h-.7zM251.7 452.6h.7v.7h-.7zM248.3 433.2h.7v.7h-.7zM266.1 448.6h.7v.7h-.7zM248.2 447.3h.7v.7h-.7zM250.4 445.1h.7v.7h-.7zM229.3 437.6h.7v.7h-.7zM267.2 451.7h.7v.7h-.7zM232.6 459.5h.7v.7h-.7zM249.1 438.1h.7v.7h-.7zM236.2 441.7h.7v.7h-.7zM259.5 452.8h.7v.7h-.7zM242.6 445.0h.7v.7h-.7zM237.0 447.8h.7v.7h-.7zM233.1 453.8h.7v.7h-.7zM244.5 454.3h.7v.7h-.7zM264.7 449.3h.7v.7h-.7zM256.3 422.8h.7v.7h-.7zM234.4 448.8h.7v.7h-.7zM235.0 455.4h.7v.7h-.7zM241.7 445.5h.7v.7h-.7zM220.0 452.2h.7v.7h-.7zM239.5 457.1h.7v.7h-.7zM251.9 446.4h.7v.7h-.7zM256.3 444.8h.7v.7h-.7zM235.7 446.5h.7v.7h-.7zM242.8 455.4h.7v.7h-.7zM237.3 438.4h.7v.7h-.7zM262.2 453.9h.7v.7h-.7zM241.3 447.9h.7v.7h-.7zM226.0 460.0h.7v.7h-.7zM239.1 429.8h.7v.7h-.7zM244.1 450.9h.7v.7h-.7zM253.7 448.8h.7v.7h-.7zM248.7 445.6h.7v.7h-.7zM244.7 445.0h.7v.7h-.7zM276.0 447.5h.7v.7h-.7zM247.5 430.6h.7v.7h-.7zM245.3 451.3h.7v.7h-.7zM254.3 434.6h.7v.7h-.7zM244.9 459.4h.7v.7h-.7zM243.4 445.3h.7v.7h-.7zM253.0 446.2h.7v.7h-.7zM239.3 441.8h.7v.7h-.7zM224.7 448.3h.7v.7h-.7zM252.7 451.7h.7v.7h-.7zM236.6 450.2h.7v.7h-.7zM233.0 434.0h.7v.7h-.7zM253.5 436.8h.7v.7h-.7zM228.8 444.3h.7v.7h-.7zM241.7 459.1h.7v.7h-.7zM258.3 463.4h.7v.7h-.7zM248.0 433.9h.7v.7h-.7zM230.1 449.1h.7v.7h-.7zM229.1 450.3h.7v.7h-.7zM258.5 451.6h.7v.7h-.7zM225.2 455.8h.7v.7h-.7zM266.8 455.1h.7v.7h-.7zM274.6 440.5h.7v.7h-.7zM244.2 453.7h.7v.7h-.7zM258.0 458.7h.7v.7h-.7zM243.9 441.4h.7v.7h-.7zM243.3 441.2h.7v.7h-.7zM246.9 444.2h.7v.7h-.7zM255.2 441.3h.7v.7h-.7zM257.0 440.7h.7v.7h-.7zM260.7 456.6h.7v.7h-.7zM245.5 445.2h.7v.7h-.7zM250.0 450.5h.7v.7h-.7zM233.3 452.5h.7v.7h-.7zM223.2 437.6h.7v.7h-.7zM231.2 448.5h.7v.7h-.7zM235.6 428.1h.7v.7h-.7zM259.0 442.3h.7v.7h-.7zM241.8 449.6h.7v.7h-.7zM250.1 451.6h.7v.7h-.7zM230.1 449.4h.7v.7h-.7zM257.6 452.9h.7v.7h-.7zM263.7 435.4h.7v.7h-.7zM260.5 435.4h.7v.7h-.7zM232.1 448.5h.7v.7h-.7zM274.4 456.5h.7v.7h-.7zM244.2 447.6h.7v.7h-.7zM259.2 437.1h.7v.7h-.7zM241.5 442.2h.7v.7h-.7zM260.5 451.4h.7v.7h-.7zM249.7 456.6h.7v.7h-.7zM242.8 439.7h.7v.7h-.7zM257.0 432.3h.7v.7h-.7zM249.2 446.8h.7v.7h-.7zM226.3 448.5h.7v.7h-.7zM235.3 457.8h.7v.7h-.7zM255.2 454.1h.7v.7h-.7zM257.9 446.9h.7v.7h-.7zM259.4 451.8h.7v.7h-.7zM252.8 455.5h.7v.7h-.7zM270.0 433.5h.7v.7h-.7zM240.3 435.3h.7v.7h-.7zM230.7 452.5h.7v.7h-.7zM234.1 445.3h.7v.7h-.7zM239.0 454.7h.7v.7h-.7zM265.5 447.9h.7v.7h-.7zM237.5 442.4h.7v.7h-.7zM243.6 434.0h.7v.7h-.7zM231.1 448.5h.7v.7h-.7zM248.9 448.3h.7v.7h-.7zM250.1 441.1h.7v.7h-.7zM244.6 438.9h.7v.7h-.7zM248.8 431.0h.7v.7h-.7zM252.3 448.8h.7v.7h-.7zM240.9 448.2h.7v.7h-.7zM258.4 447.5h.7v.7h-.7zM269.4 456.6h.7v.7h-.7zM247.4 445.4h.7v.7h-.7zM231.6 438.4h.7v.7h-.7zM248.4 447.9h.7v.7h-.7zM250.3 460.3h.7v.7h-.7zM251.0 450.1h.7v.7h-.7zM243.2 438.3h.7v.7h-.7zM240.4 446.2h.7v.7h-.7zM254.6 452.4h.7v.7h-.7zM233.7 446.1h.7v.7h-.7zM255.2 435.6h.7v.7h-.7zM243.1 435.4h.7v.7h-.7zM237.7 456.1h.7v.7h-.7zM250.5 464.2h.7v.7h-.7zM233.5 454.2h.7v.7h-.7zM244.0 434.3h.7v.7h-.7zM248.4 448.8h.7v.7h-.7zM242.8 456.6h.7v.7h-.7zM242.2 452.8h.7v.7h-.7zM246.0 442.8h.7v.7h-.7zM250.7 455.4h.7v.7h-.7zM263.4 456.4h.7v.7h-.7zM225.6 436.4h.7v.7h-.7zM242.9 456.4h.7v.7h-.7zM223.2 448.1h.7v.7h-.7zM231.7 453.2h.7v.7h-.7zM258.6 444.8h.7v.7h-.7zM262.5 452.9h.7v.7h-.7zM244.2 458.5h.7v.7h-.7zM271.8 446.3h.7v.7h-.7zM249.2 449.7h.7v.7h-.7zM256.0 443.8h.7v.7h-.7zM243.4 456.4h.7v.7h-.7zM244.7 457.6h.7v.7h-.7zM249.5 460.6h.7v.7h-.7zM264.0 437.9h.7v.7h-.7zM254.6 445.1h.7v.7h-.7zM239.0 454.0h.7v.7h-.7zM259.0 451.2h.7v.7h-.7zM259.5 460.0h.7v.7h-.7zM250.6 452.0h.7v.7h-.7zM252.1 459.0h.7v.7h-.7zM235.7 446.5h.7v.7h-.7zM231.7 442.7h.7v.7h-.7zM250.5 444.3h.7v.7h-.7zM237.2 445.2h.7v.7h-.7zM259.9 463.6h.7v.7h-.7zM247.8 441.3h.7v.7h-.7zM248.7 442.2h.7v.7h-.7zM250.3 452.6h.7v.7h-.7zM269.6 441.2h.7v.7h-.7zM244.7 440.5h.7v.7h-.7zM259.3 439.6h.7v.7h-.7zM261.9 461.5h.7v.7h-.7zM225.8 455.8h.7v.7h-.7zM273.9 448.0h.7v.7h-.7zM245.7 463.2h.7v.7h-.7zM243.8 446.4h.7v.7h-.7zM235.4 452.3h.7v.7h-.7zM262.3 441.0h.7v.7h-.7zM256.4 451.2h.7v.7h-.7zM265.3 446.4h.7v.7h-.7zM237.2 449.0h.7v.7h-.7zM251.9 445.0h.7v.7h-.7zM235.1 452.3h.7v.7h-.7zM227.2 438.0h.7v.7h-.7zM245.0 436.4h.7v.7h-.7zM252.4 434.4h.7v.7h-.7zM244.1 450.5h.7v.7h-.7zM262.7 440.5h.7v.7h-.7zM249.7 456.7h.7v.7h-.7zM236.7 450.2h.7v.7h-.7zM260.0 456.1h.7v.7h-.7zM245.6 450.1h.7v.7h-.7zM237.8 451.6h.7v.7h-.7zM251.5 443.1h.7v.7h-.7zM275.2 452.4h.7v.7h-.7zM236.4 447.5h.7v.7h-.7zM252.3 438.9h.7v.7h-.7zM235.5 453.2h.7v.7h-.7zM245.5 446.7h.7v.7h-.7zM258.9 445.1h.7v.7h-.7zM228.5 438.3h.7v.7h-.7zM244.6 445.7h.7v.7h-.7zM241.8 440.2h.7v.7h-.7zM225.3 445.2h.7v.7h-.7zM251.5 449.4h.7v.7h-.7zM232.3 442.3h.7v.7h-.7zM248.3 428.0h.7v.7h-.7zM254.8 446.4h.7v.7h-.7zM284.7 446.5h.7v.7h-.7zM245.1 447.3h.7v.7h-.7zM243.6 441.9h.7v.7h-.7zM259.6 449.9h.7v.7h-.7zM250.3 445.1h.7v.7h-.7zM223.5 443.5h.7v.7h-.7zM219.2 442.2h.7v.7h-.7zM250.6 445.1h.7v.7h-.7zM247.3 459.8h.7v.7h-.7zM253.0 455.2h.7v.7h-.7zM242.4 444.6h.7v.7h-.7zM229.5 459.0h.7v.7h-.7zM260.0 446.6h.7v.7h-.7zM251.9 449.2h.7v.7h-.7zM262.7 451.3h.7v.7h-.7zM245.1 438.8h.7v.7h-.7zM216.7 428.5h.7v.7h-.7zM243.4 456.7h.7v.7h-.7zM237.7 445.3h.7v.7h-.7zM253.8 460.0h.7v.7h-.7zM217.9 446.0h.7v.7h-.7zM240.3 453.7h.7v.7h-.7zM241.5 433.2h.7v.7h-.7zM217.7 433.8h.7v.7h-.7zM241.2 438.6h.7v.7h-.7zM229.6 463.0h.7v.7h-.7zM228.0 444.7h.7v.7h-.7zM260.8 447.1h.7v.7h-.7zM221.7 447.2h.7v.7h-.7zM245.8 457.9h.7v.7h-.7zM236.2 434.8h.7v.7h-.7zM241.3 438.2h.7v.7h-.7zM248.6 452.3h.7v.7h-.7zM245.2 446.7h.7v.7h-.7zM231.3 436.0h.7v.7h-.7zM249.8 458.3h.7v.7h-.7zM255.9 466.5h.7v.7h-.7zM234.0 430.0h.7v.7h-.7zM245.5 449.2h.7v.7h-.7zM235.8 431.9h.7v.7h-.7zM262.5 431.9h.7v.7h-.7zM252.3 453.8h.7v.7h-.7zM262.1 446.6h.7v.7h-.7zM257.4 445.1h.7v.7h-.7zM255.1 457.7h.7v.7h-.7zM245.7 433.1h.7v.7h-.7zM251.3 423.0h.7v.7h-.7zM263.0 442.1h.7v.7h-.7zM239.4 455.0h.7v.7h-.7zM256.8 451.0h.7v.7h-.7zM239.0 452.8h.7v.7h-.7zM247.8 444.2h.7v.7h-.7zM236.4 450.9h.7v.7h-.7zM236.9 457.5h.7v.7h-.7zM224.2 439.0h.7v.7h-.7zM248.3 433.4h.7v.7h-.7zM268.7 435.8h.7v.7h-.7zM238.6 443.7h.7v.7h-.7zM248.2 458.2h.7v.7h-.7zM240.8 442.9h.7v.7h-.7zM261.8 446.9h.7v.7h-.7zM255.5 447.4h.7v.7h-.7zM239.7 442.1h.7v.7h-.7zM233.9 440.7h.7v.7h-.7zM248.1 446.6h.7v.7h-.7zM255.7 447.9h.7v.7h-.7zM251.0 440.0h.7v.7h-.7zM226.1 455.2h.7v.7h-.7zM267.8 444.7h.7v.7h-.7zM256.6 439.9h.7v.7h-.7zM234.9 450.1h.7v.7h-.7zM256.5 451.6h.7v.7h-.7zM259.5 447.7h.7v.7h-.7zM244.3 447.8h.7v.7h-.7zM235.2 444.1h.7v.7h-.7zM225.7 437.6h.7v.7h-.7zM255.5 442.6h.7v.7h-.7zM218.2 437.8h.7v.7h-.7zM255.5 446.5h.7v.7h-.7zM245.0 451.7h.7v.7h-.7zM260.1 444.6h.7v.7h-.7zM248.9 463.0h.7v.7h-.7zM253.4 442.7h.7v.7h-.7zM235.8 443.3h.7v.7h-.7zM260.1 430.5h.7v.7h-.7zM253.7 443.6h.7v.7h-.7zM253.8 448.5h.7v.7h-.7zM226.7 443.1h.7v.7h-.7zM221.7 445.8h.7v.7h-.7zM236.6 454.3h.7v.7h-.7zM223.7 449.3h.7v.7h-.7zM234.1 443.0h.7v.7h-.7zM225.3 461.8h.7v.7h-.7zM243.2 447.6h.7v.7h-.7zM274.0 433.1h.7v.7h-.7zM244.8 439.5h.7v.7h-.7zM242.6 443.7h.7v.7h-.7zM252.2 453.0h.7v.7h-.7zM246.8 456.5h.7v.7h-.7zM242.0 436.7h.7v.7h-.7zM225.2 453.8h.7v.7h-.7zM241.7 450.8h.7v.7h-.7zM254.7 439.7h.7v.7h-.7zM261.8 452.9h.7v.7h-.7zM266.1 452.7h.7v.7h-.7zM232.0 451.6h.7v.7h-.7zM247.6 435.5h.7v.7h-.7zM256.7 445.0h.7v.7h-.7zM251.0 460.2h.7v.7h-.7zM262.0 443.7h.7v.7h-.7zM255.0 455.3h.7v.7h-.7zM247.9 455.7h.7v.7h-.7zM253.1 443.4h.7v.7h-.7zM263.2 445.1h.7v.7h-.7zM240.2 444.0h.7v.7h-.7zM224.1 455.5h.7v.7h-.7zM231.2 432.4h.7v.7h-.7zM250.1 429.4h.7v.7h-.7zM242.5 453.0h.7v.7h-.7zM250.2 450.0h.7v.7h-.7zM242.5 439.4h.7v.7h-.7zM249.5 453.3h.7v.7h-.7zM245.3 454.8h.7v.7h-.7zM216.5 439.6h.7v.7h-.7zM213.9 443.6h.7v.7h-.7zM248.0 436.8h.7v.7h-.7zM239.3 446.3h.7v.7h-.7zM236.0 445.2h.7v.7h-.7zM257.8 447.1h.7v.7h-.7zM258.8 450.6h.7v.7h-.7zM239.7 447.6h.7v.7h-.7zM257.3 442.5h.7v.7h-.7zM238.0 456.9h.7v.7h-.7zM256.2 452.2h.7v.7h-.7zM239.6 445.6h.7v.7h-.7zM250.8 450.3h.7v.7h-.7zM256.7 438.2h.7v.7h-.7zM256.9 439.0h.7v.7h-.7zM234.3 443.1h.7v.7h-.7zM239.5 455.4h.7v.7h-.7zM260.7 464.0h.7v.7h-.7zM237.6 448.2h.7v.7h-.7zM262.1 433.2h.7v.7h-.7zM255.9 462.2h.7v.7h-.7zM258.0 441.1h.7v.7h-.7zM245.0 448.2h.7v.7h-.7zM237.7 438.7h.7v.7h-.7zM260.2 440.0h.7v.7h-.7zM259.0 438.4h.7v.7h-.7zM236.4 428.6h.7v.7h-.7zM215.4 462.0h.7v.7h-.7zM238.2 443.9h.7v.7h-.7zM256.4 435.4h.7v.7h-.7zM246.0 456.1h.7v.7h-.7zM255.9 458.9h.7v.7h-.7zM244.4 434.8h.7v.7h-.7zM246.2 451.3h.7v.7h-.7zM233.4 444.5h.7v.7h-.7zM245.7 464.7h.7v.7h-.7zM238.0 440.7h.7v.7h-.7zM243.7 441.9h.7v.7h-.7zM246.6 442.8h.7v.7h-.7zM230.9 441.4h.7v.7h-.7zM222.6 460.6h.7v.7h-.7zM262.9 446.1h.7v.7h-.7zM248.7 452.5h.7v.7h-.7zM250.0 439.8h.7v.7h-.7zM235.3 453.5h.7v.7h-.7zM242.8 450.4h.7v.7h-.7zM241.2 454.1h.7v.7h-.7zM244.2 449.0h.7v.7h-.7zM253.1 430.8h.7v.7h-.7zM257.2 457.7h.7v.7h-.7zM240.2 433.9h.7v.7h-.7zM250.9 439.9h.7v.7h-.7zM233.9 459.6h.7v.7h-.7zM244.7 438.3h.7v.7h-.7zM230.3 450.1h.7v.7h-.7zM250.2 450.2h.7v.7h-.7zM232.2 441.5h.7v.7h-.7zM245.8 443.8h.7v.7h-.7zM246.9 444.3h.7v.7h-.7zM245.4 448.5h.7v.7h-.7zM253.9 457.4h.7v.7h-.7zM245.5 430.6h.7v.7h-.7zM263.5 434.8h.7v.7h-.7zM249.1 456.7h.7v.7h-.7zM253.7 457.7h.7v.7h-.7zM246.2 464.8h.7v.7h-.7zM252.5 433.8h.7v.7h-.7zM254.9 444.4h.7v.7h-.7zM259.3 441.3h.7v.7h-.7zM256.4 436.6h.7v.7h-.7zM242.7 446.1h.7v.7h-.7zM260.0 440.5h.7v.7h-.7zM250.1 456.0h.7v.7h-.7zM224.1 459.5h.7v.7h-.7zM245.0 448.7h.7v.7h-.7zM269.8 446.6h.7v.7h-.7zM254.9 457.2h.7v.7h-.7zM264.0 456.9h.7v.7h-.7zM238.7 450.1h.7v.7h-.7zM228.6 437.1h.7v.7h-.7zM242.4 444.5h.7v.7h-.7zM239.2 440.8h.7v.7h-.7zM266.8 436.4h.7v.7h-.7zM252.5 436.8h.7v.7h-.7zM249.9 440.2h.7v.7h-.7zM225.4 430.7h.7v.7h-.7zM260.3 457.0h.7v.7h-.7zM242.6 445.6h.7v.7h-.7zM250.2 434.4h.7v.7h-.7zM240.6 433.6h.7v.7h-.7zM239.0 447.0h.7v.7h-.7zM242.2 461.1h.7v.7h-.7zM253.7 442.3h.7v.7h-.7zM248.9 443.3h.7v.7h-.7zM236.5 459.4h.7v.7h-.7zM243.9 442.3h.7v.7h-.7zM263.4 444.7h.7v.7h-.7zM258.3 425.6h.7v.7h-.7zM254.5 437.8h.7v.7h-.7zM241.3 454.3h.7v.7h-.7zM267.4 428.3h.7v.7h-.7zM262.3 444.5h.7v.7h-.7zM240.2 455.5h.7v.7h-.7zM244.5 442.4h.7v.7h-.7zM243.3 445.2h.7v.7h-.7zM239.8 455.8h.7v.7h-.7zM266.2 439.6h.7v.7h-.7zM238.0 445.9h.7v.7h-.7zM236.7 447.8h.7v.7h-.7zM247.9 446.9h.7v.7h-.7zM237.1 449.4h.7v.7h-.7zM230.6 443.8h.7v.7h-.7zM244.2 447.3h.7v.7h-.7zM256.2 445.5h.7v.7h-.7zM233.8 450.3h.7v.7h-.7zM244.3 453.3h.7v.7h-.7zM266.1 459.3h.7v.7h-.7zM245.7 439.0h.7v.7h-.7zM248.8 445.4h.7v.7h-.7zM236.9 434.5h.7v.7h-.7zM260.0 439.0h.7v.7h-.7zM258.5 455.6h.7v.7h-.7zM234.6 450.2h.7v.7h-.7zM245.0 435.1h.7v.7h-.7zM238.4 448.0h.7v.7h-.7zM257.6 441.0h.7v.7h-.7zM243.4 455.4h.7v.7h-.7zM241.0 441.4h.7v.7h-.7zM227.5 450.4h.7v.7h-.7zM237.4 439.0h.7v.7h-.7zM240.4 440.8h.7v.7h-.7zM281.3 442.4h.7v.7h-.7zM255.2 436.5h.7v.7h-.7zM256.3 449.8h.7v.7h-.7zM241.3 465.1h.7v.7h-.7zM234.4 438.1h.7v.7h-.7zM211.1 428.0h.7v.7h-.7zM237.3 446.4h.7v.7h-.7zM255.4 446.2h.7v.7h-.7zM236.5 439.0h.7v.7h-.7zM265.7 443.2h.7v.7h-.7zM267.0 446.1h.7v.7h-.7zM241.5 443.9h.7v.7h-.7zM252.0 453.4h.7v.7h-.7zM241.5 451.0h.7v.7h-.7zM230.3 433.6h.7v.7h-.7zM226.6 443.1h.7v.7h-.7zM237.8 452.6h.7v.7h-.7zM241.6 443.4h.7v.7h-.7zM242.2 435.0h.7v.7h-.7zM230.8 462.5h.7v.7h-.7zM252.9 435.1h.7v.7h-.7zM231.1 449.8h.7v.7h-.7zM219.3 428.1h.7v.7h-.7zM240.2 442.2h.7v.7h-.7zM255.3 438.2h.7v.7h-.7zM230.4 450.4h.7v.7h-.7zM234.2 448.1h.7v.7h-.7zM222.9 443.8h.7v.7h-.7zM267.9 435.2h.7v.7h-.7zM245.1 445.9h.7v.7h-.7zM247.5 445.7h.7v.7h-.7zM254.8 441.4h.7v.7h-.7zM234.5 448.5h.7v.7h-.7zM248.6 432.1h.7v.7h-.7zM254.8 443.8h.7v.7h-.7zM257.6 446.9h.7v.7h-.7zM230.8 443.8h.7v.7h-.7zM254.2 455.3h.7v.7h-.7zM243.7 452.1h.7v.7h-.7zM261.9 449.3h.7v.7h-.7zM263.3 452.2h.7v.7h-.7zM234.4 436.8h.7v.7h-.7zM235.9 460.8h.7v.7h-.7zM260.1 439.5h.7v.7h-.7zM245.5 463.8h.7v.7h-.7zM236.0 447.0h.7v.7h-.7zM241.7 453.9h.7v.7h-.7zM223.1 449.7h.7v.7h-.7zM248.2 456.2h.7v.7h-.7zM251.1 450.1h.7v.7h-.7zM234.5 449.2h.7v.7h-.7zM239.8 461.7h.7v.7h-.7zM249.8 447.3h.7v.7h-.7zM247.8 447.6h.7v.7h-.7zM241.2 452.3h.7v.7h-.7zM245.8 439.7h.7v.7h-.7zM256.7 453.1h.7v.7h-.7zM259.7 443.7h.7v.7h-.7zM257.3 459.3h.7v.7h-.7zM253.9 450.3h.7v.7h-.7zM245.5 434.3h.7v.7h-.7zM233.7 446.5h.7v.7h-.7zM258.7 451.3h.7v.7h-.7zM239.6 448.8h.7v.7h-.7zM244.7 441.1h.7v.7h-.7zM245.6 454.0h.7v.7h-.7zM232.3 443.7h.7v.7h-.7zM245.6 438.8h.7v.7h-.7zM234.8 450.7h.7v.7h-.7zM271.9 447.7h.7v.7h-.7zM239.8 460.0h.7v.7h-.7zM247.8 431.7h.7v.7h-.7zM239.4 431.3h.7v.7h-.7zM242.2 458.9h.7v.7h-.7zM258.0 444.4h.7v.7h-.7zM238.3 443.9h.7v.7h-.7zM233.1 439.5h.7v.7h-.7zM250.3 448.2h.7v.7h-.7zM248.4 445.8h.7v.7h-.7zM228.2 451.7h.7v.7h-.7zM246.3 453.7h.7v.7h-.7zM248.0 439.0h.7v.7h-.7zM257.4 453.5h.7v.7h-.7zM243.0 452.9h.7v.7h-.7zM251.5 443.3h.7v.7h-.7zM248.8 441.0h.7v.7h-.7zM262.3 443.5h.7v.7h-.7zM257.6 461.7h.7v.7h-.7zM246.8 452.6h.7v.7h-.7zM263.8 431.9h.7v.7h-.7zM271.8 452.1h.7v.7h-.7zM231.5 448.5h.7v.7h-.7zM272.0 448.0h.7v.7h-.7zM262.7 455.8h.7v.7h-.7zM238.4 450.2h.7v.7h-.7zM267.0 440.8h.7v.7h-.7zM247.4 442.7h.7v.7h-.7zM239.8 445.6h.7v.7h-.7zM220.6 442.1h.7v.7h-.7zM225.6 439.4h.7v.7h-.7zM239.3 455.6h.7v.7h-.7zM233.0 454.3h.7v.7h-.7zM241.2 440.9h.7v.7h-.7zM225.9 448.5h.7v.7h-.7zM245.1 453.6h.7v.7h-.7zM238.7 430.4h.7v.7h-.7zM252.7 458.1h.7v.7h-.7zM246.5 448.3h.7v.7h-.7zM252.1 449.4h.7v.7h-.7zM277.1 446.4h.7v.7h-.7zM252.3 454.5h.7v.7h-.7zM252.5 433.4h.7v.7h-.7zM250.9 444.6h.7v.7h-.7zM234.2 454.8h.7v.7h-.7zM238.2 450.6h.7v.7h-.7zM237.8 452.1h.7v.7h-.7zM262.2 440.4h.7v.7h-.7zM236.7 454.8h.7v.7h-.7zM235.4 455.8h.7v.7h-.7zM250.7 439.9h.7v.7h-.7zM239.4 458.0h.7v.7h-.7zM256.3 448.5h.7v.7h-.7zM248.8 456.2h.7v.7h-.7zM238.9 450.1h.7v.7h-.7zM251.7 458.1h.7v.7h-.7zM241.8 445.8h.7v.7h-.7zM249.4 445.6h.7v.7h-.7zM243.2 451.8h.7v.7h-.7zM240.3 445.1h.7v.7h-.7zM249.3 448.3h.7v.7h-.7zM241.7 446.6h.7v.7h-.7zM231.7 441.3h.7v.7h-.7zM237.6 438.5h.7v.7h-.7zM264.3 464.4h.7v.7h-.7zM243.3 446.6h.7v.7h-.7zM244.5 444.4h.7v.7h-.7zM239.4 454.7h.7v.7h-.7zM252.5 436.9h.7v.7h-.7zM248.7 440.6h.7v.7h-.7zM253.7 441.2h.7v.7h-.7zM249.8 441.4h.7v.7h-.7zM243.9 450.3h.7v.7h-.7zM254.4 436.2h.7v.7h-.7zM239.6 440.7h.7v.7h-.7zM225.9 449.3h.7v.7h-.7zM243.5 444.9h.7v.7h-.7zM236.4 461.7h.7v.7h-.7zM235.5 426.2h.7v.7h-.7zM241.8 449.7h.7v.7h-.7zM233.2 446.2h.7v.7h-.7zM218.6 445.2h.7v.7h-.7zM246.8 439.7h.7v.7h-.7zM232.9 438.7h.7v.7h-.7zM239.7 455.8h.7v.7h-.7zM247.3 442.3h.7v.7h-.7zM240.2 453.6h.7v.7h-.7zM238.0 440.1h.7v.7h-.7zM255.3 447.2h.7v.7h-.7zM261.8 445.3h.7v.7h-.7zM242.4 450.7h.7v.7h-.7zM248.4 447.6h.7v.7h-.7zM234.8 441.9h.7v.7h-.7zM236.9 443.2h.7v.7h-.7zM261.4 440.0h.7v.7h-.7zM251.6 450.8h.7v.7h-.7zM227.5 455.4h.7v.7h-.7zM248.8 450.2h.7v.7h-.7zM248.4 455.3h.7v.7h-.7zM250.7 442.0h.7v.7h-.7zM238.6 440.3h.7v.7h-.7zM236.7 440.3h.7v.7h-.7zM248.8 455.0h.7v.7h-.7zM243.6 455.5h.7v.7h-.7zM259.5 452.7h.7v.7h-.7zM226.4 426.5h.7v.7h-.7zM258.9 451.2h.7v.7h-.7zM229.3 441.3h.7v.7h-.7zM248.7 447.1h.7v.7h-.7zM230.6 446.8h.7v.7h-.7zM228.4 445.2h.7v.7h-.7zM253.4 449.4h.7v.7h-.7zM239.1 452.3h.7v.7h-.7zM269.1 444.9h.7v.7h-.7zM247.6 435.7h.7v.7h-.7zM255.4 434.2h.7v.7h-.7zM243.4 454.5h.7v.7h-.7zM253.1 420.9h.7v.7h-.7zM236.3 427.7h.7v.7h-.7zM242.5 435.4h.7v.7h-.7zM272.8 456.7h.7v.7h-.7zM234.1 444.7h.7v.7h-.7zM246.7 455.0h.7v.7h-.7zM262.7 452.5h.7v.7h-.7zM230.8 421.7h.7v.7h-.7zM227.6 437.8h.7v.7h-.7zM255.2 436.4h.7v.7h-.7zM261.4 453.5h.7v.7h-.7zM246.9 453.8h.7v.7h-.7zM237.5 455.6h.7v.7h-.7zM247.2 442.4h.7v.7h-.7zM236.5 430.3h.7v.7h-.7zM242.1 451.4h.7v.7h-.7zM241.1 443.4h.7v.7h-.7zM229.8 457.2h.7v.7h-.7zM245.7 447.0h.7v.7h-.7zM236.1 445.0h.7v.7h-.7zM249.7 450.5h.7v.7h-.7zM239.1 442.8h.7v.7h-.7zM253.8 459.3h.7v.7h-.7zM240.9 451.3h.7v.7h-.7zM254.9 450.0h.7v.7h-.7zM235.0 447.3h.7v.7h-.7zM247.0 438.1h.7v.7h-.7zM246.7 447.0h.7v.7h-.7zM237.6 460.4h.7v.7h-.7zM249.7 440.2h.7v.7h-.7zM260.3 444.8h.7v.7h-.7zM234.0 437.4h.7v.7h-.7zM258.9 437.6h.7v.7h-.7zM250.0 450.9h.7v.7h-.7zM239.2 453.1h.7v.7h-.7zM258.5 446.5h.7v.7h-.7zM246.1 452.5h.7v.7h-.7zM247.0 457.8h.7v.7h-.7zM255.2 447.8h.7v.7h-.7zM248.8 443.9h.7v.7h-.7zM254.0 441.2h.7v.7h-.7zM245.6 436.9h.7v.7h-.7zM274.7 449.5h.7v.7h-.7zM246.7 450.9h.7v.7h-.7zM226.1 458.9h.7v.7h-.7zM226.4 452.2h.7v.7h-.7zM241.4 453.2h.7v.7h-.7zM253.8 449.2h.7v.7h-.7zM258.2 444.6h.7v.7h-.7zM249.0 444.6h.7v.7h-.7zM237.9 438.3h.7v.7h-.7zM250.6 461.0h.7v.7h-.7zM236.0 443.1h.7v.7h-.7zM237.8 450.3h.7v.7h-.7zM222.1 448.4h.7v.7h-.7zM237.2 438.9h.7v.7h-.7zM249.0 448.7h.7v.7h-.7zM249.6 457.0h.7v.7h-.7zM229.2 456.1h.7v.7h-.7zM252.5 466.9h.7v.7h-.7zM262.7 451.3h.7v.7h-.7zM222.8 449.2h.7v.7h-.7zM264.5 453.8h.7v.7h-.7zM245.2 437.1h.7v.7h-.7zM246.7 435.2h.7v.7h-.7zM236.6 443.8h.7v.7h-.7zM251.1 441.9h.7v.7h-.7zM245.3 446.9h.7v.7h-.7zM249.3 452.1h.7v.7h-.7zM251.8 444.8h.7v.7h-.7zM248.0 442.0h.7v.7h-.7zM231.5 442.4h.7v.7h-.7zM245.9 430.6h.7v.7h-.7zM255.4 450.0h.7v.7h-.7zM227.2 438.7h.7v.7h-.7zM235.3 428.5h.7v.7h-.7zM225.1 450.5h.7v.7h-.7zM222.0 465.0h.7v.7h-.7zM263.0 459.8h.7v.7h-.7zM252.1 456.6h.7v.7h-.7zM262.0 439.1h.7v.7h-.7zM265.1 440.6h.7v.7h-.7zM241.8 425.6h.7v.7h-.7zM242.1 433.0h.7v.7h-.7zM273.5 450.1h.7v.7h-.7zM256.9 443.1h.7v.7h-.7zM257.4 451.5h.7v.7h-.7zM241.5 451.5h.7v.7h-.7zM241.0 436.5h.7v.7h-.7zM221.5 433.7h.7v.7h-.7zM253.2 463.1h.7v.7h-.7zM240.4 442.1h.7v.7h-.7zM262.0 445.8h.7v.7h-.7zM250.2 447.2h.7v.7h-.7zM216.5 435.9h.7v.7h-.7zM249.9 447.9h.7v.7h-.7zM242.6 436.1h.7v.7h-.7zM247.7 444.7h.7v.7h-.7zM233.9 445.1h.7v.7h-.7zM249.1 464.7h.7v.7h-.7zM259.4 439.5h.7v.7h-.7zM255.7 434.1h.7v.7h-.7zM217.3 440.5h.7v.7h-.7zM269.5 453.1h.7v.7h-.7zM237.5 450.4h.7v.7h-.7zM220.6 445.4h.7v.7h-.7zM234.1 436.7h.7v.7h-.7zM241.2 440.4h.7v.7h-.7zM249.9 436.6h.7v.7h-.7zM250.7 450.7h.7v.7h-.7zM256.0 452.3h.7v.7h-.7zM254.5 455.7h.7v.7h-.7zM261.5 455.8h.7v.7h-.7zM260.5 436.1h.7v.7h-.7zM242.9 459.1h.7v.7h-.7zM238.7 453.2h.7v.7h-.7zM259.1 458.2h.7v.7h-.7zM238.6 449.0h.7v.7h-.7zM244.5 452.4h.7v.7h-.7zM222.6 446.4h.7v.7h-.7zM260.5 446.9h.7v.7h-.7zM258.5 458.9h.7v.7h-.7zM247.9 443.6h.7v.7h-.7zM239.2 437.1h.7v.7h-.7zM240.7 445.5h.7v.7h-.7zM257.9 441.4h.7v.7h-.7zM237.6 446.5h.7v.7h-.7zM243.4 457.6h.7v.7h-.7zM246.4 458.8h.7v.7h-.7zM247.2 425.3h.7v.7h-.7zM243.9 437.8h.7v.7h-.7zM246.3 439.3h.7v.7h-.7zM257.3 444.7h.7v.7h-.7zM241.7 464.3h.7v.7h-.7zM242.1 443.2h.7v.7h-.7zM241.9 453.1h.7v.7h-.7zM249.2 447.3h.7v.7h-.7zM260.5 442.0h.7v.7h-.7zM255.1 453.9h.7v.7h-.7zM249.9 442.9h.7v.7h-.7zM244.4 456.3h.7v.7h-.7zM212.9 459.6h.7v.7h-.7zM234.6 454.9h.7v.7h-.7zM252.6 450.6h.7v.7h-.7zM252.6 443.0h.7v.7h-.7zM266.0 447.5h.7v.7h-.7zM256.3 445.4h.7v.7h-.7zM242.1 456.1h.7v.7h-.7zM234.2 446.8h.7v.7h-.7zM236.0 433.8h.7v.7h-.7zM258.3 447.2h.7v.7h-.7zM223.6 446.5h.7v.7h-.7zM274.9 455.9h.7v.7h-.7zM243.5 450.1h.7v.7h-.7zM242.7 449.0h.7v.7h-.7zM244.6 448.7h.7v.7h-.7zM240.5 454.2h.7v.7h-.7zM231.6 432.8h.7v.7h-.7zM225.5 441.4h.7v.7h-.7zM247.6 451.8h.7v.7h-.7zM255.8 434.3h.7v.7h-.7zM226.9 452.2h.7v.7h-.7zM267.9 452.3h.7v.7h-.7zM244.5 455.7h.7v.7h-.7zM266.4 455.3h.7v.7h-.7zM248.7 444.5h.7v.7h-.7zM239.4 443.4h.7v.7h-.7zM231.4 450.0h.7v.7h-.7zM258.8 444.6h.7v.7h-.7zM255.7 452.7h.7v.7h-.7zM244.7 446.6h.7v.7h-.7zM264.4 440.8h.7v.7h-.7zM237.7 443.6h.7v.7h-.7zM236.9 451.8h.7v.7h-.7zM253.6 444.8h.7v.7h-.7zM254.0 432.2h.7v.7h-.7zM247.5 466.8h.7v.7h-.7zM258.0 438.6h.7v.7h-.7zM257.0 441.7h.7v.7h-.7zM253.6 452.8h.7v.7h-.7zM228.8 462.4h.7v.7h-.7zM229.3 443.4h.7v.7h-.7zM254.6 452.2h.7v.7h-.7zM248.9 444.4h.7v.7h-.7zM256.0 450.2h.7v.7h-.7zM242.2 456.4h.7v.7h-.7zM265.4 442.2h.7v.7h-.7zM241.4 438.4h.7v.7h-.7zM231.5 448.6h.7v.7h-.7zM258.1 435.2h.7v.7h-.7zM243.4 449.9h.7v.7h-.7zM239.1 454.4h.7v.7h-.7zM253.7 446.7h.7v.7h-.7zM260.7 450.1h.7v.7h-.7zM259.8 452.3h.7v.7h-.7zM243.2 459.8h.7v.7h-.7zM238.0 450.3h.7v.7h-.7zM242.3 440.3h.7v.7h-.7zM230.5 456.9h.7v.7h-.7zM262.9 456.3h.7v.7h-.7zM222.3 452.7h.7v.7h-.7zM247.7 452.2h.7v.7h-.7zM249.6 452.2h.7v.7h-.7zM252.0 456.2h.7v.7h-.7zM248.2 442.8h.7v.7h-.7zM219.5 449.8h.7v.7h-.7zM220.5 442.4h.7v.7h-.7zM246.1 446.1h.7v.7h-.7zM237.2 461.8h.7v.7h-.7zM229.0 457.3h.7v.7h-.7zM242.7 446.1h.7v.7h-.7z" fill="#111"/>
<rect x="46.2" y="349.2" width="122.99999999999999" height="122.0" fill="none" stroke="#111" stroke-width="1.3"/>
<line x1="85.0" y1="349.2" x2="85.0" y2="471.2" stroke="#111" stroke-width="1.3"/>
<line x1="46.2" y1="425.0" x2="169.2" y2="425.0" stroke="#111" stroke-width="1.3"/>
<rect x="185.8" y="349.2" width="122.80000000000001" height="122.0" fill="none" stroke="#111" stroke-width="1.3"/>
<line x1="224.4" y1="349.2" x2="224.4" y2="471.2" stroke="#111" stroke-width="1.3"/>
<line x1="185.8" y1="425.0" x2="308.6" y2="425.0" stroke="#111" stroke-width="1.3"/>
<text transform="translate(0.00,362.70)" x="48.59" textLength="15.60" lengthAdjust="spacingAndGlyphs" text-anchor="start" fill="#231f20" font-weight="normal"  stroke="#231f20" stroke-width="0.15"><tspan font-size="8.7">66.1</tspan></text>
<text transform="translate(0.00,362.80)" x="141.99" textLength="16.04" lengthAdjust="spacingAndGlyphs" text-anchor="start" fill="#231f20" font-weight="normal"  stroke="#231f20" stroke-width="0.15"><tspan font-size="8.7">33.0</tspan></text>
<text transform="translate(0.00,463.50)" x="48.47" textLength="11.88" lengthAdjust="spacingAndGlyphs" text-anchor="start" fill="#231f20" font-weight="normal"  stroke="#231f20" stroke-width="0.15"><tspan font-size="8.7">0.4</tspan></text>
<text transform="translate(0.00,463.50)" x="145.47" textLength="11.88" lengthAdjust="spacingAndGlyphs" text-anchor="start" fill="#231f20" font-weight="normal"  stroke="#231f20" stroke-width="0.15"><tspan font-size="8.7">0.4</tspan></text>
<text transform="translate(0.00,362.80)" x="188.57" textLength="16.04" lengthAdjust="spacingAndGlyphs" text-anchor="start" fill="#231f20" font-weight="normal"  stroke="#231f20" stroke-width="0.15"><tspan font-size="8.7">19.7</tspan></text>
<text transform="translate(0.00,362.80)" x="280.61" textLength="11.48" lengthAdjust="spacingAndGlyphs" text-anchor="start" fill="#231f20" font-weight="normal"  stroke="#231f20" stroke-width="0.15"><tspan font-size="8.7">9.9</tspan></text>
<text transform="translate(0.00,463.60)" x="187.81" textLength="16.30" lengthAdjust="spacingAndGlyphs" text-anchor="start" fill="#231f20" font-weight="normal"  stroke="#231f20" stroke-width="0.15"><tspan font-size="8.7">43.1</tspan></text>
<text transform="translate(0.00,463.60)" x="280.58" textLength="16.39" lengthAdjust="spacingAndGlyphs" text-anchor="start" fill="#231f20" font-weight="normal"  stroke="#231f20" stroke-width="0.15"><tspan font-size="8.7">27.3</tspan></text>
<text transform="translate(0.00,340.90)" x="75.03" textLength="64.37" lengthAdjust="spacingAndGlyphs" text-anchor="start" fill="#231f20" font-weight="normal"  stroke="#231f20" stroke-width="0.15"><tspan font-size="7.0" dy="2.20">RV</tspan><tspan font-size="10.0" dy="-2.20">19BB_TCR</tspan><tspan font-size="8.2" dy="-2.80">+</tspan></text>
<text transform="translate(0.00,341.30)" x="209.83" textLength="74.24" lengthAdjust="spacingAndGlyphs" text-anchor="start" fill="#231f20" font-weight="normal"  stroke="#231f20" stroke-width="0.15"><tspan font-size="7.0" dy="2.20">RV</tspan><tspan font-size="10.0" dy="-2.20">19BB</tspan><tspan font-size="7.0" dy="2.20">CR</tspan><tspan font-size="10.0" dy="-2.20">TRBC</tspan><tspan font-size="8.2" dy="-2.80">-</tspan></text>
<line x1="37.6" y1="349.2" x2="37.6" y2="442.4" stroke="#333" stroke-width="1.1"/>
<text transform="translate(40.50,0.00) rotate(-90)" x="-471.68" textLength="25.08" lengthAdjust="spacingAndGlyphs" text-anchor="start" fill="#231f20" font-weight="normal"  stroke="#231f20" stroke-width="0.15"><tspan font-size="10.0">TCRαβ</tspan></text>
<text transform="translate(0.00,483.90)" x="46.14" textLength="14.89" lengthAdjust="spacingAndGlyphs" text-anchor="start" fill="#231f20" font-weight="normal"  stroke="#231f20" stroke-width="0.15"><tspan font-size="10.0">CAR</tspan></text>
<line x1="65.3" y1="480.8" x2="308.6" y2="480.8" stroke="#444" stroke-width="1.3"/>
<text x="325.0" y="322.4" font-size="13.2" font-weight="bold" fill="#000" stroke="#000" stroke-width="0.3">G</text>
<text transform="translate(0.00,341.90)" x="372.03" textLength="74.34" lengthAdjust="spacingAndGlyphs" text-anchor="start" fill="#231f20" font-weight="normal"  stroke="#231f20" stroke-width="0.15"><tspan font-size="7.0" dy="2.20">RV</tspan><tspan font-size="10.0" dy="-2.20">19BB</tspan><tspan font-size="7.0" dy="2.20">CR</tspan><tspan font-size="10.0" dy="-2.20">TRBC</tspan><tspan font-size="8.2" dy="-2.80">-</tspan></text>
<path d="M349.00,410.00 C356.17,410.00 384.17,410.07 392.00,410.00 C399.83,409.93 394.67,409.85 396.00,409.60 C397.33,409.35 398.50,409.03 400.00,408.50 C401.50,407.97 403.33,407.15 405.00,406.40 C406.67,405.65 408.45,404.92 410.00,404.00 C411.55,403.08 412.98,402.62 414.30,400.90 C415.62,399.18 416.90,396.52 417.90,393.70 C418.90,390.88 419.50,388.02 420.30,384.00 C421.10,379.98 421.90,374.00 422.70,369.60 C423.50,365.20 424.38,360.20 425.10,357.60 C425.82,355.00 426.20,353.80 427.00,354.00 C427.80,354.20 429.02,356.20 429.90,358.80 C430.78,361.40 431.50,365.40 432.30,369.60 C433.10,373.80 433.90,379.60 434.70,384.00 C435.50,388.40 436.08,392.38 437.10,396.00 C438.12,399.62 439.38,403.37 440.80,405.70 C442.22,408.03 440.73,409.28 445.60,410.00 C450.47,410.72 465.93,410.00 470.00,410.00" fill="none" stroke="#b8264d" stroke-width="1.3" stroke-linejoin="round"/>
<path d="M349.40,471.00 L349.84,471.00 L350.42,471.00 L351.11,471.00 L351.88,471.00 L352.70,471.00 L353.55,471.00 L354.39,471.00 L355.20,471.00 L355.94,471.00 L356.60,471.00 L357.18,470.72 L357.73,470.40 L358.25,470.08 L358.75,470.18 L359.23,468.73 L359.68,469.07 L360.12,467.91 L360.56,467.24 L360.98,467.47 L361.40,465.87 L361.64,465.26 L361.88,465.04 L362.11,464.63 L362.33,463.48 L362.55,463.11 L362.76,461.73 L362.97,461.30 L363.17,460.55 L363.38,459.41 L363.58,458.58 L363.78,457.76 L363.98,457.61 L364.18,456.86 L364.38,456.01 L364.58,455.40 L364.79,453.98 L365.00,453.76 L365.17,453.27 L365.34,452.86 L365.51,451.50 L365.69,451.05 L365.86,449.66 L366.03,449.68 L366.20,448.25 L366.37,447.92 L366.54,448.38 L366.71,446.20 L366.89,446.86 L367.06,445.95 L367.23,444.96 L367.40,444.60 L367.57,443.92 L367.74,443.44 L367.91,442.14 L368.09,441.25 L368.26,440.51 L368.43,439.60 L368.60,439.28 L368.75,438.28 L368.90,438.43 L369.05,436.40 L369.20,436.02 L369.36,435.34 L369.51,434.08 L369.66,435.11 L369.81,432.41 L369.97,432.59 L370.12,431.71 L370.27,431.91 L370.43,429.51 L370.58,430.12 L370.73,428.56 L370.88,428.08 L371.03,427.12 L371.18,427.00 L371.33,425.52 L371.48,425.33 L371.62,424.89 L371.77,424.95 L371.91,422.46 L372.06,423.69 L372.20,422.93 L372.54,421.19 L372.89,420.59 L373.24,419.42 L373.59,419.65 L373.93,418.37 L374.25,417.63 L374.57,417.13 L374.87,416.71 L375.15,416.31 L375.40,415.60 L376.29,415.85 L377.00,413.94 L377.75,413.37 L378.70,415.94 L379.03,416.38 L379.39,417.13 L379.77,417.46 L380.18,418.13 L380.60,419.05 L381.04,420.10 L381.47,420.26 L381.90,421.13 L382.16,422.71 L382.42,422.62 L382.68,422.51 L382.94,424.58 L383.20,424.49 L383.47,424.49 L383.74,424.87 L384.01,426.19 L384.29,426.37 L384.58,426.97 L384.88,427.59 L385.18,428.70 L385.50,430.20 L385.74,430.09 L385.98,430.23 L386.23,431.80 L386.49,432.17 L386.75,433.18 L387.01,434.00 L387.28,434.07 L387.55,434.76 L387.83,435.50 L388.10,435.72 L388.38,437.23 L388.66,438.25 L388.93,438.42 L389.21,438.94 L389.49,439.63 L389.76,440.09 L390.03,440.76 L390.30,441.62 L390.57,442.10 L390.83,442.96 L391.10,443.14 L391.37,444.70 L391.63,445.26 L391.90,445.42 L392.17,445.61 L392.43,447.33 L392.70,448.53 L392.97,448.39 L393.23,449.18 L393.50,449.81 L393.77,451.02 L394.03,450.97 L394.30,452.45 L394.57,452.49 L394.83,453.64 L395.10,453.81 L395.47,454.47 L395.83,454.66 L396.18,455.75 L396.54,456.65 L396.89,457.75 L397.25,458.23 L397.60,458.46 L397.97,459.58 L398.33,460.44 L398.71,460.51 L399.10,460.94 L399.49,461.50 L399.90,462.56 L400.45,463.09 L401.02,463.04 L401.61,464.20 L402.21,464.36 L402.82,464.74 L403.44,466.11 L404.06,466.34 L404.68,466.03 L405.29,466.74 L405.90,467.23 L406.64,467.01 L407.37,467.46 L408.10,467.96 L408.82,466.93 L409.56,467.92 L410.32,468.10 L411.09,467.97 L411.90,467.10 L412.58,467.78 L413.30,467.15 L414.05,467.66 L414.81,467.52 L415.57,467.17 L416.34,466.55 L417.08,466.45 L417.79,466.94 L418.47,466.01 L419.10,466.52 L420.04,466.38 L420.88,465.90 L421.65,467.01 L422.39,465.89 L423.13,466.78 L423.90,464.89 L424.71,464.79 L425.54,466.26 L426.37,466.16 L427.19,465.82 L427.97,466.07 L428.70,465.44 L429.36,466.31 L429.94,466.51 L430.50,467.31 L431.06,468.27 L431.64,468.33 L432.30,468.87 L432.91,468.70 L433.55,469.13 L434.20,469.68 L434.89,469.79 L435.60,470.75 L436.34,470.02 L437.10,471.00 L437.66,470.28 L438.05,471.00 L438.38,470.53 L438.78,471.00 L439.34,471.00 L440.19,470.96 L441.44,470.98 L443.20,471.00 L443.66,471.00 L444.16,471.00 L444.70,471.00 L445.28,471.00 L445.90,471.00 L446.55,471.00 L447.24,471.00 L447.95,471.00 L448.69,471.00 L449.46,471.00 L450.24,471.00 L451.05,471.00 L451.87,471.00 L452.70,471.00 L453.55,471.00 L454.40,471.00 L455.26,471.00 L456.12,471.00 L456.98,471.00 L457.84,471.00 L458.70,471.00 L459.54,471.00 L460.38,471.00 L461.21,471.00 L462.02,471.00 L462.81,471.00 L463.58,471.00 L464.33,471.00 L465.06,471.00 L465.75,471.00 L466.42,471.00 L467.05,471.00 L467.65,471.00 L468.21,471.00 L468.72,471.00 L469.20,471.00 L469.62,471.00 L470.00,471.00" fill="none" stroke="#34579a" stroke-width="1.3" stroke-linejoin="round"/>
<rect x="347.8" y="349.0" width="122.6" height="122.3" fill="none" stroke="#111" stroke-width="1.3"/>
<text transform="translate(0.00,378.50)" x="473.71" textLength="20.37" lengthAdjust="spacingAndGlyphs" text-anchor="start" fill="#231f20" font-weight="normal"  stroke="#231f20" stroke-width="0.15"><tspan font-size="9.2">TCR</tspan><tspan font-size="6.4" dy="-3.60">+</tspan></text>
<text transform="translate(0.00,450.20)" x="473.71" textLength="18.93" lengthAdjust="spacingAndGlyphs" text-anchor="start" fill="#231f20" font-weight="normal"  stroke="#231f20" stroke-width="0.15"><tspan font-size="9.2">TCR</tspan><tspan font-size="6.0" dy="-3.80">-</tspan></text>
<text transform="translate(0.00,483.90)" x="347.31" textLength="15.33" lengthAdjust="spacingAndGlyphs" text-anchor="start" fill="#231f20" font-weight="normal"  stroke="#231f20" stroke-width="0.15"><tspan font-size="10.0">CD3</tspan></text>
<line x1="367.3" y1="480.8" x2="470.4" y2="480.8" stroke="#444" stroke-width="1.3"/>
<text x="5.6" y="513.5" font-size="13.2" font-weight="bold" fill="#000" stroke="#000" stroke-width="0.3">H</text>
<line x1="46.1" y1="549.4" x2="46.1" y2="651.2" stroke="#111" stroke-width="1.5"/>
<line x1="45.35" y1="650.6" x2="193.8" y2="650.6" stroke="#111" stroke-width="1.5"/>
<line x1="42.800000000000004" y1="650.90" x2="46.1" y2="650.90" stroke="#111" stroke-width="1.2"/>
<text x="39.80" y="653.95" font-size="8.7" fill="#231f20" text-anchor="end" stroke="#231f20" stroke-width="0.15">0.1</text>
<line x1="44.300000000000004" y1="643.49" x2="46.1" y2="643.49" stroke="#111" stroke-width="0.8"/>
<line x1="44.300000000000004" y1="639.16" x2="46.1" y2="639.16" stroke="#111" stroke-width="0.8"/>
<line x1="44.300000000000004" y1="636.09" x2="46.1" y2="636.09" stroke="#111" stroke-width="0.8"/>
<line x1="44.300000000000004" y1="633.71" x2="46.1" y2="633.71" stroke="#111" stroke-width="0.8"/>
<line x1="44.300000000000004" y1="631.76" x2="46.1" y2="631.76" stroke="#111" stroke-width="0.8"/>
<line x1="44.300000000000004" y1="630.11" x2="46.1" y2="630.11" stroke="#111" stroke-width="0.8"/>
<line x1="44.300000000000004" y1="628.68" x2="46.1" y2="628.68" stroke="#111" stroke-width="0.8"/>
<line x1="44.300000000000004" y1="627.43" x2="46.1" y2="627.43" stroke="#111" stroke-width="0.8"/>
<line x1="42.800000000000004" y1="626.30" x2="46.1" y2="626.30" stroke="#111" stroke-width="1.2"/>
<text x="39.80" y="629.35" font-size="8.7" fill="#231f20" text-anchor="end" stroke="#231f20" stroke-width="0.15">1</text>
<line x1="44.300000000000004" y1="618.89" x2="46.1" y2="618.89" stroke="#111" stroke-width="0.8"/>
<line x1="44.300000000000004" y1="614.56" x2="46.1" y2="614.56" stroke="#111" stroke-width="0.8"/>
<line x1="44.300000000000004" y1="611.49" x2="46.1" y2="611.49" stroke="#111" stroke-width="0.8"/>
<line x1="44.300000000000004" y1="609.11" x2="46.1" y2="609.11" stroke="#111" stroke-width="0.8"/>
<line x1="44.300000000000004" y1="607.16" x2="46.1" y2="607.16" stroke="#111" stroke-width="0.8"/>
<line x1="44.300000000000004" y1="605.51" x2="46.1" y2="605.51" stroke="#111" stroke-width="0.8"/>
<line x1="44.300000000000004" y1="604.08" x2="46.1" y2="604.08" stroke="#111" stroke-width="0.8"/>
<line x1="44.300000000000004" y1="602.83" x2="46.1" y2="602.83" stroke="#111" stroke-width="0.8"/>
<line x1="42.800000000000004" y1="601.70" x2="46.1" y2="601.70" stroke="#111" stroke-width="1.2"/>
<text x="39.80" y="604.75" font-size="8.7" fill="#231f20" text-anchor="end" stroke="#231f20" stroke-width="0.15">10</text>
<line x1="44.300000000000004" y1="594.29" x2="46.1" y2="594.29" stroke="#111" stroke-width="0.8"/>
<line x1="44.300000000000004" y1="589.96" x2="46.1" y2="589.96" stroke="#111" stroke-width="0.8"/>
<line x1="44.300000000000004" y1="586.89" x2="46.1" y2="586.89" stroke="#111" stroke-width="0.8"/>
<line x1="44.300000000000004" y1="584.51" x2="46.1" y2="584.51" stroke="#111" stroke-width="0.8"/>
<line x1="44.300000000000004" y1="582.56" x2="46.1" y2="582.56" stroke="#111" stroke-width="0.8"/>
<line x1="44.300000000000004" y1="580.91" x2="46.1" y2="580.91" stroke="#111" stroke-width="0.8"/>
<line x1="44.300000000000004" y1="579.48" x2="46.1" y2="579.48" stroke="#111" stroke-width="0.8"/>
<line x1="44.300000000000004" y1="578.23" x2="46.1" y2="578.23" stroke="#111" stroke-width="0.8"/>
<line x1="42.800000000000004" y1="577.10" x2="46.1" y2="577.10" stroke="#111" stroke-width="1.2"/>
<text x="39.80" y="580.15" font-size="8.7" fill="#231f20" text-anchor="end" stroke="#231f20" stroke-width="0.15">100</text>
<line x1="44.300000000000004" y1="569.69" x2="46.1" y2="569.69" stroke="#111" stroke-width="0.8"/>
<line x1="44.300000000000004" y1="565.36" x2="46.1" y2="565.36" stroke="#111" stroke-width="0.8"/>
<line x1="44.300000000000004" y1="562.29" x2="46.1" y2="562.29" stroke="#111" stroke-width="0.8"/>
<line x1="44.300000000000004" y1="559.91" x2="46.1" y2="559.91" stroke="#111" stroke-width="0.8"/>
<line x1="44.300000000000004" y1="557.96" x2="46.1" y2="557.96" stroke="#111" stroke-width="0.8"/>
<line x1="44.300000000000004" y1="556.31" x2="46.1" y2="556.31" stroke="#111" stroke-width="0.8"/>
<line x1="44.300000000000004" y1="554.88" x2="46.1" y2="554.88" stroke="#111" stroke-width="0.8"/>
<line x1="44.300000000000004" y1="553.63" x2="46.1" y2="553.63" stroke="#111" stroke-width="0.8"/>
<line x1="42.800000000000004" y1="552.50" x2="46.1" y2="552.50" stroke="#111" stroke-width="1.2"/>
<text x="39.80" y="555.55" font-size="8.7" fill="#231f20" text-anchor="end" stroke="#231f20" stroke-width="0.15">1000</text>
<line x1="52.60" y1="650.6" x2="52.60" y2="654" stroke="#111" stroke-width="1.2"/>
<text x="52.60" y="664.2" font-size="8.7" fill="#231f20" text-anchor="middle" stroke="#231f20" stroke-width="0.15">0</text>
<line x1="62.20" y1="650.6" x2="62.20" y2="654" stroke="#111" stroke-width="1.2"/>
<text x="62.20" y="664.2" font-size="8.7" fill="#231f20" text-anchor="middle" stroke="#231f20" stroke-width="0.15">1</text>
<line x1="71.80" y1="650.6" x2="71.80" y2="654" stroke="#111" stroke-width="1.2"/>
<text x="71.80" y="664.2" font-size="8.7" fill="#231f20" text-anchor="middle" stroke="#231f20" stroke-width="0.15">2</text>
<line x1="81.40" y1="650.6" x2="81.40" y2="654" stroke="#111" stroke-width="1.2"/>
<text x="81.40" y="664.2" font-size="8.7" fill="#231f20" text-anchor="middle" stroke="#231f20" stroke-width="0.15">3</text>
<line x1="91.00" y1="650.6" x2="91.00" y2="654" stroke="#111" stroke-width="1.2"/>
<text x="91.00" y="664.2" font-size="8.7" fill="#231f20" text-anchor="middle" stroke="#231f20" stroke-width="0.15">4</text>
<line x1="100.60" y1="650.6" x2="100.60" y2="654" stroke="#111" stroke-width="1.2"/>
<text x="100.60" y="664.2" font-size="8.7" fill="#231f20" text-anchor="middle" stroke="#231f20" stroke-width="0.15">5</text>
<line x1="110.20" y1="650.6" x2="110.20" y2="654" stroke="#111" stroke-width="1.2"/>
<text x="110.20" y="664.2" font-size="8.7" fill="#231f20" text-anchor="middle" stroke="#231f20" stroke-width="0.15">6</text>
<line x1="119.80" y1="650.6" x2="119.80" y2="654" stroke="#111" stroke-width="1.2"/>
<text x="119.80" y="664.2" font-size="8.7" fill="#231f20" text-anchor="middle" stroke="#231f20" stroke-width="0.15">7</text>
<line x1="129.40" y1="650.6" x2="129.40" y2="654" stroke="#111" stroke-width="1.2"/>
<text x="129.40" y="664.2" font-size="8.7" fill="#231f20" text-anchor="middle" stroke="#231f20" stroke-width="0.15">8</text>
<line x1="139.00" y1="650.6" x2="139.00" y2="654" stroke="#111" stroke-width="1.2"/>
<text x="139.00" y="664.2" font-size="8.7" fill="#231f20" text-anchor="middle" stroke="#231f20" stroke-width="0.15">9</text>
<line x1="148.60" y1="650.6" x2="148.60" y2="654" stroke="#111" stroke-width="1.2"/>
<text x="148.60" y="664.2" font-size="8.7" fill="#231f20" text-anchor="middle" stroke="#231f20" stroke-width="0.15">10</text>
<line x1="158.20" y1="650.6" x2="158.20" y2="654" stroke="#111" stroke-width="1.2"/>
<text x="158.20" y="664.2" font-size="8.7" fill="#231f20" text-anchor="middle" stroke="#231f20" stroke-width="0.15">11</text>
<line x1="167.80" y1="650.6" x2="167.80" y2="654" stroke="#111" stroke-width="1.2"/>
<text x="167.80" y="664.2" font-size="8.7" fill="#231f20" text-anchor="middle" stroke="#231f20" stroke-width="0.15">12</text>
<line x1="177.40" y1="650.6" x2="177.40" y2="654" stroke="#111" stroke-width="1.2"/>
<text x="177.40" y="664.2" font-size="8.7" fill="#231f20" text-anchor="middle" stroke="#231f20" stroke-width="0.15">13</text>
<line x1="187.00" y1="650.6" x2="187.00" y2="654" stroke="#111" stroke-width="1.2"/>
<text x="187.00" y="664.2" font-size="8.7" fill="#231f20" text-anchor="middle" stroke="#231f20" stroke-width="0.15">14</text>
<text transform="translate(0.00,676.80)" x="94.16" textLength="52.12" lengthAdjust="spacingAndGlyphs" text-anchor="start" fill="#231f20" font-weight="normal"  stroke="#231f20" stroke-width="0.15"><tspan font-size="10.2">Day of process</tspan></text>
<text transform="translate(14.60,0.00) rotate(-90)" x="-627.36" textLength="54.69" lengthAdjust="spacingAndGlyphs" text-anchor="start" fill="#231f20" font-weight="normal"  stroke="#231f20" stroke-width="0.15"><tspan font-size="10.2">Fold expansion</tspan></text>
<line x1="52.60" y1="580.4" x2="52.60" y2="616" stroke="#111" stroke-width="1.2"/>
<path d="M50.40,614.6 L54.80,614.6 L52.60,620.0 Z" fill="#111" stroke="#111" stroke-width="0.5"/>
<line x1="71.80" y1="580.4" x2="71.80" y2="616" stroke="#111" stroke-width="1.2"/>
<path d="M69.60,614.6 L74.00,614.6 L71.80,620.0 Z" fill="#111" stroke="#111" stroke-width="0.5"/>
<line x1="81.40" y1="580.4" x2="81.40" y2="616" stroke="#111" stroke-width="1.2"/>
<path d="M79.20,614.6 L83.60,614.6 L81.40,620.0 Z" fill="#111" stroke="#111" stroke-width="0.5"/>
<text transform="translate(53.28,571.18) rotate(-45)" textLength="88.94" lengthAdjust="spacingAndGlyphs" text-anchor="start" fill="#231f20" font-weight="normal"  stroke="#231f20" stroke-width="0.15"><tspan font-size="9.4">T cell isolation/activation</tspan></text>
<text transform="translate(71.30,579.84) rotate(-45)" textLength="63.57" lengthAdjust="spacingAndGlyphs" text-anchor="start" fill="#231f20" font-weight="normal"  stroke="#231f20" stroke-width="0.15"><tspan font-size="9.4">CAR transduction</tspan></text>
<text transform="translate(85.91,579.17) rotate(-45)" textLength="55.07" lengthAdjust="spacingAndGlyphs" text-anchor="start" fill="#231f20" font-weight="normal"  stroke="#231f20" stroke-width="0.15"><tspan font-size="9.4">Electroporation</tspan></text>
<line x1="91.00" y1="615.30" x2="91.00" y2="617.88" stroke="#adbb85" stroke-width="1"/>
<line x1="88.10" y1="615.30" x2="93.90" y2="615.30" stroke="#adbb85" stroke-width="1.1"/>
<line x1="88.10" y1="617.88" x2="93.90" y2="617.88" stroke="#adbb85" stroke-width="1.1"/>
<line x1="119.80" y1="596.29" x2="119.80" y2="601.08" stroke="#adbb85" stroke-width="1"/>
<line x1="116.90" y1="596.29" x2="122.70" y2="596.29" stroke="#adbb85" stroke-width="1.1"/>
<line x1="116.90" y1="601.08" x2="122.70" y2="601.08" stroke="#adbb85" stroke-width="1.1"/>
<line x1="139.00" y1="581.14" x2="139.00" y2="608.09" stroke="#adbb85" stroke-width="1"/>
<line x1="136.10" y1="581.14" x2="141.90" y2="581.14" stroke="#adbb85" stroke-width="1.1"/>
<line x1="136.10" y1="608.09" x2="141.90" y2="608.09" stroke="#adbb85" stroke-width="1.1"/>
<line x1="158.20" y1="577.21" x2="158.20" y2="584.51" stroke="#adbb85" stroke-width="1"/>
<line x1="155.30" y1="577.21" x2="161.10" y2="577.21" stroke="#adbb85" stroke-width="1.1"/>
<line x1="155.30" y1="584.51" x2="161.10" y2="584.51" stroke="#adbb85" stroke-width="1.1"/>
<line x1="187.00" y1="570.36" x2="187.00" y2="586.63" stroke="#adbb85" stroke-width="1"/>
<line x1="184.10" y1="570.36" x2="189.90" y2="570.36" stroke="#adbb85" stroke-width="1.1"/>
<line x1="184.10" y1="586.63" x2="189.90" y2="586.63" stroke="#adbb85" stroke-width="1.1"/>
<line x1="91.00" y1="625.38" x2="91.00" y2="628.82" stroke="#5fa43c" stroke-width="1"/>
<line x1="88.10" y1="625.38" x2="93.90" y2="625.38" stroke="#5fa43c" stroke-width="1.1"/>
<line x1="88.10" y1="628.82" x2="93.90" y2="628.82" stroke="#5fa43c" stroke-width="1.1"/>
<line x1="119.80" y1="605.51" x2="119.80" y2="613.87" stroke="#5fa43c" stroke-width="1"/>
<line x1="116.90" y1="605.51" x2="122.70" y2="605.51" stroke="#5fa43c" stroke-width="1.1"/>
<line x1="116.90" y1="613.87" x2="122.70" y2="613.87" stroke="#5fa43c" stroke-width="1.1"/>
<line x1="139.00" y1="593.88" x2="139.00" y2="601.92" stroke="#5fa43c" stroke-width="1"/>
<line x1="136.10" y1="593.88" x2="141.90" y2="593.88" stroke="#5fa43c" stroke-width="1.1"/>
<line x1="136.10" y1="601.92" x2="141.90" y2="601.92" stroke="#5fa43c" stroke-width="1.1"/>
<line x1="158.20" y1="588.22" x2="158.20" y2="596.48" stroke="#5fa43c" stroke-width="1"/>
<line x1="155.30" y1="588.22" x2="161.10" y2="588.22" stroke="#5fa43c" stroke-width="1.1"/>
<line x1="155.30" y1="596.48" x2="161.10" y2="596.48" stroke="#5fa43c" stroke-width="1.1"/>
<line x1="187.00" y1="575.51" x2="187.00" y2="590.33" stroke="#5fa43c" stroke-width="1"/>
<line x1="184.10" y1="575.51" x2="189.90" y2="575.51" stroke="#5fa43c" stroke-width="1.1"/>
<line x1="184.10" y1="590.33" x2="189.90" y2="590.33" stroke="#5fa43c" stroke-width="1.1"/>
<line x1="91.00" y1="620.63" x2="91.00" y2="623.50" stroke="#2b4b8c" stroke-width="1"/>
<line x1="88.10" y1="620.63" x2="93.90" y2="620.63" stroke="#2b4b8c" stroke-width="1.1"/>
<line x1="88.10" y1="623.50" x2="93.90" y2="623.50" stroke="#2b4b8c" stroke-width="1.1"/>
<line x1="119.80" y1="603.07" x2="119.80" y2="607.52" stroke="#2b4b8c" stroke-width="1"/>
<line x1="116.90" y1="603.07" x2="122.70" y2="603.07" stroke="#2b4b8c" stroke-width="1.1"/>
<line x1="116.90" y1="607.52" x2="122.70" y2="607.52" stroke="#2b4b8c" stroke-width="1.1"/>
<line x1="139.00" y1="592.35" x2="139.00" y2="596.68" stroke="#2b4b8c" stroke-width="1"/>
<line x1="136.10" y1="592.35" x2="141.90" y2="592.35" stroke="#2b4b8c" stroke-width="1.1"/>
<line x1="136.10" y1="596.68" x2="141.90" y2="596.68" stroke="#2b4b8c" stroke-width="1.1"/>
<line x1="158.20" y1="586.12" x2="158.20" y2="589.61" stroke="#2b4b8c" stroke-width="1"/>
<line x1="155.30" y1="586.12" x2="161.10" y2="586.12" stroke="#2b4b8c" stroke-width="1.1"/>
<line x1="155.30" y1="589.61" x2="161.10" y2="589.61" stroke="#2b4b8c" stroke-width="1.1"/>
<line x1="187.00" y1="580.03" x2="187.00" y2="583.68" stroke="#2b4b8c" stroke-width="1"/>
<line x1="184.10" y1="580.03" x2="189.90" y2="580.03" stroke="#2b4b8c" stroke-width="1.1"/>
<line x1="184.10" y1="583.68" x2="189.90" y2="583.68" stroke="#2b4b8c" stroke-width="1.1"/>
<path d="M71.80,626.30 L81.40,626.30 L91.00,616.51 L119.80,598.41 L139.00,589.11 L158.20,581.22 L187.00,575.33" fill="none" stroke="#adbb85" stroke-width="1.0" stroke-linejoin="round"/>
<path d="M71.80,626.30 L81.40,626.30 L91.00,626.96 L119.80,608.28 L139.00,596.81 L158.20,590.97 L187.00,581.54" fill="none" stroke="#5fa43c" stroke-width="1.0" stroke-linejoin="round"/>
<path d="M71.80,626.30 L81.40,626.30 L91.00,621.97 L119.80,605.06 L139.00,594.29 L158.20,587.72 L187.00,581.54" fill="none" stroke="#2b4b8c" stroke-width="1.0" stroke-linejoin="round"/>
<path d="M71.80,623.00 L75.00,628.90 L68.60,628.90 Z" fill="#5fa43c"/>
<path d="M81.40,623.00 L84.60,628.90 L78.20,628.90 Z" fill="#5fa43c"/>
<path d="M91.00,623.66 L94.20,629.56 L87.80,629.56 Z" fill="#5fa43c"/>
<path d="M119.80,604.98 L123.00,610.88 L116.60,610.88 Z" fill="#5fa43c"/>
<path d="M139.00,593.51 L142.20,599.41 L135.80,599.41 Z" fill="#5fa43c"/>
<path d="M158.20,587.67 L161.40,593.57 L155.00,593.57 Z" fill="#5fa43c"/>
<path d="M187.00,578.24 L190.20,584.14 L183.80,584.14 Z" fill="#5fa43c"/>
<path d="M71.80,623.20 L74.90,626.30 L71.80,629.40 L68.70,626.30 Z" fill="#2b4b8c"/>
<path d="M81.40,623.20 L84.50,626.30 L81.40,629.40 L78.30,626.30 Z" fill="#2b4b8c"/>
<path d="M91.00,618.87 L94.10,621.97 L91.00,625.07 L87.90,621.97 Z" fill="#2b4b8c"/>
<path d="M119.80,601.96 L122.90,605.06 L119.80,608.16 L116.70,605.06 Z" fill="#2b4b8c"/>
<path d="M139.00,591.19 L142.10,594.29 L139.00,597.39 L135.90,594.29 Z" fill="#2b4b8c"/>
<path d="M158.20,584.62 L161.30,587.72 L158.20,590.82 L155.10,587.72 Z" fill="#2b4b8c"/>
<path d="M187.00,578.44 L190.10,581.54 L187.00,584.64 L183.90,581.54 Z" fill="#2b4b8c"/>
<rect x="68.60" y="623.10" width="6.4" height="6.4" fill="#adbb85"/>
<rect x="78.20" y="623.10" width="6.4" height="6.4" fill="#adbb85"/>
<rect x="87.80" y="613.31" width="6.4" height="6.4" fill="#adbb85"/>
<rect x="116.60" y="595.21" width="6.4" height="6.4" fill="#adbb85"/>
<rect x="135.80" y="585.91" width="6.4" height="6.4" fill="#adbb85"/>
<rect x="155.00" y="578.02" width="6.4" height="6.4" fill="#adbb85"/>
<rect x="183.80" y="572.13" width="6.4" height="6.4" fill="#adbb85"/>
<path d="M52.60,626.30 L71.80,626.30 L81.40,626.30 L91.00,616.51 L119.80,598.41 L139.00,589.11 L158.20,581.54 L187.00,570.82" fill="none" stroke="#4b5470" stroke-width="1.0" stroke-linejoin="round"/>
<circle cx="52.60" cy="626.30" r="2.9" fill="none" stroke="#5d6a92" stroke-width="1.0"/>
<circle cx="71.80" cy="626.30" r="2.9" fill="none" stroke="#4b5470" stroke-width="1.0"/>
<circle cx="81.40" cy="626.30" r="2.9" fill="none" stroke="#4b5470" stroke-width="1.0"/>
<circle cx="91.00" cy="616.51" r="2.9" fill="none" stroke="#4b5470" stroke-width="1.0"/>
<circle cx="119.80" cy="598.41" r="2.9" fill="none" stroke="#4b5470" stroke-width="1.0"/>
<circle cx="139.00" cy="589.11" r="2.9" fill="none" stroke="#4b5470" stroke-width="1.0"/>
<circle cx="158.20" cy="581.54" r="2.9" fill="none" stroke="#4b5470" stroke-width="1.0"/>
<circle cx="187.00" cy="570.82" r="2.9" fill="none" stroke="#4b5470" stroke-width="1.0"/>
<line x1="216.6" y1="563.0" x2="227.3" y2="563.0" stroke="#4b5470" stroke-width="1.1"/>
<circle cx="222.00" cy="563.00" r="2.9" fill="none" stroke="#4b5470" stroke-width="1.0"/>
<line x1="216.6" y1="580.6" x2="227.3" y2="580.6" stroke="#adbb85" stroke-width="1.1"/>
<rect x="217.9" y="577.10" width="8.2" height="7.0" fill="#adbb85"/>
<line x1="216.6" y1="598.4" x2="227.3" y2="598.4" stroke="#5fa43c" stroke-width="1.1"/>
<path d="M222.00,595.10 L225.20,601.00 L218.80,601.00 Z" fill="#5fa43c"/>
<line x1="216.6" y1="615.8" x2="227.3" y2="615.8" stroke="#2b4b8c" stroke-width="1.1"/>
<path d="M222.00,612.70 L225.10,615.80 L222.00,618.90 L218.90,615.80 Z" fill="#2b4b8c"/>
<text transform="translate(0.00,565.50)" x="233.32" textLength="55.15" lengthAdjust="spacingAndGlyphs" text-anchor="start" fill="#231f20" font-weight="normal"  stroke="#231f20" stroke-width="0.15"><tspan font-size="8.8">Untransduced</tspan></text>
<text transform="translate(0.00,582.90)" x="233.54" textLength="51.98" lengthAdjust="spacingAndGlyphs" text-anchor="start" fill="#231f20" font-weight="normal"  stroke="#231f20" stroke-width="0.15"><tspan font-size="6.3" dy="1.98">RV</tspan><tspan font-size="9.0" dy="-1.98">19BB_TCR</tspan><tspan font-size="7.38" dy="-2.52">+</tspan></text>
<text transform="translate(0.00,600.80)" x="233.53" textLength="56.70" lengthAdjust="spacingAndGlyphs" text-anchor="start" fill="#231f20" font-weight="normal"  stroke="#231f20" stroke-width="0.15"><tspan font-size="6.3" dy="1.98">RV</tspan><tspan font-size="9.0" dy="-1.98">19BB</tspan><tspan font-size="6.3" dy="1.98">CR</tspan><tspan font-size="9.0" dy="-1.98">TCR</tspan><tspan font-size="7.38" dy="-2.52">+</tspan></text>
<text transform="translate(0.00,616.90)" x="233.54" textLength="60.06" lengthAdjust="spacingAndGlyphs" text-anchor="start" fill="#231f20" font-weight="normal"  stroke="#231f20" stroke-width="0.15"><tspan font-size="6.3" dy="1.98">RV</tspan><tspan font-size="9.0" dy="-1.98">19BB</tspan><tspan font-size="6.3" dy="1.98">CR</tspan><tspan font-size="9.0" dy="-1.98">TRBC</tspan><tspan font-size="7.38" dy="-2.52">-</tspan></text>
<rect x="0.5" y="0.5" width="519" height="685" fill="none" stroke="#000" stroke-width="1.2"/>
</svg>
</body></html>
